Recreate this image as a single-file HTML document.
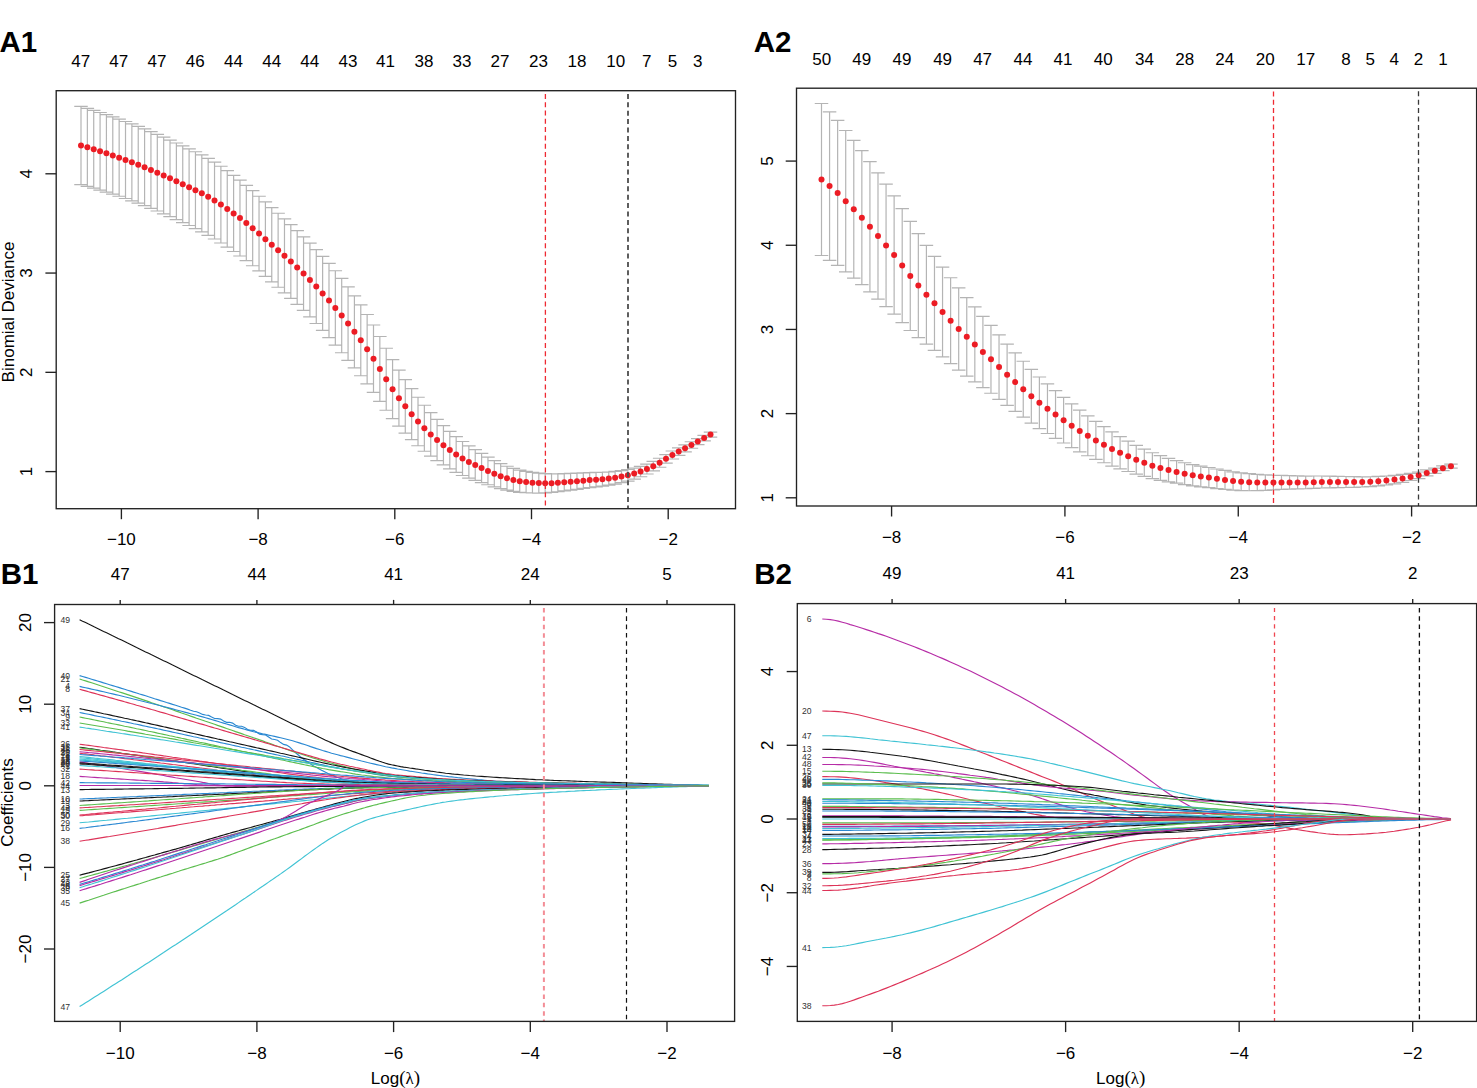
<!DOCTYPE html>
<html><head><meta charset="utf-8"><title>LASSO</title>
<style>html,body{margin:0;padding:0;background:#fff;width:1477px;height:1088px;overflow:hidden}svg{display:block}</style>
</head><body>
<svg width="1477" height="1088" viewBox="0 0 1477 1088" font-family="Liberation Sans, sans-serif">
<rect width="1477" height="1088" fill="#fff"/>
<text x="-0.5" y="52" font-size="29.5" text-anchor="start" fill="#000" font-weight="bold">A1</text>
<text x="753.8" y="52" font-size="29.5" text-anchor="start" fill="#000" font-weight="bold">A2</text>
<text x="0.8" y="584.4" font-size="29.5" text-anchor="start" fill="#000" font-weight="bold">B1</text>
<text x="754.2" y="584.2" font-size="29.5" text-anchor="start" fill="#000" font-weight="bold">B2</text>
<path d="M81 106.3V184.7M74.25 106.3h13.5M74.25 184.7h13.5M87.36 108.31V186.41M80.61 108.31h13.5M80.61 186.41h13.5M93.72 110.39V188.2M86.97 110.39h13.5M86.97 188.2h13.5M100.08 112.52V190.07M93.33 112.52h13.5M93.33 190.07h13.5M106.43 114.69V192.04M99.68 114.69h13.5M99.68 192.04h13.5M112.79 116.9V194.1M106.04 116.9h13.5M106.04 194.1h13.5M119.15 119.15V196.25M112.4 119.15h13.5M112.4 196.25h13.5M125.51 121.48V198.49M118.76 121.48h13.5M118.76 198.49h13.5M131.87 123.88V200.8M125.12 123.88h13.5M125.12 200.8h13.5M138.23 126.36V203.2M131.48 126.36h13.5M131.48 203.2h13.5M144.59 128.91V205.69M137.84 128.91h13.5M137.84 205.69h13.5M150.94 131.57V208.28M144.19 131.57h13.5M144.19 208.28h13.5M157.3 134.33V210.99M150.55 134.33h13.5M150.55 210.99h13.5M163.66 137.17V213.8M156.91 137.17h13.5M156.91 213.8h13.5M170.02 140.07V216.67M163.27 140.07h13.5M163.27 216.67h13.5M176.38 143V219.6M169.63 143h13.5M169.63 219.6h13.5M182.74 145.9V222.54M175.99 145.9h13.5M175.99 222.54h13.5M189.1 148.78V225.52M182.35 148.78h13.5M182.35 225.52h13.5M195.45 151.74V228.6M188.7 151.74h13.5M188.7 228.6h13.5M201.81 154.88V231.84M195.06 154.88h13.5M195.06 231.84h13.5M208.17 158.3V235.3M201.42 158.3h13.5M201.42 235.3h13.5M214.53 162.09V239.02M207.78 162.09h13.5M207.78 239.02h13.5M220.89 166.23V242.99M214.14 166.23h13.5M214.14 242.99h13.5M227.25 170.67V247.17M220.5 170.67h13.5M220.5 247.17h13.5M233.61 175.35V251.52M226.86 175.35h13.5M226.86 251.52h13.5M239.97 180.2V256M233.22 180.2h13.5M233.22 256h13.5M246.32 185.3V260.72M239.57 185.3h13.5M239.57 260.72h13.5M252.68 190.69V265.73M245.93 190.69h13.5M245.93 265.73h13.5M259.04 196.27V270.97M252.29 196.27h13.5M252.29 270.97h13.5M265.4 201.94V276.35M258.65 201.94h13.5M258.65 276.35h13.5M271.76 207.6V281.8M265.01 207.6h13.5M265.01 281.8h13.5M278.12 213.23V287.27M271.37 213.23h13.5M271.37 287.27h13.5M284.48 218.91V292.79M277.73 218.91h13.5M277.73 292.79h13.5M290.83 224.7V298.44M284.08 224.7h13.5M284.08 298.44h13.5M297.19 230.65V304.28M290.44 230.65h13.5M290.44 304.28h13.5M303.55 236.8V310.4M296.8 236.8h13.5M296.8 310.4h13.5M309.91 243.15V316.81M303.16 243.15h13.5M303.16 316.81h13.5M316.27 249.69V323.5M309.52 249.69h13.5M309.52 323.5h13.5M322.63 256.44V330.44M315.88 256.44h13.5M315.88 330.44h13.5M328.99 263.44V337.64M322.24 263.44h13.5M322.24 337.64h13.5M335.34 270.73V345.07M328.59 270.73h13.5M328.59 345.07h13.5M341.7 278.36V352.76M334.95 278.36h13.5M334.95 352.76h13.5M348.06 286.78V360.29M341.31 286.78h13.5M341.31 360.29h13.5M354.42 295.81V367.81M347.67 295.81h13.5M347.67 367.81h13.5M360.78 304.97V375.76M354.03 304.97h13.5M354.03 375.76h13.5M367.14 314.5V383.9M360.39 314.5h13.5M360.39 383.9h13.5M373.5 325V392.4M366.75 325h13.5M366.75 392.4h13.5M379.85 336.48V401.33M373.1 336.48h13.5M373.1 401.33h13.5M386.21 348.26V410.26M379.46 348.26h13.5M379.46 410.26h13.5M392.57 359.72V418.69M385.82 359.72h13.5M385.82 418.69h13.5M398.93 370.2V426.2M392.18 370.2h13.5M392.18 426.2h13.5M405.29 379.65V433.09M398.54 379.65h13.5M398.54 433.09h13.5M411.65 388.66V439.66M404.9 388.66h13.5M404.9 439.66h13.5M418.01 397.25V445.73M411.26 397.25h13.5M411.26 445.73h13.5M424.36 405.26V451.26M417.61 405.26h13.5M417.61 451.26h13.5M430.72 412.58V456.22M423.97 412.58h13.5M423.97 456.22h13.5M437.08 419.31V460.71M430.33 419.31h13.5M430.33 460.71h13.5M443.44 425.58V464.91M436.69 425.58h13.5M436.69 464.91h13.5M449.8 431.39V468.79M443.05 431.39h13.5M443.05 468.79h13.5M456.16 436.69V472.34M449.41 436.69h13.5M449.41 472.34h13.5M462.52 441.5V475.5M455.77 441.5h13.5M455.77 475.5h13.5M468.87 445.8V478.16M462.12 445.8h13.5M462.12 478.16h13.5M475.23 449.71V480.42M468.48 449.71h13.5M468.48 480.42h13.5M481.59 453.45V482.55M474.84 453.45h13.5M474.84 482.55h13.5M487.95 457.18V484.76M481.2 457.18h13.5M481.2 484.76h13.5M494.31 460.71V486.9M487.56 460.71h13.5M487.56 486.9h13.5M500.67 463.7V488.7M493.92 463.7h13.5M493.92 488.7h13.5M507.03 466.23V490.2M500.28 466.23h13.5M500.28 490.2h13.5M513.38 468.44V491.47M506.63 468.44h13.5M506.63 491.47h13.5M519.74 470.11V492.29M512.99 470.11h13.5M512.99 492.29h13.5M526.1 471.35V492.73M519.35 471.35h13.5M519.35 492.73h13.5M532.46 472.38V493M525.71 472.38h13.5M525.71 493h13.5M538.82 473.15V493.05M532.07 473.15h13.5M532.07 493.05h13.5M545.18 473.7V492.9M538.43 473.7h13.5M538.43 492.9h13.5M551.54 473.89V492.41M544.79 473.89h13.5M544.79 492.41h13.5M557.89 473.83V491.73M551.14 473.83h13.5M551.14 491.73h13.5M564.25 473.64V490.94M557.5 473.64h13.5M557.5 490.94h13.5M570.61 473.44V490.16M563.86 473.44h13.5M563.86 490.16h13.5M576.97 473.2V489.35M570.22 473.2h13.5M570.22 489.35h13.5M583.33 472.89V488.46M576.58 472.89h13.5M576.58 488.46h13.5M589.69 472.6V487.6M582.94 472.6h13.5M582.94 487.6h13.5M596.05 472.42V486.83M589.3 472.42h13.5M589.3 486.83h13.5M602.41 472.26V486.09M595.66 472.26h13.5M595.66 486.09h13.5M608.76 471.98V485.22M602.01 471.98h13.5M602.01 485.22h13.5M615.12 471.4V484.06M608.37 471.4h13.5M608.37 484.06h13.5M621.48 470.55V482.65M614.73 470.55h13.5M614.73 482.65h13.5M627.84 469.49V481.03M621.09 469.49h13.5M621.09 481.03h13.5M634.2 468.1V479.1M627.45 468.1h13.5M627.45 479.1h13.5M640.56 466.29V476.76M633.81 466.29h13.5M633.81 476.76h13.5M646.92 464.05V474.02M640.17 464.05h13.5M640.17 474.02h13.5M653.27 461.46V470.94M646.52 461.46h13.5M646.52 470.94h13.5M659.63 458.27V467.25M652.88 458.27h13.5M652.88 467.25h13.5M665.99 454.56V463.06M659.24 454.56h13.5M659.24 463.06h13.5M672.35 451V459M665.6 451h13.5M665.6 459h13.5M678.71 447.85V455.35M671.96 447.85h13.5M671.96 455.35h13.5M685.07 444.82V451.82M678.32 444.82h13.5M678.32 451.82h13.5M691.43 441.75V448.25M684.68 441.75h13.5M684.68 448.25h13.5M697.78 438.58V444.58M691.03 438.58h13.5M691.03 444.58h13.5M704.14 435.36V440.86M697.39 435.36h13.5M697.39 440.86h13.5M710.5 432.1V437.1M703.75 432.1h13.5M703.75 437.1h13.5" stroke="#b4b4b4" stroke-width="1.2" fill="none"/>
<g fill="#ec1c24"><circle cx="81" cy="145.5" r="3"/><circle cx="87.36" cy="147.36" r="3"/><circle cx="93.72" cy="149.29" r="3"/><circle cx="100.08" cy="151.29" r="3"/><circle cx="106.43" cy="153.37" r="3"/><circle cx="112.79" cy="155.5" r="3"/><circle cx="119.15" cy="157.7" r="3"/><circle cx="125.51" cy="159.98" r="3"/><circle cx="131.87" cy="162.34" r="3"/><circle cx="138.23" cy="164.78" r="3"/><circle cx="144.59" cy="167.3" r="3"/><circle cx="150.94" cy="169.92" r="3"/><circle cx="157.3" cy="172.66" r="3"/><circle cx="163.66" cy="175.48" r="3"/><circle cx="170.02" cy="178.37" r="3"/><circle cx="176.38" cy="181.3" r="3"/><circle cx="182.74" cy="184.22" r="3"/><circle cx="189.1" cy="187.15" r="3"/><circle cx="195.45" cy="190.17" r="3"/><circle cx="201.81" cy="193.36" r="3"/><circle cx="208.17" cy="196.8" r="3"/><circle cx="214.53" cy="200.55" r="3"/><circle cx="220.89" cy="204.61" r="3"/><circle cx="227.25" cy="208.92" r="3"/><circle cx="233.61" cy="213.43" r="3"/><circle cx="239.97" cy="218.1" r="3"/><circle cx="246.32" cy="223.01" r="3"/><circle cx="252.68" cy="228.21" r="3"/><circle cx="259.04" cy="233.62" r="3"/><circle cx="265.4" cy="239.14" r="3"/><circle cx="271.76" cy="244.7" r="3"/><circle cx="278.12" cy="250.25" r="3"/><circle cx="284.48" cy="255.85" r="3"/><circle cx="290.83" cy="261.57" r="3"/><circle cx="297.19" cy="267.47" r="3"/><circle cx="303.55" cy="273.6" r="3"/><circle cx="309.91" cy="279.98" r="3"/><circle cx="316.27" cy="286.59" r="3"/><circle cx="322.63" cy="293.44" r="3"/><circle cx="328.99" cy="300.54" r="3"/><circle cx="335.34" cy="307.9" r="3"/><circle cx="341.7" cy="315.56" r="3"/><circle cx="348.06" cy="323.53" r="3"/><circle cx="354.42" cy="331.81" r="3"/><circle cx="360.78" cy="340.37" r="3"/><circle cx="367.14" cy="349.2" r="3"/><circle cx="373.5" cy="358.7" r="3"/><circle cx="379.85" cy="368.91" r="3"/><circle cx="386.21" cy="379.26" r="3"/><circle cx="392.57" cy="389.21" r="3"/><circle cx="398.93" cy="398.2" r="3"/><circle cx="405.29" cy="406.37" r="3"/><circle cx="411.65" cy="414.16" r="3"/><circle cx="418.01" cy="421.49" r="3"/><circle cx="424.36" cy="428.26" r="3"/><circle cx="430.72" cy="434.4" r="3"/><circle cx="437.08" cy="440.01" r="3"/><circle cx="443.44" cy="445.25" r="3"/><circle cx="449.8" cy="450.09" r="3"/><circle cx="456.16" cy="454.51" r="3"/><circle cx="462.52" cy="458.5" r="3"/><circle cx="468.87" cy="461.98" r="3"/><circle cx="475.23" cy="465.07" r="3"/><circle cx="481.59" cy="468" r="3"/><circle cx="487.95" cy="470.97" r="3"/><circle cx="494.31" cy="473.81" r="3"/><circle cx="500.67" cy="476.2" r="3"/><circle cx="507.03" cy="478.21" r="3"/><circle cx="513.38" cy="479.96" r="3"/><circle cx="519.74" cy="481.2" r="3"/><circle cx="526.1" cy="482.04" r="3"/><circle cx="532.46" cy="482.69" r="3"/><circle cx="538.82" cy="483.1" r="3"/><circle cx="545.18" cy="483.3" r="3"/><circle cx="551.54" cy="483.15" r="3"/><circle cx="557.89" cy="482.78" r="3"/><circle cx="564.25" cy="482.29" r="3"/><circle cx="570.61" cy="481.8" r="3"/><circle cx="576.97" cy="481.27" r="3"/><circle cx="583.33" cy="480.68" r="3"/><circle cx="589.69" cy="480.1" r="3"/><circle cx="596.05" cy="479.63" r="3"/><circle cx="602.41" cy="479.17" r="3"/><circle cx="608.76" cy="478.6" r="3"/><circle cx="615.12" cy="477.73" r="3"/><circle cx="621.48" cy="476.6" r="3"/><circle cx="627.84" cy="475.26" r="3"/><circle cx="634.2" cy="473.6" r="3"/><circle cx="640.56" cy="471.53" r="3"/><circle cx="646.92" cy="469.03" r="3"/><circle cx="653.27" cy="466.2" r="3"/><circle cx="659.63" cy="462.76" r="3"/><circle cx="665.99" cy="458.81" r="3"/><circle cx="672.35" cy="455" r="3"/><circle cx="678.71" cy="451.6" r="3"/><circle cx="685.07" cy="448.32" r="3"/><circle cx="691.43" cy="445" r="3"/><circle cx="697.78" cy="441.58" r="3"/><circle cx="704.14" cy="438.11" r="3"/><circle cx="710.5" cy="434.6" r="3"/></g>
<line x1="545.4" y1="93.9" x2="545.4" y2="508.7" stroke="#ee2a33" stroke-width="1.3" stroke-dasharray="5 3.3"/>
<line x1="628" y1="93.9" x2="628" y2="508.7" stroke="#4d4d4d" stroke-width="1.8" stroke-dasharray="5 3.4"/>
<rect x="56.2" y="90.7" width="679.3" height="418" fill="none" stroke="#222" stroke-width="1.35"/>
<line x1="121.4" y1="508.7" x2="121.4" y2="519.2" stroke="#222" stroke-width="1.35"/>
<text x="121.4" y="545" font-size="17" text-anchor="middle" fill="#000">−10</text>
<line x1="258.1" y1="508.7" x2="258.1" y2="519.2" stroke="#222" stroke-width="1.35"/>
<text x="258.1" y="545" font-size="17" text-anchor="middle" fill="#000">−8</text>
<line x1="394.8" y1="508.7" x2="394.8" y2="519.2" stroke="#222" stroke-width="1.35"/>
<text x="394.8" y="545" font-size="17" text-anchor="middle" fill="#000">−6</text>
<line x1="531.5" y1="508.7" x2="531.5" y2="519.2" stroke="#222" stroke-width="1.35"/>
<text x="531.5" y="545" font-size="17" text-anchor="middle" fill="#000">−4</text>
<line x1="668.2" y1="508.7" x2="668.2" y2="519.2" stroke="#222" stroke-width="1.35"/>
<text x="668.2" y="545" font-size="17" text-anchor="middle" fill="#000">−2</text>
<line x1="45.4" y1="471.6" x2="56.2" y2="471.6" stroke="#222" stroke-width="1.35"/>
<text transform="translate(32,471.6) rotate(-90)" font-size="17" text-anchor="middle" fill="#000">1</text>
<line x1="45.4" y1="372.33" x2="56.2" y2="372.33" stroke="#222" stroke-width="1.35"/>
<text transform="translate(32,372.33) rotate(-90)" font-size="17" text-anchor="middle" fill="#000">2</text>
<line x1="45.4" y1="273.06" x2="56.2" y2="273.06" stroke="#222" stroke-width="1.35"/>
<text transform="translate(32,273.06) rotate(-90)" font-size="17" text-anchor="middle" fill="#000">3</text>
<line x1="45.4" y1="173.79" x2="56.2" y2="173.79" stroke="#222" stroke-width="1.35"/>
<text transform="translate(32,173.79) rotate(-90)" font-size="17" text-anchor="middle" fill="#000">4</text>
<text transform="translate(14,312) rotate(-90)" font-size="17" text-anchor="middle" fill="#000">Binomial Deviance</text>
<text x="80.7" y="66.9" font-size="17" text-anchor="middle" fill="#000">47</text>
<text x="118.8" y="66.9" font-size="17" text-anchor="middle" fill="#000">47</text>
<text x="156.9" y="66.9" font-size="17" text-anchor="middle" fill="#000">47</text>
<text x="195.2" y="66.9" font-size="17" text-anchor="middle" fill="#000">46</text>
<text x="233.4" y="66.9" font-size="17" text-anchor="middle" fill="#000">44</text>
<text x="271.7" y="66.9" font-size="17" text-anchor="middle" fill="#000">44</text>
<text x="309.8" y="66.9" font-size="17" text-anchor="middle" fill="#000">44</text>
<text x="348" y="66.9" font-size="17" text-anchor="middle" fill="#000">43</text>
<text x="385.5" y="66.9" font-size="17" text-anchor="middle" fill="#000">41</text>
<text x="424" y="66.9" font-size="17" text-anchor="middle" fill="#000">38</text>
<text x="462" y="66.9" font-size="17" text-anchor="middle" fill="#000">33</text>
<text x="500" y="66.9" font-size="17" text-anchor="middle" fill="#000">27</text>
<text x="538.5" y="66.9" font-size="17" text-anchor="middle" fill="#000">23</text>
<text x="577" y="66.9" font-size="17" text-anchor="middle" fill="#000">18</text>
<text x="615.8" y="66.9" font-size="17" text-anchor="middle" fill="#000">10</text>
<text x="646.7" y="66.9" font-size="17" text-anchor="middle" fill="#000">7</text>
<text x="672.4" y="66.9" font-size="17" text-anchor="middle" fill="#000">5</text>
<text x="697.8" y="66.9" font-size="17" text-anchor="middle" fill="#000">3</text>
<path d="M821.5 103.5V255.5M814.75 103.5h13.5M814.75 255.5h13.5M829.57 111.82V260.38M822.82 111.82h13.5M822.82 260.38h13.5M837.64 120.38V265.42M830.89 120.38h13.5M830.89 265.42h13.5M845.71 130.48V271.92M838.96 130.48h13.5M838.96 271.92h13.5M853.78 140.32V278.08M847.03 140.32h13.5M847.03 278.08h13.5M861.85 150.7V284.7M855.1 150.7h13.5M855.1 284.7h13.5M869.92 161.7V291.9M863.17 161.7h13.5M863.17 291.9h13.5M877.99 172.81V299.19M871.24 172.81h13.5M871.24 299.19h13.5M886.06 184.18V306.62M879.31 184.18h13.5M879.31 306.62h13.5M894.13 195.84V314.16M887.38 195.84h13.5M887.38 314.16h13.5M902.2 208.6V322.6M895.45 208.6h13.5M895.45 322.6h13.5M910.27 221.31V330.49M903.52 221.31h13.5M903.52 330.49h13.5M918.34 233.63V337.57M911.59 233.63h13.5M911.59 337.57h13.5M926.41 245.34V344.06M919.66 245.34h13.5M919.66 344.06h13.5M934.48 256.3V350.3M927.73 256.3h13.5M927.73 350.3h13.5M942.55 267.09V356.91M935.8 267.09h13.5M935.8 356.91h13.5M950.62 277.76V363.64M943.87 277.76h13.5M943.87 363.64h13.5M958.69 287.92V370.08M951.94 287.92h13.5M951.94 370.08h13.5M966.76 297.53V376.07M960.01 297.53h13.5M960.01 376.07h13.5M974.83 306.9V381.9M968.08 306.9h13.5M968.08 381.9h13.5M982.9 316.29V387.71M976.15 316.29h13.5M976.15 387.71h13.5M990.97 325.37V393.23M984.22 325.37h13.5M984.22 393.23h13.5M999.04 334.89V399.31M992.29 334.89h13.5M992.29 399.31h13.5M1007.11 344.08V405.32M1000.36 344.08h13.5M1000.36 405.32h13.5M1015.18 352.9V411.3M1008.43 352.9h13.5M1008.43 411.3h13.5M1023.25 361.24V417.16M1016.5 361.24h13.5M1016.5 417.16h13.5M1031.32 369.46V423.14M1024.57 369.46h13.5M1024.57 423.14h13.5M1039.39 377V428.6M1032.64 377h13.5M1032.64 428.6h13.5M1047.46 383.9V433.5M1040.71 383.9h13.5M1040.71 433.5h13.5M1055.53 390.7V438.3M1048.78 390.7h13.5M1048.78 438.3h13.5M1063.6 397.4V443M1056.85 397.4h13.5M1056.85 443h13.5M1071.67 403.87V447.53M1064.92 403.87h13.5M1064.92 447.53h13.5M1079.74 410.12V451.88M1072.99 410.12h13.5M1072.99 451.88h13.5M1087.81 415.86V455.74M1081.06 415.86h13.5M1081.06 455.74h13.5M1095.88 421.4V459.4M1089.13 421.4h13.5M1089.13 459.4h13.5M1103.95 426.66V462.74M1097.2 426.66h13.5M1097.2 462.74h13.5M1112.02 431.94V466.06M1105.27 431.94h13.5M1105.27 466.06h13.5M1120.09 436.7V468.9M1113.34 436.7h13.5M1113.34 468.9h13.5M1128.16 441.1V471.5M1121.41 441.1h13.5M1121.41 471.5h13.5M1136.23 445.3V474.1M1129.48 445.3h13.5M1129.48 474.1h13.5M1144.3 449.03V476.37M1137.55 449.03h13.5M1137.55 476.37h13.5M1152.37 452.73V478.67M1145.62 452.73h13.5M1145.62 478.67h13.5M1160.44 455.67V480.33M1153.69 455.67h13.5M1153.69 480.33h13.5M1168.51 458.34V481.86M1161.76 458.34h13.5M1161.76 481.86h13.5M1176.58 460.6V483.2M1169.83 460.6h13.5M1169.83 483.2h13.5M1184.65 462.77V484.63M1177.9 462.77h13.5M1177.9 484.63h13.5M1192.72 464.67V485.93M1185.97 464.67h13.5M1185.97 485.93h13.5M1200.79 466.14V486.86M1194.04 466.14h13.5M1194.04 486.86h13.5M1208.86 467.51V487.69M1202.11 467.51h13.5M1202.11 487.69h13.5M1216.93 469V488.6M1210.18 469h13.5M1210.18 488.6h13.5M1225 470.41V489.39M1218.25 470.41h13.5M1218.25 489.39h13.5M1233.07 471.81V490.19M1226.32 471.81h13.5M1226.32 490.19h13.5M1241.14 472.83V490.57M1234.39 472.83h13.5M1234.39 490.57h13.5M1249.21 473.65V490.75M1242.46 473.65h13.5M1242.46 490.75h13.5M1257.28 474.3V490.7M1250.53 474.3h13.5M1250.53 490.7h13.5M1265.35 474.81V490.39M1258.6 474.81h13.5M1258.6 490.39h13.5M1273.42 475.25V489.95M1266.67 475.25h13.5M1266.67 489.95h13.5M1281.49 475.4V489.4M1274.74 475.4h13.5M1274.74 489.4h13.5M1289.56 475.65V489.15M1282.81 475.65h13.5M1282.81 489.15h13.5M1297.63 475.86V488.94M1290.88 475.86h13.5M1290.88 488.94h13.5M1305.7 476.05V488.75M1298.95 476.05h13.5M1298.95 488.75h13.5M1313.77 476.02V488.38M1307.02 476.02h13.5M1307.02 488.38h13.5M1321.84 476V488M1315.09 476h13.5M1315.09 488h13.5M1329.91 476.18V487.82M1323.16 476.18h13.5M1323.16 487.82h13.5M1337.98 476.35V487.65M1331.23 476.35h13.5M1331.23 487.65h13.5M1346.05 476.52V487.48M1339.3 476.52h13.5M1339.3 487.48h13.5M1354.12 476.7V487.3M1347.37 476.7h13.5M1347.37 487.3h13.5M1362.19 476.78V487.01M1355.44 476.78h13.5M1355.44 487.01h13.5M1370.26 476.77V486.63M1363.51 476.77h13.5M1363.51 486.63h13.5M1378.33 476.47V485.93M1371.58 476.47h13.5M1371.58 485.93h13.5M1386.4 476V485M1379.65 476h13.5M1379.65 485h13.5M1394.47 475.36V483.84M1387.72 475.36h13.5M1387.72 483.84h13.5M1402.54 474.46V482.34M1395.79 474.46h13.5M1395.79 482.34h13.5M1410.61 473.28V480.52M1403.86 473.28h13.5M1403.86 480.52h13.5M1418.68 472V478.6M1411.93 472h13.5M1411.93 478.6h13.5M1426.75 469.92V475.88M1420 469.92h13.5M1420 475.88h13.5M1434.82 468.04V473.36M1428.07 468.04h13.5M1428.07 473.36h13.5M1442.89 465.97V470.63M1436.14 465.97h13.5M1436.14 470.63h13.5M1450.96 464.2V468.2M1444.21 464.2h13.5M1444.21 468.2h13.5" stroke="#b4b4b4" stroke-width="1.2" fill="none"/>
<g fill="#ec1c24"><circle cx="821.5" cy="179.5" r="3"/><circle cx="829.57" cy="186.1" r="3"/><circle cx="837.64" cy="192.9" r="3"/><circle cx="845.71" cy="201.2" r="3"/><circle cx="853.78" cy="209.2" r="3"/><circle cx="861.85" cy="217.7" r="3"/><circle cx="869.92" cy="226.8" r="3"/><circle cx="877.99" cy="236" r="3"/><circle cx="886.06" cy="245.4" r="3"/><circle cx="894.13" cy="255" r="3"/><circle cx="902.2" cy="265.6" r="3"/><circle cx="910.27" cy="275.9" r="3"/><circle cx="918.34" cy="285.6" r="3"/><circle cx="926.41" cy="294.7" r="3"/><circle cx="934.48" cy="303.3" r="3"/><circle cx="942.55" cy="312" r="3"/><circle cx="950.62" cy="320.7" r="3"/><circle cx="958.69" cy="329" r="3"/><circle cx="966.76" cy="336.8" r="3"/><circle cx="974.83" cy="344.4" r="3"/><circle cx="982.9" cy="352" r="3"/><circle cx="990.97" cy="359.3" r="3"/><circle cx="999.04" cy="367.1" r="3"/><circle cx="1007.11" cy="374.7" r="3"/><circle cx="1015.18" cy="382.1" r="3"/><circle cx="1023.25" cy="389.2" r="3"/><circle cx="1031.32" cy="396.3" r="3"/><circle cx="1039.39" cy="402.8" r="3"/><circle cx="1047.46" cy="408.7" r="3"/><circle cx="1055.53" cy="414.5" r="3"/><circle cx="1063.6" cy="420.2" r="3"/><circle cx="1071.67" cy="425.7" r="3"/><circle cx="1079.74" cy="431" r="3"/><circle cx="1087.81" cy="435.8" r="3"/><circle cx="1095.88" cy="440.4" r="3"/><circle cx="1103.95" cy="444.7" r="3"/><circle cx="1112.02" cy="449" r="3"/><circle cx="1120.09" cy="452.8" r="3"/><circle cx="1128.16" cy="456.3" r="3"/><circle cx="1136.23" cy="459.7" r="3"/><circle cx="1144.3" cy="462.7" r="3"/><circle cx="1152.37" cy="465.7" r="3"/><circle cx="1160.44" cy="468" r="3"/><circle cx="1168.51" cy="470.1" r="3"/><circle cx="1176.58" cy="471.9" r="3"/><circle cx="1184.65" cy="473.7" r="3"/><circle cx="1192.72" cy="475.3" r="3"/><circle cx="1200.79" cy="476.5" r="3"/><circle cx="1208.86" cy="477.6" r="3"/><circle cx="1216.93" cy="478.8" r="3"/><circle cx="1225" cy="479.9" r="3"/><circle cx="1233.07" cy="481" r="3"/><circle cx="1241.14" cy="481.7" r="3"/><circle cx="1249.21" cy="482.2" r="3"/><circle cx="1257.28" cy="482.5" r="3"/><circle cx="1265.35" cy="482.6" r="3"/><circle cx="1273.42" cy="482.6" r="3"/><circle cx="1281.49" cy="482.4" r="3"/><circle cx="1289.56" cy="482.4" r="3"/><circle cx="1297.63" cy="482.4" r="3"/><circle cx="1305.7" cy="482.4" r="3"/><circle cx="1313.77" cy="482.2" r="3"/><circle cx="1321.84" cy="482" r="3"/><circle cx="1329.91" cy="482" r="3"/><circle cx="1337.98" cy="482" r="3"/><circle cx="1346.05" cy="482" r="3"/><circle cx="1354.12" cy="482" r="3"/><circle cx="1362.19" cy="481.9" r="3"/><circle cx="1370.26" cy="481.7" r="3"/><circle cx="1378.33" cy="481.2" r="3"/><circle cx="1386.4" cy="480.5" r="3"/><circle cx="1394.47" cy="479.6" r="3"/><circle cx="1402.54" cy="478.4" r="3"/><circle cx="1410.61" cy="476.9" r="3"/><circle cx="1418.68" cy="475.3" r="3"/><circle cx="1426.75" cy="472.9" r="3"/><circle cx="1434.82" cy="470.7" r="3"/><circle cx="1442.89" cy="468.3" r="3"/><circle cx="1450.96" cy="466.2" r="3"/></g>
<line x1="1273.5" y1="91.4" x2="1273.5" y2="506" stroke="#ee2a33" stroke-width="1.3" stroke-dasharray="5 3.3"/>
<line x1="1418.5" y1="91.3" x2="1418.5" y2="506" stroke="#3a3a3a" stroke-width="1.3" stroke-dasharray="5 3.4"/>
<rect x="796.5" y="88.2" width="680.1" height="417.8" fill="none" stroke="#222" stroke-width="1.35"/>
<line x1="891.58" y1="506" x2="891.58" y2="516.5" stroke="#222" stroke-width="1.35"/>
<text x="891.58" y="542.5" font-size="17" text-anchor="middle" fill="#000">−8</text>
<line x1="1064.92" y1="506" x2="1064.92" y2="516.5" stroke="#222" stroke-width="1.35"/>
<text x="1064.92" y="542.5" font-size="17" text-anchor="middle" fill="#000">−6</text>
<line x1="1238.26" y1="506" x2="1238.26" y2="516.5" stroke="#222" stroke-width="1.35"/>
<text x="1238.26" y="542.5" font-size="17" text-anchor="middle" fill="#000">−4</text>
<line x1="1411.6" y1="506" x2="1411.6" y2="516.5" stroke="#222" stroke-width="1.35"/>
<text x="1411.6" y="542.5" font-size="17" text-anchor="middle" fill="#000">−2</text>
<line x1="785.7" y1="497.8" x2="796.5" y2="497.8" stroke="#222" stroke-width="1.35"/>
<text transform="translate(773,497.8) rotate(-90)" font-size="17" text-anchor="middle" fill="#000">1</text>
<line x1="785.7" y1="413.62" x2="796.5" y2="413.62" stroke="#222" stroke-width="1.35"/>
<text transform="translate(773,413.62) rotate(-90)" font-size="17" text-anchor="middle" fill="#000">2</text>
<line x1="785.7" y1="329.44" x2="796.5" y2="329.44" stroke="#222" stroke-width="1.35"/>
<text transform="translate(773,329.44) rotate(-90)" font-size="17" text-anchor="middle" fill="#000">3</text>
<line x1="785.7" y1="245.26" x2="796.5" y2="245.26" stroke="#222" stroke-width="1.35"/>
<text transform="translate(773,245.26) rotate(-90)" font-size="17" text-anchor="middle" fill="#000">4</text>
<line x1="785.7" y1="161.08" x2="796.5" y2="161.08" stroke="#222" stroke-width="1.35"/>
<text transform="translate(773,161.08) rotate(-90)" font-size="17" text-anchor="middle" fill="#000">5</text>
<text x="821.7" y="64.6" font-size="17" text-anchor="middle" fill="#000">50</text>
<text x="861.8" y="64.6" font-size="17" text-anchor="middle" fill="#000">49</text>
<text x="902" y="64.6" font-size="17" text-anchor="middle" fill="#000">49</text>
<text x="942.6" y="64.6" font-size="17" text-anchor="middle" fill="#000">49</text>
<text x="982.6" y="64.6" font-size="17" text-anchor="middle" fill="#000">47</text>
<text x="1023" y="64.6" font-size="17" text-anchor="middle" fill="#000">44</text>
<text x="1063" y="64.6" font-size="17" text-anchor="middle" fill="#000">41</text>
<text x="1103.2" y="64.6" font-size="17" text-anchor="middle" fill="#000">40</text>
<text x="1144.4" y="64.6" font-size="17" text-anchor="middle" fill="#000">34</text>
<text x="1184.7" y="64.6" font-size="17" text-anchor="middle" fill="#000">28</text>
<text x="1224.8" y="64.6" font-size="17" text-anchor="middle" fill="#000">24</text>
<text x="1265.3" y="64.6" font-size="17" text-anchor="middle" fill="#000">20</text>
<text x="1305.8" y="64.6" font-size="17" text-anchor="middle" fill="#000">17</text>
<text x="1345.9" y="64.6" font-size="17" text-anchor="middle" fill="#000">8</text>
<text x="1370.3" y="64.6" font-size="17" text-anchor="middle" fill="#000">5</text>
<text x="1394.2" y="64.6" font-size="17" text-anchor="middle" fill="#000">4</text>
<text x="1418.4" y="64.6" font-size="17" text-anchor="middle" fill="#000">2</text>
<text x="1442.9" y="64.6" font-size="17" text-anchor="middle" fill="#000">1</text>
<g><path d="M79.6 619.7 L82.6 621.2 L85.6 622.6 L88.6 624.1 L91.6 625.5 L94.6 627 L97.6 628.4 L100.6 629.9 L103.6 631.4 L106.6 632.8 L109.6 634.3 L112.6 635.8 L115.6 637.2 L118.6 638.7 L121.6 640.1 L124.6 641.6 L127.6 643.1 L130.6 644.5 L133.6 646 L136.6 647.5 L139.6 648.9 L142.6 650.4 L145.6 651.9 L148.6 653.3 L151.6 654.8 L154.6 656.2 L157.6 657.7 L160.6 659.2 L163.6 660.7 L166.6 662.1 L169.6 663.6 L172.6 665.1 L175.6 666.5 L178.6 668 L181.6 669.5 L184.6 670.9 L187.6 672.4 L190.6 673.9 L193.6 675.4 L196.6 676.8 L199.6 678.3 L202.6 679.8 L205.6 681.2 L208.6 682.7 L211.6 684.2 L214.6 685.7 L217.6 687.1 L220.6 688.6 L223.6 690.1 L226.6 691.5 L229.6 693 L232.6 694.5 L235.6 695.9 L238.6 697.4 L241.6 698.9 L244.6 700.4 L247.6 701.8 L250.6 703.3 L253.6 704.8 L256.6 706.2 L259.6 707.7 L262.6 709.2 L265.6 710.6 L268.6 712.1 L271.6 713.6 L274.6 715.1 L277.6 716.5 L280.6 718 L283.6 719.5 L286.6 720.9 L289.6 722.4 L292.6 723.9 L295.6 725.3 L298.6 726.8 L301.6 728.3 L304.6 729.8 L307.6 731.3 L310.6 732.8 L313.6 734.3 L316.6 735.8 L319.6 737.3 L322.6 738.7 L325.6 740.2 L328.6 741.6 L331.6 742.9 L334.6 744.2 L337.6 745.5 L340.6 746.7 L343.6 747.9 L346.6 749.1 L349.6 750.3 L352.6 751.4 L355.6 752.4 L358.6 753.5 L361.6 754.6 L364.6 755.7 L367.6 756.8 L370.6 758 L373.6 759.1 L376.6 760.2 L379.6 761.3 L382.6 762.3 L385.6 763.2 L388.6 764.1 L391.6 764.8 L394.6 765.4 L397.6 766 L400.6 766.6 L403.6 767.1 L406.6 767.5 L409.6 768 L412.6 768.4 L415.6 768.9 L418.6 769.3 L421.6 769.7 L424.6 770.2 L427.6 770.6 L430.6 771.1 L433.6 771.5 L436.6 772 L439.6 772.4 L442.6 772.8 L445.6 773.2 L448.6 773.5 L451.6 773.9 L454.6 774.2 L457.6 774.4 L460.6 774.7 L463.6 775 L466.6 775.2 L469.6 775.5 L472.6 775.7 L475.6 776 L478.6 776.2 L481.6 776.4 L484.6 776.6 L487.6 776.8 L490.6 777 L493.6 777.2 L496.6 777.4 L499.6 777.6 L502.6 777.8 L505.6 777.9 L508.6 778.1 L511.6 778.3 L514.6 778.5 L517.6 778.6 L520.6 778.8 L523.6 778.9 L526.6 779.1 L529.6 779.3 L532.6 779.4 L535.6 779.6 L538.6 779.7 L541.6 779.8 L544.6 780 L547.6 780.1 L550.6 780.2 L553.6 780.4 L556.6 780.5 L559.6 780.6 L562.6 780.7 L565.6 780.8 L568.6 780.9 L571.6 781 L574.6 781.1 L577.6 781.3 L580.6 781.4 L583.6 781.5 L586.6 781.6 L589.6 781.7 L592.6 781.8 L595.6 781.9 L598.6 782 L601.6 782.1 L604.6 782.1 L607.6 782.2 L610.6 782.3 L613.6 782.4 L616.6 782.5 L619.6 782.6 L622.6 782.7 L625.6 782.8 L628.6 783 L631.6 783.1 L634.6 783.2 L637.6 783.3 L640.6 783.4 L643.6 783.5 L646.6 783.6 L649.6 783.7 L652.6 783.8 L655.6 783.9 L658.6 784 L661.6 784.1 L664.6 784.2 L667.6 784.3 L670.6 784.4 L673.6 784.5 L676.6 784.6 L679.6 784.8 L682.6 784.9 L685.6 785 L688.6 785.1 L691.6 785.2 L694.6 785.3 L697.6 785.4 L700.6 785.5 L703.6 785.6 L706.6 785.7 L709 785.8" stroke="#141414" stroke-width="1.15" fill="none"/><path d="M79.6 1006.6 L82.6 1004.7 L85.6 1002.8 L88.6 1000.9 L91.6 999 L94.6 997.1 L97.6 995.2 L100.6 993.3 L103.6 991.4 L106.6 989.5 L109.6 987.6 L112.6 985.6 L115.6 983.7 L118.6 981.8 L121.6 979.9 L124.6 977.9 L127.6 976 L130.6 974 L133.6 972.1 L136.6 970.2 L139.6 968.2 L142.6 966.3 L145.6 964.3 L148.6 962.4 L151.6 960.4 L154.6 958.4 L157.6 956.5 L160.6 954.5 L163.6 952.6 L166.6 950.6 L169.6 948.6 L172.6 946.6 L175.6 944.7 L178.6 942.7 L181.6 940.7 L184.6 938.7 L187.6 936.7 L190.6 934.8 L193.6 932.8 L196.6 930.8 L199.6 928.8 L202.6 926.8 L205.6 924.8 L208.6 922.8 L211.6 920.8 L214.6 918.8 L217.6 916.8 L220.6 914.8 L223.6 912.8 L226.6 910.8 L229.6 908.7 L232.6 906.7 L235.6 904.7 L238.6 902.6 L241.6 900.6 L244.6 898.6 L247.6 896.5 L250.6 894.5 L253.6 892.4 L256.6 890.4 L259.6 888.3 L262.6 886.3 L265.6 884.2 L268.6 882.1 L271.6 880.1 L274.6 878 L277.6 875.9 L280.6 873.9 L283.6 871.8 L286.6 869.6 L289.6 867.5 L292.6 865.3 L295.6 863 L298.6 860.8 L301.6 858.6 L304.6 856.3 L307.6 854.1 L310.6 851.9 L313.6 849.7 L316.6 847.6 L319.6 845.5 L322.6 843.4 L325.6 841.5 L328.6 839.5 L331.6 837.7 L334.6 835.9 L337.6 834.3 L340.6 832.6 L343.6 831 L346.6 829.4 L349.6 827.8 L352.6 826.3 L355.6 824.8 L358.6 823.5 L361.6 822.2 L364.6 820.9 L367.6 819.8 L370.6 818.8 L373.6 817.9 L376.6 817 L379.6 816.2 L382.6 815.4 L385.6 814.7 L388.6 814 L391.6 813.3 L394.6 812.6 L397.6 812 L400.6 811.3 L403.6 810.6 L406.6 809.9 L409.6 809.2 L412.6 808.5 L415.6 807.9 L418.6 807.2 L421.6 806.5 L424.6 805.9 L427.6 805.3 L430.6 804.7 L433.6 804.1 L436.6 803.5 L439.6 803 L442.6 802.4 L445.6 802 L448.6 801.5 L451.6 801.1 L454.6 800.7 L457.6 800.3 L460.6 799.9 L463.6 799.6 L466.6 799.2 L469.6 798.9 L472.6 798.6 L475.6 798.3 L478.6 798 L481.6 797.7 L484.6 797.4 L487.6 797.1 L490.6 796.8 L493.6 796.6 L496.6 796.3 L499.6 796 L502.6 795.8 L505.6 795.5 L508.6 795.3 L511.6 795 L514.6 794.8 L517.6 794.6 L520.6 794.4 L523.6 794.1 L526.6 793.9 L529.6 793.7 L532.6 793.5 L535.6 793.3 L538.6 793.1 L541.6 792.9 L544.6 792.8 L547.6 792.6 L550.6 792.4 L553.6 792.2 L556.6 792.1 L559.6 791.9 L562.6 791.7 L565.6 791.6 L568.6 791.4 L571.6 791.2 L574.6 791.1 L577.6 790.9 L580.6 790.8 L583.6 790.6 L586.6 790.5 L589.6 790.4 L592.6 790.2 L595.6 790.1 L598.6 789.9 L601.6 789.8 L604.6 789.7 L607.6 789.5 L610.6 789.4 L613.6 789.3 L616.6 789.2 L619.6 789 L622.6 788.9 L625.6 788.8 L628.6 788.7 L631.6 788.5 L634.6 788.4 L637.6 788.3 L640.6 788.2 L643.6 788.1 L646.6 788 L649.6 787.9 L652.6 787.7 L655.6 787.6 L658.6 787.5 L661.6 787.4 L664.6 787.3 L667.6 787.2 L670.6 787.1 L673.6 787 L676.6 786.9 L679.6 786.8 L682.6 786.7 L685.6 786.6 L688.6 786.5 L691.6 786.4 L694.6 786.3 L697.6 786.2 L700.6 786.1 L703.6 786 L706.6 785.9 L709 785.8" stroke="#40c3d4" stroke-width="1.15" fill="none"/><path d="M79.6 675.6 L82.6 676.5 L85.6 677.4 L88.6 678.3 L91.6 679.2 L94.6 680.1 L97.6 681 L100.6 681.9 L103.6 682.9 L106.6 683.8 L109.6 684.7 L112.6 685.6 L115.6 686.5 L118.6 687.4 L121.6 688.4 L124.6 689.3 L127.6 690.2 L130.6 691.1 L133.6 692.1 L136.6 693 L139.6 694 L142.6 694.9 L145.6 695.8 L148.6 696.8 L151.6 697.7 L154.6 698.7 L157.6 699.6 L160.6 700.6 L163.6 701.5 L166.6 702.5 L169.6 703.4 L172.6 704.4 L175.6 705.3 L178.6 706.3 L181.6 707.3 L184.6 708.1 L187.6 709.1 L190.6 710.3 L193.6 711.2 L196.6 711.8 L199.6 713 L202.6 714.4 L205.6 715 L208.6 715.4 L211.6 717 L214.6 718.5 L217.6 718.6 L220.6 719.1 L223.6 721.1 L226.6 722.4 L229.6 722.3 L232.6 723.1 L235.6 725.2 L238.6 726.2 L241.6 726.2 L244.6 727.4 L247.6 729.5 L250.6 730.3 L253.6 730.4 L256.6 732 L259.6 734.1 L262.6 734.6 L265.6 735 L268.6 737 L271.6 739 L274.6 739.5 L277.6 740.3 L280.6 742.6 L283.6 744.4 L286.6 745.1 L289.6 746.9 L292.6 749.9 L295.6 752.7 L298.6 755.2 L301.6 757.7 L304.6 760.1 L307.6 762.1 L310.6 764 L313.6 765.9 L316.6 767.6 L319.6 769.3 L322.6 770.8 L325.6 772.3 L328.6 773.8 L331.6 775.1 L334.6 776.4 L337.6 777.5 L340.6 778.5 L343.6 779.5 L346.6 780.4 L349.6 781.3 L352.6 782.1 L355.6 782.7 L358.6 783.2 L361.6 783.5 L364.6 783.8 L367.6 784 L370.6 784.2 L373.6 784.4 L376.6 784.6 L379.6 784.8 L382.6 784.9 L385.6 785.1 L388.6 785.2 L391.6 785.3 L394.6 785.3 L397.6 785.4 L400.6 785.4 L403.6 785.4 L406.6 785.4 L409.6 785.4 L412.6 785.4 L415.6 785.4 L418.6 785.5 L421.6 785.5 L424.6 785.5 L427.6 785.5 L430.6 785.5 L433.6 785.5 L436.6 785.5 L439.6 785.5 L442.6 785.5 L445.6 785.5 L448.6 785.5 L451.6 785.5 L454.6 785.6 L457.6 785.6 L460.6 785.6 L463.6 785.6 L466.6 785.6 L469.6 785.6 L472.6 785.6 L475.6 785.6 L478.6 785.6 L481.6 785.6 L484.6 785.6 L487.6 785.6 L490.6 785.6 L493.6 785.6 L496.6 785.6 L499.6 785.6 L502.6 785.7 L505.6 785.7 L508.6 785.7 L511.6 785.7 L514.6 785.7 L517.6 785.7 L520.6 785.7 L523.6 785.7 L526.6 785.7 L529.6 785.7 L532.6 785.7 L535.6 785.7 L538.6 785.7 L541.6 785.7 L544.6 785.7 L547.6 785.7 L550.6 785.7 L553.6 785.7 L556.6 785.7 L559.6 785.7 L562.6 785.7 L565.6 785.7 L568.6 785.7 L571.6 785.7 L574.6 785.7 L577.6 785.8 L580.6 785.8 L583.6 785.8 L586.6 785.8 L589.6 785.8 L592.6 785.8 L595.6 785.8 L598.6 785.8 L601.6 785.8 L604.6 785.8 L607.6 785.8 L610.6 785.8 L613.6 785.8 L616.6 785.8 L619.6 785.8 L622.6 785.8 L625.6 785.8 L628.6 785.8 L631.6 785.8 L634.6 785.8 L637.6 785.8 L640.6 785.8 L643.6 785.8 L646.6 785.8 L649.6 785.8 L652.6 785.8 L655.6 785.8 L658.6 785.8 L661.6 785.8 L664.6 785.8 L667.6 785.8 L670.6 785.8 L673.6 785.8 L676.6 785.8 L679.6 785.8 L682.6 785.8 L685.6 785.8 L688.6 785.8 L691.6 785.8 L694.6 785.8 L697.6 785.8 L700.6 785.8 L703.6 785.8 L706.6 785.8 L709 785.8" stroke="#2a88d2" stroke-width="1.15" fill="none"/><path d="M79.6 679 L82.6 680 L85.6 680.9 L88.6 681.9 L91.6 682.8 L94.6 683.8 L97.6 684.8 L100.6 685.8 L103.6 686.7 L106.6 687.7 L109.6 688.7 L112.6 689.7 L115.6 690.7 L118.6 691.7 L121.6 692.6 L124.6 693.6 L127.6 694.6 L130.6 695.6 L133.6 696.6 L136.6 697.6 L139.6 698.6 L142.6 699.6 L145.6 700.6 L148.6 701.6 L151.6 702.7 L154.6 703.7 L157.6 704.7 L160.6 705.7 L163.6 706.7 L166.6 707.8 L169.6 708.8 L172.6 709.8 L175.6 710.9 L178.6 711.9 L181.6 713 L184.6 714 L187.6 715 L190.6 716.1 L193.6 717.1 L196.6 718.2 L199.6 719.2 L202.6 720.2 L205.6 721.3 L208.6 722.3 L211.6 723.3 L214.6 724.3 L217.6 725.4 L220.6 726.4 L223.6 727.4 L226.6 728.5 L229.6 729.5 L232.6 730.5 L235.6 731.6 L238.6 732.6 L241.6 733.6 L244.6 734.7 L247.6 735.7 L250.6 736.7 L253.6 737.8 L256.6 738.8 L259.6 739.9 L262.6 740.9 L265.6 742 L268.6 743 L271.6 744.1 L274.6 745.2 L277.6 746.2 L280.6 747.3 L283.6 748.3 L286.6 749.3 L289.6 750.4 L292.6 751.4 L295.6 752.4 L298.6 753.3 L301.6 754.3 L304.6 755.3 L307.6 756.2 L310.6 757.2 L313.6 758.1 L316.6 759 L319.6 759.9 L322.6 760.8 L325.6 761.7 L328.6 762.5 L331.6 763.3 L334.6 764.1 L337.6 764.8 L340.6 765.6 L343.6 766.3 L346.6 767.1 L349.6 767.9 L352.6 768.8 L355.6 769.6 L358.6 770.3 L361.6 770.9 L364.6 771.4 L367.6 771.9 L370.6 772.4 L373.6 772.8 L376.6 773.2 L379.6 773.6 L382.6 773.9 L385.6 774.3 L388.6 774.7 L391.6 775 L394.6 775.3 L397.6 775.7 L400.6 776 L403.6 776.3 L406.6 776.6 L409.6 776.9 L412.6 777.2 L415.6 777.5 L418.6 777.7 L421.6 777.9 L424.6 778.1 L427.6 778.3 L430.6 778.5 L433.6 778.7 L436.6 778.9 L439.6 779.1 L442.6 779.2 L445.6 779.4 L448.6 779.5 L451.6 779.7 L454.6 779.8 L457.6 780 L460.6 780.1 L463.6 780.3 L466.6 780.4 L469.6 780.5 L472.6 780.6 L475.6 780.8 L478.6 780.9 L481.6 781 L484.6 781.1 L487.6 781.2 L490.6 781.4 L493.6 781.5 L496.6 781.6 L499.6 781.7 L502.6 781.8 L505.6 781.9 L508.6 782 L511.6 782 L514.6 782.1 L517.6 782.2 L520.6 782.3 L523.6 782.4 L526.6 782.5 L529.6 782.5 L532.6 782.6 L535.6 782.7 L538.6 782.8 L541.6 782.9 L544.6 782.9 L547.6 783 L550.6 783.1 L553.6 783.2 L556.6 783.2 L559.6 783.3 L562.6 783.4 L565.6 783.5 L568.6 783.6 L571.6 783.7 L574.6 783.7 L577.6 783.8 L580.6 783.9 L583.6 784 L586.6 784.1 L589.6 784.1 L592.6 784.2 L595.6 784.3 L598.6 784.4 L601.6 784.4 L604.6 784.5 L607.6 784.6 L610.6 784.6 L613.6 784.7 L616.6 784.8 L619.6 784.8 L622.6 784.9 L625.6 784.9 L628.6 785 L631.6 785 L634.6 785.1 L637.6 785.1 L640.6 785.1 L643.6 785.2 L646.6 785.2 L649.6 785.3 L652.6 785.3 L655.6 785.3 L658.6 785.4 L661.6 785.4 L664.6 785.4 L667.6 785.5 L670.6 785.5 L673.6 785.5 L676.6 785.6 L679.6 785.6 L682.6 785.6 L685.6 785.7 L688.6 785.7 L691.6 785.7 L694.6 785.7 L697.6 785.7 L700.6 785.8 L703.6 785.8 L706.6 785.8 L709 785.8" stroke="#5bbd4e" stroke-width="1.15" fill="none"/><path d="M79.6 686.4 L82.6 687.1 L85.6 687.7 L88.6 688.4 L91.6 689.1 L94.6 689.7 L97.6 690.4 L100.6 691.1 L103.6 691.8 L106.6 692.5 L109.6 693.2 L112.6 693.9 L115.6 694.6 L118.6 695.3 L121.6 696 L124.6 696.8 L127.6 697.5 L130.6 698.2 L133.6 699 L136.6 699.7 L139.6 700.5 L142.6 701.2 L145.6 702 L148.6 702.7 L151.6 703.5 L154.6 704.2 L157.6 705 L160.6 705.8 L163.6 706.6 L166.6 707.3 L169.6 708.1 L172.6 708.9 L175.6 709.7 L178.6 710.5 L181.6 711.3 L184.6 712.1 L187.6 712.9 L190.6 713.7 L193.6 714.5 L196.6 715.3 L199.6 716.1 L202.6 716.9 L205.6 717.7 L208.6 718.6 L211.6 719.5 L214.6 720.4 L217.6 721.3 L220.6 722.2 L223.6 723.1 L226.6 724 L229.6 724.9 L232.6 725.8 L235.6 726.7 L238.6 727.6 L241.6 728.4 L244.6 729.3 L247.6 730.1 L250.6 730.9 L253.6 731.7 L256.6 732.4 L259.6 733.1 L262.6 733.8 L265.6 734.4 L268.6 735.1 L271.6 735.7 L274.6 736.4 L277.6 737.1 L280.6 737.8 L283.6 738.5 L286.6 739.2 L289.6 740 L292.6 740.8 L295.6 741.7 L298.6 742.6 L301.6 743.6 L304.6 744.5 L307.6 745.5 L310.6 746.6 L313.6 747.6 L316.6 748.6 L319.6 749.5 L322.6 750.5 L325.6 751.4 L328.6 752.3 L331.6 753.2 L334.6 754 L337.6 754.8 L340.6 755.6 L343.6 756.3 L346.6 757.1 L349.6 757.9 L352.6 758.7 L355.6 759.5 L358.6 760.2 L361.6 761 L364.6 761.7 L367.6 762.5 L370.6 763.2 L373.6 763.9 L376.6 764.6 L379.6 765.3 L382.6 766 L385.6 766.7 L388.6 767.3 L391.6 767.9 L394.6 768.4 L397.6 769 L400.6 769.5 L403.6 770 L406.6 770.5 L409.6 771.1 L412.6 771.5 L415.6 772 L418.6 772.5 L421.6 773 L424.6 773.4 L427.6 773.9 L430.6 774.3 L433.6 774.7 L436.6 775.1 L439.6 775.5 L442.6 775.9 L445.6 776.2 L448.6 776.6 L451.6 776.9 L454.6 777.2 L457.6 777.6 L460.6 777.9 L463.6 778.2 L466.6 778.5 L469.6 778.8 L472.6 779.1 L475.6 779.4 L478.6 779.7 L481.6 779.9 L484.6 780.2 L487.6 780.5 L490.6 780.7 L493.6 780.9 L496.6 781.2 L499.6 781.4 L502.6 781.6 L505.6 781.8 L508.6 781.9 L511.6 782.1 L514.6 782.2 L517.6 782.4 L520.6 782.5 L523.6 782.6 L526.6 782.8 L529.6 782.9 L532.6 783 L535.6 783.1 L538.6 783.2 L541.6 783.3 L544.6 783.4 L547.6 783.6 L550.6 783.7 L553.6 783.7 L556.6 783.8 L559.6 783.9 L562.6 784 L565.6 784.1 L568.6 784.2 L571.6 784.3 L574.6 784.3 L577.6 784.4 L580.6 784.5 L583.6 784.5 L586.6 784.6 L589.6 784.7 L592.6 784.7 L595.6 784.8 L598.6 784.8 L601.6 784.8 L604.6 784.9 L607.6 784.9 L610.6 785 L613.6 785 L616.6 785.1 L619.6 785.1 L622.6 785.1 L625.6 785.2 L628.6 785.2 L631.6 785.2 L634.6 785.3 L637.6 785.3 L640.6 785.4 L643.6 785.4 L646.6 785.4 L649.6 785.5 L652.6 785.5 L655.6 785.5 L658.6 785.5 L661.6 785.6 L664.6 785.6 L667.6 785.6 L670.6 785.6 L673.6 785.7 L676.6 785.7 L679.6 785.7 L682.6 785.7 L685.6 785.7 L688.6 785.8 L691.6 785.8 L694.6 785.8 L697.6 785.8 L700.6 785.8 L703.6 785.8 L706.6 785.8 L709 785.8" stroke="#2a88d2" stroke-width="1.15" fill="none"/><path d="M79.6 689.3 L82.6 690.1 L85.6 690.9 L88.6 691.8 L91.6 692.6 L94.6 693.4 L97.6 694.2 L100.6 695.1 L103.6 695.9 L106.6 696.7 L109.6 697.6 L112.6 698.4 L115.6 699.2 L118.6 700.1 L121.6 700.9 L124.6 701.8 L127.6 702.6 L130.6 703.5 L133.6 704.3 L136.6 705.2 L139.6 706 L142.6 706.9 L145.6 707.7 L148.6 708.6 L151.6 709.5 L154.6 710.3 L157.6 711.2 L160.6 712.1 L163.6 712.9 L166.6 713.8 L169.6 714.7 L172.6 715.6 L175.6 716.5 L178.6 717.4 L181.6 718.2 L184.6 719.1 L187.6 720 L190.6 720.9 L193.6 721.8 L196.6 722.7 L199.6 723.6 L202.6 724.4 L205.6 725.3 L208.6 726.2 L211.6 727.1 L214.6 728 L217.6 728.8 L220.6 729.7 L223.6 730.6 L226.6 731.5 L229.6 732.4 L232.6 733.2 L235.6 734.1 L238.6 735 L241.6 735.9 L244.6 736.8 L247.6 737.6 L250.6 738.5 L253.6 739.4 L256.6 740.3 L259.6 741.2 L262.6 742 L265.6 742.9 L268.6 743.8 L271.6 744.7 L274.6 745.6 L277.6 746.5 L280.6 747.3 L283.6 748.2 L286.6 749.1 L289.6 750 L292.6 750.9 L295.6 751.7 L298.6 752.6 L301.6 753.5 L304.6 754.4 L307.6 755.2 L310.6 756.1 L313.6 757 L316.6 757.9 L319.6 758.8 L322.6 759.6 L325.6 760.4 L328.6 761.2 L331.6 762 L334.6 762.7 L337.6 763.5 L340.6 764.2 L343.6 764.8 L346.6 765.5 L349.6 766.2 L352.6 766.8 L355.6 767.5 L358.6 768.1 L361.6 768.7 L364.6 769.3 L367.6 770 L370.6 770.6 L373.6 771.2 L376.6 771.8 L379.6 772.4 L382.6 773 L385.6 773.5 L388.6 773.9 L391.6 774.3 L394.6 774.7 L397.6 775 L400.6 775.3 L403.6 775.6 L406.6 775.9 L409.6 776.1 L412.6 776.3 L415.6 776.6 L418.6 776.8 L421.6 777.1 L424.6 777.3 L427.6 777.6 L430.6 777.8 L433.6 778 L436.6 778.3 L439.6 778.5 L442.6 778.7 L445.6 778.9 L448.6 779.1 L451.6 779.3 L454.6 779.4 L457.6 779.6 L460.6 779.7 L463.6 779.9 L466.6 780 L469.6 780.1 L472.6 780.3 L475.6 780.4 L478.6 780.5 L481.6 780.6 L484.6 780.7 L487.6 780.8 L490.6 780.9 L493.6 781.1 L496.6 781.2 L499.6 781.3 L502.6 781.4 L505.6 781.5 L508.6 781.6 L511.6 781.7 L514.6 781.8 L517.6 781.8 L520.6 781.9 L523.6 782 L526.6 782.1 L529.6 782.2 L532.6 782.3 L535.6 782.4 L538.6 782.5 L541.6 782.5 L544.6 782.6 L547.6 782.7 L550.6 782.8 L553.6 782.8 L556.6 782.9 L559.6 783 L562.6 783 L565.6 783.1 L568.6 783.2 L571.6 783.2 L574.6 783.3 L577.6 783.4 L580.6 783.4 L583.6 783.5 L586.6 783.6 L589.6 783.6 L592.6 783.7 L595.6 783.7 L598.6 783.8 L601.6 783.8 L604.6 783.9 L607.6 784 L610.6 784 L613.6 784.1 L616.6 784.1 L619.6 784.2 L622.6 784.2 L625.6 784.3 L628.6 784.4 L631.6 784.4 L634.6 784.5 L637.6 784.5 L640.6 784.6 L643.6 784.6 L646.6 784.7 L649.6 784.8 L652.6 784.8 L655.6 784.9 L658.6 784.9 L661.6 785 L664.6 785 L667.6 785.1 L670.6 785.1 L673.6 785.2 L676.6 785.2 L679.6 785.3 L682.6 785.4 L685.6 785.4 L688.6 785.5 L691.6 785.5 L694.6 785.6 L697.6 785.6 L700.6 785.7 L703.6 785.7 L706.6 785.8 L709 785.8" stroke="#dd3358" stroke-width="1.15" fill="none"/><path d="M79.6 708.6 L82.6 709.2 L85.6 709.9 L88.6 710.5 L91.6 711.1 L94.6 711.8 L97.6 712.4 L100.6 713 L103.6 713.7 L106.6 714.3 L109.6 714.9 L112.6 715.6 L115.6 716.2 L118.6 716.9 L121.6 717.5 L124.6 718.2 L127.6 718.8 L130.6 719.5 L133.6 720.1 L136.6 720.8 L139.6 721.4 L142.6 722.1 L145.6 722.8 L148.6 723.4 L151.6 724.1 L154.6 724.7 L157.6 725.4 L160.6 726.1 L163.6 726.8 L166.6 727.4 L169.6 728.1 L172.6 728.8 L175.6 729.5 L178.6 730.1 L181.6 730.8 L184.6 731.5 L187.6 732.2 L190.6 732.9 L193.6 733.5 L196.6 734.2 L199.6 734.9 L202.6 735.6 L205.6 736.3 L208.6 736.9 L211.6 737.6 L214.6 738.3 L217.6 739 L220.6 739.6 L223.6 740.3 L226.6 741 L229.6 741.7 L232.6 742.3 L235.6 743 L238.6 743.7 L241.6 744.4 L244.6 745 L247.6 745.7 L250.6 746.4 L253.6 747.1 L256.6 747.8 L259.6 748.4 L262.6 749.1 L265.6 749.8 L268.6 750.5 L271.6 751.1 L274.6 751.8 L277.6 752.5 L280.6 753.2 L283.6 753.8 L286.6 754.5 L289.6 755.2 L292.6 755.9 L295.6 756.5 L298.6 757.2 L301.6 757.9 L304.6 758.6 L307.6 759.3 L310.6 760 L313.6 760.7 L316.6 761.4 L319.6 762 L322.6 762.7 L325.6 763.4 L328.6 764 L331.6 764.7 L334.6 765.3 L337.6 765.9 L340.6 766.5 L343.6 767.1 L346.6 767.7 L349.6 768.2 L352.6 768.7 L355.6 769.2 L358.6 769.7 L361.6 770.2 L364.6 770.8 L367.6 771.3 L370.6 771.9 L373.6 772.4 L376.6 773 L379.6 773.5 L382.6 774 L385.6 774.5 L388.6 774.9 L391.6 775.3 L394.6 775.6 L397.6 775.9 L400.6 776.2 L403.6 776.5 L406.6 776.7 L409.6 777 L412.6 777.2 L415.6 777.4 L418.6 777.7 L421.6 777.9 L424.6 778.1 L427.6 778.3 L430.6 778.6 L433.6 778.8 L436.6 779 L439.6 779.2 L442.6 779.4 L445.6 779.5 L448.6 779.7 L451.6 779.9 L454.6 780 L457.6 780.2 L460.6 780.3 L463.6 780.4 L466.6 780.5 L469.6 780.7 L472.6 780.8 L475.6 780.9 L478.6 781 L481.6 781.1 L484.6 781.2 L487.6 781.3 L490.6 781.4 L493.6 781.5 L496.6 781.6 L499.6 781.7 L502.6 781.8 L505.6 781.9 L508.6 782 L511.6 782 L514.6 782.1 L517.6 782.2 L520.6 782.3 L523.6 782.4 L526.6 782.4 L529.6 782.5 L532.6 782.6 L535.6 782.7 L538.6 782.7 L541.6 782.8 L544.6 782.9 L547.6 782.9 L550.6 783 L553.6 783.1 L556.6 783.1 L559.6 783.2 L562.6 783.2 L565.6 783.3 L568.6 783.3 L571.6 783.4 L574.6 783.4 L577.6 783.5 L580.6 783.5 L583.6 783.6 L586.6 783.6 L589.6 783.7 L592.6 783.7 L595.6 783.8 L598.6 783.8 L601.6 783.9 L604.6 783.9 L607.6 784 L610.6 784 L613.6 784.1 L616.6 784.1 L619.6 784.1 L622.6 784.2 L625.6 784.2 L628.6 784.3 L631.6 784.3 L634.6 784.4 L637.6 784.4 L640.6 784.5 L643.6 784.5 L646.6 784.6 L649.6 784.6 L652.6 784.7 L655.6 784.7 L658.6 784.8 L661.6 784.8 L664.6 784.9 L667.6 784.9 L670.6 785 L673.6 785 L676.6 785.1 L679.6 785.1 L682.6 785.2 L685.6 785.2 L688.6 785.3 L691.6 785.3 L694.6 785.4 L697.6 785.4 L700.6 785.5 L703.6 785.5 L706.6 785.6 L709 785.6" stroke="#141414" stroke-width="1.15" fill="none"/><path d="M79.6 712.5 L82.6 713.1 L85.6 713.7 L88.6 714.3 L91.6 714.9 L94.6 715.6 L97.6 716.2 L100.6 716.8 L103.6 717.4 L106.6 718 L109.6 718.6 L112.6 719.3 L115.6 719.9 L118.6 720.5 L121.6 721.2 L124.6 721.8 L127.6 722.4 L130.6 723 L133.6 723.7 L136.6 724.3 L139.6 724.9 L142.6 725.6 L145.6 726.2 L148.6 726.9 L151.6 727.5 L154.6 728.1 L157.6 728.8 L160.6 729.4 L163.6 730.1 L166.6 730.7 L169.6 731.4 L172.6 732.1 L175.6 732.7 L178.6 733.4 L181.6 734 L184.6 734.7 L187.6 735.4 L190.6 736 L193.6 736.7 L196.6 737.3 L199.6 738 L202.6 738.6 L205.6 739.3 L208.6 740 L211.6 740.6 L214.6 741.3 L217.6 741.9 L220.6 742.6 L223.6 743.2 L226.6 743.9 L229.6 744.5 L232.6 745.2 L235.6 745.9 L238.6 746.5 L241.6 747.2 L244.6 747.8 L247.6 748.5 L250.6 749.1 L253.6 749.8 L256.6 750.4 L259.6 751.1 L262.6 751.8 L265.6 752.4 L268.6 753.1 L271.6 753.7 L274.6 754.4 L277.6 755 L280.6 755.7 L283.6 756.3 L286.6 757 L289.6 757.7 L292.6 758.3 L295.6 759 L298.6 759.6 L301.6 760.3 L304.6 760.9 L307.6 761.6 L310.6 762.3 L313.6 762.9 L316.6 763.6 L319.6 764.3 L322.6 764.9 L325.6 765.6 L328.6 766.2 L331.6 766.8 L334.6 767.3 L337.6 767.9 L340.6 768.5 L343.6 769 L346.6 769.5 L349.6 770 L352.6 770.5 L355.6 771 L358.6 771.4 L361.6 771.9 L364.6 772.4 L367.6 772.9 L370.6 773.4 L373.6 773.9 L376.6 774.4 L379.6 774.9 L382.6 775.4 L385.6 775.8 L388.6 776.2 L391.6 776.5 L394.6 776.8 L397.6 777.1 L400.6 777.3 L403.6 777.5 L406.6 777.7 L409.6 777.9 L412.6 778.1 L415.6 778.3 L418.6 778.5 L421.6 778.7 L424.6 778.9 L427.6 779.1 L430.6 779.3 L433.6 779.5 L436.6 779.7 L439.6 779.9 L442.6 780.1 L445.6 780.2 L448.6 780.4 L451.6 780.5 L454.6 780.7 L457.6 780.8 L460.6 780.9 L463.6 781 L466.6 781.1 L469.6 781.2 L472.6 781.3 L475.6 781.4 L478.6 781.5 L481.6 781.6 L484.6 781.7 L487.6 781.8 L490.6 781.9 L493.6 782 L496.6 782 L499.6 782.1 L502.6 782.2 L505.6 782.3 L508.6 782.4 L511.6 782.4 L514.6 782.5 L517.6 782.6 L520.6 782.7 L523.6 782.7 L526.6 782.8 L529.6 782.9 L532.6 782.9 L535.6 783 L538.6 783.1 L541.6 783.1 L544.6 783.2 L547.6 783.3 L550.6 783.3 L553.6 783.4 L556.6 783.4 L559.6 783.5 L562.6 783.5 L565.6 783.6 L568.6 783.6 L571.6 783.7 L574.6 783.7 L577.6 783.8 L580.6 783.8 L583.6 783.9 L586.6 783.9 L589.6 784 L592.6 784 L595.6 784 L598.6 784.1 L601.6 784.1 L604.6 784.2 L607.6 784.2 L610.6 784.3 L613.6 784.3 L616.6 784.4 L619.6 784.4 L622.6 784.4 L625.6 784.5 L628.6 784.5 L631.6 784.6 L634.6 784.6 L637.6 784.7 L640.6 784.7 L643.6 784.8 L646.6 784.8 L649.6 784.9 L652.6 784.9 L655.6 785 L658.6 785 L661.6 785.1 L664.6 785.1 L667.6 785.1 L670.6 785.2 L673.6 785.2 L676.6 785.3 L679.6 785.3 L682.6 785.4 L685.6 785.4 L688.6 785.5 L691.6 785.5 L694.6 785.6 L697.6 785.6 L700.6 785.7 L703.6 785.7 L706.6 785.8 L709 785.8" stroke="#2a88d2" stroke-width="1.15" fill="none"/><path d="M79.6 717 L82.6 717.6 L85.6 718.2 L88.6 718.8 L91.6 719.4 L94.6 720 L97.6 720.6 L100.6 721.2 L103.6 721.8 L106.6 722.5 L109.6 723.1 L112.6 723.7 L115.6 724.3 L118.6 724.9 L121.6 725.5 L124.6 726.2 L127.6 726.8 L130.6 727.4 L133.6 728 L136.6 728.7 L139.6 729.3 L142.6 729.9 L145.6 730.5 L148.6 731.2 L151.6 731.8 L154.6 732.4 L157.6 733.1 L160.6 733.7 L163.6 734.4 L166.6 735 L169.6 735.7 L172.6 736.3 L175.6 737 L178.6 737.6 L181.6 738.3 L184.6 738.9 L187.6 739.6 L190.6 740.2 L193.6 740.9 L196.6 741.5 L199.6 742.2 L202.6 742.8 L205.6 743.4 L208.6 744.1 L211.6 744.7 L214.6 745.4 L217.6 746 L220.6 746.7 L223.6 747.3 L226.6 748 L229.6 748.6 L232.6 749.3 L235.6 749.9 L238.6 750.5 L241.6 751.2 L244.6 751.8 L247.6 752.5 L250.6 753.1 L253.6 753.8 L256.6 754.4 L259.6 755.1 L262.6 755.7 L265.6 756.4 L268.6 757.1 L271.6 757.7 L274.6 758.4 L277.6 759 L280.6 759.7 L283.6 760.3 L286.6 761 L289.6 761.6 L292.6 762.3 L295.6 762.9 L298.6 763.5 L301.6 764.1 L304.6 764.8 L307.6 765.4 L310.6 766 L313.6 766.6 L316.6 767.3 L319.6 767.9 L322.6 768.5 L325.6 769 L328.6 769.6 L331.6 770.1 L334.6 770.6 L337.6 771.1 L340.6 771.6 L343.6 772 L346.6 772.5 L349.6 773 L352.6 773.6 L355.6 774.1 L358.6 774.5 L361.6 775 L364.6 775.3 L367.6 775.7 L370.6 776.1 L373.6 776.5 L376.6 776.8 L379.6 777.1 L382.6 777.4 L385.6 777.7 L388.6 778 L391.6 778.3 L394.6 778.5 L397.6 778.7 L400.6 778.9 L403.6 779.1 L406.6 779.3 L409.6 779.5 L412.6 779.7 L415.6 779.9 L418.6 780 L421.6 780.2 L424.6 780.3 L427.6 780.5 L430.6 780.6 L433.6 780.8 L436.6 780.9 L439.6 781.1 L442.6 781.2 L445.6 781.3 L448.6 781.4 L451.6 781.5 L454.6 781.6 L457.6 781.7 L460.6 781.8 L463.6 781.9 L466.6 782 L469.6 782.1 L472.6 782.2 L475.6 782.3 L478.6 782.3 L481.6 782.4 L484.6 782.5 L487.6 782.6 L490.6 782.6 L493.6 782.7 L496.6 782.8 L499.6 782.9 L502.6 782.9 L505.6 783 L508.6 783.1 L511.6 783.1 L514.6 783.2 L517.6 783.2 L520.6 783.3 L523.6 783.4 L526.6 783.4 L529.6 783.5 L532.6 783.5 L535.6 783.6 L538.6 783.6 L541.6 783.7 L544.6 783.7 L547.6 783.8 L550.6 783.9 L553.6 783.9 L556.6 784 L559.6 784 L562.6 784.1 L565.6 784.1 L568.6 784.2 L571.6 784.2 L574.6 784.3 L577.6 784.3 L580.6 784.3 L583.6 784.4 L586.6 784.4 L589.6 784.5 L592.6 784.5 L595.6 784.6 L598.6 784.6 L601.6 784.7 L604.6 784.7 L607.6 784.7 L610.6 784.8 L613.6 784.8 L616.6 784.9 L619.6 784.9 L622.6 784.9 L625.6 785 L628.6 785 L631.6 785.1 L634.6 785.1 L637.6 785.1 L640.6 785.2 L643.6 785.2 L646.6 785.2 L649.6 785.3 L652.6 785.3 L655.6 785.3 L658.6 785.4 L661.6 785.4 L664.6 785.4 L667.6 785.4 L670.6 785.5 L673.6 785.5 L676.6 785.5 L679.6 785.6 L682.6 785.6 L685.6 785.6 L688.6 785.6 L691.6 785.7 L694.6 785.7 L697.6 785.7 L700.6 785.7 L703.6 785.8 L706.6 785.8 L709 785.8" stroke="#5bbd4e" stroke-width="1.15" fill="none"/><path d="M79.6 723 L82.6 723.5 L85.6 724 L88.6 724.5 L91.6 725 L94.6 725.5 L97.6 726 L100.6 726.5 L103.6 727 L106.6 727.5 L109.6 728 L112.6 728.5 L115.6 729 L118.6 729.5 L121.6 730 L124.6 730.5 L127.6 731.1 L130.6 731.6 L133.6 732.1 L136.6 732.6 L139.6 733.1 L142.6 733.6 L145.6 734.2 L148.6 734.7 L151.6 735.2 L154.6 735.7 L157.6 736.2 L160.6 736.8 L163.6 737.3 L166.6 737.8 L169.6 738.4 L172.6 738.9 L175.6 739.4 L178.6 740 L181.6 740.5 L184.6 741 L187.6 741.6 L190.6 742.1 L193.6 742.7 L196.6 743.2 L199.6 743.7 L202.6 744.3 L205.6 744.8 L208.6 745.3 L211.6 745.9 L214.6 746.4 L217.6 746.9 L220.6 747.5 L223.6 748 L226.6 748.5 L229.6 749.1 L232.6 749.6 L235.6 750.1 L238.6 750.7 L241.6 751.2 L244.6 751.7 L247.6 752.3 L250.6 752.8 L253.6 753.3 L256.6 753.9 L259.6 754.4 L262.6 754.9 L265.6 755.5 L268.6 756 L271.6 756.5 L274.6 757.1 L277.6 757.6 L280.6 758.1 L283.6 758.7 L286.6 759.2 L289.6 759.7 L292.6 760.3 L295.6 760.8 L298.6 761.3 L301.6 761.9 L304.6 762.4 L307.6 762.9 L310.6 763.5 L313.6 764 L316.6 764.6 L319.6 765.1 L322.6 765.7 L325.6 766.2 L328.6 766.7 L331.6 767.2 L334.6 767.8 L337.6 768.3 L340.6 768.8 L343.6 769.3 L346.6 769.8 L349.6 770.2 L352.6 770.7 L355.6 771.1 L358.6 771.6 L361.6 772 L364.6 772.4 L367.6 772.8 L370.6 773.3 L373.6 773.7 L376.6 774.1 L379.6 774.5 L382.6 774.9 L385.6 775.3 L388.6 775.7 L391.6 776 L394.6 776.3 L397.6 776.7 L400.6 777 L403.6 777.3 L406.6 777.6 L409.6 777.8 L412.6 778.1 L415.6 778.4 L418.6 778.6 L421.6 778.8 L424.6 779 L427.6 779.2 L430.6 779.4 L433.6 779.5 L436.6 779.7 L439.6 779.8 L442.6 780 L445.6 780.1 L448.6 780.3 L451.6 780.4 L454.6 780.5 L457.6 780.7 L460.6 780.8 L463.6 780.9 L466.6 781 L469.6 781.1 L472.6 781.3 L475.6 781.4 L478.6 781.5 L481.6 781.6 L484.6 781.7 L487.6 781.8 L490.6 781.9 L493.6 782 L496.6 782.1 L499.6 782.1 L502.6 782.2 L505.6 782.3 L508.6 782.4 L511.6 782.4 L514.6 782.5 L517.6 782.6 L520.6 782.7 L523.6 782.7 L526.6 782.8 L529.6 782.8 L532.6 782.9 L535.6 783 L538.6 783 L541.6 783.1 L544.6 783.1 L547.6 783.2 L550.6 783.2 L553.6 783.3 L556.6 783.4 L559.6 783.4 L562.6 783.4 L565.6 783.5 L568.6 783.5 L571.6 783.6 L574.6 783.6 L577.6 783.7 L580.6 783.7 L583.6 783.8 L586.6 783.8 L589.6 783.8 L592.6 783.9 L595.6 783.9 L598.6 784 L601.6 784 L604.6 784 L607.6 784.1 L610.6 784.1 L613.6 784.2 L616.6 784.2 L619.6 784.2 L622.6 784.3 L625.6 784.3 L628.6 784.4 L631.6 784.4 L634.6 784.4 L637.6 784.5 L640.6 784.5 L643.6 784.6 L646.6 784.6 L649.6 784.6 L652.6 784.7 L655.6 784.7 L658.6 784.8 L661.6 784.8 L664.6 784.8 L667.6 784.9 L670.6 784.9 L673.6 784.9 L676.6 785 L679.6 785 L682.6 785.1 L685.6 785.1 L688.6 785.1 L691.6 785.2 L694.6 785.2 L697.6 785.2 L700.6 785.3 L703.6 785.3 L706.6 785.3 L709 785.4" stroke="#5bbd4e" stroke-width="1.15" fill="none"/><path d="M79.6 727.1 L82.6 727.5 L85.6 728 L88.6 728.4 L91.6 728.9 L94.6 729.3 L97.6 729.8 L100.6 730.3 L103.6 730.7 L106.6 731.2 L109.6 731.6 L112.6 732.1 L115.6 732.5 L118.6 733 L121.6 733.5 L124.6 733.9 L127.6 734.4 L130.6 734.9 L133.6 735.3 L136.6 735.8 L139.6 736.3 L142.6 736.7 L145.6 737.2 L148.6 737.7 L151.6 738.1 L154.6 738.6 L157.6 739.1 L160.6 739.6 L163.6 740 L166.6 740.5 L169.6 741 L172.6 741.5 L175.6 742 L178.6 742.4 L181.6 742.9 L184.6 743.4 L187.6 743.9 L190.6 744.4 L193.6 744.9 L196.6 745.4 L199.6 745.8 L202.6 746.3 L205.6 746.8 L208.6 747.3 L211.6 747.8 L214.6 748.3 L217.6 748.7 L220.6 749.2 L223.6 749.7 L226.6 750.2 L229.6 750.7 L232.6 751.2 L235.6 751.6 L238.6 752.1 L241.6 752.6 L244.6 753.1 L247.6 753.6 L250.6 754.1 L253.6 754.5 L256.6 755 L259.6 755.5 L262.6 756 L265.6 756.5 L268.6 756.9 L271.6 757.4 L274.6 757.9 L277.6 758.4 L280.6 758.9 L283.6 759.4 L286.6 759.8 L289.6 760.3 L292.6 760.8 L295.6 761.3 L298.6 761.8 L301.6 762.3 L304.6 762.7 L307.6 763.2 L310.6 763.7 L313.6 764.2 L316.6 764.7 L319.6 765.2 L322.6 765.7 L325.6 766.1 L328.6 766.6 L331.6 767.1 L334.6 767.6 L337.6 768.1 L340.6 768.6 L343.6 769.1 L346.6 769.5 L349.6 770 L352.6 770.4 L355.6 770.9 L358.6 771.3 L361.6 771.7 L364.6 772.1 L367.6 772.5 L370.6 772.8 L373.6 773.2 L376.6 773.6 L379.6 773.9 L382.6 774.3 L385.6 774.7 L388.6 775 L391.6 775.4 L394.6 775.7 L397.6 776.1 L400.6 776.4 L403.6 776.8 L406.6 777.2 L409.6 777.5 L412.6 777.8 L415.6 778.1 L418.6 778.4 L421.6 778.6 L424.6 778.8 L427.6 779 L430.6 779.1 L433.6 779.3 L436.6 779.5 L439.6 779.6 L442.6 779.7 L445.6 779.9 L448.6 780 L451.6 780.2 L454.6 780.3 L457.6 780.4 L460.6 780.6 L463.6 780.7 L466.6 780.8 L469.6 781 L472.6 781.1 L475.6 781.2 L478.6 781.3 L481.6 781.4 L484.6 781.6 L487.6 781.7 L490.6 781.8 L493.6 781.9 L496.6 782 L499.6 782 L502.6 782.1 L505.6 782.2 L508.6 782.3 L511.6 782.4 L514.6 782.4 L517.6 782.5 L520.6 782.6 L523.6 782.6 L526.6 782.7 L529.6 782.7 L532.6 782.8 L535.6 782.9 L538.6 782.9 L541.6 783 L544.6 783 L547.6 783.1 L550.6 783.1 L553.6 783.2 L556.6 783.2 L559.6 783.3 L562.6 783.3 L565.6 783.4 L568.6 783.4 L571.6 783.5 L574.6 783.5 L577.6 783.6 L580.6 783.6 L583.6 783.7 L586.6 783.7 L589.6 783.7 L592.6 783.8 L595.6 783.8 L598.6 783.9 L601.6 783.9 L604.6 784 L607.6 784 L610.6 784 L613.6 784.1 L616.6 784.1 L619.6 784.2 L622.6 784.2 L625.6 784.2 L628.6 784.3 L631.6 784.3 L634.6 784.3 L637.6 784.4 L640.6 784.4 L643.6 784.5 L646.6 784.5 L649.6 784.5 L652.6 784.6 L655.6 784.6 L658.6 784.6 L661.6 784.7 L664.6 784.7 L667.6 784.7 L670.6 784.8 L673.6 784.8 L676.6 784.8 L679.6 784.9 L682.6 784.9 L685.6 784.9 L688.6 785 L691.6 785 L694.6 785 L697.6 785.1 L700.6 785.1 L703.6 785.1 L706.6 785.1 L709 785.2" stroke="#40c3d4" stroke-width="1.15" fill="none"/><path d="M79.6 744.2 L82.6 744.6 L85.6 745 L88.6 745.4 L91.6 745.8 L94.6 746.2 L97.6 746.6 L100.6 747 L103.6 747.5 L106.6 747.9 L109.6 748.3 L112.6 748.7 L115.6 749.1 L118.6 749.5 L121.6 749.9 L124.6 750.4 L127.6 750.8 L130.6 751.2 L133.6 751.6 L136.6 752 L139.6 752.4 L142.6 752.9 L145.6 753.3 L148.6 753.7 L151.6 754.1 L154.6 754.6 L157.6 755 L160.6 755.4 L163.6 755.9 L166.6 756.3 L169.6 756.7 L172.6 757.2 L175.6 757.6 L178.6 758 L181.6 758.5 L184.6 758.9 L187.6 759.3 L190.6 759.8 L193.6 760.2 L196.6 760.6 L199.6 761.1 L202.6 761.5 L205.6 761.9 L208.6 762.4 L211.6 762.8 L214.6 763.2 L217.6 763.7 L220.6 764.1 L223.6 764.5 L226.6 765 L229.6 765.4 L232.6 765.8 L235.6 766.3 L238.6 766.7 L241.6 767.1 L244.6 767.6 L247.6 768 L250.6 768.4 L253.6 768.9 L256.6 769.3 L259.6 769.7 L262.6 770.2 L265.6 770.6 L268.6 771.1 L271.6 771.5 L274.6 772 L277.6 772.4 L280.6 772.8 L283.6 773.3 L286.6 773.7 L289.6 774.1 L292.6 774.5 L295.6 774.9 L298.6 775.3 L301.6 775.6 L304.6 776 L307.6 776.4 L310.6 776.7 L313.6 777 L316.6 777.4 L319.6 777.7 L322.6 778 L325.6 778.3 L328.6 778.6 L331.6 779 L334.6 779.3 L337.6 779.6 L340.6 779.9 L343.6 780.2 L346.6 780.4 L349.6 780.6 L352.6 780.8 L355.6 781 L358.6 781.1 L361.6 781.3 L364.6 781.4 L367.6 781.6 L370.6 781.7 L373.6 781.8 L376.6 782 L379.6 782.1 L382.6 782.2 L385.6 782.3 L388.6 782.4 L391.6 782.5 L394.6 782.6 L397.6 782.7 L400.6 782.8 L403.6 782.9 L406.6 783 L409.6 783.1 L412.6 783.1 L415.6 783.2 L418.6 783.3 L421.6 783.3 L424.6 783.4 L427.6 783.5 L430.6 783.5 L433.6 783.6 L436.6 783.6 L439.6 783.7 L442.6 783.8 L445.6 783.8 L448.6 783.9 L451.6 783.9 L454.6 783.9 L457.6 784 L460.6 784 L463.6 784.1 L466.6 784.1 L469.6 784.2 L472.6 784.2 L475.6 784.3 L478.6 784.3 L481.6 784.3 L484.6 784.4 L487.6 784.4 L490.6 784.5 L493.6 784.5 L496.6 784.5 L499.6 784.6 L502.6 784.6 L505.6 784.6 L508.6 784.7 L511.6 784.7 L514.6 784.7 L517.6 784.8 L520.6 784.8 L523.6 784.8 L526.6 784.8 L529.6 784.9 L532.6 784.9 L535.6 784.9 L538.6 785 L541.6 785 L544.6 785 L547.6 785 L550.6 785.1 L553.6 785.1 L556.6 785.1 L559.6 785.2 L562.6 785.2 L565.6 785.2 L568.6 785.3 L571.6 785.3 L574.6 785.3 L577.6 785.4 L580.6 785.4 L583.6 785.5 L586.6 785.5 L589.6 785.5 L592.6 785.6 L595.6 785.6 L598.6 785.6 L601.6 785.6 L604.6 785.7 L607.6 785.7 L610.6 785.7 L613.6 785.7 L616.6 785.8 L619.6 785.8 L622.6 785.8 L625.6 785.8 L628.6 785.8 L631.6 785.8 L634.6 785.8 L637.6 785.8 L640.6 785.8 L643.6 785.8 L646.6 785.8 L649.6 785.8 L652.6 785.8 L655.6 785.8 L658.6 785.8 L661.6 785.8 L664.6 785.8 L667.6 785.8 L670.6 785.8 L673.6 785.8 L676.6 785.8 L679.6 785.8 L682.6 785.8 L685.6 785.8 L688.6 785.8 L691.6 785.8 L694.6 785.8 L697.6 785.8 L700.6 785.8 L703.6 785.8 L706.6 785.8 L709 785.8" stroke="#dd3358" stroke-width="1.15" fill="none"/><path d="M79.6 747.2 L82.6 747.6 L85.6 748 L88.6 748.5 L91.6 748.9 L94.6 749.3 L97.6 749.7 L100.6 750.2 L103.6 750.6 L106.6 751 L109.6 751.4 L112.6 751.9 L115.6 752.3 L118.6 752.7 L121.6 753.2 L124.6 753.6 L127.6 754 L130.6 754.5 L133.6 754.9 L136.6 755.3 L139.6 755.8 L142.6 756.2 L145.6 756.7 L148.6 757.1 L151.6 757.5 L154.6 758 L157.6 758.4 L160.6 758.9 L163.6 759.3 L166.6 759.8 L169.6 760.2 L172.6 760.7 L175.6 761.1 L178.6 761.6 L181.6 762 L184.6 762.5 L187.6 762.9 L190.6 763.4 L193.6 763.8 L196.6 764.3 L199.6 764.7 L202.6 765.2 L205.6 765.6 L208.6 766.1 L211.6 766.5 L214.6 767 L217.6 767.5 L220.6 767.9 L223.6 768.4 L226.6 768.8 L229.6 769.3 L232.6 769.7 L235.6 770.2 L238.6 770.6 L241.6 771.1 L244.6 771.5 L247.6 771.9 L250.6 772.3 L253.6 772.8 L256.6 773.2 L259.6 773.6 L262.6 774 L265.6 774.5 L268.6 774.9 L271.6 775.3 L274.6 775.7 L277.6 776.1 L280.6 776.5 L283.6 776.9 L286.6 777.3 L289.6 777.7 L292.6 778 L295.6 778.4 L298.6 778.7 L301.6 779 L304.6 779.3 L307.6 779.6 L310.6 779.9 L313.6 780.2 L316.6 780.5 L319.6 780.7 L322.6 781 L325.6 781.2 L328.6 781.4 L331.6 781.6 L334.6 781.7 L337.6 781.9 L340.6 782 L343.6 782.1 L346.6 782.2 L349.6 782.4 L352.6 782.5 L355.6 782.6 L358.6 782.8 L361.6 782.9 L364.6 783 L367.6 783.1 L370.6 783.1 L373.6 783.2 L376.6 783.3 L379.6 783.4 L382.6 783.4 L385.6 783.5 L388.6 783.6 L391.6 783.6 L394.6 783.7 L397.6 783.8 L400.6 783.8 L403.6 783.9 L406.6 783.9 L409.6 784 L412.6 784 L415.6 784.1 L418.6 784.1 L421.6 784.2 L424.6 784.2 L427.6 784.3 L430.6 784.3 L433.6 784.4 L436.6 784.4 L439.6 784.5 L442.6 784.5 L445.6 784.5 L448.6 784.6 L451.6 784.6 L454.6 784.6 L457.6 784.7 L460.6 784.7 L463.6 784.7 L466.6 784.8 L469.6 784.8 L472.6 784.8 L475.6 784.9 L478.6 784.9 L481.6 784.9 L484.6 785 L487.6 785 L490.6 785 L493.6 785 L496.6 785.1 L499.6 785.1 L502.6 785.1 L505.6 785.2 L508.6 785.2 L511.6 785.2 L514.6 785.3 L517.6 785.3 L520.6 785.4 L523.6 785.4 L526.6 785.4 L529.6 785.5 L532.6 785.5 L535.6 785.5 L538.6 785.6 L541.6 785.6 L544.6 785.6 L547.6 785.6 L550.6 785.6 L553.6 785.7 L556.6 785.7 L559.6 785.7 L562.6 785.7 L565.6 785.7 L568.6 785.7 L571.6 785.7 L574.6 785.7 L577.6 785.7 L580.6 785.7 L583.6 785.7 L586.6 785.7 L589.6 785.8 L592.6 785.8 L595.6 785.8 L598.6 785.8 L601.6 785.8 L604.6 785.8 L607.6 785.8 L610.6 785.8 L613.6 785.8 L616.6 785.8 L619.6 785.8 L622.6 785.8 L625.6 785.8 L628.6 785.8 L631.6 785.8 L634.6 785.8 L637.6 785.8 L640.6 785.8 L643.6 785.8 L646.6 785.8 L649.6 785.8 L652.6 785.8 L655.6 785.8 L658.6 785.8 L661.6 785.8 L664.6 785.8 L667.6 785.8 L670.6 785.8 L673.6 785.8 L676.6 785.8 L679.6 785.8 L682.6 785.8 L685.6 785.8 L688.6 785.8 L691.6 785.8 L694.6 785.8 L697.6 785.8 L700.6 785.8 L703.6 785.8 L706.6 785.8 L709 785.8" stroke="#141414" stroke-width="1.15" fill="none"/><path d="M79.6 747.8 L82.6 748.2 L85.6 748.6 L88.6 749 L91.6 749.4 L94.6 749.8 L97.6 750.2 L100.6 750.6 L103.6 751 L106.6 751.4 L109.6 751.8 L112.6 752.2 L115.6 752.6 L118.6 753 L121.6 753.4 L124.6 753.8 L127.6 754.2 L130.6 754.6 L133.6 755 L136.6 755.4 L139.6 755.8 L142.6 756.3 L145.6 756.7 L148.6 757.1 L151.6 757.5 L154.6 757.9 L157.6 758.3 L160.6 758.7 L163.6 759.2 L166.6 759.6 L169.6 760 L172.6 760.4 L175.6 760.8 L178.6 761.3 L181.6 761.7 L184.6 762.1 L187.6 762.5 L190.6 763 L193.6 763.4 L196.6 763.8 L199.6 764.2 L202.6 764.7 L205.6 765.1 L208.6 765.5 L211.6 765.9 L214.6 766.4 L217.6 766.8 L220.6 767.2 L223.6 767.6 L226.6 768.1 L229.6 768.5 L232.6 768.9 L235.6 769.3 L238.6 769.7 L241.6 770.2 L244.6 770.6 L247.6 771 L250.6 771.4 L253.6 771.8 L256.6 772.2 L259.6 772.6 L262.6 773 L265.6 773.4 L268.6 773.8 L271.6 774.3 L274.6 774.7 L277.6 775.1 L280.6 775.5 L283.6 775.8 L286.6 776.2 L289.6 776.6 L292.6 777 L295.6 777.3 L298.6 777.7 L301.6 778 L304.6 778.4 L307.6 778.7 L310.6 779 L313.6 779.4 L316.6 779.7 L319.6 780 L322.6 780.3 L325.6 780.5 L328.6 780.8 L331.6 781 L334.6 781.2 L337.6 781.3 L340.6 781.5 L343.6 781.6 L346.6 781.7 L349.6 781.9 L352.6 782 L355.6 782.1 L358.6 782.3 L361.6 782.4 L364.6 782.5 L367.6 782.6 L370.6 782.7 L373.6 782.8 L376.6 782.9 L379.6 783 L382.6 783.1 L385.6 783.2 L388.6 783.3 L391.6 783.4 L394.6 783.4 L397.6 783.5 L400.6 783.6 L403.6 783.6 L406.6 783.7 L409.6 783.7 L412.6 783.8 L415.6 783.8 L418.6 783.9 L421.6 783.9 L424.6 784 L427.6 784 L430.6 784.1 L433.6 784.1 L436.6 784.2 L439.6 784.2 L442.6 784.3 L445.6 784.3 L448.6 784.4 L451.6 784.4 L454.6 784.4 L457.6 784.5 L460.6 784.5 L463.6 784.5 L466.6 784.6 L469.6 784.6 L472.6 784.6 L475.6 784.7 L478.6 784.7 L481.6 784.7 L484.6 784.8 L487.6 784.8 L490.6 784.8 L493.6 784.9 L496.6 784.9 L499.6 784.9 L502.6 784.9 L505.6 785 L508.6 785 L511.6 785 L514.6 785.1 L517.6 785.1 L520.6 785.1 L523.6 785.2 L526.6 785.2 L529.6 785.2 L532.6 785.3 L535.6 785.3 L538.6 785.3 L541.6 785.3 L544.6 785.4 L547.6 785.4 L550.6 785.4 L553.6 785.4 L556.6 785.5 L559.6 785.5 L562.6 785.5 L565.6 785.5 L568.6 785.5 L571.6 785.6 L574.6 785.6 L577.6 785.6 L580.6 785.6 L583.6 785.6 L586.6 785.7 L589.6 785.7 L592.6 785.7 L595.6 785.7 L598.6 785.7 L601.6 785.7 L604.6 785.7 L607.6 785.8 L610.6 785.8 L613.6 785.8 L616.6 785.8 L619.6 785.8 L622.6 785.8 L625.6 785.8 L628.6 785.8 L631.6 785.8 L634.6 785.8 L637.6 785.8 L640.6 785.8 L643.6 785.8 L646.6 785.8 L649.6 785.8 L652.6 785.8 L655.6 785.8 L658.6 785.8 L661.6 785.8 L664.6 785.8 L667.6 785.8 L670.6 785.8 L673.6 785.8 L676.6 785.8 L679.6 785.8 L682.6 785.8 L685.6 785.8 L688.6 785.8 L691.6 785.8 L694.6 785.8 L697.6 785.8 L700.6 785.8 L703.6 785.8 L706.6 785.8 L709 785.8" stroke="#5bbd4e" stroke-width="1.15" fill="none"/><path d="M79.6 749.5 L82.6 749.8 L85.6 750.1 L88.6 750.4 L91.6 750.7 L94.6 751 L97.6 751.2 L100.6 751.5 L103.6 751.8 L106.6 752.1 L109.6 752.4 L112.6 752.7 L115.6 753 L118.6 753.3 L121.6 753.6 L124.6 753.9 L127.6 754.2 L130.6 754.5 L133.6 754.8 L136.6 755.1 L139.6 755.4 L142.6 755.7 L145.6 756 L148.6 756.3 L151.6 756.6 L154.6 757 L157.6 757.3 L160.6 757.6 L163.6 757.9 L166.6 758.2 L169.6 758.5 L172.6 758.8 L175.6 759.1 L178.6 759.4 L181.6 759.8 L184.6 760.1 L187.6 760.4 L190.6 760.7 L193.6 761 L196.6 761.3 L199.6 761.6 L202.6 762 L205.6 762.3 L208.6 762.6 L211.6 762.9 L214.6 763.2 L217.6 763.5 L220.6 763.8 L223.6 764.1 L226.6 764.5 L229.6 764.8 L232.6 765.1 L235.6 765.4 L238.6 765.7 L241.6 766 L244.6 766.3 L247.6 766.6 L250.6 767 L253.6 767.3 L256.6 767.6 L259.6 767.9 L262.6 768.2 L265.6 768.5 L268.6 768.8 L271.6 769.1 L274.6 769.4 L277.6 769.8 L280.6 770.1 L283.6 770.4 L286.6 770.7 L289.6 771 L292.6 771.3 L295.6 771.6 L298.6 772 L301.6 772.3 L304.6 772.6 L307.6 772.9 L310.6 773.2 L313.6 773.5 L316.6 773.9 L319.6 774.2 L322.6 774.5 L325.6 774.8 L328.6 775.1 L331.6 775.4 L334.6 775.7 L337.6 776 L340.6 776.3 L343.6 776.6 L346.6 776.8 L349.6 777.1 L352.6 777.4 L355.6 777.6 L358.6 777.9 L361.6 778.1 L364.6 778.4 L367.6 778.6 L370.6 778.9 L373.6 779.1 L376.6 779.4 L379.6 779.6 L382.6 779.8 L385.6 780.1 L388.6 780.3 L391.6 780.4 L394.6 780.6 L397.6 780.8 L400.6 781 L403.6 781.1 L406.6 781.3 L409.6 781.4 L412.6 781.5 L415.6 781.7 L418.6 781.8 L421.6 781.9 L424.6 782 L427.6 782.1 L430.6 782.2 L433.6 782.3 L436.6 782.4 L439.6 782.5 L442.6 782.6 L445.6 782.7 L448.6 782.7 L451.6 782.8 L454.6 782.9 L457.6 783 L460.6 783 L463.6 783.1 L466.6 783.2 L469.6 783.2 L472.6 783.3 L475.6 783.3 L478.6 783.4 L481.6 783.5 L484.6 783.5 L487.6 783.6 L490.6 783.6 L493.6 783.7 L496.6 783.7 L499.6 783.8 L502.6 783.8 L505.6 783.8 L508.6 783.9 L511.6 783.9 L514.6 784 L517.6 784 L520.6 784.1 L523.6 784.1 L526.6 784.1 L529.6 784.2 L532.6 784.2 L535.6 784.2 L538.6 784.3 L541.6 784.3 L544.6 784.3 L547.6 784.4 L550.6 784.4 L553.6 784.4 L556.6 784.4 L559.6 784.5 L562.6 784.5 L565.6 784.5 L568.6 784.6 L571.6 784.6 L574.6 784.6 L577.6 784.6 L580.6 784.7 L583.6 784.7 L586.6 784.7 L589.6 784.7 L592.6 784.7 L595.6 784.8 L598.6 784.8 L601.6 784.8 L604.6 784.8 L607.6 784.9 L610.6 784.9 L613.6 784.9 L616.6 784.9 L619.6 785 L622.6 785 L625.6 785 L628.6 785 L631.6 785 L634.6 785.1 L637.6 785.1 L640.6 785.1 L643.6 785.1 L646.6 785.2 L649.6 785.2 L652.6 785.2 L655.6 785.2 L658.6 785.2 L661.6 785.3 L664.6 785.3 L667.6 785.3 L670.6 785.3 L673.6 785.4 L676.6 785.4 L679.6 785.4 L682.6 785.4 L685.6 785.4 L688.6 785.5 L691.6 785.5 L694.6 785.5 L697.6 785.5 L700.6 785.6 L703.6 785.6 L706.6 785.6 L709 785.6" stroke="#dd3358" stroke-width="1.15" fill="none"/><path d="M79.6 751.7 L82.6 752 L85.6 752.3 L88.6 752.6 L91.6 752.8 L94.6 753.1 L97.6 753.4 L100.6 753.7 L103.6 754 L106.6 754.3 L109.6 754.6 L112.6 754.9 L115.6 755.1 L118.6 755.4 L121.6 755.7 L124.6 756 L127.6 756.3 L130.6 756.6 L133.6 756.9 L136.6 757.2 L139.6 757.5 L142.6 757.8 L145.6 758.1 L148.6 758.4 L151.6 758.7 L154.6 759 L157.6 759.3 L160.6 759.6 L163.6 759.9 L166.6 760.2 L169.6 760.5 L172.6 760.8 L175.6 761.1 L178.6 761.4 L181.6 761.7 L184.6 762 L187.6 762.3 L190.6 762.6 L193.6 762.9 L196.6 763.3 L199.6 763.6 L202.6 763.9 L205.6 764.2 L208.6 764.5 L211.6 764.8 L214.6 765.1 L217.6 765.4 L220.6 765.7 L223.6 766 L226.6 766.3 L229.6 766.6 L232.6 766.9 L235.6 767.2 L238.6 767.5 L241.6 767.8 L244.6 768.1 L247.6 768.4 L250.6 768.7 L253.6 769 L256.6 769.4 L259.6 769.7 L262.6 770 L265.6 770.3 L268.6 770.6 L271.6 770.9 L274.6 771.2 L277.6 771.5 L280.6 771.8 L283.6 772.1 L286.6 772.4 L289.6 772.7 L292.6 773 L295.6 773.3 L298.6 773.6 L301.6 773.9 L304.6 774.2 L307.6 774.5 L310.6 774.9 L313.6 775.2 L316.6 775.5 L319.6 775.8 L322.6 776.1 L325.6 776.4 L328.6 776.7 L331.6 776.9 L334.6 777.2 L337.6 777.5 L340.6 777.7 L343.6 778 L346.6 778.2 L349.6 778.5 L352.6 778.7 L355.6 778.9 L358.6 779.1 L361.6 779.3 L364.6 779.6 L367.6 779.8 L370.6 780 L373.6 780.3 L376.6 780.5 L379.6 780.7 L382.6 781 L385.6 781.2 L388.6 781.3 L391.6 781.5 L394.6 781.6 L397.6 781.7 L400.6 781.9 L403.6 782 L406.6 782.1 L409.6 782.1 L412.6 782.2 L415.6 782.3 L418.6 782.4 L421.6 782.5 L424.6 782.6 L427.6 782.7 L430.6 782.8 L433.6 782.9 L436.6 783 L439.6 783.1 L442.6 783.1 L445.6 783.2 L448.6 783.3 L451.6 783.4 L454.6 783.4 L457.6 783.5 L460.6 783.5 L463.6 783.6 L466.6 783.6 L469.6 783.7 L472.6 783.7 L475.6 783.8 L478.6 783.8 L481.6 783.9 L484.6 783.9 L487.6 783.9 L490.6 784 L493.6 784 L496.6 784.1 L499.6 784.1 L502.6 784.1 L505.6 784.2 L508.6 784.2 L511.6 784.2 L514.6 784.3 L517.6 784.3 L520.6 784.3 L523.6 784.4 L526.6 784.4 L529.6 784.4 L532.6 784.5 L535.6 784.5 L538.6 784.5 L541.6 784.6 L544.6 784.6 L547.6 784.6 L550.6 784.6 L553.6 784.7 L556.6 784.7 L559.6 784.7 L562.6 784.7 L565.6 784.8 L568.6 784.8 L571.6 784.8 L574.6 784.8 L577.6 784.9 L580.6 784.9 L583.6 784.9 L586.6 784.9 L589.6 784.9 L592.6 785 L595.6 785 L598.6 785 L601.6 785 L604.6 785 L607.6 785.1 L610.6 785.1 L613.6 785.1 L616.6 785.1 L619.6 785.1 L622.6 785.2 L625.6 785.2 L628.6 785.2 L631.6 785.2 L634.6 785.3 L637.6 785.3 L640.6 785.3 L643.6 785.3 L646.6 785.3 L649.6 785.4 L652.6 785.4 L655.6 785.4 L658.6 785.4 L661.6 785.5 L664.6 785.5 L667.6 785.5 L670.6 785.5 L673.6 785.5 L676.6 785.6 L679.6 785.6 L682.6 785.6 L685.6 785.6 L688.6 785.6 L691.6 785.7 L694.6 785.7 L697.6 785.7 L700.6 785.7 L703.6 785.8 L706.6 785.8 L709 785.8" stroke="#b62ca6" stroke-width="1.15" fill="none"/><path d="M79.6 753.2 L82.6 753.6 L85.6 753.9 L88.6 754.3 L91.6 754.6 L94.6 755 L97.6 755.3 L100.6 755.7 L103.6 756 L106.6 756.4 L109.6 756.8 L112.6 757.1 L115.6 757.5 L118.6 757.8 L121.6 758.2 L124.6 758.6 L127.6 758.9 L130.6 759.3 L133.6 759.7 L136.6 760 L139.6 760.4 L142.6 760.7 L145.6 761.1 L148.6 761.5 L151.6 761.9 L154.6 762.2 L157.6 762.6 L160.6 763 L163.6 763.3 L166.6 763.7 L169.6 764.1 L172.6 764.5 L175.6 764.8 L178.6 765.2 L181.6 765.6 L184.6 766 L187.6 766.4 L190.6 766.7 L193.6 767.1 L196.6 767.5 L199.6 767.9 L202.6 768.2 L205.6 768.6 L208.6 769 L211.6 769.4 L214.6 769.8 L217.6 770.2 L220.6 770.5 L223.6 770.9 L226.6 771.3 L229.6 771.7 L232.6 772.1 L235.6 772.4 L238.6 772.8 L241.6 773.2 L244.6 773.5 L247.6 773.9 L250.6 774.2 L253.6 774.6 L256.6 775 L259.6 775.3 L262.6 775.7 L265.6 776 L268.6 776.4 L271.6 776.7 L274.6 777.1 L277.6 777.4 L280.6 777.8 L283.6 778.1 L286.6 778.4 L289.6 778.7 L292.6 779 L295.6 779.3 L298.6 779.6 L301.6 779.9 L304.6 780.1 L307.6 780.4 L310.6 780.7 L313.6 780.9 L316.6 781.2 L319.6 781.4 L322.6 781.6 L325.6 781.8 L328.6 782 L331.6 782.1 L334.6 782.3 L337.6 782.4 L340.6 782.5 L343.6 782.6 L346.6 782.7 L349.6 782.8 L352.6 782.9 L355.6 783 L358.6 783.1 L361.6 783.2 L364.6 783.3 L367.6 783.4 L370.6 783.5 L373.6 783.6 L376.6 783.6 L379.6 783.7 L382.6 783.8 L385.6 783.8 L388.6 783.9 L391.6 783.9 L394.6 784 L397.6 784 L400.6 784.1 L403.6 784.1 L406.6 784.2 L409.6 784.2 L412.6 784.3 L415.6 784.3 L418.6 784.4 L421.6 784.4 L424.6 784.4 L427.6 784.5 L430.6 784.5 L433.6 784.6 L436.6 784.6 L439.6 784.6 L442.6 784.7 L445.6 784.7 L448.6 784.7 L451.6 784.8 L454.6 784.8 L457.6 784.8 L460.6 784.8 L463.6 784.9 L466.6 784.9 L469.6 784.9 L472.6 785 L475.6 785 L478.6 785 L481.6 785 L484.6 785.1 L487.6 785.1 L490.6 785.1 L493.6 785.1 L496.6 785.2 L499.6 785.2 L502.6 785.2 L505.6 785.2 L508.6 785.3 L511.6 785.3 L514.6 785.3 L517.6 785.4 L520.6 785.4 L523.6 785.4 L526.6 785.5 L529.6 785.5 L532.6 785.5 L535.6 785.5 L538.6 785.6 L541.6 785.6 L544.6 785.6 L547.6 785.6 L550.6 785.6 L553.6 785.6 L556.6 785.7 L559.6 785.7 L562.6 785.7 L565.6 785.7 L568.6 785.7 L571.6 785.7 L574.6 785.7 L577.6 785.7 L580.6 785.7 L583.6 785.7 L586.6 785.7 L589.6 785.7 L592.6 785.8 L595.6 785.8 L598.6 785.8 L601.6 785.8 L604.6 785.8 L607.6 785.8 L610.6 785.8 L613.6 785.8 L616.6 785.8 L619.6 785.8 L622.6 785.8 L625.6 785.8 L628.6 785.8 L631.6 785.8 L634.6 785.8 L637.6 785.8 L640.6 785.8 L643.6 785.8 L646.6 785.8 L649.6 785.8 L652.6 785.8 L655.6 785.8 L658.6 785.8 L661.6 785.8 L664.6 785.8 L667.6 785.8 L670.6 785.8 L673.6 785.8 L676.6 785.8 L679.6 785.8 L682.6 785.8 L685.6 785.8 L688.6 785.8 L691.6 785.8 L694.6 785.8 L697.6 785.8 L700.6 785.8 L703.6 785.8 L706.6 785.8 L709 785.8" stroke="#dd3358" stroke-width="1.15" fill="none"/><path d="M79.6 754.5 L82.6 754.7 L85.6 754.9 L88.6 755.2 L91.6 755.4 L94.6 755.6 L97.6 755.8 L100.6 756.1 L103.6 756.3 L106.6 756.5 L109.6 756.7 L112.6 757 L115.6 757.2 L118.6 757.4 L121.6 757.6 L124.6 757.9 L127.6 758.1 L130.6 758.3 L133.6 758.6 L136.6 758.8 L139.6 759 L142.6 759.2 L145.6 759.5 L148.6 759.7 L151.6 759.9 L154.6 760.2 L157.6 760.4 L160.6 760.6 L163.6 760.9 L166.6 761.1 L169.6 761.4 L172.6 761.6 L175.6 761.8 L178.6 762.1 L181.6 762.3 L184.6 762.5 L187.6 762.8 L190.6 763 L193.6 763.3 L196.6 763.5 L199.6 763.7 L202.6 764 L205.6 764.2 L208.6 764.4 L211.6 764.7 L214.6 764.9 L217.6 765.2 L220.6 765.4 L223.6 765.6 L226.6 765.9 L229.6 766.1 L232.6 766.4 L235.6 766.6 L238.6 766.8 L241.6 767.1 L244.6 767.3 L247.6 767.6 L250.6 767.8 L253.6 768 L256.6 768.3 L259.6 768.5 L262.6 768.8 L265.6 769 L268.6 769.2 L271.6 769.5 L274.6 769.7 L277.6 769.9 L280.6 770.2 L283.6 770.4 L286.6 770.7 L289.6 770.9 L292.6 771.1 L295.6 771.4 L298.6 771.6 L301.6 771.9 L304.6 772.1 L307.6 772.3 L310.6 772.6 L313.6 772.8 L316.6 773 L319.6 773.3 L322.6 773.5 L325.6 773.8 L328.6 774 L331.6 774.2 L334.6 774.5 L337.6 774.7 L340.6 775 L343.6 775.2 L346.6 775.4 L349.6 775.7 L352.6 775.9 L355.6 776.2 L358.6 776.4 L361.6 776.6 L364.6 776.9 L367.6 777.1 L370.6 777.3 L373.6 777.5 L376.6 777.8 L379.6 778 L382.6 778.2 L385.6 778.4 L388.6 778.6 L391.6 778.8 L394.6 779 L397.6 779.2 L400.6 779.3 L403.6 779.5 L406.6 779.7 L409.6 779.9 L412.6 780.1 L415.6 780.2 L418.6 780.4 L421.6 780.6 L424.6 780.7 L427.6 780.9 L430.6 781 L433.6 781.2 L436.6 781.4 L439.6 781.5 L442.6 781.7 L445.6 781.8 L448.6 781.9 L451.6 782 L454.6 782.1 L457.6 782.2 L460.6 782.3 L463.6 782.4 L466.6 782.5 L469.6 782.6 L472.6 782.7 L475.6 782.7 L478.6 782.8 L481.6 782.9 L484.6 782.9 L487.6 783 L490.6 783.1 L493.6 783.1 L496.6 783.2 L499.6 783.2 L502.6 783.3 L505.6 783.3 L508.6 783.4 L511.6 783.4 L514.6 783.5 L517.6 783.5 L520.6 783.6 L523.6 783.6 L526.6 783.7 L529.6 783.7 L532.6 783.8 L535.6 783.8 L538.6 783.9 L541.6 783.9 L544.6 783.9 L547.6 784 L550.6 784 L553.6 784 L556.6 784.1 L559.6 784.1 L562.6 784.1 L565.6 784.2 L568.6 784.2 L571.6 784.2 L574.6 784.3 L577.6 784.3 L580.6 784.3 L583.6 784.4 L586.6 784.4 L589.6 784.4 L592.6 784.4 L595.6 784.5 L598.6 784.5 L601.6 784.5 L604.6 784.5 L607.6 784.6 L610.6 784.6 L613.6 784.6 L616.6 784.6 L619.6 784.7 L622.6 784.7 L625.6 784.7 L628.6 784.7 L631.6 784.7 L634.6 784.8 L637.6 784.8 L640.6 784.8 L643.6 784.8 L646.6 784.8 L649.6 784.9 L652.6 784.9 L655.6 784.9 L658.6 784.9 L661.6 784.9 L664.6 785 L667.6 785 L670.6 785 L673.6 785 L676.6 785 L679.6 785 L682.6 785.1 L685.6 785.1 L688.6 785.1 L691.6 785.1 L694.6 785.1 L697.6 785.1 L700.6 785.1 L703.6 785.2 L706.6 785.2 L709 785.2" stroke="#2a88d2" stroke-width="1.15" fill="none"/><path d="M79.6 756.5 L82.6 756.8 L85.6 757.1 L88.6 757.4 L91.6 757.7 L94.6 758.1 L97.6 758.4 L100.6 758.7 L103.6 759 L106.6 759.3 L109.6 759.6 L112.6 759.9 L115.6 760.3 L118.6 760.6 L121.6 760.9 L124.6 761.2 L127.6 761.5 L130.6 761.9 L133.6 762.2 L136.6 762.5 L139.6 762.8 L142.6 763.1 L145.6 763.5 L148.6 763.8 L151.6 764.1 L154.6 764.4 L157.6 764.8 L160.6 765.1 L163.6 765.4 L166.6 765.8 L169.6 766.1 L172.6 766.4 L175.6 766.8 L178.6 767.1 L181.6 767.4 L184.6 767.8 L187.6 768.1 L190.6 768.4 L193.6 768.7 L196.6 769.1 L199.6 769.4 L202.6 769.7 L205.6 770.1 L208.6 770.4 L211.6 770.7 L214.6 771.1 L217.6 771.4 L220.6 771.8 L223.6 772.1 L226.6 772.4 L229.6 772.8 L232.6 773.1 L235.6 773.4 L238.6 773.7 L241.6 774.1 L244.6 774.4 L247.6 774.7 L250.6 775 L253.6 775.3 L256.6 775.7 L259.6 776 L262.6 776.3 L265.6 776.6 L268.6 776.9 L271.6 777.2 L274.6 777.6 L277.6 777.9 L280.6 778.2 L283.6 778.5 L286.6 778.8 L289.6 779 L292.6 779.3 L295.6 779.6 L298.6 779.9 L301.6 780.1 L304.6 780.4 L307.6 780.6 L310.6 780.9 L313.6 781.1 L316.6 781.4 L319.6 781.6 L322.6 781.8 L325.6 782 L328.6 782.2 L331.6 782.3 L334.6 782.4 L337.6 782.5 L340.6 782.6 L343.6 782.7 L346.6 782.8 L349.6 782.9 L352.6 783 L355.6 783.1 L358.6 783.2 L361.6 783.3 L364.6 783.4 L367.6 783.5 L370.6 783.6 L373.6 783.6 L376.6 783.7 L379.6 783.8 L382.6 783.8 L385.6 783.9 L388.6 784 L391.6 784 L394.6 784.1 L397.6 784.1 L400.6 784.2 L403.6 784.2 L406.6 784.3 L409.6 784.3 L412.6 784.3 L415.6 784.4 L418.6 784.4 L421.6 784.4 L424.6 784.5 L427.6 784.5 L430.6 784.6 L433.6 784.6 L436.6 784.6 L439.6 784.7 L442.6 784.7 L445.6 784.7 L448.6 784.8 L451.6 784.8 L454.6 784.8 L457.6 784.8 L460.6 784.9 L463.6 784.9 L466.6 784.9 L469.6 784.9 L472.6 785 L475.6 785 L478.6 785 L481.6 785 L484.6 785.1 L487.6 785.1 L490.6 785.1 L493.6 785.1 L496.6 785.2 L499.6 785.2 L502.6 785.2 L505.6 785.2 L508.6 785.3 L511.6 785.3 L514.6 785.3 L517.6 785.3 L520.6 785.4 L523.6 785.4 L526.6 785.4 L529.6 785.4 L532.6 785.5 L535.6 785.5 L538.6 785.5 L541.6 785.5 L544.6 785.5 L547.6 785.6 L550.6 785.6 L553.6 785.6 L556.6 785.6 L559.6 785.6 L562.6 785.6 L565.6 785.6 L568.6 785.6 L571.6 785.7 L574.6 785.7 L577.6 785.7 L580.6 785.7 L583.6 785.7 L586.6 785.7 L589.6 785.7 L592.6 785.7 L595.6 785.7 L598.6 785.8 L601.6 785.8 L604.6 785.8 L607.6 785.8 L610.6 785.8 L613.6 785.8 L616.6 785.8 L619.6 785.8 L622.6 785.8 L625.6 785.8 L628.6 785.8 L631.6 785.8 L634.6 785.8 L637.6 785.8 L640.6 785.8 L643.6 785.8 L646.6 785.8 L649.6 785.8 L652.6 785.8 L655.6 785.8 L658.6 785.8 L661.6 785.8 L664.6 785.8 L667.6 785.8 L670.6 785.8 L673.6 785.8 L676.6 785.8 L679.6 785.8 L682.6 785.8 L685.6 785.8 L688.6 785.8 L691.6 785.8 L694.6 785.8 L697.6 785.8 L700.6 785.8 L703.6 785.8 L706.6 785.8 L709 785.8" stroke="#40c3d4" stroke-width="1.15" fill="none"/><path d="M79.6 757.7 L82.6 758 L85.6 758.3 L88.6 758.6 L91.6 758.9 L94.6 759.2 L97.6 759.5 L100.6 759.8 L103.6 760.1 L106.6 760.4 L109.6 760.7 L112.6 761 L115.6 761.3 L118.6 761.6 L121.6 761.9 L124.6 762.2 L127.6 762.5 L130.6 762.8 L133.6 763.1 L136.6 763.4 L139.6 763.7 L142.6 764 L145.6 764.3 L148.6 764.6 L151.6 764.9 L154.6 765.2 L157.6 765.5 L160.6 765.9 L163.6 766.2 L166.6 766.5 L169.6 766.8 L172.6 767.1 L175.6 767.4 L178.6 767.8 L181.6 768.1 L184.6 768.4 L187.6 768.7 L190.6 769 L193.6 769.3 L196.6 769.6 L199.6 770 L202.6 770.3 L205.6 770.6 L208.6 770.9 L211.6 771.2 L214.6 771.5 L217.6 771.9 L220.6 772.2 L223.6 772.5 L226.6 772.8 L229.6 773.1 L232.6 773.4 L235.6 773.8 L238.6 774.1 L241.6 774.4 L244.6 774.7 L247.6 775 L250.6 775.3 L253.6 775.6 L256.6 775.9 L259.6 776.2 L262.6 776.5 L265.6 776.8 L268.6 777.1 L271.6 777.4 L274.6 777.7 L277.6 778 L280.6 778.3 L283.6 778.6 L286.6 778.9 L289.6 779.1 L292.6 779.4 L295.6 779.7 L298.6 779.9 L301.6 780.2 L304.6 780.4 L307.6 780.7 L310.6 780.9 L313.6 781.2 L316.6 781.4 L319.6 781.6 L322.6 781.8 L325.6 782 L328.6 782.2 L331.6 782.3 L334.6 782.5 L337.6 782.6 L340.6 782.7 L343.6 782.8 L346.6 782.9 L349.6 783 L352.6 783.1 L355.6 783.2 L358.6 783.3 L361.6 783.3 L364.6 783.4 L367.6 783.5 L370.6 783.6 L373.6 783.6 L376.6 783.7 L379.6 783.8 L382.6 783.9 L385.6 783.9 L388.6 784 L391.6 784 L394.6 784.1 L397.6 784.1 L400.6 784.2 L403.6 784.2 L406.6 784.3 L409.6 784.3 L412.6 784.3 L415.6 784.4 L418.6 784.4 L421.6 784.5 L424.6 784.5 L427.6 784.5 L430.6 784.6 L433.6 784.6 L436.6 784.6 L439.6 784.7 L442.6 784.7 L445.6 784.7 L448.6 784.8 L451.6 784.8 L454.6 784.8 L457.6 784.9 L460.6 784.9 L463.6 784.9 L466.6 784.9 L469.6 785 L472.6 785 L475.6 785 L478.6 785 L481.6 785 L484.6 785.1 L487.6 785.1 L490.6 785.1 L493.6 785.1 L496.6 785.2 L499.6 785.2 L502.6 785.2 L505.6 785.2 L508.6 785.2 L511.6 785.3 L514.6 785.3 L517.6 785.3 L520.6 785.3 L523.6 785.4 L526.6 785.4 L529.6 785.4 L532.6 785.4 L535.6 785.5 L538.6 785.5 L541.6 785.5 L544.6 785.5 L547.6 785.5 L550.6 785.5 L553.6 785.6 L556.6 785.6 L559.6 785.6 L562.6 785.6 L565.6 785.6 L568.6 785.6 L571.6 785.6 L574.6 785.7 L577.6 785.7 L580.6 785.7 L583.6 785.7 L586.6 785.7 L589.6 785.7 L592.6 785.7 L595.6 785.7 L598.6 785.7 L601.6 785.8 L604.6 785.8 L607.6 785.8 L610.6 785.8 L613.6 785.8 L616.6 785.8 L619.6 785.8 L622.6 785.8 L625.6 785.8 L628.6 785.8 L631.6 785.8 L634.6 785.8 L637.6 785.8 L640.6 785.8 L643.6 785.8 L646.6 785.8 L649.6 785.8 L652.6 785.8 L655.6 785.8 L658.6 785.8 L661.6 785.8 L664.6 785.8 L667.6 785.8 L670.6 785.8 L673.6 785.8 L676.6 785.8 L679.6 785.8 L682.6 785.8 L685.6 785.8 L688.6 785.8 L691.6 785.8 L694.6 785.8 L697.6 785.8 L700.6 785.8 L703.6 785.8 L706.6 785.8 L709 785.8" stroke="#40c3d4" stroke-width="1.15" fill="none"/><path d="M79.6 759 L82.6 759.2 L85.6 759.5 L88.6 759.7 L91.6 760 L94.6 760.2 L97.6 760.5 L100.6 760.7 L103.6 760.9 L106.6 761.2 L109.6 761.4 L112.6 761.7 L115.6 761.9 L118.6 762.2 L121.6 762.4 L124.6 762.7 L127.6 762.9 L130.6 763.2 L133.6 763.4 L136.6 763.7 L139.6 763.9 L142.6 764.2 L145.6 764.4 L148.6 764.7 L151.6 765 L154.6 765.2 L157.6 765.5 L160.6 765.7 L163.6 766 L166.6 766.2 L169.6 766.5 L172.6 766.8 L175.6 767 L178.6 767.3 L181.6 767.6 L184.6 767.8 L187.6 768.1 L190.6 768.3 L193.6 768.6 L196.6 768.9 L199.6 769.1 L202.6 769.4 L205.6 769.6 L208.6 769.9 L211.6 770.2 L214.6 770.4 L217.6 770.7 L220.6 770.9 L223.6 771.2 L226.6 771.5 L229.6 771.7 L232.6 772 L235.6 772.2 L238.6 772.5 L241.6 772.8 L244.6 773 L247.6 773.3 L250.6 773.5 L253.6 773.8 L256.6 774.1 L259.6 774.3 L262.6 774.6 L265.6 774.9 L268.6 775.1 L271.6 775.4 L274.6 775.7 L277.6 775.9 L280.6 776.2 L283.6 776.5 L286.6 776.7 L289.6 777 L292.6 777.2 L295.6 777.5 L298.6 777.7 L301.6 778 L304.6 778.2 L307.6 778.4 L310.6 778.7 L313.6 778.9 L316.6 779.1 L319.6 779.4 L322.6 779.6 L325.6 779.8 L328.6 780 L331.6 780.2 L334.6 780.4 L337.6 780.6 L340.6 780.8 L343.6 781 L346.6 781.2 L349.6 781.4 L352.6 781.6 L355.6 781.8 L358.6 782 L361.6 782.1 L364.6 782.2 L367.6 782.4 L370.6 782.5 L373.6 782.6 L376.6 782.7 L379.6 782.8 L382.6 782.9 L385.6 782.9 L388.6 783 L391.6 783.1 L394.6 783.2 L397.6 783.3 L400.6 783.4 L403.6 783.4 L406.6 783.5 L409.6 783.6 L412.6 783.7 L415.6 783.7 L418.6 783.8 L421.6 783.9 L424.6 783.9 L427.6 784 L430.6 784 L433.6 784 L436.6 784.1 L439.6 784.1 L442.6 784.2 L445.6 784.2 L448.6 784.2 L451.6 784.3 L454.6 784.3 L457.6 784.4 L460.6 784.4 L463.6 784.4 L466.6 784.5 L469.6 784.5 L472.6 784.5 L475.6 784.6 L478.6 784.6 L481.6 784.6 L484.6 784.6 L487.6 784.7 L490.6 784.7 L493.6 784.7 L496.6 784.8 L499.6 784.8 L502.6 784.8 L505.6 784.8 L508.6 784.8 L511.6 784.9 L514.6 784.9 L517.6 784.9 L520.6 784.9 L523.6 785 L526.6 785 L529.6 785 L532.6 785 L535.6 785 L538.6 785.1 L541.6 785.1 L544.6 785.1 L547.6 785.1 L550.6 785.1 L553.6 785.1 L556.6 785.2 L559.6 785.2 L562.6 785.2 L565.6 785.2 L568.6 785.3 L571.6 785.3 L574.6 785.3 L577.6 785.3 L580.6 785.3 L583.6 785.4 L586.6 785.4 L589.6 785.4 L592.6 785.4 L595.6 785.4 L598.6 785.5 L601.6 785.5 L604.6 785.5 L607.6 785.5 L610.6 785.5 L613.6 785.5 L616.6 785.6 L619.6 785.6 L622.6 785.6 L625.6 785.6 L628.6 785.6 L631.6 785.6 L634.6 785.6 L637.6 785.6 L640.6 785.6 L643.6 785.7 L646.6 785.7 L649.6 785.7 L652.6 785.7 L655.6 785.7 L658.6 785.7 L661.6 785.7 L664.6 785.7 L667.6 785.7 L670.6 785.7 L673.6 785.7 L676.6 785.8 L679.6 785.8 L682.6 785.8 L685.6 785.8 L688.6 785.8 L691.6 785.8 L694.6 785.8 L697.6 785.8 L700.6 785.8 L703.6 785.8 L706.6 785.8 L709 785.8" stroke="#40c3d4" stroke-width="1.15" fill="none"/><path d="M79.6 760 L82.6 760.2 L85.6 760.4 L88.6 760.6 L91.6 760.9 L94.6 761.1 L97.6 761.3 L100.6 761.5 L103.6 761.7 L106.6 761.9 L109.6 762.2 L112.6 762.4 L115.6 762.6 L118.6 762.8 L121.6 763.1 L124.6 763.3 L127.6 763.5 L130.6 763.7 L133.6 763.9 L136.6 764.2 L139.6 764.4 L142.6 764.6 L145.6 764.8 L148.6 765.1 L151.6 765.3 L154.6 765.5 L157.6 765.7 L160.6 766 L163.6 766.2 L166.6 766.4 L169.6 766.7 L172.6 766.9 L175.6 767.1 L178.6 767.4 L181.6 767.6 L184.6 767.8 L187.6 768.1 L190.6 768.3 L193.6 768.5 L196.6 768.8 L199.6 769 L202.6 769.2 L205.6 769.4 L208.6 769.7 L211.6 769.9 L214.6 770.1 L217.6 770.4 L220.6 770.6 L223.6 770.8 L226.6 771.1 L229.6 771.3 L232.6 771.5 L235.6 771.8 L238.6 772 L241.6 772.2 L244.6 772.5 L247.6 772.7 L250.6 772.9 L253.6 773.1 L256.6 773.4 L259.6 773.6 L262.6 773.8 L265.6 774.1 L268.6 774.3 L271.6 774.5 L274.6 774.8 L277.6 775 L280.6 775.2 L283.6 775.5 L286.6 775.7 L289.6 775.9 L292.6 776.1 L295.6 776.4 L298.6 776.6 L301.6 776.8 L304.6 777.1 L307.6 777.3 L310.6 777.5 L313.6 777.8 L316.6 778 L319.6 778.2 L322.6 778.5 L325.6 778.7 L328.6 778.9 L331.6 779.1 L334.6 779.3 L337.6 779.5 L340.6 779.7 L343.6 779.9 L346.6 780.1 L349.6 780.3 L352.6 780.4 L355.6 780.6 L358.6 780.8 L361.6 780.9 L364.6 781.1 L367.6 781.3 L370.6 781.5 L373.6 781.6 L376.6 781.8 L379.6 782 L382.6 782.2 L385.6 782.3 L388.6 782.4 L391.6 782.6 L394.6 782.7 L397.6 782.7 L400.6 782.8 L403.6 782.9 L406.6 783 L409.6 783 L412.6 783.1 L415.6 783.2 L418.6 783.3 L421.6 783.3 L424.6 783.4 L427.6 783.5 L430.6 783.5 L433.6 783.6 L436.6 783.7 L439.6 783.7 L442.6 783.8 L445.6 783.9 L448.6 783.9 L451.6 784 L454.6 784 L457.6 784 L460.6 784.1 L463.6 784.1 L466.6 784.2 L469.6 784.2 L472.6 784.2 L475.6 784.3 L478.6 784.3 L481.6 784.3 L484.6 784.4 L487.6 784.4 L490.6 784.4 L493.6 784.5 L496.6 784.5 L499.6 784.5 L502.6 784.5 L505.6 784.6 L508.6 784.6 L511.6 784.6 L514.6 784.7 L517.6 784.7 L520.6 784.7 L523.6 784.7 L526.6 784.8 L529.6 784.8 L532.6 784.8 L535.6 784.8 L538.6 784.8 L541.6 784.9 L544.6 784.9 L547.6 784.9 L550.6 784.9 L553.6 785 L556.6 785 L559.6 785 L562.6 785 L565.6 785 L568.6 785 L571.6 785.1 L574.6 785.1 L577.6 785.1 L580.6 785.1 L583.6 785.1 L586.6 785.1 L589.6 785.2 L592.6 785.2 L595.6 785.2 L598.6 785.2 L601.6 785.2 L604.6 785.2 L607.6 785.2 L610.6 785.3 L613.6 785.3 L616.6 785.3 L619.6 785.3 L622.6 785.3 L625.6 785.3 L628.6 785.4 L631.6 785.4 L634.6 785.4 L637.6 785.4 L640.6 785.4 L643.6 785.4 L646.6 785.5 L649.6 785.5 L652.6 785.5 L655.6 785.5 L658.6 785.5 L661.6 785.5 L664.6 785.6 L667.6 785.6 L670.6 785.6 L673.6 785.6 L676.6 785.6 L679.6 785.6 L682.6 785.7 L685.6 785.7 L688.6 785.7 L691.6 785.7 L694.6 785.7 L697.6 785.7 L700.6 785.8 L703.6 785.8 L706.6 785.8 L709 785.8" stroke="#40c3d4" stroke-width="1.15" fill="none"/><path d="M79.6 761 L82.6 761.2 L85.6 761.4 L88.6 761.6 L91.6 761.8 L94.6 762 L97.6 762.2 L100.6 762.4 L103.6 762.6 L106.6 762.8 L109.6 763.1 L112.6 763.3 L115.6 763.5 L118.6 763.7 L121.6 763.9 L124.6 764.1 L127.6 764.3 L130.6 764.5 L133.6 764.7 L136.6 765 L139.6 765.2 L142.6 765.4 L145.6 765.6 L148.6 765.8 L151.6 766 L154.6 766.2 L157.6 766.5 L160.6 766.7 L163.6 766.9 L166.6 767.1 L169.6 767.3 L172.6 767.5 L175.6 767.8 L178.6 768 L181.6 768.2 L184.6 768.4 L187.6 768.6 L190.6 768.9 L193.6 769.1 L196.6 769.3 L199.6 769.5 L202.6 769.7 L205.6 770 L208.6 770.2 L211.6 770.4 L214.6 770.6 L217.6 770.8 L220.6 771.1 L223.6 771.3 L226.6 771.5 L229.6 771.7 L232.6 771.9 L235.6 772.2 L238.6 772.4 L241.6 772.6 L244.6 772.8 L247.6 773 L250.6 773.3 L253.6 773.5 L256.6 773.7 L259.6 773.9 L262.6 774.1 L265.6 774.4 L268.6 774.6 L271.6 774.8 L274.6 775 L277.6 775.2 L280.6 775.5 L283.6 775.7 L286.6 775.9 L289.6 776.1 L292.6 776.3 L295.6 776.5 L298.6 776.8 L301.6 777 L304.6 777.2 L307.6 777.4 L310.6 777.7 L313.6 777.9 L316.6 778.1 L319.6 778.3 L322.6 778.5 L325.6 778.8 L328.6 779 L331.6 779.2 L334.6 779.4 L337.6 779.6 L340.6 779.8 L343.6 779.9 L346.6 780.1 L349.6 780.3 L352.6 780.5 L355.6 780.6 L358.6 780.8 L361.6 780.9 L364.6 781.1 L367.6 781.3 L370.6 781.5 L373.6 781.6 L376.6 781.8 L379.6 782 L382.6 782.1 L385.6 782.3 L388.6 782.4 L391.6 782.5 L394.6 782.6 L397.6 782.7 L400.6 782.8 L403.6 782.9 L406.6 783 L409.6 783 L412.6 783.1 L415.6 783.2 L418.6 783.3 L421.6 783.3 L424.6 783.4 L427.6 783.5 L430.6 783.5 L433.6 783.6 L436.6 783.7 L439.6 783.7 L442.6 783.8 L445.6 783.9 L448.6 783.9 L451.6 784 L454.6 784 L457.6 784 L460.6 784.1 L463.6 784.1 L466.6 784.2 L469.6 784.2 L472.6 784.2 L475.6 784.3 L478.6 784.3 L481.6 784.3 L484.6 784.4 L487.6 784.4 L490.6 784.4 L493.6 784.5 L496.6 784.5 L499.6 784.5 L502.6 784.5 L505.6 784.6 L508.6 784.6 L511.6 784.6 L514.6 784.7 L517.6 784.7 L520.6 784.7 L523.6 784.7 L526.6 784.8 L529.6 784.8 L532.6 784.8 L535.6 784.8 L538.6 784.8 L541.6 784.9 L544.6 784.9 L547.6 784.9 L550.6 784.9 L553.6 784.9 L556.6 785 L559.6 785 L562.6 785 L565.6 785 L568.6 785 L571.6 785.1 L574.6 785.1 L577.6 785.1 L580.6 785.1 L583.6 785.1 L586.6 785.1 L589.6 785.1 L592.6 785.2 L595.6 785.2 L598.6 785.2 L601.6 785.2 L604.6 785.2 L607.6 785.2 L610.6 785.2 L613.6 785.3 L616.6 785.3 L619.6 785.3 L622.6 785.3 L625.6 785.3 L628.6 785.3 L631.6 785.4 L634.6 785.4 L637.6 785.4 L640.6 785.4 L643.6 785.4 L646.6 785.4 L649.6 785.5 L652.6 785.5 L655.6 785.5 L658.6 785.5 L661.6 785.5 L664.6 785.5 L667.6 785.5 L670.6 785.6 L673.6 785.6 L676.6 785.6 L679.6 785.6 L682.6 785.6 L685.6 785.6 L688.6 785.7 L691.6 785.7 L694.6 785.7 L697.6 785.7 L700.6 785.7 L703.6 785.7 L706.6 785.8 L709 785.8" stroke="#2a88d2" stroke-width="1.15" fill="none"/><path d="M79.6 762 L82.6 762.4 L85.6 762.9 L88.6 763.4 L91.6 763.8 L94.6 764.3 L97.6 764.7 L100.6 765.2 L103.6 765.7 L106.6 766.1 L109.6 766.6 L112.6 767.1 L115.6 767.5 L118.6 768 L121.6 768.5 L124.6 769 L127.6 769.5 L130.6 770 L133.6 770.5 L136.6 770.9 L139.6 771.4 L142.6 771.9 L145.6 772.4 L148.6 772.9 L151.6 773.4 L154.6 773.9 L157.6 774.5 L160.6 775 L163.6 775.5 L166.6 776.1 L169.6 776.6 L172.6 777.1 L175.6 777.7 L178.6 778.2 L181.6 778.7 L184.6 779.2 L187.6 779.7 L190.6 780.2 L193.6 780.7 L196.6 781.2 L199.6 781.8 L202.6 782.4 L205.6 782.9 L208.6 783.5 L211.6 784 L214.6 784.5 L217.6 784.9 L220.6 785.3 L223.6 785.5 L226.6 785.7 L229.6 785.8 L232.6 785.8 L235.6 785.8 L238.6 785.8 L241.6 785.8 L244.6 785.8 L247.6 785.8 L250.6 785.8 L253.6 785.8 L256.6 785.8 L259.6 785.8 L262.6 785.8 L265.6 785.8 L268.6 785.8 L271.6 785.8 L274.6 785.8 L277.6 785.8 L280.6 785.8 L283.6 785.8 L286.6 785.8 L289.6 785.8 L292.6 785.8 L295.6 785.8 L298.6 785.8 L301.6 785.8 L304.6 785.8 L307.6 785.8 L310.6 785.8 L313.6 785.8 L316.6 785.8 L319.6 785.8 L322.6 785.8 L325.6 785.8 L328.6 785.8 L331.6 785.8 L334.6 785.8 L337.6 785.8 L340.6 785.8 L343.6 785.8 L346.6 785.8 L349.6 785.8 L352.6 785.8 L355.6 785.8 L358.6 785.8 L361.6 785.8 L364.6 785.8 L367.6 785.8 L370.6 785.8 L373.6 785.8 L376.6 785.8 L379.6 785.8 L382.6 785.8 L385.6 785.8 L388.6 785.8 L391.6 785.8 L394.6 785.8 L397.6 785.8 L400.6 785.8 L403.6 785.8 L406.6 785.8 L409.6 785.8 L412.6 785.8 L415.6 785.8 L418.6 785.8 L421.6 785.8 L424.6 785.8 L427.6 785.8 L430.6 785.8 L433.6 785.8 L436.6 785.8 L439.6 785.8 L442.6 785.8 L445.6 785.8 L448.6 785.8 L451.6 785.8 L454.6 785.8 L457.6 785.8 L460.6 785.8 L463.6 785.8 L466.6 785.8 L469.6 785.8 L472.6 785.8 L475.6 785.8 L478.6 785.8 L481.6 785.8 L484.6 785.8 L487.6 785.8 L490.6 785.8 L493.6 785.8 L496.6 785.8 L499.6 785.8 L502.6 785.8 L505.6 785.8 L508.6 785.8 L511.6 785.8 L514.6 785.8 L517.6 785.8 L520.6 785.8 L523.6 785.8 L526.6 785.8 L529.6 785.8 L532.6 785.8 L535.6 785.8 L538.6 785.8 L541.6 785.8 L544.6 785.8 L547.6 785.8 L550.6 785.8 L553.6 785.8 L556.6 785.8 L559.6 785.8 L562.6 785.8 L565.6 785.8 L568.6 785.8 L571.6 785.8 L574.6 785.8 L577.6 785.8 L580.6 785.8 L583.6 785.8 L586.6 785.8 L589.6 785.8 L592.6 785.8 L595.6 785.8 L598.6 785.8 L601.6 785.8 L604.6 785.8 L607.6 785.8 L610.6 785.8 L613.6 785.8 L616.6 785.8 L619.6 785.8 L622.6 785.8 L625.6 785.8 L628.6 785.8 L631.6 785.8 L634.6 785.8 L637.6 785.8 L640.6 785.8 L643.6 785.8 L646.6 785.8 L649.6 785.8 L652.6 785.8 L655.6 785.8 L658.6 785.8 L661.6 785.8 L664.6 785.8 L667.6 785.8 L670.6 785.8 L673.6 785.8 L676.6 785.8 L679.6 785.8 L682.6 785.8 L685.6 785.8 L688.6 785.8 L691.6 785.8 L694.6 785.8 L697.6 785.8 L700.6 785.8 L703.6 785.8 L706.6 785.8 L709 785.8" stroke="#b62ca6" stroke-width="1.15" fill="none"/><path d="M79.6 762.9 L82.6 763.1 L85.6 763.3 L88.6 763.5 L91.6 763.7 L94.6 763.9 L97.6 764.1 L100.6 764.3 L103.6 764.5 L106.6 764.8 L109.6 765 L112.6 765.2 L115.6 765.4 L118.6 765.6 L121.6 765.8 L124.6 766 L127.6 766.2 L130.6 766.4 L133.6 766.7 L136.6 766.9 L139.6 767.1 L142.6 767.3 L145.6 767.5 L148.6 767.7 L151.6 767.9 L154.6 768.2 L157.6 768.4 L160.6 768.6 L163.6 768.8 L166.6 769 L169.6 769.2 L172.6 769.5 L175.6 769.7 L178.6 769.9 L181.6 770.1 L184.6 770.4 L187.6 770.6 L190.6 770.8 L193.6 771 L196.6 771.2 L199.6 771.5 L202.6 771.7 L205.6 771.9 L208.6 772.1 L211.6 772.3 L214.6 772.6 L217.6 772.8 L220.6 773 L223.6 773.2 L226.6 773.4 L229.6 773.7 L232.6 773.9 L235.6 774.1 L238.6 774.3 L241.6 774.5 L244.6 774.8 L247.6 775 L250.6 775.2 L253.6 775.4 L256.6 775.6 L259.6 775.9 L262.6 776.1 L265.6 776.3 L268.6 776.5 L271.6 776.8 L274.6 777 L277.6 777.2 L280.6 777.4 L283.6 777.7 L286.6 777.9 L289.6 778.1 L292.6 778.3 L295.6 778.5 L298.6 778.7 L301.6 778.9 L304.6 779.1 L307.6 779.3 L310.6 779.6 L313.6 779.8 L316.6 780 L319.6 780.1 L322.6 780.3 L325.6 780.5 L328.6 780.7 L331.6 780.9 L334.6 781 L337.6 781.2 L340.6 781.4 L343.6 781.5 L346.6 781.7 L349.6 781.9 L352.6 782 L355.6 782.2 L358.6 782.4 L361.6 782.5 L364.6 782.6 L367.6 782.7 L370.6 782.8 L373.6 782.9 L376.6 783 L379.6 783.1 L382.6 783.2 L385.6 783.3 L388.6 783.4 L391.6 783.4 L394.6 783.5 L397.6 783.6 L400.6 783.7 L403.6 783.7 L406.6 783.8 L409.6 783.9 L412.6 783.9 L415.6 784 L418.6 784 L421.6 784.1 L424.6 784.1 L427.6 784.2 L430.6 784.2 L433.6 784.2 L436.6 784.3 L439.6 784.3 L442.6 784.4 L445.6 784.4 L448.6 784.4 L451.6 784.5 L454.6 784.5 L457.6 784.5 L460.6 784.6 L463.6 784.6 L466.6 784.6 L469.6 784.6 L472.6 784.7 L475.6 784.7 L478.6 784.7 L481.6 784.8 L484.6 784.8 L487.6 784.8 L490.6 784.8 L493.6 784.8 L496.6 784.9 L499.6 784.9 L502.6 784.9 L505.6 784.9 L508.6 785 L511.6 785 L514.6 785 L517.6 785 L520.6 785 L523.6 785 L526.6 785.1 L529.6 785.1 L532.6 785.1 L535.6 785.1 L538.6 785.1 L541.6 785.2 L544.6 785.2 L547.6 785.2 L550.6 785.2 L553.6 785.2 L556.6 785.2 L559.6 785.3 L562.6 785.3 L565.6 785.3 L568.6 785.3 L571.6 785.3 L574.6 785.3 L577.6 785.4 L580.6 785.4 L583.6 785.4 L586.6 785.4 L589.6 785.4 L592.6 785.4 L595.6 785.5 L598.6 785.5 L601.6 785.5 L604.6 785.5 L607.6 785.5 L610.6 785.5 L613.6 785.5 L616.6 785.6 L619.6 785.6 L622.6 785.6 L625.6 785.6 L628.6 785.6 L631.6 785.6 L634.6 785.6 L637.6 785.6 L640.6 785.6 L643.6 785.7 L646.6 785.7 L649.6 785.7 L652.6 785.7 L655.6 785.7 L658.6 785.7 L661.6 785.7 L664.6 785.7 L667.6 785.7 L670.6 785.7 L673.6 785.7 L676.6 785.7 L679.6 785.7 L682.6 785.8 L685.6 785.8 L688.6 785.8 L691.6 785.8 L694.6 785.8 L697.6 785.8 L700.6 785.8 L703.6 785.8 L706.6 785.8 L709 785.8" stroke="#141414" stroke-width="1.15" fill="none"/><path d="M79.6 763.9 L82.6 764.1 L85.6 764.3 L88.6 764.5 L91.6 764.7 L94.6 764.9 L97.6 765.1 L100.6 765.3 L103.6 765.5 L106.6 765.7 L109.6 765.9 L112.6 766.1 L115.6 766.3 L118.6 766.5 L121.6 766.8 L124.6 767 L127.6 767.2 L130.6 767.4 L133.6 767.6 L136.6 767.8 L139.6 768 L142.6 768.2 L145.6 768.4 L148.6 768.6 L151.6 768.9 L154.6 769.1 L157.6 769.3 L160.6 769.5 L163.6 769.7 L166.6 769.9 L169.6 770.1 L172.6 770.4 L175.6 770.6 L178.6 770.8 L181.6 771 L184.6 771.2 L187.6 771.4 L190.6 771.7 L193.6 771.9 L196.6 772.1 L199.6 772.3 L202.6 772.5 L205.6 772.7 L208.6 773 L211.6 773.2 L214.6 773.4 L217.6 773.6 L220.6 773.8 L223.6 774 L226.6 774.3 L229.6 774.5 L232.6 774.7 L235.6 774.9 L238.6 775.1 L241.6 775.3 L244.6 775.6 L247.6 775.8 L250.6 776 L253.6 776.2 L256.6 776.4 L259.6 776.6 L262.6 776.9 L265.6 777.1 L268.6 777.3 L271.6 777.5 L274.6 777.8 L277.6 778 L280.6 778.2 L283.6 778.4 L286.6 778.6 L289.6 778.8 L292.6 779.1 L295.6 779.3 L298.6 779.5 L301.6 779.7 L304.6 779.9 L307.6 780 L310.6 780.2 L313.6 780.4 L316.6 780.6 L319.6 780.8 L322.6 780.9 L325.6 781.1 L328.6 781.3 L331.6 781.5 L334.6 781.6 L337.6 781.8 L340.6 781.9 L343.6 782.1 L346.6 782.3 L349.6 782.4 L352.6 782.6 L355.6 782.7 L358.6 782.9 L361.6 783 L364.6 783.1 L367.6 783.2 L370.6 783.3 L373.6 783.3 L376.6 783.4 L379.6 783.5 L382.6 783.5 L385.6 783.6 L388.6 783.7 L391.6 783.7 L394.6 783.8 L397.6 783.9 L400.6 783.9 L403.6 784 L406.6 784 L409.6 784.1 L412.6 784.1 L415.6 784.2 L418.6 784.2 L421.6 784.3 L424.6 784.3 L427.6 784.4 L430.6 784.4 L433.6 784.4 L436.6 784.5 L439.6 784.5 L442.6 784.5 L445.6 784.6 L448.6 784.6 L451.6 784.6 L454.6 784.6 L457.6 784.7 L460.6 784.7 L463.6 784.7 L466.6 784.8 L469.6 784.8 L472.6 784.8 L475.6 784.8 L478.6 784.9 L481.6 784.9 L484.6 784.9 L487.6 784.9 L490.6 784.9 L493.6 785 L496.6 785 L499.6 785 L502.6 785 L505.6 785 L508.6 785.1 L511.6 785.1 L514.6 785.1 L517.6 785.1 L520.6 785.1 L523.6 785.2 L526.6 785.2 L529.6 785.2 L532.6 785.2 L535.6 785.2 L538.6 785.2 L541.6 785.2 L544.6 785.3 L547.6 785.3 L550.6 785.3 L553.6 785.3 L556.6 785.3 L559.6 785.3 L562.6 785.4 L565.6 785.4 L568.6 785.4 L571.6 785.4 L574.6 785.4 L577.6 785.4 L580.6 785.5 L583.6 785.5 L586.6 785.5 L589.6 785.5 L592.6 785.5 L595.6 785.6 L598.6 785.6 L601.6 785.6 L604.6 785.6 L607.6 785.6 L610.6 785.6 L613.6 785.6 L616.6 785.7 L619.6 785.7 L622.6 785.7 L625.6 785.7 L628.6 785.7 L631.6 785.7 L634.6 785.7 L637.6 785.7 L640.6 785.7 L643.6 785.7 L646.6 785.7 L649.6 785.7 L652.6 785.7 L655.6 785.7 L658.6 785.7 L661.6 785.8 L664.6 785.8 L667.6 785.8 L670.6 785.8 L673.6 785.8 L676.6 785.8 L679.6 785.8 L682.6 785.8 L685.6 785.8 L688.6 785.8 L691.6 785.8 L694.6 785.8 L697.6 785.8 L700.6 785.8 L703.6 785.8 L706.6 785.8 L709 785.8" stroke="#141414" stroke-width="1.15" fill="none"/><path d="M79.6 765.5 L82.6 765.7 L85.6 765.9 L88.6 766.1 L91.6 766.3 L94.6 766.5 L97.6 766.6 L100.6 766.8 L103.6 767 L106.6 767.2 L109.6 767.4 L112.6 767.6 L115.6 767.8 L118.6 768 L121.6 768.2 L124.6 768.4 L127.6 768.6 L130.6 768.8 L133.6 769 L136.6 769.2 L139.6 769.4 L142.6 769.6 L145.6 769.8 L148.6 770 L151.6 770.2 L154.6 770.4 L157.6 770.6 L160.6 770.8 L163.6 771 L166.6 771.2 L169.6 771.4 L172.6 771.6 L175.6 771.8 L178.6 772 L181.6 772.2 L184.6 772.4 L187.6 772.7 L190.6 772.9 L193.6 773.1 L196.6 773.3 L199.6 773.5 L202.6 773.7 L205.6 773.9 L208.6 774.1 L211.6 774.3 L214.6 774.5 L217.6 774.7 L220.6 774.9 L223.6 775.1 L226.6 775.3 L229.6 775.5 L232.6 775.7 L235.6 775.9 L238.6 776.1 L241.6 776.3 L244.6 776.5 L247.6 776.8 L250.6 777 L253.6 777.2 L256.6 777.4 L259.6 777.6 L262.6 777.8 L265.6 778 L268.6 778.2 L271.6 778.4 L274.6 778.6 L277.6 778.9 L280.6 779.1 L283.6 779.3 L286.6 779.5 L289.6 779.7 L292.6 779.9 L295.6 780.1 L298.6 780.2 L301.6 780.4 L304.6 780.6 L307.6 780.8 L310.6 780.9 L313.6 781.1 L316.6 781.2 L319.6 781.4 L322.6 781.6 L325.6 781.7 L328.6 781.9 L331.6 782 L334.6 782.2 L337.6 782.4 L340.6 782.5 L343.6 782.7 L346.6 782.8 L349.6 782.9 L352.6 783.1 L355.6 783.2 L358.6 783.3 L361.6 783.4 L364.6 783.5 L367.6 783.5 L370.6 783.6 L373.6 783.7 L376.6 783.7 L379.6 783.8 L382.6 783.8 L385.6 783.9 L388.6 784 L391.6 784 L394.6 784.1 L397.6 784.1 L400.6 784.2 L403.6 784.2 L406.6 784.3 L409.6 784.3 L412.6 784.4 L415.6 784.4 L418.6 784.5 L421.6 784.5 L424.6 784.5 L427.6 784.6 L430.6 784.6 L433.6 784.6 L436.6 784.6 L439.6 784.7 L442.6 784.7 L445.6 784.7 L448.6 784.8 L451.6 784.8 L454.6 784.8 L457.6 784.8 L460.6 784.8 L463.6 784.9 L466.6 784.9 L469.6 784.9 L472.6 784.9 L475.6 785 L478.6 785 L481.6 785 L484.6 785 L487.6 785 L490.6 785.1 L493.6 785.1 L496.6 785.1 L499.6 785.1 L502.6 785.1 L505.6 785.2 L508.6 785.2 L511.6 785.2 L514.6 785.2 L517.6 785.2 L520.6 785.2 L523.6 785.2 L526.6 785.3 L529.6 785.3 L532.6 785.3 L535.6 785.3 L538.6 785.3 L541.6 785.3 L544.6 785.3 L547.6 785.4 L550.6 785.4 L553.6 785.4 L556.6 785.4 L559.6 785.4 L562.6 785.4 L565.6 785.5 L568.6 785.5 L571.6 785.5 L574.6 785.5 L577.6 785.5 L580.6 785.5 L583.6 785.6 L586.6 785.6 L589.6 785.6 L592.6 785.6 L595.6 785.6 L598.6 785.7 L601.6 785.7 L604.6 785.7 L607.6 785.7 L610.6 785.7 L613.6 785.7 L616.6 785.7 L619.6 785.7 L622.6 785.7 L625.6 785.8 L628.6 785.8 L631.6 785.8 L634.6 785.8 L637.6 785.8 L640.6 785.8 L643.6 785.8 L646.6 785.8 L649.6 785.8 L652.6 785.8 L655.6 785.8 L658.6 785.8 L661.6 785.8 L664.6 785.8 L667.6 785.8 L670.6 785.8 L673.6 785.8 L676.6 785.8 L679.6 785.8 L682.6 785.8 L685.6 785.8 L688.6 785.8 L691.6 785.8 L694.6 785.8 L697.6 785.8 L700.6 785.8 L703.6 785.8 L706.6 785.8 L709 785.8" stroke="#40c3d4" stroke-width="1.15" fill="none"/><path d="M79.6 769.1 L82.6 769.3 L85.6 769.5 L88.6 769.7 L91.6 769.9 L94.6 770.1 L97.6 770.2 L100.6 770.4 L103.6 770.6 L106.6 770.8 L109.6 771 L112.6 771.2 L115.6 771.4 L118.6 771.6 L121.6 771.8 L124.6 772 L127.6 772.2 L130.6 772.4 L133.6 772.6 L136.6 772.8 L139.6 773 L142.6 773.2 L145.6 773.4 L148.6 773.6 L151.6 773.8 L154.6 773.9 L157.6 774.1 L160.6 774.3 L163.6 774.5 L166.6 774.8 L169.6 775 L172.6 775.2 L175.6 775.4 L178.6 775.6 L181.6 775.8 L184.6 776 L187.6 776.2 L190.6 776.4 L193.6 776.6 L196.6 776.8 L199.6 777 L202.6 777.2 L205.6 777.4 L208.6 777.6 L211.6 777.8 L214.6 778 L217.6 778.2 L220.6 778.4 L223.6 778.6 L226.6 778.8 L229.6 779 L232.6 779.2 L235.6 779.4 L238.6 779.6 L241.6 779.8 L244.6 780 L247.6 780.2 L250.6 780.4 L253.6 780.6 L256.6 780.8 L259.6 781 L262.6 781.2 L265.6 781.3 L268.6 781.5 L271.6 781.7 L274.6 781.9 L277.6 782.1 L280.6 782.3 L283.6 782.4 L286.6 782.6 L289.6 782.7 L292.6 782.9 L295.6 783 L298.6 783.2 L301.6 783.3 L304.6 783.4 L307.6 783.5 L310.6 783.6 L313.6 783.7 L316.6 783.8 L319.6 783.9 L322.6 783.9 L325.6 784 L328.6 784.1 L331.6 784.2 L334.6 784.2 L337.6 784.3 L340.6 784.3 L343.6 784.4 L346.6 784.4 L349.6 784.5 L352.6 784.5 L355.6 784.6 L358.6 784.6 L361.6 784.7 L364.6 784.7 L367.6 784.7 L370.6 784.8 L373.6 784.8 L376.6 784.8 L379.6 784.9 L382.6 784.9 L385.6 784.9 L388.6 784.9 L391.6 785 L394.6 785 L397.6 785 L400.6 785 L403.6 785.1 L406.6 785.1 L409.6 785.1 L412.6 785.1 L415.6 785.1 L418.6 785.2 L421.6 785.2 L424.6 785.2 L427.6 785.2 L430.6 785.2 L433.6 785.3 L436.6 785.3 L439.6 785.3 L442.6 785.3 L445.6 785.3 L448.6 785.3 L451.6 785.4 L454.6 785.4 L457.6 785.4 L460.6 785.4 L463.6 785.4 L466.6 785.4 L469.6 785.4 L472.6 785.5 L475.6 785.5 L478.6 785.5 L481.6 785.5 L484.6 785.5 L487.6 785.5 L490.6 785.5 L493.6 785.5 L496.6 785.6 L499.6 785.6 L502.6 785.6 L505.6 785.6 L508.6 785.6 L511.6 785.6 L514.6 785.7 L517.6 785.7 L520.6 785.7 L523.6 785.7 L526.6 785.7 L529.6 785.7 L532.6 785.8 L535.6 785.8 L538.6 785.8 L541.6 785.8 L544.6 785.8 L547.6 785.8 L550.6 785.8 L553.6 785.8 L556.6 785.8 L559.6 785.8 L562.6 785.8 L565.6 785.8 L568.6 785.8 L571.6 785.8 L574.6 785.8 L577.6 785.8 L580.6 785.8 L583.6 785.8 L586.6 785.8 L589.6 785.8 L592.6 785.8 L595.6 785.8 L598.6 785.8 L601.6 785.8 L604.6 785.8 L607.6 785.8 L610.6 785.8 L613.6 785.8 L616.6 785.8 L619.6 785.8 L622.6 785.8 L625.6 785.8 L628.6 785.8 L631.6 785.8 L634.6 785.8 L637.6 785.8 L640.6 785.8 L643.6 785.8 L646.6 785.8 L649.6 785.8 L652.6 785.8 L655.6 785.8 L658.6 785.8 L661.6 785.8 L664.6 785.8 L667.6 785.8 L670.6 785.8 L673.6 785.8 L676.6 785.8 L679.6 785.8 L682.6 785.8 L685.6 785.8 L688.6 785.8 L691.6 785.8 L694.6 785.8 L697.6 785.8 L700.6 785.8 L703.6 785.8 L706.6 785.8 L709 785.8" stroke="#dd3358" stroke-width="1.15" fill="none"/><path d="M79.6 776.4 L82.6 776.6 L85.6 776.8 L88.6 777 L91.6 777.2 L94.6 777.4 L97.6 777.6 L100.6 777.8 L103.6 778 L106.6 778.1 L109.6 778.3 L112.6 778.5 L115.6 778.7 L118.6 778.9 L121.6 779.1 L124.6 779.3 L127.6 779.5 L130.6 779.7 L133.6 779.9 L136.6 780.1 L139.6 780.3 L142.6 780.4 L145.6 780.6 L148.6 780.8 L151.6 781 L154.6 781.2 L157.6 781.4 L160.6 781.6 L163.6 781.9 L166.6 782.1 L169.6 782.3 L172.6 782.6 L175.6 782.8 L178.6 783.1 L181.6 783.3 L184.6 783.6 L187.6 783.8 L190.6 784 L193.6 784.2 L196.6 784.5 L199.6 784.7 L202.6 784.9 L205.6 785 L208.6 785.2 L211.6 785.3 L214.6 785.5 L217.6 785.6 L220.6 785.7 L223.6 785.7 L226.6 785.8 L229.6 785.8 L232.6 785.8 L235.6 785.8 L238.6 785.8 L241.6 785.8 L244.6 785.8 L247.6 785.8 L250.6 785.8 L253.6 785.8 L256.6 785.8 L259.6 785.8 L262.6 785.8 L265.6 785.8 L268.6 785.8 L271.6 785.8 L274.6 785.8 L277.6 785.8 L280.6 785.8 L283.6 785.8 L286.6 785.8 L289.6 785.8 L292.6 785.8 L295.6 785.8 L298.6 785.8 L301.6 785.8 L304.6 785.8 L307.6 785.8 L310.6 785.8 L313.6 785.8 L316.6 785.8 L319.6 785.8 L322.6 785.8 L325.6 785.8 L328.6 785.8 L331.6 785.8 L334.6 785.8 L337.6 785.8 L340.6 785.8 L343.6 785.8 L346.6 785.8 L349.6 785.8 L352.6 785.8 L355.6 785.8 L358.6 785.8 L361.6 785.8 L364.6 785.8 L367.6 785.8 L370.6 785.8 L373.6 785.8 L376.6 785.8 L379.6 785.8 L382.6 785.8 L385.6 785.8 L388.6 785.8 L391.6 785.8 L394.6 785.8 L397.6 785.8 L400.6 785.8 L403.6 785.8 L406.6 785.8 L409.6 785.8 L412.6 785.8 L415.6 785.8 L418.6 785.8 L421.6 785.8 L424.6 785.8 L427.6 785.8 L430.6 785.8 L433.6 785.8 L436.6 785.8 L439.6 785.8 L442.6 785.8 L445.6 785.8 L448.6 785.8 L451.6 785.8 L454.6 785.8 L457.6 785.8 L460.6 785.8 L463.6 785.8 L466.6 785.8 L469.6 785.8 L472.6 785.8 L475.6 785.8 L478.6 785.8 L481.6 785.8 L484.6 785.8 L487.6 785.8 L490.6 785.8 L493.6 785.8 L496.6 785.8 L499.6 785.8 L502.6 785.8 L505.6 785.8 L508.6 785.8 L511.6 785.8 L514.6 785.8 L517.6 785.8 L520.6 785.8 L523.6 785.8 L526.6 785.8 L529.6 785.8 L532.6 785.8 L535.6 785.8 L538.6 785.8 L541.6 785.8 L544.6 785.8 L547.6 785.8 L550.6 785.8 L553.6 785.8 L556.6 785.8 L559.6 785.8 L562.6 785.8 L565.6 785.8 L568.6 785.8 L571.6 785.8 L574.6 785.8 L577.6 785.8 L580.6 785.8 L583.6 785.8 L586.6 785.8 L589.6 785.8 L592.6 785.8 L595.6 785.8 L598.6 785.8 L601.6 785.8 L604.6 785.8 L607.6 785.8 L610.6 785.8 L613.6 785.8 L616.6 785.8 L619.6 785.8 L622.6 785.8 L625.6 785.8 L628.6 785.8 L631.6 785.8 L634.6 785.8 L637.6 785.8 L640.6 785.8 L643.6 785.8 L646.6 785.8 L649.6 785.8 L652.6 785.8 L655.6 785.8 L658.6 785.8 L661.6 785.8 L664.6 785.8 L667.6 785.8 L670.6 785.8 L673.6 785.8 L676.6 785.8 L679.6 785.8 L682.6 785.8 L685.6 785.8 L688.6 785.8 L691.6 785.8 L694.6 785.8 L697.6 785.8 L700.6 785.8 L703.6 785.8 L706.6 785.8 L709 785.8" stroke="#b62ca6" stroke-width="1.15" fill="none"/><path d="M79.6 782.6 L82.6 782.6 L85.6 782.7 L88.6 782.7 L91.6 782.7 L94.6 782.7 L97.6 782.8 L100.6 782.8 L103.6 782.8 L106.6 782.8 L109.6 782.9 L112.6 782.9 L115.6 782.9 L118.6 783 L121.6 783 L124.6 783 L127.6 783 L130.6 783.1 L133.6 783.1 L136.6 783.1 L139.6 783.1 L142.6 783.2 L145.6 783.2 L148.6 783.2 L151.6 783.3 L154.6 783.3 L157.6 783.3 L160.6 783.3 L163.6 783.4 L166.6 783.4 L169.6 783.4 L172.6 783.5 L175.6 783.5 L178.6 783.5 L181.6 783.5 L184.6 783.6 L187.6 783.6 L190.6 783.6 L193.6 783.7 L196.6 783.7 L199.6 783.7 L202.6 783.7 L205.6 783.8 L208.6 783.8 L211.6 783.8 L214.6 783.9 L217.6 783.9 L220.6 783.9 L223.6 783.9 L226.6 784 L229.6 784 L232.6 784 L235.6 784.1 L238.6 784.1 L241.6 784.1 L244.6 784.1 L247.6 784.2 L250.6 784.2 L253.6 784.2 L256.6 784.3 L259.6 784.3 L262.6 784.3 L265.6 784.3 L268.6 784.4 L271.6 784.4 L274.6 784.4 L277.6 784.5 L280.6 784.5 L283.6 784.5 L286.6 784.5 L289.6 784.6 L292.6 784.6 L295.6 784.6 L298.6 784.7 L301.6 784.7 L304.6 784.7 L307.6 784.7 L310.6 784.8 L313.6 784.8 L316.6 784.8 L319.6 784.9 L322.6 784.9 L325.6 784.9 L328.6 784.9 L331.6 785 L334.6 785 L337.6 785 L340.6 785 L343.6 785.1 L346.6 785.1 L349.6 785.1 L352.6 785.1 L355.6 785.2 L358.6 785.2 L361.6 785.2 L364.6 785.2 L367.6 785.2 L370.6 785.3 L373.6 785.3 L376.6 785.3 L379.6 785.3 L382.6 785.3 L385.6 785.4 L388.6 785.4 L391.6 785.4 L394.6 785.4 L397.6 785.4 L400.6 785.4 L403.6 785.4 L406.6 785.4 L409.6 785.5 L412.6 785.5 L415.6 785.5 L418.6 785.5 L421.6 785.5 L424.6 785.5 L427.6 785.5 L430.6 785.5 L433.6 785.5 L436.6 785.5 L439.6 785.5 L442.6 785.5 L445.6 785.6 L448.6 785.6 L451.6 785.6 L454.6 785.6 L457.6 785.6 L460.6 785.6 L463.6 785.6 L466.6 785.6 L469.6 785.6 L472.6 785.6 L475.6 785.6 L478.6 785.6 L481.6 785.6 L484.6 785.6 L487.6 785.6 L490.6 785.6 L493.6 785.6 L496.6 785.6 L499.6 785.6 L502.6 785.6 L505.6 785.6 L508.6 785.7 L511.6 785.7 L514.6 785.7 L517.6 785.7 L520.6 785.7 L523.6 785.7 L526.6 785.7 L529.6 785.7 L532.6 785.7 L535.6 785.7 L538.6 785.7 L541.6 785.7 L544.6 785.7 L547.6 785.7 L550.6 785.7 L553.6 785.7 L556.6 785.7 L559.6 785.7 L562.6 785.7 L565.6 785.7 L568.6 785.7 L571.6 785.7 L574.6 785.7 L577.6 785.7 L580.6 785.7 L583.6 785.7 L586.6 785.7 L589.6 785.7 L592.6 785.7 L595.6 785.7 L598.6 785.7 L601.6 785.7 L604.6 785.7 L607.6 785.7 L610.6 785.7 L613.6 785.7 L616.6 785.7 L619.6 785.7 L622.6 785.7 L625.6 785.7 L628.6 785.7 L631.6 785.7 L634.6 785.7 L637.6 785.8 L640.6 785.8 L643.6 785.8 L646.6 785.8 L649.6 785.8 L652.6 785.8 L655.6 785.8 L658.6 785.8 L661.6 785.8 L664.6 785.8 L667.6 785.8 L670.6 785.8 L673.6 785.8 L676.6 785.8 L679.6 785.8 L682.6 785.8 L685.6 785.8 L688.6 785.8 L691.6 785.8 L694.6 785.8 L697.6 785.8 L700.6 785.8 L703.6 785.8 L706.6 785.8 L709 785.8" stroke="#2a88d2" stroke-width="1.15" fill="none"/><path d="M79.6 785.5 L82.6 785.5 L85.6 785.5 L88.6 785.5 L91.6 785.5 L94.6 785.5 L97.6 785.5 L100.6 785.5 L103.6 785.5 L106.6 785.5 L109.6 785.5 L112.6 785.5 L115.6 785.5 L118.6 785.5 L121.6 785.5 L124.6 785.5 L127.6 785.5 L130.6 785.5 L133.6 785.5 L136.6 785.5 L139.6 785.5 L142.6 785.5 L145.6 785.5 L148.6 785.5 L151.6 785.5 L154.6 785.5 L157.6 785.5 L160.6 785.5 L163.6 785.5 L166.6 785.5 L169.6 785.5 L172.6 785.5 L175.6 785.5 L178.6 785.5 L181.6 785.5 L184.6 785.6 L187.6 785.6 L190.6 785.6 L193.6 785.6 L196.6 785.6 L199.6 785.6 L202.6 785.6 L205.6 785.6 L208.6 785.6 L211.6 785.6 L214.6 785.6 L217.6 785.6 L220.6 785.6 L223.6 785.6 L226.6 785.6 L229.6 785.6 L232.6 785.6 L235.6 785.6 L238.6 785.6 L241.6 785.6 L244.6 785.6 L247.6 785.6 L250.6 785.6 L253.6 785.6 L256.6 785.6 L259.6 785.6 L262.6 785.6 L265.6 785.6 L268.6 785.6 L271.6 785.6 L274.6 785.6 L277.6 785.6 L280.6 785.6 L283.6 785.6 L286.6 785.6 L289.6 785.6 L292.6 785.6 L295.6 785.6 L298.6 785.6 L301.6 785.6 L304.6 785.6 L307.6 785.6 L310.6 785.6 L313.6 785.6 L316.6 785.6 L319.6 785.6 L322.6 785.6 L325.6 785.6 L328.6 785.6 L331.6 785.6 L334.6 785.6 L337.6 785.6 L340.6 785.6 L343.6 785.6 L346.6 785.6 L349.6 785.6 L352.6 785.6 L355.6 785.6 L358.6 785.6 L361.6 785.6 L364.6 785.6 L367.6 785.6 L370.6 785.6 L373.6 785.6 L376.6 785.6 L379.6 785.6 L382.6 785.6 L385.6 785.6 L388.6 785.6 L391.6 785.6 L394.6 785.7 L397.6 785.7 L400.6 785.7 L403.6 785.7 L406.6 785.7 L409.6 785.7 L412.6 785.7 L415.6 785.7 L418.6 785.7 L421.6 785.7 L424.6 785.7 L427.6 785.7 L430.6 785.7 L433.6 785.7 L436.6 785.7 L439.6 785.7 L442.6 785.7 L445.6 785.7 L448.6 785.7 L451.6 785.7 L454.6 785.7 L457.6 785.7 L460.6 785.7 L463.6 785.7 L466.6 785.7 L469.6 785.7 L472.6 785.7 L475.6 785.7 L478.6 785.7 L481.6 785.7 L484.6 785.7 L487.6 785.7 L490.6 785.7 L493.6 785.7 L496.6 785.7 L499.6 785.7 L502.6 785.7 L505.6 785.7 L508.6 785.7 L511.6 785.7 L514.6 785.7 L517.6 785.7 L520.6 785.7 L523.6 785.7 L526.6 785.7 L529.6 785.7 L532.6 785.7 L535.6 785.7 L538.6 785.7 L541.6 785.7 L544.6 785.7 L547.6 785.7 L550.6 785.7 L553.6 785.7 L556.6 785.7 L559.6 785.7 L562.6 785.7 L565.6 785.7 L568.6 785.7 L571.6 785.7 L574.6 785.7 L577.6 785.7 L580.6 785.7 L583.6 785.7 L586.6 785.7 L589.6 785.7 L592.6 785.7 L595.6 785.7 L598.6 785.7 L601.6 785.7 L604.6 785.8 L607.6 785.8 L610.6 785.8 L613.6 785.8 L616.6 785.8 L619.6 785.8 L622.6 785.8 L625.6 785.8 L628.6 785.8 L631.6 785.8 L634.6 785.8 L637.6 785.8 L640.6 785.8 L643.6 785.8 L646.6 785.8 L649.6 785.8 L652.6 785.8 L655.6 785.8 L658.6 785.8 L661.6 785.8 L664.6 785.8 L667.6 785.8 L670.6 785.8 L673.6 785.8 L676.6 785.8 L679.6 785.8 L682.6 785.8 L685.6 785.8 L688.6 785.8 L691.6 785.8 L694.6 785.8 L697.6 785.8 L700.6 785.8 L703.6 785.8 L706.6 785.8 L709 785.8" stroke="#b62ca6" stroke-width="1.15" fill="none"/><path d="M79.6 789.6 L82.6 789.6 L85.6 789.5 L88.6 789.5 L91.6 789.4 L94.6 789.4 L97.6 789.4 L100.6 789.3 L103.6 789.3 L106.6 789.2 L109.6 789.2 L112.6 789.2 L115.6 789.1 L118.6 789.1 L121.6 789.1 L124.6 789 L127.6 789 L130.6 788.9 L133.6 788.9 L136.6 788.9 L139.6 788.8 L142.6 788.8 L145.6 788.7 L148.6 788.7 L151.6 788.7 L154.6 788.6 L157.6 788.6 L160.6 788.5 L163.6 788.5 L166.6 788.5 L169.6 788.4 L172.6 788.4 L175.6 788.3 L178.6 788.3 L181.6 788.3 L184.6 788.2 L187.6 788.2 L190.6 788.1 L193.6 788.1 L196.6 788 L199.6 788 L202.6 788 L205.6 787.9 L208.6 787.9 L211.6 787.8 L214.6 787.8 L217.6 787.7 L220.6 787.7 L223.6 787.6 L226.6 787.6 L229.6 787.5 L232.6 787.5 L235.6 787.4 L238.6 787.4 L241.6 787.3 L244.6 787.3 L247.6 787.2 L250.6 787.2 L253.6 787.1 L256.6 787.1 L259.6 787 L262.6 787 L265.6 787 L268.6 786.9 L271.6 786.9 L274.6 786.8 L277.6 786.8 L280.6 786.8 L283.6 786.7 L286.6 786.7 L289.6 786.7 L292.6 786.7 L295.6 786.6 L298.6 786.6 L301.6 786.6 L304.6 786.6 L307.6 786.6 L310.6 786.6 L313.6 786.6 L316.6 786.5 L319.6 786.5 L322.6 786.5 L325.6 786.5 L328.6 786.5 L331.6 786.5 L334.6 786.5 L337.6 786.5 L340.6 786.5 L343.6 786.4 L346.6 786.4 L349.6 786.4 L352.6 786.4 L355.6 786.4 L358.6 786.4 L361.6 786.4 L364.6 786.4 L367.6 786.4 L370.6 786.4 L373.6 786.3 L376.6 786.3 L379.6 786.3 L382.6 786.3 L385.6 786.3 L388.6 786.3 L391.6 786.3 L394.6 786.3 L397.6 786.3 L400.6 786.3 L403.6 786.2 L406.6 786.2 L409.6 786.2 L412.6 786.2 L415.6 786.2 L418.6 786.2 L421.6 786.2 L424.6 786.2 L427.6 786.2 L430.6 786.2 L433.6 786.2 L436.6 786.2 L439.6 786.1 L442.6 786.1 L445.6 786.1 L448.6 786.1 L451.6 786.1 L454.6 786.1 L457.6 786.1 L460.6 786.1 L463.6 786.1 L466.6 786.1 L469.6 786.1 L472.6 786.1 L475.6 786.1 L478.6 786.1 L481.6 786 L484.6 786 L487.6 786 L490.6 786 L493.6 786 L496.6 786 L499.6 786 L502.6 786 L505.6 786 L508.6 786 L511.6 786 L514.6 786 L517.6 786 L520.6 786 L523.6 786 L526.6 786 L529.6 786 L532.6 785.9 L535.6 785.9 L538.6 785.9 L541.6 785.9 L544.6 785.9 L547.6 785.9 L550.6 785.9 L553.6 785.9 L556.6 785.9 L559.6 785.9 L562.6 785.9 L565.6 785.9 L568.6 785.9 L571.6 785.9 L574.6 785.9 L577.6 785.9 L580.6 785.9 L583.6 785.9 L586.6 785.9 L589.6 785.9 L592.6 785.9 L595.6 785.9 L598.6 785.9 L601.6 785.9 L604.6 785.9 L607.6 785.8 L610.6 785.8 L613.6 785.8 L616.6 785.8 L619.6 785.8 L622.6 785.8 L625.6 785.8 L628.6 785.8 L631.6 785.8 L634.6 785.8 L637.6 785.8 L640.6 785.8 L643.6 785.8 L646.6 785.8 L649.6 785.8 L652.6 785.8 L655.6 785.8 L658.6 785.8 L661.6 785.8 L664.6 785.8 L667.6 785.8 L670.6 785.8 L673.6 785.8 L676.6 785.8 L679.6 785.8 L682.6 785.8 L685.6 785.8 L688.6 785.8 L691.6 785.8 L694.6 785.8 L697.6 785.8 L700.6 785.8 L703.6 785.8 L706.6 785.8 L709 785.8" stroke="#141414" stroke-width="1.15" fill="none"/><path d="M79.6 799 L82.6 798.9 L85.6 798.7 L88.6 798.6 L91.6 798.5 L94.6 798.4 L97.6 798.2 L100.6 798.1 L103.6 798 L106.6 797.9 L109.6 797.7 L112.6 797.6 L115.6 797.5 L118.6 797.3 L121.6 797.2 L124.6 797.1 L127.6 797 L130.6 796.8 L133.6 796.7 L136.6 796.6 L139.6 796.4 L142.6 796.3 L145.6 796.2 L148.6 796 L151.6 795.9 L154.6 795.8 L157.6 795.6 L160.6 795.5 L163.6 795.4 L166.6 795.2 L169.6 795.1 L172.6 795 L175.6 794.8 L178.6 794.7 L181.6 794.6 L184.6 794.4 L187.6 794.3 L190.6 794.2 L193.6 794 L196.6 793.9 L199.6 793.8 L202.6 793.6 L205.6 793.5 L208.6 793.4 L211.6 793.2 L214.6 793.1 L217.6 793 L220.6 792.8 L223.6 792.7 L226.6 792.6 L229.6 792.4 L232.6 792.3 L235.6 792.1 L238.6 792 L241.6 791.9 L244.6 791.7 L247.6 791.6 L250.6 791.5 L253.6 791.3 L256.6 791.2 L259.6 791.1 L262.6 790.9 L265.6 790.8 L268.6 790.6 L271.6 790.5 L274.6 790.4 L277.6 790.2 L280.6 790.1 L283.6 790 L286.6 789.8 L289.6 789.7 L292.6 789.6 L295.6 789.4 L298.6 789.3 L301.6 789.2 L304.6 789.1 L307.6 789 L310.6 788.9 L313.6 788.8 L316.6 788.7 L319.6 788.6 L322.6 788.5 L325.6 788.4 L328.6 788.3 L331.6 788.2 L334.6 788.1 L337.6 787.9 L340.6 787.8 L343.6 787.7 L346.6 787.7 L349.6 787.6 L352.6 787.5 L355.6 787.4 L358.6 787.4 L361.6 787.3 L364.6 787.3 L367.6 787.2 L370.6 787.2 L373.6 787.1 L376.6 787.1 L379.6 787.1 L382.6 787 L385.6 787 L388.6 787 L391.6 786.9 L394.6 786.9 L397.6 786.9 L400.6 786.8 L403.6 786.8 L406.6 786.8 L409.6 786.7 L412.6 786.7 L415.6 786.7 L418.6 786.7 L421.6 786.6 L424.6 786.6 L427.6 786.6 L430.6 786.6 L433.6 786.5 L436.6 786.5 L439.6 786.5 L442.6 786.5 L445.6 786.5 L448.6 786.5 L451.6 786.4 L454.6 786.4 L457.6 786.4 L460.6 786.4 L463.6 786.4 L466.6 786.4 L469.6 786.4 L472.6 786.3 L475.6 786.3 L478.6 786.3 L481.6 786.3 L484.6 786.3 L487.6 786.3 L490.6 786.3 L493.6 786.2 L496.6 786.2 L499.6 786.2 L502.6 786.2 L505.6 786.2 L508.6 786.2 L511.6 786.2 L514.6 786.2 L517.6 786.2 L520.6 786.2 L523.6 786.1 L526.6 786.1 L529.6 786.1 L532.6 786.1 L535.6 786.1 L538.6 786.1 L541.6 786.1 L544.6 786.1 L547.6 786.1 L550.6 786.1 L553.6 786.1 L556.6 786 L559.6 786 L562.6 786 L565.6 786 L568.6 786 L571.6 786 L574.6 786 L577.6 786 L580.6 785.9 L583.6 785.9 L586.6 785.9 L589.6 785.9 L592.6 785.9 L595.6 785.9 L598.6 785.9 L601.6 785.9 L604.6 785.9 L607.6 785.8 L610.6 785.8 L613.6 785.8 L616.6 785.8 L619.6 785.8 L622.6 785.8 L625.6 785.8 L628.6 785.8 L631.6 785.8 L634.6 785.8 L637.6 785.8 L640.6 785.8 L643.6 785.8 L646.6 785.8 L649.6 785.8 L652.6 785.8 L655.6 785.8 L658.6 785.8 L661.6 785.8 L664.6 785.8 L667.6 785.8 L670.6 785.8 L673.6 785.8 L676.6 785.8 L679.6 785.8 L682.6 785.8 L685.6 785.8 L688.6 785.8 L691.6 785.8 L694.6 785.8 L697.6 785.8 L700.6 785.8 L703.6 785.8 L706.6 785.8 L709 785.8" stroke="#2a88d2" stroke-width="1.15" fill="none"/><path d="M79.6 801 L82.6 800.9 L85.6 800.7 L88.6 800.6 L91.6 800.4 L94.6 800.3 L97.6 800.2 L100.6 800 L103.6 799.9 L106.6 799.8 L109.6 799.6 L112.6 799.5 L115.6 799.3 L118.6 799.2 L121.6 799 L124.6 798.9 L127.6 798.8 L130.6 798.6 L133.6 798.5 L136.6 798.3 L139.6 798.2 L142.6 798 L145.6 797.9 L148.6 797.8 L151.6 797.6 L154.6 797.5 L157.6 797.3 L160.6 797.2 L163.6 797 L166.6 796.9 L169.6 796.7 L172.6 796.6 L175.6 796.4 L178.6 796.3 L181.6 796.1 L184.6 796 L187.6 795.8 L190.6 795.7 L193.6 795.5 L196.6 795.4 L199.6 795.2 L202.6 795.1 L205.6 794.9 L208.6 794.8 L211.6 794.7 L214.6 794.5 L217.6 794.4 L220.6 794.2 L223.6 794.1 L226.6 793.9 L229.6 793.8 L232.6 793.6 L235.6 793.5 L238.6 793.3 L241.6 793.2 L244.6 793 L247.6 792.9 L250.6 792.7 L253.6 792.6 L256.6 792.4 L259.6 792.3 L262.6 792.1 L265.6 792 L268.6 791.8 L271.6 791.7 L274.6 791.5 L277.6 791.4 L280.6 791.2 L283.6 791.1 L286.6 790.9 L289.6 790.8 L292.6 790.6 L295.6 790.5 L298.6 790.4 L301.6 790.2 L304.6 790.1 L307.6 789.9 L310.6 789.8 L313.6 789.7 L316.6 789.6 L319.6 789.4 L322.6 789.3 L325.6 789.2 L328.6 789.1 L331.6 788.9 L334.6 788.8 L337.6 788.7 L340.6 788.6 L343.6 788.5 L346.6 788.4 L349.6 788.3 L352.6 788.2 L355.6 788 L358.6 787.9 L361.6 787.9 L364.6 787.8 L367.6 787.7 L370.6 787.7 L373.6 787.6 L376.6 787.6 L379.6 787.5 L382.6 787.5 L385.6 787.4 L388.6 787.4 L391.6 787.3 L394.6 787.3 L397.6 787.2 L400.6 787.2 L403.6 787.1 L406.6 787.1 L409.6 787 L412.6 787 L415.6 787 L418.6 786.9 L421.6 786.9 L424.6 786.9 L427.6 786.8 L430.6 786.8 L433.6 786.8 L436.6 786.8 L439.6 786.7 L442.6 786.7 L445.6 786.7 L448.6 786.7 L451.6 786.7 L454.6 786.6 L457.6 786.6 L460.6 786.6 L463.6 786.6 L466.6 786.6 L469.6 786.5 L472.6 786.5 L475.6 786.5 L478.6 786.5 L481.6 786.5 L484.6 786.5 L487.6 786.4 L490.6 786.4 L493.6 786.4 L496.6 786.4 L499.6 786.4 L502.6 786.4 L505.6 786.3 L508.6 786.3 L511.6 786.3 L514.6 786.3 L517.6 786.3 L520.6 786.3 L523.6 786.3 L526.6 786.3 L529.6 786.3 L532.6 786.2 L535.6 786.2 L538.6 786.2 L541.6 786.2 L544.6 786.2 L547.6 786.2 L550.6 786.2 L553.6 786.2 L556.6 786.2 L559.6 786.1 L562.6 786.1 L565.6 786.1 L568.6 786.1 L571.6 786.1 L574.6 786.1 L577.6 786.1 L580.6 786.1 L583.6 786 L586.6 786 L589.6 786 L592.6 786 L595.6 786 L598.6 786 L601.6 786 L604.6 786 L607.6 786 L610.6 786 L613.6 785.9 L616.6 785.9 L619.6 785.9 L622.6 785.9 L625.6 785.9 L628.6 785.9 L631.6 785.9 L634.6 785.9 L637.6 785.9 L640.6 785.9 L643.6 785.9 L646.6 785.9 L649.6 785.9 L652.6 785.9 L655.6 785.9 L658.6 785.9 L661.6 785.8 L664.6 785.8 L667.6 785.8 L670.6 785.8 L673.6 785.8 L676.6 785.8 L679.6 785.8 L682.6 785.8 L685.6 785.8 L688.6 785.8 L691.6 785.8 L694.6 785.8 L697.6 785.8 L700.6 785.8 L703.6 785.8 L706.6 785.8 L709 785.8" stroke="#141414" stroke-width="1.15" fill="none"/><path d="M79.6 805.5 L82.6 805.3 L85.6 805.1 L88.6 804.9 L91.6 804.7 L94.6 804.5 L97.6 804.3 L100.6 804.1 L103.6 803.9 L106.6 803.7 L109.6 803.5 L112.6 803.3 L115.6 803.1 L118.6 802.9 L121.6 802.7 L124.6 802.5 L127.6 802.3 L130.6 802.1 L133.6 801.9 L136.6 801.7 L139.6 801.5 L142.6 801.3 L145.6 801.1 L148.6 800.9 L151.6 800.6 L154.6 800.4 L157.6 800.2 L160.6 800 L163.6 799.8 L166.6 799.6 L169.6 799.4 L172.6 799.2 L175.6 799 L178.6 798.8 L181.6 798.5 L184.6 798.3 L187.6 798.1 L190.6 797.9 L193.6 797.7 L196.6 797.5 L199.6 797.3 L202.6 797.1 L205.6 796.8 L208.6 796.6 L211.6 796.4 L214.6 796.2 L217.6 796 L220.6 795.8 L223.6 795.6 L226.6 795.4 L229.6 795.1 L232.6 794.9 L235.6 794.7 L238.6 794.5 L241.6 794.3 L244.6 794.1 L247.6 793.9 L250.6 793.7 L253.6 793.5 L256.6 793.3 L259.6 793.1 L262.6 792.8 L265.6 792.6 L268.6 792.4 L271.6 792.2 L274.6 792 L277.6 791.8 L280.6 791.6 L283.6 791.4 L286.6 791.2 L289.6 791 L292.6 790.8 L295.6 790.6 L298.6 790.4 L301.6 790.2 L304.6 790.1 L307.6 789.9 L310.6 789.7 L313.6 789.6 L316.6 789.4 L319.6 789.2 L322.6 789.1 L325.6 788.9 L328.6 788.8 L331.6 788.7 L334.6 788.5 L337.6 788.4 L340.6 788.3 L343.6 788.2 L346.6 788.1 L349.6 788 L352.6 788 L355.6 787.9 L358.6 787.8 L361.6 787.8 L364.6 787.7 L367.6 787.7 L370.6 787.6 L373.6 787.5 L376.6 787.5 L379.6 787.4 L382.6 787.3 L385.6 787.3 L388.6 787.2 L391.6 787.2 L394.6 787.2 L397.6 787.1 L400.6 787.1 L403.6 787 L406.6 787 L409.6 787 L412.6 787 L415.6 786.9 L418.6 786.9 L421.6 786.9 L424.6 786.8 L427.6 786.8 L430.6 786.8 L433.6 786.8 L436.6 786.7 L439.6 786.7 L442.6 786.7 L445.6 786.7 L448.6 786.6 L451.6 786.6 L454.6 786.6 L457.6 786.6 L460.6 786.6 L463.6 786.5 L466.6 786.5 L469.6 786.5 L472.6 786.5 L475.6 786.5 L478.6 786.4 L481.6 786.4 L484.6 786.4 L487.6 786.4 L490.6 786.4 L493.6 786.4 L496.6 786.3 L499.6 786.3 L502.6 786.3 L505.6 786.3 L508.6 786.3 L511.6 786.3 L514.6 786.2 L517.6 786.2 L520.6 786.2 L523.6 786.2 L526.6 786.2 L529.6 786.2 L532.6 786.2 L535.6 786.1 L538.6 786.1 L541.6 786.1 L544.6 786.1 L547.6 786.1 L550.6 786.1 L553.6 786.1 L556.6 786.1 L559.6 786 L562.6 786 L565.6 786 L568.6 786 L571.6 786 L574.6 786 L577.6 786 L580.6 785.9 L583.6 785.9 L586.6 785.9 L589.6 785.9 L592.6 785.9 L595.6 785.9 L598.6 785.9 L601.6 785.9 L604.6 785.8 L607.6 785.8 L610.6 785.8 L613.6 785.8 L616.6 785.8 L619.6 785.8 L622.6 785.8 L625.6 785.8 L628.6 785.8 L631.6 785.8 L634.6 785.8 L637.6 785.8 L640.6 785.8 L643.6 785.8 L646.6 785.8 L649.6 785.8 L652.6 785.8 L655.6 785.8 L658.6 785.8 L661.6 785.8 L664.6 785.8 L667.6 785.8 L670.6 785.8 L673.6 785.8 L676.6 785.8 L679.6 785.8 L682.6 785.8 L685.6 785.8 L688.6 785.8 L691.6 785.8 L694.6 785.8 L697.6 785.8 L700.6 785.8 L703.6 785.8 L706.6 785.8 L709 785.8" stroke="#5bbd4e" stroke-width="1.15" fill="none"/><path d="M79.6 807.9 L82.6 807.7 L85.6 807.5 L88.6 807.4 L91.6 807.2 L94.6 807 L97.6 806.8 L100.6 806.7 L103.6 806.5 L106.6 806.3 L109.6 806.1 L112.6 805.9 L115.6 805.7 L118.6 805.6 L121.6 805.4 L124.6 805.2 L127.6 805 L130.6 804.8 L133.6 804.7 L136.6 804.5 L139.6 804.3 L142.6 804.1 L145.6 803.9 L148.6 803.7 L151.6 803.5 L154.6 803.4 L157.6 803.2 L160.6 803 L163.6 802.8 L166.6 802.6 L169.6 802.4 L172.6 802.2 L175.6 802 L178.6 801.8 L181.6 801.6 L184.6 801.4 L187.6 801.3 L190.6 801.1 L193.6 800.9 L196.6 800.7 L199.6 800.5 L202.6 800.3 L205.6 800.1 L208.6 799.9 L211.6 799.7 L214.6 799.5 L217.6 799.3 L220.6 799.2 L223.6 799 L226.6 798.8 L229.6 798.6 L232.6 798.4 L235.6 798.2 L238.6 798 L241.6 797.8 L244.6 797.6 L247.6 797.4 L250.6 797.3 L253.6 797.1 L256.6 796.9 L259.6 796.7 L262.6 796.5 L265.6 796.3 L268.6 796.1 L271.6 795.9 L274.6 795.7 L277.6 795.5 L280.6 795.3 L283.6 795.2 L286.6 795 L289.6 794.8 L292.6 794.6 L295.6 794.4 L298.6 794.2 L301.6 794 L304.6 793.8 L307.6 793.6 L310.6 793.4 L313.6 793.2 L316.6 793 L319.6 792.8 L322.6 792.7 L325.6 792.5 L328.6 792.3 L331.6 792.1 L334.6 791.9 L337.6 791.7 L340.6 791.6 L343.6 791.4 L346.6 791.2 L349.6 791.1 L352.6 790.9 L355.6 790.8 L358.6 790.6 L361.6 790.5 L364.6 790.3 L367.6 790.2 L370.6 790 L373.6 789.8 L376.6 789.7 L379.6 789.5 L382.6 789.4 L385.6 789.3 L388.6 789.1 L391.6 789 L394.6 788.9 L397.6 788.8 L400.6 788.7 L403.6 788.6 L406.6 788.5 L409.6 788.5 L412.6 788.4 L415.6 788.3 L418.6 788.2 L421.6 788.2 L424.6 788.1 L427.6 788 L430.6 788 L433.6 787.9 L436.6 787.9 L439.6 787.8 L442.6 787.7 L445.6 787.7 L448.6 787.6 L451.6 787.6 L454.6 787.6 L457.6 787.5 L460.6 787.5 L463.6 787.4 L466.6 787.4 L469.6 787.4 L472.6 787.3 L475.6 787.3 L478.6 787.2 L481.6 787.2 L484.6 787.2 L487.6 787.2 L490.6 787.1 L493.6 787.1 L496.6 787.1 L499.6 787 L502.6 787 L505.6 787 L508.6 787 L511.6 786.9 L514.6 786.9 L517.6 786.9 L520.6 786.9 L523.6 786.8 L526.6 786.8 L529.6 786.8 L532.6 786.8 L535.6 786.7 L538.6 786.7 L541.6 786.7 L544.6 786.7 L547.6 786.7 L550.6 786.7 L553.6 786.6 L556.6 786.6 L559.6 786.6 L562.6 786.6 L565.6 786.6 L568.6 786.6 L571.6 786.5 L574.6 786.5 L577.6 786.5 L580.6 786.5 L583.6 786.5 L586.6 786.5 L589.6 786.4 L592.6 786.4 L595.6 786.4 L598.6 786.4 L601.6 786.4 L604.6 786.4 L607.6 786.4 L610.6 786.4 L613.6 786.3 L616.6 786.3 L619.6 786.3 L622.6 786.3 L625.6 786.3 L628.6 786.3 L631.6 786.3 L634.6 786.2 L637.6 786.2 L640.6 786.2 L643.6 786.2 L646.6 786.2 L649.6 786.2 L652.6 786.2 L655.6 786.1 L658.6 786.1 L661.6 786.1 L664.6 786.1 L667.6 786.1 L670.6 786.1 L673.6 786.1 L676.6 786 L679.6 786 L682.6 786 L685.6 786 L688.6 786 L691.6 786 L694.6 786 L697.6 786 L700.6 785.9 L703.6 785.9 L706.6 785.9 L709 785.9" stroke="#dd3358" stroke-width="1.15" fill="none"/><path d="M79.6 810.4 L82.6 810.2 L85.6 810 L88.6 809.8 L91.6 809.6 L94.6 809.4 L97.6 809.2 L100.6 809 L103.6 808.8 L106.6 808.6 L109.6 808.4 L112.6 808.2 L115.6 808 L118.6 807.8 L121.6 807.6 L124.6 807.4 L127.6 807.2 L130.6 807 L133.6 806.8 L136.6 806.6 L139.6 806.4 L142.6 806.2 L145.6 806 L148.6 805.8 L151.6 805.6 L154.6 805.4 L157.6 805.2 L160.6 805 L163.6 804.8 L166.6 804.6 L169.6 804.4 L172.6 804.2 L175.6 804 L178.6 803.8 L181.6 803.6 L184.6 803.3 L187.6 803.1 L190.6 802.9 L193.6 802.7 L196.6 802.5 L199.6 802.3 L202.6 802.1 L205.6 801.9 L208.6 801.7 L211.6 801.5 L214.6 801.3 L217.6 801 L220.6 800.8 L223.6 800.6 L226.6 800.4 L229.6 800.2 L232.6 800 L235.6 799.8 L238.6 799.6 L241.6 799.4 L244.6 799.2 L247.6 799 L250.6 798.8 L253.6 798.5 L256.6 798.3 L259.6 798.1 L262.6 797.9 L265.6 797.7 L268.6 797.5 L271.6 797.3 L274.6 797.1 L277.6 796.9 L280.6 796.7 L283.6 796.5 L286.6 796.3 L289.6 796 L292.6 795.8 L295.6 795.6 L298.6 795.4 L301.6 795.2 L304.6 795 L307.6 794.8 L310.6 794.6 L313.6 794.4 L316.6 794.1 L319.6 793.9 L322.6 793.7 L325.6 793.5 L328.6 793.3 L331.6 793.1 L334.6 792.9 L337.6 792.7 L340.6 792.5 L343.6 792.3 L346.6 792.1 L349.6 791.9 L352.6 791.8 L355.6 791.6 L358.6 791.4 L361.6 791.2 L364.6 791.1 L367.6 790.9 L370.6 790.7 L373.6 790.6 L376.6 790.4 L379.6 790.3 L382.6 790.1 L385.6 790 L388.6 789.8 L391.6 789.7 L394.6 789.5 L397.6 789.4 L400.6 789.3 L403.6 789.2 L406.6 789 L409.6 788.9 L412.6 788.8 L415.6 788.7 L418.6 788.6 L421.6 788.6 L424.6 788.5 L427.6 788.4 L430.6 788.3 L433.6 788.3 L436.6 788.2 L439.6 788.2 L442.6 788.1 L445.6 788 L448.6 788 L451.6 787.9 L454.6 787.9 L457.6 787.8 L460.6 787.8 L463.6 787.7 L466.6 787.7 L469.6 787.6 L472.6 787.6 L475.6 787.5 L478.6 787.5 L481.6 787.5 L484.6 787.4 L487.6 787.4 L490.6 787.3 L493.6 787.3 L496.6 787.3 L499.6 787.2 L502.6 787.2 L505.6 787.2 L508.6 787.2 L511.6 787.1 L514.6 787.1 L517.6 787.1 L520.6 787 L523.6 787 L526.6 787 L529.6 787 L532.6 786.9 L535.6 786.9 L538.6 786.9 L541.6 786.9 L544.6 786.8 L547.6 786.8 L550.6 786.8 L553.6 786.8 L556.6 786.8 L559.6 786.7 L562.6 786.7 L565.6 786.7 L568.6 786.7 L571.6 786.7 L574.6 786.7 L577.6 786.6 L580.6 786.6 L583.6 786.6 L586.6 786.6 L589.6 786.6 L592.6 786.6 L595.6 786.5 L598.6 786.5 L601.6 786.5 L604.6 786.5 L607.6 786.5 L610.6 786.5 L613.6 786.4 L616.6 786.4 L619.6 786.4 L622.6 786.4 L625.6 786.4 L628.6 786.4 L631.6 786.4 L634.6 786.3 L637.6 786.3 L640.6 786.3 L643.6 786.3 L646.6 786.3 L649.6 786.3 L652.6 786.2 L655.6 786.2 L658.6 786.2 L661.6 786.2 L664.6 786.2 L667.6 786.2 L670.6 786.2 L673.6 786.1 L676.6 786.1 L679.6 786.1 L682.6 786.1 L685.6 786.1 L688.6 786.1 L691.6 786.1 L694.6 786 L697.6 786 L700.6 786 L703.6 786 L706.6 786 L709 786" stroke="#5bbd4e" stroke-width="1.15" fill="none"/><path d="M79.6 815 L82.6 814.7 L85.6 814.5 L88.6 814.2 L91.6 813.9 L94.6 813.7 L97.6 813.4 L100.6 813.1 L103.6 812.9 L106.6 812.6 L109.6 812.3 L112.6 812.1 L115.6 811.8 L118.6 811.5 L121.6 811.3 L124.6 811 L127.6 810.7 L130.6 810.4 L133.6 810.2 L136.6 809.9 L139.6 809.6 L142.6 809.3 L145.6 809.1 L148.6 808.8 L151.6 808.5 L154.6 808.2 L157.6 808 L160.6 807.7 L163.6 807.4 L166.6 807.1 L169.6 806.8 L172.6 806.5 L175.6 806.3 L178.6 806 L181.6 805.7 L184.6 805.4 L187.6 805.1 L190.6 804.8 L193.6 804.5 L196.6 804.3 L199.6 804 L202.6 803.7 L205.6 803.4 L208.6 803.1 L211.6 802.8 L214.6 802.6 L217.6 802.3 L220.6 802 L223.6 801.7 L226.6 801.4 L229.6 801.1 L232.6 800.9 L235.6 800.6 L238.6 800.3 L241.6 800 L244.6 799.7 L247.6 799.4 L250.6 799.2 L253.6 798.9 L256.6 798.6 L259.6 798.3 L262.6 798 L265.6 797.7 L268.6 797.4 L271.6 797.1 L274.6 796.8 L277.6 796.6 L280.6 796.3 L283.6 796 L286.6 795.7 L289.6 795.4 L292.6 795.1 L295.6 794.9 L298.6 794.6 L301.6 794.3 L304.6 794.1 L307.6 793.8 L310.6 793.6 L313.6 793.3 L316.6 793.1 L319.6 792.8 L322.6 792.6 L325.6 792.3 L328.6 792.1 L331.6 791.9 L334.6 791.7 L337.6 791.5 L340.6 791.3 L343.6 791.1 L346.6 790.8 L349.6 790.6 L352.6 790.4 L355.6 790.2 L358.6 790 L361.6 789.8 L364.6 789.7 L367.6 789.5 L370.6 789.4 L373.6 789.3 L376.6 789.2 L379.6 789.1 L382.6 789 L385.6 788.9 L388.6 788.8 L391.6 788.7 L394.6 788.6 L397.6 788.5 L400.6 788.4 L403.6 788.4 L406.6 788.3 L409.6 788.2 L412.6 788.1 L415.6 788.1 L418.6 788 L421.6 787.9 L424.6 787.9 L427.6 787.8 L430.6 787.8 L433.6 787.7 L436.6 787.7 L439.6 787.6 L442.6 787.6 L445.6 787.5 L448.6 787.5 L451.6 787.5 L454.6 787.4 L457.6 787.4 L460.6 787.3 L463.6 787.3 L466.6 787.3 L469.6 787.2 L472.6 787.2 L475.6 787.2 L478.6 787.1 L481.6 787.1 L484.6 787.1 L487.6 787 L490.6 787 L493.6 787 L496.6 786.9 L499.6 786.9 L502.6 786.9 L505.6 786.9 L508.6 786.8 L511.6 786.8 L514.6 786.8 L517.6 786.8 L520.6 786.7 L523.6 786.7 L526.6 786.7 L529.6 786.7 L532.6 786.7 L535.6 786.6 L538.6 786.6 L541.6 786.6 L544.6 786.6 L547.6 786.6 L550.6 786.5 L553.6 786.5 L556.6 786.5 L559.6 786.5 L562.6 786.4 L565.6 786.4 L568.6 786.4 L571.6 786.4 L574.6 786.4 L577.6 786.3 L580.6 786.3 L583.6 786.3 L586.6 786.3 L589.6 786.2 L592.6 786.2 L595.6 786.2 L598.6 786.2 L601.6 786.2 L604.6 786.1 L607.6 786.1 L610.6 786.1 L613.6 786.1 L616.6 786.1 L619.6 786.1 L622.6 786 L625.6 786 L628.6 786 L631.6 786 L634.6 786 L637.6 786 L640.6 786 L643.6 786 L646.6 785.9 L649.6 785.9 L652.6 785.9 L655.6 785.9 L658.6 785.9 L661.6 785.9 L664.6 785.9 L667.6 785.9 L670.6 785.9 L673.6 785.9 L676.6 785.9 L679.6 785.8 L682.6 785.8 L685.6 785.8 L688.6 785.8 L691.6 785.8 L694.6 785.8 L697.6 785.8 L700.6 785.8 L703.6 785.8 L706.6 785.8 L709 785.8" stroke="#dd3358" stroke-width="1.15" fill="none"/><path d="M79.6 815.8 L82.6 815.6 L85.6 815.3 L88.6 815.1 L91.6 814.9 L94.6 814.7 L97.6 814.4 L100.6 814.2 L103.6 814 L106.6 813.7 L109.6 813.5 L112.6 813.3 L115.6 813 L118.6 812.8 L121.6 812.6 L124.6 812.3 L127.6 812.1 L130.6 811.9 L133.6 811.6 L136.6 811.4 L139.6 811.2 L142.6 810.9 L145.6 810.7 L148.6 810.4 L151.6 810.2 L154.6 810 L157.6 809.7 L160.6 809.5 L163.6 809.2 L166.6 809 L169.6 808.8 L172.6 808.5 L175.6 808.3 L178.6 808 L181.6 807.8 L184.6 807.5 L187.6 807.3 L190.6 807 L193.6 806.8 L196.6 806.5 L199.6 806.3 L202.6 806.1 L205.6 805.8 L208.6 805.6 L211.6 805.3 L214.6 805.1 L217.6 804.8 L220.6 804.6 L223.6 804.3 L226.6 804.1 L229.6 803.8 L232.6 803.6 L235.6 803.4 L238.6 803.1 L241.6 802.9 L244.6 802.6 L247.6 802.4 L250.6 802.1 L253.6 801.9 L256.6 801.6 L259.6 801.4 L262.6 801.2 L265.6 800.9 L268.6 800.7 L271.6 800.4 L274.6 800.2 L277.6 799.9 L280.6 799.7 L283.6 799.4 L286.6 799.2 L289.6 798.9 L292.6 798.7 L295.6 798.5 L298.6 798.2 L301.6 798 L304.6 797.7 L307.6 797.5 L310.6 797.2 L313.6 797 L316.6 796.7 L319.6 796.5 L322.6 796.2 L325.6 796 L328.6 795.8 L331.6 795.5 L334.6 795.3 L337.6 795 L340.6 794.8 L343.6 794.5 L346.6 794.3 L349.6 794 L352.6 793.8 L355.6 793.6 L358.6 793.4 L361.6 793.2 L364.6 793 L367.6 792.8 L370.6 792.6 L373.6 792.4 L376.6 792.2 L379.6 792 L382.6 791.8 L385.6 791.6 L388.6 791.5 L391.6 791.3 L394.6 791.1 L397.6 790.9 L400.6 790.7 L403.6 790.5 L406.6 790.3 L409.6 790.2 L412.6 790 L415.6 789.8 L418.6 789.7 L421.6 789.6 L424.6 789.5 L427.6 789.4 L430.6 789.3 L433.6 789.2 L436.6 789.1 L439.6 789 L442.6 789 L445.6 788.9 L448.6 788.8 L451.6 788.8 L454.6 788.7 L457.6 788.6 L460.6 788.5 L463.6 788.5 L466.6 788.4 L469.6 788.3 L472.6 788.3 L475.6 788.2 L478.6 788.1 L481.6 788.1 L484.6 788 L487.6 788 L490.6 787.9 L493.6 787.9 L496.6 787.8 L499.6 787.8 L502.6 787.7 L505.6 787.7 L508.6 787.6 L511.6 787.6 L514.6 787.6 L517.6 787.5 L520.6 787.5 L523.6 787.5 L526.6 787.4 L529.6 787.4 L532.6 787.4 L535.6 787.3 L538.6 787.3 L541.6 787.3 L544.6 787.2 L547.6 787.2 L550.6 787.2 L553.6 787.2 L556.6 787.1 L559.6 787.1 L562.6 787.1 L565.6 787.1 L568.6 787 L571.6 787 L574.6 787 L577.6 787 L580.6 786.9 L583.6 786.9 L586.6 786.9 L589.6 786.9 L592.6 786.9 L595.6 786.8 L598.6 786.8 L601.6 786.8 L604.6 786.8 L607.6 786.7 L610.6 786.7 L613.6 786.7 L616.6 786.7 L619.6 786.7 L622.6 786.6 L625.6 786.6 L628.6 786.6 L631.6 786.6 L634.6 786.6 L637.6 786.6 L640.6 786.5 L643.6 786.5 L646.6 786.5 L649.6 786.5 L652.6 786.5 L655.6 786.4 L658.6 786.4 L661.6 786.4 L664.6 786.4 L667.6 786.4 L670.6 786.4 L673.6 786.3 L676.6 786.3 L679.6 786.3 L682.6 786.3 L685.6 786.3 L688.6 786.3 L691.6 786.2 L694.6 786.2 L697.6 786.2 L700.6 786.2 L703.6 786.2 L706.6 786.2 L709 786.2" stroke="#dd3358" stroke-width="1.15" fill="none"/><path d="M79.6 822.8 L82.6 822.5 L85.6 822.2 L88.6 822 L91.6 821.7 L94.6 821.4 L97.6 821.1 L100.6 820.8 L103.6 820.5 L106.6 820.3 L109.6 820 L112.6 819.7 L115.6 819.4 L118.6 819.1 L121.6 818.8 L124.6 818.5 L127.6 818.3 L130.6 818 L133.6 817.7 L136.6 817.4 L139.6 817.1 L142.6 816.8 L145.6 816.5 L148.6 816.2 L151.6 815.9 L154.6 815.6 L157.6 815.3 L160.6 815 L163.6 814.7 L166.6 814.4 L169.6 814.1 L172.6 813.8 L175.6 813.5 L178.6 813.2 L181.6 812.9 L184.6 812.6 L187.6 812.3 L190.6 812 L193.6 811.7 L196.6 811.4 L199.6 811.1 L202.6 810.8 L205.6 810.5 L208.6 810.2 L211.6 809.9 L214.6 809.6 L217.6 809.3 L220.6 809 L223.6 808.7 L226.6 808.4 L229.6 808.1 L232.6 807.8 L235.6 807.5 L238.6 807.2 L241.6 806.9 L244.6 806.6 L247.6 806.3 L250.6 806 L253.6 805.7 L256.6 805.4 L259.6 805.1 L262.6 804.8 L265.6 804.5 L268.6 804.2 L271.6 803.9 L274.6 803.6 L277.6 803.3 L280.6 803 L283.6 802.7 L286.6 802.4 L289.6 802.1 L292.6 801.8 L295.6 801.5 L298.6 801.2 L301.6 800.9 L304.6 800.6 L307.6 800.3 L310.6 800 L313.6 799.7 L316.6 799.4 L319.6 799.1 L322.6 798.8 L325.6 798.4 L328.6 798.1 L331.6 797.8 L334.6 797.5 L337.6 797.2 L340.6 796.9 L343.6 796.6 L346.6 796.3 L349.6 796 L352.6 795.7 L355.6 795.5 L358.6 795.2 L361.6 794.9 L364.6 794.7 L367.6 794.4 L370.6 794.2 L373.6 794 L376.6 793.7 L379.6 793.5 L382.6 793.3 L385.6 793.1 L388.6 792.9 L391.6 792.6 L394.6 792.4 L397.6 792.2 L400.6 791.9 L403.6 791.7 L406.6 791.5 L409.6 791.2 L412.6 791 L415.6 790.8 L418.6 790.7 L421.6 790.5 L424.6 790.4 L427.6 790.3 L430.6 790.1 L433.6 790 L436.6 789.9 L439.6 789.8 L442.6 789.7 L445.6 789.7 L448.6 789.6 L451.6 789.5 L454.6 789.4 L457.6 789.3 L460.6 789.2 L463.6 789.1 L466.6 789 L469.6 789 L472.6 788.9 L475.6 788.8 L478.6 788.7 L481.6 788.6 L484.6 788.6 L487.6 788.5 L490.6 788.4 L493.6 788.4 L496.6 788.3 L499.6 788.2 L502.6 788.2 L505.6 788.1 L508.6 788.1 L511.6 788 L514.6 788 L517.6 787.9 L520.6 787.9 L523.6 787.9 L526.6 787.8 L529.6 787.8 L532.6 787.7 L535.6 787.7 L538.6 787.7 L541.6 787.6 L544.6 787.6 L547.6 787.6 L550.6 787.5 L553.6 787.5 L556.6 787.5 L559.6 787.4 L562.6 787.4 L565.6 787.4 L568.6 787.3 L571.6 787.3 L574.6 787.3 L577.6 787.3 L580.6 787.2 L583.6 787.2 L586.6 787.2 L589.6 787.1 L592.6 787.1 L595.6 787.1 L598.6 787.1 L601.6 787 L604.6 787 L607.6 787 L610.6 787 L613.6 786.9 L616.6 786.9 L619.6 786.9 L622.6 786.9 L625.6 786.8 L628.6 786.8 L631.6 786.8 L634.6 786.8 L637.6 786.7 L640.6 786.7 L643.6 786.7 L646.6 786.7 L649.6 786.6 L652.6 786.6 L655.6 786.6 L658.6 786.6 L661.6 786.6 L664.6 786.5 L667.6 786.5 L670.6 786.5 L673.6 786.5 L676.6 786.5 L679.6 786.4 L682.6 786.4 L685.6 786.4 L688.6 786.4 L691.6 786.4 L694.6 786.3 L697.6 786.3 L700.6 786.3 L703.6 786.3 L706.6 786.3 L709 786.2" stroke="#40c3d4" stroke-width="1.15" fill="none"/><path d="M79.6 828.4 L82.6 828 L85.6 827.7 L88.6 827.3 L91.6 826.9 L94.6 826.5 L97.6 826.1 L100.6 825.8 L103.6 825.4 L106.6 825 L109.6 824.6 L112.6 824.2 L115.6 823.9 L118.6 823.5 L121.6 823.1 L124.6 822.7 L127.6 822.3 L130.6 821.9 L133.6 821.5 L136.6 821.2 L139.6 820.8 L142.6 820.4 L145.6 820 L148.6 819.6 L151.6 819.2 L154.6 818.8 L157.6 818.4 L160.6 818 L163.6 817.6 L166.6 817.2 L169.6 816.8 L172.6 816.4 L175.6 816 L178.6 815.6 L181.6 815.2 L184.6 814.8 L187.6 814.4 L190.6 814 L193.6 813.6 L196.6 813.2 L199.6 812.8 L202.6 812.4 L205.6 812 L208.6 811.6 L211.6 811.1 L214.6 810.7 L217.6 810.3 L220.6 809.9 L223.6 809.5 L226.6 809.1 L229.6 808.7 L232.6 808.3 L235.6 807.9 L238.6 807.5 L241.6 807.1 L244.6 806.7 L247.6 806.3 L250.6 805.9 L253.6 805.5 L256.6 805.1 L259.6 804.7 L262.6 804.3 L265.6 803.9 L268.6 803.5 L271.6 803.1 L274.6 802.7 L277.6 802.3 L280.6 801.9 L283.6 801.5 L286.6 801.1 L289.6 800.7 L292.6 800.3 L295.6 799.9 L298.6 799.5 L301.6 799.1 L304.6 798.7 L307.6 798.3 L310.6 797.9 L313.6 797.5 L316.6 797.2 L319.6 796.8 L322.6 796.4 L325.6 796.1 L328.6 795.7 L331.6 795.4 L334.6 795.1 L337.6 794.8 L340.6 794.5 L343.6 794.2 L346.6 793.9 L349.6 793.6 L352.6 793.3 L355.6 792.9 L358.6 792.7 L361.6 792.4 L364.6 792.2 L367.6 791.9 L370.6 791.7 L373.6 791.5 L376.6 791.3 L379.6 791.1 L382.6 790.9 L385.6 790.7 L388.6 790.6 L391.6 790.4 L394.6 790.3 L397.6 790.1 L400.6 790 L403.6 789.9 L406.6 789.7 L409.6 789.6 L412.6 789.5 L415.6 789.4 L418.6 789.3 L421.6 789.2 L424.6 789.1 L427.6 789 L430.6 788.9 L433.6 788.9 L436.6 788.8 L439.6 788.7 L442.6 788.6 L445.6 788.5 L448.6 788.5 L451.6 788.4 L454.6 788.3 L457.6 788.3 L460.6 788.2 L463.6 788.2 L466.6 788.1 L469.6 788.1 L472.6 788 L475.6 788 L478.6 787.9 L481.6 787.9 L484.6 787.8 L487.6 787.8 L490.6 787.7 L493.6 787.7 L496.6 787.6 L499.6 787.6 L502.6 787.6 L505.6 787.5 L508.6 787.5 L511.6 787.4 L514.6 787.4 L517.6 787.4 L520.6 787.3 L523.6 787.3 L526.6 787.3 L529.6 787.2 L532.6 787.2 L535.6 787.1 L538.6 787.1 L541.6 787.1 L544.6 787.1 L547.6 787 L550.6 787 L553.6 787 L556.6 786.9 L559.6 786.9 L562.6 786.9 L565.6 786.8 L568.6 786.8 L571.6 786.8 L574.6 786.7 L577.6 786.7 L580.6 786.7 L583.6 786.6 L586.6 786.6 L589.6 786.6 L592.6 786.6 L595.6 786.5 L598.6 786.5 L601.6 786.5 L604.6 786.5 L607.6 786.4 L610.6 786.4 L613.6 786.4 L616.6 786.4 L619.6 786.3 L622.6 786.3 L625.6 786.3 L628.6 786.3 L631.6 786.2 L634.6 786.2 L637.6 786.2 L640.6 786.2 L643.6 786.2 L646.6 786.1 L649.6 786.1 L652.6 786.1 L655.6 786.1 L658.6 786.1 L661.6 786 L664.6 786 L667.6 786 L670.6 786 L673.6 786 L676.6 786 L679.6 785.9 L682.6 785.9 L685.6 785.9 L688.6 785.9 L691.6 785.9 L694.6 785.9 L697.6 785.8 L700.6 785.8 L703.6 785.8 L706.6 785.8 L709 785.8" stroke="#2a88d2" stroke-width="1.15" fill="none"/><path d="M79.6 841.3 L82.6 840.8 L85.6 840.3 L88.6 839.9 L91.6 839.4 L94.6 838.9 L97.6 838.4 L100.6 837.9 L103.6 837.4 L106.6 836.9 L109.6 836.5 L112.6 836 L115.6 835.5 L118.6 835 L121.6 834.5 L124.6 834 L127.6 833.5 L130.6 833 L133.6 832.5 L136.6 832 L139.6 831.5 L142.6 831 L145.6 830.5 L148.6 830 L151.6 829.5 L154.6 829 L157.6 828.5 L160.6 827.9 L163.6 827.4 L166.6 826.9 L169.6 826.4 L172.6 825.9 L175.6 825.4 L178.6 824.8 L181.6 824.3 L184.6 823.8 L187.6 823.3 L190.6 822.8 L193.6 822.2 L196.6 821.7 L199.6 821.2 L202.6 820.7 L205.6 820.2 L208.6 819.7 L211.6 819.1 L214.6 818.6 L217.6 818.1 L220.6 817.6 L223.6 817.1 L226.6 816.6 L229.6 816 L232.6 815.5 L235.6 815 L238.6 814.5 L241.6 814 L244.6 813.5 L247.6 813 L250.6 812.4 L253.6 811.9 L256.6 811.4 L259.6 810.9 L262.6 810.4 L265.6 809.8 L268.6 809.3 L271.6 808.8 L274.6 808.3 L277.6 807.7 L280.6 807.2 L283.6 806.7 L286.6 806.2 L289.6 805.7 L292.6 805.2 L295.6 804.7 L298.6 804.2 L301.6 803.7 L304.6 803.1 L307.6 802.6 L310.6 802.1 L313.6 801.6 L316.6 801.1 L319.6 800.6 L322.6 800.1 L325.6 799.7 L328.6 799.2 L331.6 798.8 L334.6 798.4 L337.6 798 L340.6 797.6 L343.6 797.2 L346.6 796.8 L349.6 796.4 L352.6 796 L355.6 795.6 L358.6 795.3 L361.6 794.9 L364.6 794.6 L367.6 794.2 L370.6 793.9 L373.6 793.6 L376.6 793.3 L379.6 793 L382.6 792.7 L385.6 792.5 L388.6 792.3 L391.6 792 L394.6 791.8 L397.6 791.7 L400.6 791.5 L403.6 791.3 L406.6 791.2 L409.6 791 L412.6 790.9 L415.6 790.8 L418.6 790.6 L421.6 790.5 L424.6 790.4 L427.6 790.2 L430.6 790.1 L433.6 790 L436.6 789.9 L439.6 789.8 L442.6 789.6 L445.6 789.5 L448.6 789.4 L451.6 789.3 L454.6 789.3 L457.6 789.2 L460.6 789.1 L463.6 789 L466.6 788.9 L469.6 788.9 L472.6 788.8 L475.6 788.7 L478.6 788.7 L481.6 788.6 L484.6 788.5 L487.6 788.5 L490.6 788.4 L493.6 788.4 L496.6 788.3 L499.6 788.3 L502.6 788.2 L505.6 788.1 L508.6 788.1 L511.6 788 L514.6 788 L517.6 787.9 L520.6 787.9 L523.6 787.8 L526.6 787.8 L529.6 787.7 L532.6 787.7 L535.6 787.6 L538.6 787.6 L541.6 787.6 L544.6 787.5 L547.6 787.5 L550.6 787.4 L553.6 787.4 L556.6 787.3 L559.6 787.3 L562.6 787.3 L565.6 787.2 L568.6 787.2 L571.6 787.1 L574.6 787.1 L577.6 787.1 L580.6 787 L583.6 787 L586.6 787 L589.6 786.9 L592.6 786.9 L595.6 786.9 L598.6 786.8 L601.6 786.8 L604.6 786.8 L607.6 786.7 L610.6 786.7 L613.6 786.7 L616.6 786.6 L619.6 786.6 L622.6 786.6 L625.6 786.5 L628.6 786.5 L631.6 786.5 L634.6 786.4 L637.6 786.4 L640.6 786.4 L643.6 786.3 L646.6 786.3 L649.6 786.3 L652.6 786.3 L655.6 786.2 L658.6 786.2 L661.6 786.2 L664.6 786.2 L667.6 786.1 L670.6 786.1 L673.6 786.1 L676.6 786.1 L679.6 786 L682.6 786 L685.6 786 L688.6 786 L691.6 785.9 L694.6 785.9 L697.6 785.9 L700.6 785.9 L703.6 785.8 L706.6 785.8 L709 785.8" stroke="#dd3358" stroke-width="1.15" fill="none"/><path d="M79.6 875.2 L82.6 874.4 L85.6 873.6 L88.6 872.9 L91.6 872.1 L94.6 871.3 L97.6 870.5 L100.6 869.7 L103.6 868.9 L106.6 868.1 L109.6 867.3 L112.6 866.5 L115.6 865.7 L118.6 864.9 L121.6 864.1 L124.6 863.2 L127.6 862.4 L130.6 861.6 L133.6 860.8 L136.6 860 L139.6 859.1 L142.6 858.3 L145.6 857.5 L148.6 856.6 L151.6 855.8 L154.6 855 L157.6 854.1 L160.6 853.3 L163.6 852.4 L166.6 851.6 L169.6 850.8 L172.6 849.9 L175.6 849.1 L178.6 848.2 L181.6 847.4 L184.6 846.5 L187.6 845.6 L190.6 844.8 L193.6 843.9 L196.6 843 L199.6 842.1 L202.6 841.2 L205.6 840.3 L208.6 839.4 L211.6 838.5 L214.6 837.6 L217.6 836.8 L220.6 835.9 L223.6 835 L226.6 834.1 L229.6 833.3 L232.6 832.4 L235.6 831.6 L238.6 830.8 L241.6 829.9 L244.6 829.1 L247.6 828.3 L250.6 827.5 L253.6 826.6 L256.6 825.8 L259.6 825 L262.6 824.2 L265.6 823.4 L268.6 822.5 L271.6 821.7 L274.6 820.9 L277.6 820 L280.6 819.2 L283.6 818.3 L286.6 817.5 L289.6 816.6 L292.6 815.7 L295.6 814.9 L298.6 814 L301.6 813.1 L304.6 812.2 L307.6 811.4 L310.6 810.5 L313.6 809.7 L316.6 808.8 L319.6 808 L322.6 807.2 L325.6 806.4 L328.6 805.6 L331.6 804.7 L334.6 803.9 L337.6 803.1 L340.6 802.3 L343.6 801.5 L346.6 800.7 L349.6 800 L352.6 799.3 L355.6 798.6 L358.6 798.1 L361.6 797.5 L364.6 797 L367.6 796.5 L370.6 796 L373.6 795.5 L376.6 795 L379.6 794.6 L382.6 794.2 L385.6 793.9 L388.6 793.5 L391.6 793.3 L394.6 793 L397.6 792.8 L400.6 792.5 L403.6 792.3 L406.6 792.1 L409.6 791.9 L412.6 791.7 L415.6 791.5 L418.6 791.3 L421.6 791.1 L424.6 791 L427.6 790.8 L430.6 790.7 L433.6 790.5 L436.6 790.4 L439.6 790.3 L442.6 790.1 L445.6 790 L448.6 789.9 L451.6 789.8 L454.6 789.7 L457.6 789.6 L460.6 789.5 L463.6 789.5 L466.6 789.4 L469.6 789.3 L472.6 789.2 L475.6 789.2 L478.6 789.1 L481.6 789 L484.6 789 L487.6 788.9 L490.6 788.8 L493.6 788.8 L496.6 788.7 L499.6 788.7 L502.6 788.6 L505.6 788.5 L508.6 788.5 L511.6 788.4 L514.6 788.4 L517.6 788.3 L520.6 788.2 L523.6 788.2 L526.6 788.1 L529.6 788 L532.6 788 L535.6 787.9 L538.6 787.9 L541.6 787.8 L544.6 787.7 L547.6 787.7 L550.6 787.6 L553.6 787.6 L556.6 787.5 L559.6 787.4 L562.6 787.4 L565.6 787.3 L568.6 787.3 L571.6 787.2 L574.6 787.2 L577.6 787.1 L580.6 787.1 L583.6 787 L586.6 787 L589.6 786.9 L592.6 786.9 L595.6 786.8 L598.6 786.8 L601.6 786.8 L604.6 786.7 L607.6 786.7 L610.6 786.7 L613.6 786.6 L616.6 786.6 L619.6 786.5 L622.6 786.5 L625.6 786.5 L628.6 786.4 L631.6 786.4 L634.6 786.4 L637.6 786.3 L640.6 786.3 L643.6 786.3 L646.6 786.2 L649.6 786.2 L652.6 786.2 L655.6 786.2 L658.6 786.1 L661.6 786.1 L664.6 786.1 L667.6 786.1 L670.6 786 L673.6 786 L676.6 786 L679.6 786 L682.6 785.9 L685.6 785.9 L688.6 785.9 L691.6 785.9 L694.6 785.9 L697.6 785.8 L700.6 785.8 L703.6 785.8 L706.6 785.8 L709 785.8" stroke="#141414" stroke-width="1.15" fill="none"/><path d="M79.6 878.5 L82.6 877.7 L85.6 876.9 L88.6 876 L91.6 875.2 L94.6 874.4 L97.6 873.6 L100.6 872.7 L103.6 871.9 L106.6 871.1 L109.6 870.2 L112.6 869.4 L115.6 868.6 L118.6 867.7 L121.6 866.9 L124.6 866 L127.6 865.2 L130.6 864.3 L133.6 863.5 L136.6 862.6 L139.6 861.8 L142.6 860.9 L145.6 860.1 L148.6 859.2 L151.6 858.4 L154.6 857.5 L157.6 856.6 L160.6 855.8 L163.6 854.9 L166.6 854 L169.6 853.1 L172.6 852.2 L175.6 851.4 L178.6 850.5 L181.6 849.6 L184.6 848.7 L187.6 847.8 L190.6 846.9 L193.6 846 L196.6 845.2 L199.6 844.3 L202.6 843.4 L205.6 842.5 L208.6 841.6 L211.6 840.8 L214.6 839.9 L217.6 839 L220.6 838.1 L223.6 837.3 L226.6 836.4 L229.6 835.5 L232.6 834.6 L235.6 833.7 L238.6 832.9 L241.6 832 L244.6 831.1 L247.6 830.2 L250.6 829.3 L253.6 828.5 L256.6 827.6 L259.6 826.7 L262.6 825.8 L265.6 824.9 L268.6 824 L271.6 823.1 L274.6 822.2 L277.6 821.3 L280.6 820.4 L283.6 819.5 L286.6 818.7 L289.6 817.8 L292.6 816.9 L295.6 816.1 L298.6 815.2 L301.6 814.4 L304.6 813.5 L307.6 812.7 L310.6 811.8 L313.6 811 L316.6 810.2 L319.6 809.4 L322.6 808.6 L325.6 807.8 L328.6 807.1 L331.6 806.4 L334.6 805.7 L337.6 805.1 L340.6 804.5 L343.6 803.8 L346.6 803.1 L349.6 802.4 L352.6 801.7 L355.6 801 L358.6 800.4 L361.6 799.8 L364.6 799.3 L367.6 798.8 L370.6 798.4 L373.6 797.9 L376.6 797.5 L379.6 797.1 L382.6 796.7 L385.6 796.4 L388.6 796 L391.6 795.7 L394.6 795.4 L397.6 795.1 L400.6 794.8 L403.6 794.5 L406.6 794.2 L409.6 794 L412.6 793.8 L415.6 793.5 L418.6 793.3 L421.6 793.1 L424.6 792.9 L427.6 792.7 L430.6 792.5 L433.6 792.3 L436.6 792.2 L439.6 792 L442.6 791.8 L445.6 791.7 L448.6 791.5 L451.6 791.4 L454.6 791.3 L457.6 791.1 L460.6 791 L463.6 790.9 L466.6 790.8 L469.6 790.6 L472.6 790.5 L475.6 790.4 L478.6 790.3 L481.6 790.2 L484.6 790.1 L487.6 790 L490.6 789.9 L493.6 789.8 L496.6 789.7 L499.6 789.6 L502.6 789.5 L505.6 789.5 L508.6 789.4 L511.6 789.3 L514.6 789.2 L517.6 789.1 L520.6 789 L523.6 789 L526.6 788.9 L529.6 788.8 L532.6 788.8 L535.6 788.7 L538.6 788.6 L541.6 788.5 L544.6 788.5 L547.6 788.4 L550.6 788.3 L553.6 788.3 L556.6 788.2 L559.6 788.1 L562.6 788.1 L565.6 788 L568.6 787.9 L571.6 787.9 L574.6 787.8 L577.6 787.7 L580.6 787.7 L583.6 787.6 L586.6 787.5 L589.6 787.5 L592.6 787.4 L595.6 787.3 L598.6 787.3 L601.6 787.2 L604.6 787.2 L607.6 787.1 L610.6 787 L613.6 787 L616.6 786.9 L619.6 786.9 L622.6 786.8 L625.6 786.8 L628.6 786.7 L631.6 786.7 L634.6 786.7 L637.6 786.6 L640.6 786.6 L643.6 786.5 L646.6 786.5 L649.6 786.4 L652.6 786.4 L655.6 786.4 L658.6 786.3 L661.6 786.3 L664.6 786.2 L667.6 786.2 L670.6 786.2 L673.6 786.1 L676.6 786.1 L679.6 786.1 L682.6 786 L685.6 786 L688.6 786 L691.6 785.9 L694.6 785.9 L697.6 785.9 L700.6 785.9 L703.6 785.8 L706.6 785.8 L709 785.8" stroke="#5bbd4e" stroke-width="1.15" fill="none"/><path d="M79.6 882.4 L82.6 881.4 L85.6 880.4 L88.6 879.3 L91.6 878.3 L94.6 877.3 L97.6 876.3 L100.6 875.3 L103.6 874.3 L106.6 873.3 L109.6 872.3 L112.6 871.3 L115.6 870.3 L118.6 869.4 L121.6 868.4 L124.6 867.4 L127.6 866.4 L130.6 865.4 L133.6 864.5 L136.6 863.5 L139.6 862.5 L142.6 861.6 L145.6 860.6 L148.6 859.6 L151.6 858.7 L154.6 857.7 L157.6 856.8 L160.6 855.8 L163.6 854.9 L166.6 853.9 L169.6 853 L172.6 852 L175.6 851.1 L178.6 850.2 L181.6 849.2 L184.6 848.3 L187.6 847.4 L190.6 846.5 L193.6 845.5 L196.6 844.6 L199.6 843.7 L202.6 842.8 L205.6 841.9 L208.6 841.1 L211.6 840.2 L214.6 839.4 L217.6 838.6 L220.6 837.8 L223.6 837 L226.6 836.3 L229.6 835.5 L232.6 834.7 L235.6 834 L238.6 833.2 L241.6 832.4 L244.6 831.6 L247.6 830.8 L250.6 829.9 L253.6 829 L256.6 828.1 L259.6 827.2 L262.6 826.3 L265.6 825.3 L268.6 824.2 L271.6 823.1 L274.6 822 L277.6 820.8 L280.6 819.5 L283.6 818.1 L286.6 816.5 L289.6 814.8 L292.6 813 L295.6 811.2 L298.6 809.3 L301.6 807.5 L304.6 805.8 L307.6 804.2 L310.6 802.6 L313.6 801.2 L316.6 799.9 L319.6 798.6 L322.6 797.4 L325.6 796.1 L328.6 794.9 L331.6 793.5 L334.6 792.2 L337.6 790.7 L340.6 789 L343.6 786.7 L346.6 785.8 L349.6 785.8 L352.6 785.8 L355.6 785.8 L358.6 785.8 L361.6 785.8 L364.6 785.8 L367.6 785.8 L370.6 785.8 L373.6 785.8 L376.6 785.8 L379.6 785.8 L382.6 785.8 L385.6 785.8 L388.6 785.8 L391.6 785.8 L394.6 785.8 L397.6 785.8 L400.6 785.8 L403.6 785.8 L406.6 785.8 L409.6 785.8 L412.6 785.8 L415.6 785.8 L418.6 785.8 L421.6 785.8 L424.6 785.8 L427.6 785.8 L430.6 785.8 L433.6 785.8 L436.6 785.8 L439.6 785.8 L442.6 785.8 L445.6 785.8 L448.6 785.8 L451.6 785.8 L454.6 785.8 L457.6 785.8 L460.6 785.8 L463.6 785.8 L466.6 785.8 L469.6 785.8 L472.6 785.8 L475.6 785.8 L478.6 785.8 L481.6 785.8 L484.6 785.8 L487.6 785.8 L490.6 785.8 L493.6 785.8 L496.6 785.8 L499.6 785.8 L502.6 785.8 L505.6 785.8 L508.6 785.8 L511.6 785.8 L514.6 785.8 L517.6 785.8 L520.6 785.8 L523.6 785.8 L526.6 785.8 L529.6 785.8 L532.6 785.8 L535.6 785.8 L538.6 785.8 L541.6 785.8 L544.6 785.8 L547.6 785.8 L550.6 785.8 L553.6 785.8 L556.6 785.8 L559.6 785.8 L562.6 785.8 L565.6 785.8 L568.6 785.8 L571.6 785.8 L574.6 785.8 L577.6 785.8 L580.6 785.8 L583.6 785.8 L586.6 785.8 L589.6 785.8 L592.6 785.8 L595.6 785.8 L598.6 785.8 L601.6 785.8 L604.6 785.8 L607.6 785.8 L610.6 785.8 L613.6 785.8 L616.6 785.8 L619.6 785.8 L622.6 785.8 L625.6 785.8 L628.6 785.8 L631.6 785.8 L634.6 785.8 L637.6 785.8 L640.6 785.8 L643.6 785.8 L646.6 785.8 L649.6 785.8 L652.6 785.8 L655.6 785.8 L658.6 785.8 L661.6 785.8 L664.6 785.8 L667.6 785.8 L670.6 785.8 L673.6 785.8 L676.6 785.8 L679.6 785.8 L682.6 785.8 L685.6 785.8 L688.6 785.8 L691.6 785.8 L694.6 785.8 L697.6 785.8 L700.6 785.8 L703.6 785.8 L706.6 785.8 L709 785.8" stroke="#b62ca6" stroke-width="1.15" fill="none"/><path d="M79.6 884.4 L82.6 883.5 L85.6 882.6 L88.6 881.7 L91.6 880.8 L94.6 879.9 L97.6 879 L100.6 878 L103.6 877.1 L106.6 876.2 L109.6 875.3 L112.6 874.4 L115.6 873.4 L118.6 872.5 L121.6 871.6 L124.6 870.6 L127.6 869.7 L130.6 868.8 L133.6 867.8 L136.6 866.9 L139.6 865.9 L142.6 865 L145.6 864 L148.6 863.1 L151.6 862.1 L154.6 861.2 L157.6 860.2 L160.6 859.3 L163.6 858.3 L166.6 857.3 L169.6 856.4 L172.6 855.4 L175.6 854.4 L178.6 853.4 L181.6 852.4 L184.6 851.5 L187.6 850.5 L190.6 849.5 L193.6 848.5 L196.6 847.6 L199.6 846.6 L202.6 845.6 L205.6 844.7 L208.6 843.7 L211.6 842.7 L214.6 841.7 L217.6 840.8 L220.6 839.8 L223.6 838.8 L226.6 837.9 L229.6 836.9 L232.6 835.9 L235.6 835 L238.6 834 L241.6 833 L244.6 832 L247.6 831.1 L250.6 830.1 L253.6 829.1 L256.6 828.1 L259.6 827.1 L262.6 826.1 L265.6 825.1 L268.6 824.1 L271.6 823.1 L274.6 822.1 L277.6 821.1 L280.6 820.1 L283.6 819.2 L286.6 818.2 L289.6 817.2 L292.6 816.3 L295.6 815.4 L298.6 814.5 L301.6 813.6 L304.6 812.7 L307.6 811.9 L310.6 811 L313.6 810.2 L316.6 809.4 L319.6 808.6 L322.6 807.8 L325.6 807 L328.6 806.2 L331.6 805.5 L334.6 804.7 L337.6 804 L340.6 803.3 L343.6 802.6 L346.6 801.8 L349.6 801.1 L352.6 800.4 L355.6 799.7 L358.6 799.1 L361.6 798.6 L364.6 798.1 L367.6 797.7 L370.6 797.4 L373.6 797 L376.6 796.7 L379.6 796.4 L382.6 796.1 L385.6 795.8 L388.6 795.5 L391.6 795.2 L394.6 794.9 L397.6 794.6 L400.6 794.3 L403.6 794.1 L406.6 793.8 L409.6 793.5 L412.6 793.3 L415.6 793 L418.6 792.8 L421.6 792.6 L424.6 792.5 L427.6 792.3 L430.6 792.1 L433.6 792 L436.6 791.8 L439.6 791.7 L442.6 791.5 L445.6 791.4 L448.6 791.3 L451.6 791.2 L454.6 791 L457.6 790.9 L460.6 790.8 L463.6 790.7 L466.6 790.5 L469.6 790.4 L472.6 790.3 L475.6 790.2 L478.6 790.1 L481.6 790 L484.6 789.9 L487.6 789.8 L490.6 789.7 L493.6 789.6 L496.6 789.5 L499.6 789.4 L502.6 789.3 L505.6 789.2 L508.6 789.1 L511.6 789 L514.6 789 L517.6 788.9 L520.6 788.8 L523.6 788.7 L526.6 788.7 L529.6 788.6 L532.6 788.5 L535.6 788.5 L538.6 788.4 L541.6 788.3 L544.6 788.3 L547.6 788.2 L550.6 788.1 L553.6 788 L556.6 788 L559.6 787.9 L562.6 787.8 L565.6 787.7 L568.6 787.7 L571.6 787.6 L574.6 787.5 L577.6 787.4 L580.6 787.3 L583.6 787.3 L586.6 787.2 L589.6 787.1 L592.6 787 L595.6 786.9 L598.6 786.9 L601.6 786.8 L604.6 786.7 L607.6 786.7 L610.6 786.6 L613.6 786.6 L616.6 786.5 L619.6 786.4 L622.6 786.4 L625.6 786.4 L628.6 786.3 L631.6 786.3 L634.6 786.3 L637.6 786.2 L640.6 786.2 L643.6 786.2 L646.6 786.1 L649.6 786.1 L652.6 786.1 L655.6 786.1 L658.6 786 L661.6 786 L664.6 786 L667.6 786 L670.6 785.9 L673.6 785.9 L676.6 785.9 L679.6 785.9 L682.6 785.9 L685.6 785.9 L688.6 785.8 L691.6 785.8 L694.6 785.8 L697.6 785.8 L700.6 785.8 L703.6 785.8 L706.6 785.8 L709 785.8" stroke="#2a88d2" stroke-width="1.15" fill="none"/><path d="M79.6 885.6 L82.6 884.7 L85.6 883.8 L88.6 882.9 L91.6 882 L94.6 881.1 L97.6 880.2 L100.6 879.3 L103.6 878.4 L106.6 877.5 L109.6 876.5 L112.6 875.6 L115.6 874.7 L118.6 873.8 L121.6 872.9 L124.6 871.9 L127.6 871 L130.6 870.1 L133.6 869.1 L136.6 868.2 L139.6 867.3 L142.6 866.3 L145.6 865.4 L148.6 864.4 L151.6 863.5 L154.6 862.5 L157.6 861.6 L160.6 860.6 L163.6 859.7 L166.6 858.7 L169.6 857.7 L172.6 856.8 L175.6 855.8 L178.6 854.8 L181.6 853.9 L184.6 852.9 L187.6 851.9 L190.6 850.9 L193.6 850 L196.6 849 L199.6 848 L202.6 847.1 L205.6 846.1 L208.6 845.2 L211.6 844.2 L214.6 843.2 L217.6 842.3 L220.6 841.3 L223.6 840.3 L226.6 839.4 L229.6 838.4 L232.6 837.4 L235.6 836.5 L238.6 835.5 L241.6 834.6 L244.6 833.6 L247.6 832.6 L250.6 831.7 L253.6 830.7 L256.6 829.7 L259.6 828.7 L262.6 827.7 L265.6 826.7 L268.6 825.8 L271.6 824.8 L274.6 823.8 L277.6 822.8 L280.6 821.8 L283.6 820.8 L286.6 819.9 L289.6 818.9 L292.6 818 L295.6 817 L298.6 816.1 L301.6 815.2 L304.6 814.3 L307.6 813.4 L310.6 812.6 L313.6 811.7 L316.6 810.8 L319.6 810 L322.6 809.2 L325.6 808.4 L328.6 807.6 L331.6 806.8 L334.6 806.1 L337.6 805.4 L340.6 804.7 L343.6 804 L346.6 803.3 L349.6 802.5 L352.6 801.7 L355.6 800.9 L358.6 800.3 L361.6 799.7 L364.6 799.3 L367.6 798.8 L370.6 798.4 L373.6 798 L376.6 797.6 L379.6 797.2 L382.6 796.9 L385.6 796.5 L388.6 796.2 L391.6 795.9 L394.6 795.6 L397.6 795.3 L400.6 795 L403.6 794.7 L406.6 794.4 L409.6 794.1 L412.6 793.8 L415.6 793.6 L418.6 793.4 L421.6 793.2 L424.6 793 L427.6 792.8 L430.6 792.6 L433.6 792.4 L436.6 792.3 L439.6 792.1 L442.6 791.9 L445.6 791.8 L448.6 791.7 L451.6 791.5 L454.6 791.4 L457.6 791.2 L460.6 791.1 L463.6 791 L466.6 790.9 L469.6 790.7 L472.6 790.6 L475.6 790.5 L478.6 790.4 L481.6 790.3 L484.6 790.2 L487.6 790.1 L490.6 790 L493.6 789.9 L496.6 789.8 L499.6 789.7 L502.6 789.6 L505.6 789.5 L508.6 789.4 L511.6 789.3 L514.6 789.2 L517.6 789.1 L520.6 789.1 L523.6 789 L526.6 788.9 L529.6 788.8 L532.6 788.8 L535.6 788.7 L538.6 788.6 L541.6 788.6 L544.6 788.5 L547.6 788.4 L550.6 788.3 L553.6 788.3 L556.6 788.2 L559.6 788.1 L562.6 788 L565.6 788 L568.6 787.9 L571.6 787.8 L574.6 787.7 L577.6 787.7 L580.6 787.6 L583.6 787.5 L586.6 787.4 L589.6 787.4 L592.6 787.3 L595.6 787.2 L598.6 787.1 L601.6 787.1 L604.6 787 L607.6 786.9 L610.6 786.9 L613.6 786.8 L616.6 786.8 L619.6 786.7 L622.6 786.7 L625.6 786.6 L628.6 786.6 L631.6 786.5 L634.6 786.5 L637.6 786.5 L640.6 786.4 L643.6 786.4 L646.6 786.3 L649.6 786.3 L652.6 786.3 L655.6 786.2 L658.6 786.2 L661.6 786.2 L664.6 786.1 L667.6 786.1 L670.6 786.1 L673.6 786 L676.6 786 L679.6 786 L682.6 786 L685.6 785.9 L688.6 785.9 L691.6 785.9 L694.6 785.9 L697.6 785.9 L700.6 785.8 L703.6 785.8 L706.6 785.8 L709 785.8" stroke="#b62ca6" stroke-width="1.15" fill="none"/><path d="M79.6 887.7 L82.6 886.8 L85.6 885.8 L88.6 884.9 L91.6 884 L94.6 883 L97.6 882.1 L100.6 881.1 L103.6 880.2 L106.6 879.2 L109.6 878.3 L112.6 877.3 L115.6 876.4 L118.6 875.4 L121.6 874.4 L124.6 873.5 L127.6 872.5 L130.6 871.5 L133.6 870.6 L136.6 869.6 L139.6 868.6 L142.6 867.6 L145.6 866.7 L148.6 865.7 L151.6 864.7 L154.6 863.7 L157.6 862.7 L160.6 861.7 L163.6 860.7 L166.6 859.7 L169.6 858.7 L172.6 857.7 L175.6 856.7 L178.6 855.7 L181.6 854.7 L184.6 853.7 L187.6 852.7 L190.6 851.6 L193.6 850.6 L196.6 849.6 L199.6 848.6 L202.6 847.6 L205.6 846.6 L208.6 845.6 L211.6 844.6 L214.6 843.6 L217.6 842.6 L220.6 841.6 L223.6 840.6 L226.6 839.6 L229.6 838.6 L232.6 837.6 L235.6 836.6 L238.6 835.6 L241.6 834.6 L244.6 833.6 L247.6 832.6 L250.6 831.6 L253.6 830.6 L256.6 829.6 L259.6 828.5 L262.6 827.5 L265.6 826.5 L268.6 825.4 L271.6 824.4 L274.6 823.3 L277.6 822.3 L280.6 821.3 L283.6 820.3 L286.6 819.3 L289.6 818.3 L292.6 817.3 L295.6 816.4 L298.6 815.4 L301.6 814.5 L304.6 813.6 L307.6 812.7 L310.6 811.9 L313.6 811 L316.6 810.2 L319.6 809.4 L322.6 808.5 L325.6 807.7 L328.6 806.9 L331.6 806.1 L334.6 805.4 L337.6 804.6 L340.6 803.9 L343.6 803.1 L346.6 802.4 L349.6 801.6 L352.6 800.8 L355.6 800.1 L358.6 799.5 L361.6 799 L364.6 798.6 L367.6 798.1 L370.6 797.8 L373.6 797.4 L376.6 797.1 L379.6 796.7 L382.6 796.4 L385.6 796.1 L388.6 795.8 L391.6 795.5 L394.6 795.2 L397.6 794.9 L400.6 794.6 L403.6 794.3 L406.6 794.1 L409.6 793.8 L412.6 793.5 L415.6 793.3 L418.6 793.1 L421.6 792.9 L424.6 792.7 L427.6 792.5 L430.6 792.3 L433.6 792.2 L436.6 792 L439.6 791.9 L442.6 791.7 L445.6 791.6 L448.6 791.5 L451.6 791.3 L454.6 791.2 L457.6 791.1 L460.6 790.9 L463.6 790.8 L466.6 790.7 L469.6 790.6 L472.6 790.4 L475.6 790.3 L478.6 790.2 L481.6 790.1 L484.6 790 L487.6 789.9 L490.6 789.8 L493.6 789.7 L496.6 789.6 L499.6 789.5 L502.6 789.4 L505.6 789.3 L508.6 789.2 L511.6 789.2 L514.6 789.1 L517.6 789 L520.6 788.9 L523.6 788.8 L526.6 788.8 L529.6 788.7 L532.6 788.6 L535.6 788.6 L538.6 788.5 L541.6 788.4 L544.6 788.3 L547.6 788.3 L550.6 788.2 L553.6 788.1 L556.6 788 L559.6 788 L562.6 787.9 L565.6 787.8 L568.6 787.7 L571.6 787.6 L574.6 787.6 L577.6 787.5 L580.6 787.4 L583.6 787.3 L586.6 787.2 L589.6 787.1 L592.6 787.1 L595.6 787 L598.6 786.9 L601.6 786.8 L604.6 786.8 L607.6 786.7 L610.6 786.6 L613.6 786.6 L616.6 786.5 L619.6 786.5 L622.6 786.4 L625.6 786.4 L628.6 786.3 L631.6 786.3 L634.6 786.3 L637.6 786.3 L640.6 786.2 L643.6 786.2 L646.6 786.2 L649.6 786.1 L652.6 786.1 L655.6 786.1 L658.6 786 L661.6 786 L664.6 786 L667.6 786 L670.6 786 L673.6 785.9 L676.6 785.9 L679.6 785.9 L682.6 785.9 L685.6 785.9 L688.6 785.8 L691.6 785.8 L694.6 785.8 L697.6 785.8 L700.6 785.8 L703.6 785.8 L706.6 785.8 L709 785.8" stroke="#40c3d4" stroke-width="1.15" fill="none"/><path d="M79.6 890.7 L82.6 889.8 L85.6 888.9 L88.6 887.9 L91.6 887 L94.6 886.1 L97.6 885.1 L100.6 884.2 L103.6 883.2 L106.6 882.3 L109.6 881.4 L112.6 880.4 L115.6 879.5 L118.6 878.5 L121.6 877.6 L124.6 876.6 L127.6 875.6 L130.6 874.7 L133.6 873.7 L136.6 872.8 L139.6 871.8 L142.6 870.8 L145.6 869.9 L148.6 868.9 L151.6 867.9 L154.6 866.9 L157.6 865.9 L160.6 865 L163.6 864 L166.6 863 L169.6 862 L172.6 861 L175.6 860 L178.6 859 L181.6 858 L184.6 857 L187.6 856 L190.6 855 L193.6 854 L196.6 853 L199.6 852 L202.6 851 L205.6 850 L208.6 849 L211.6 848 L214.6 847 L217.6 846 L220.6 845 L223.6 844 L226.6 843 L229.6 842 L232.6 841 L235.6 840 L238.6 839.1 L241.6 838.1 L244.6 837.1 L247.6 836.1 L250.6 835.1 L253.6 834.1 L256.6 833.1 L259.6 832.1 L262.6 831 L265.6 830 L268.6 829 L271.6 828 L274.6 827 L277.6 826 L280.6 825 L283.6 824 L286.6 823 L289.6 822 L292.6 821 L295.6 820 L298.6 819.1 L301.6 818.1 L304.6 817.2 L307.6 816.2 L310.6 815.3 L313.6 814.3 L316.6 813.4 L319.6 812.5 L322.6 811.6 L325.6 810.7 L328.6 809.9 L331.6 809.1 L334.6 808.3 L337.6 807.6 L340.6 806.9 L343.6 806.2 L346.6 805.4 L349.6 804.6 L352.6 803.8 L355.6 803 L358.6 802.3 L361.6 801.7 L364.6 801.1 L367.6 800.6 L370.6 800 L373.6 799.5 L376.6 799.1 L379.6 798.6 L382.6 798.2 L385.6 797.8 L388.6 797.4 L391.6 797 L394.6 796.6 L397.6 796.3 L400.6 796 L403.6 795.7 L406.6 795.4 L409.6 795.1 L412.6 794.8 L415.6 794.5 L418.6 794.3 L421.6 794.1 L424.6 793.8 L427.6 793.6 L430.6 793.4 L433.6 793.2 L436.6 793 L439.6 792.8 L442.6 792.6 L445.6 792.5 L448.6 792.3 L451.6 792.1 L454.6 792 L457.6 791.8 L460.6 791.7 L463.6 791.6 L466.6 791.4 L469.6 791.3 L472.6 791.2 L475.6 791 L478.6 790.9 L481.6 790.8 L484.6 790.7 L487.6 790.6 L490.6 790.5 L493.6 790.3 L496.6 790.2 L499.6 790.1 L502.6 790 L505.6 789.9 L508.6 789.8 L511.6 789.7 L514.6 789.7 L517.6 789.6 L520.6 789.5 L523.6 789.4 L526.6 789.3 L529.6 789.2 L532.6 789.1 L535.6 789.1 L538.6 789 L541.6 788.9 L544.6 788.8 L547.6 788.7 L550.6 788.7 L553.6 788.6 L556.6 788.5 L559.6 788.4 L562.6 788.4 L565.6 788.3 L568.6 788.2 L571.6 788.1 L574.6 788 L577.6 788 L580.6 787.9 L583.6 787.8 L586.6 787.8 L589.6 787.7 L592.6 787.6 L595.6 787.5 L598.6 787.5 L601.6 787.4 L604.6 787.3 L607.6 787.3 L610.6 787.2 L613.6 787.1 L616.6 787.1 L619.6 787 L622.6 787 L625.6 786.9 L628.6 786.9 L631.6 786.8 L634.6 786.8 L637.6 786.7 L640.6 786.7 L643.6 786.6 L646.6 786.6 L649.6 786.5 L652.6 786.5 L655.6 786.4 L658.6 786.4 L661.6 786.3 L664.6 786.3 L667.6 786.3 L670.6 786.2 L673.6 786.2 L676.6 786.1 L679.6 786.1 L682.6 786.1 L685.6 786 L688.6 786 L691.6 786 L694.6 785.9 L697.6 785.9 L700.6 785.9 L703.6 785.8 L706.6 785.8 L709 785.8" stroke="#b62ca6" stroke-width="1.15" fill="none"/><path d="M79.6 903.1 L82.6 902.1 L85.6 901.1 L88.6 900.2 L91.6 899.2 L94.6 898.2 L97.6 897.2 L100.6 896.2 L103.6 895.3 L106.6 894.3 L109.6 893.3 L112.6 892.3 L115.6 891.4 L118.6 890.4 L121.6 889.4 L124.6 888.5 L127.6 887.5 L130.6 886.5 L133.6 885.6 L136.6 884.6 L139.6 883.7 L142.6 882.7 L145.6 881.7 L148.6 880.8 L151.6 879.8 L154.6 878.9 L157.6 877.9 L160.6 877 L163.6 876 L166.6 875.1 L169.6 874.1 L172.6 873.2 L175.6 872.2 L178.6 871.3 L181.6 870.3 L184.6 869.4 L187.6 868.5 L190.6 867.5 L193.6 866.6 L196.6 865.7 L199.6 864.8 L202.6 863.9 L205.6 863 L208.6 862 L211.6 861.1 L214.6 860.1 L217.6 859.2 L220.6 858.2 L223.6 857.2 L226.6 856.1 L229.6 855.1 L232.6 854 L235.6 852.9 L238.6 851.8 L241.6 850.7 L244.6 849.6 L247.6 848.5 L250.6 847.4 L253.6 846.3 L256.6 845.2 L259.6 844.1 L262.6 843.1 L265.6 842 L268.6 840.9 L271.6 839.8 L274.6 838.8 L277.6 837.7 L280.6 836.6 L283.6 835.5 L286.6 834.5 L289.6 833.4 L292.6 832.3 L295.6 831.2 L298.6 830.2 L301.6 829.1 L304.6 828 L307.6 826.9 L310.6 825.8 L313.6 824.7 L316.6 823.5 L319.6 822.4 L322.6 821.3 L325.6 820.2 L328.6 819.1 L331.6 818 L334.6 817 L337.6 816 L340.6 815 L343.6 814 L346.6 813.1 L349.6 812.2 L352.6 811.2 L355.6 810.4 L358.6 809.5 L361.6 808.6 L364.6 807.8 L367.6 806.9 L370.6 806.1 L373.6 805.3 L376.6 804.6 L379.6 803.8 L382.6 803.1 L385.6 802.4 L388.6 801.7 L391.6 801 L394.6 800.4 L397.6 799.7 L400.6 799 L403.6 798.4 L406.6 797.8 L409.6 797.2 L412.6 796.7 L415.6 796.3 L418.6 795.8 L421.6 795.5 L424.6 795.2 L427.6 794.8 L430.6 794.5 L433.6 794.3 L436.6 794 L439.6 793.7 L442.6 793.5 L445.6 793.3 L448.6 793.1 L451.6 792.9 L454.6 792.7 L457.6 792.5 L460.6 792.3 L463.6 792.1 L466.6 791.9 L469.6 791.8 L472.6 791.6 L475.6 791.4 L478.6 791.3 L481.6 791.1 L484.6 791 L487.6 790.8 L490.6 790.7 L493.6 790.5 L496.6 790.4 L499.6 790.3 L502.6 790.1 L505.6 790 L508.6 789.9 L511.6 789.8 L514.6 789.7 L517.6 789.6 L520.6 789.5 L523.6 789.4 L526.6 789.3 L529.6 789.2 L532.6 789.1 L535.6 789 L538.6 788.9 L541.6 788.8 L544.6 788.7 L547.6 788.6 L550.6 788.5 L553.6 788.5 L556.6 788.4 L559.6 788.3 L562.6 788.2 L565.6 788.2 L568.6 788.1 L571.6 788 L574.6 788 L577.6 787.9 L580.6 787.8 L583.6 787.8 L586.6 787.7 L589.6 787.6 L592.6 787.6 L595.6 787.5 L598.6 787.5 L601.6 787.4 L604.6 787.3 L607.6 787.3 L610.6 787.2 L613.6 787.2 L616.6 787.1 L619.6 787.1 L622.6 787 L625.6 787 L628.6 786.9 L631.6 786.9 L634.6 786.8 L637.6 786.8 L640.6 786.7 L643.6 786.7 L646.6 786.6 L649.6 786.6 L652.6 786.5 L655.6 786.5 L658.6 786.4 L661.6 786.4 L664.6 786.3 L667.6 786.3 L670.6 786.2 L673.6 786.2 L676.6 786.2 L679.6 786.1 L682.6 786.1 L685.6 786 L688.6 786 L691.6 786 L694.6 785.9 L697.6 785.9 L700.6 785.9 L703.6 785.9 L706.6 785.8 L709 785.8" stroke="#5bbd4e" stroke-width="1.15" fill="none"/></g><g font-size="8.6" text-anchor="end" fill="#333"><text x="70" y="622.7">49</text><text x="70" y="1009.6">47</text><text x="70" y="678.6">40</text><text x="70" y="682">21</text><text x="70" y="689.4">4</text><text x="70" y="692.3">8</text><text x="70" y="711.6">37</text><text x="70" y="715.5">34</text><text x="70" y="720">9</text><text x="70" y="726">33</text><text x="70" y="730.1">41</text><text x="70" y="747.2">26</text><text x="70" y="750.2">36</text><text x="70" y="750.8">11</text><text x="70" y="752.5">46</text><text x="70" y="754.7">20</text><text x="70" y="756.2">31</text><text x="70" y="757.5">12</text><text x="70" y="759.5">2</text><text x="70" y="760.7">5</text><text x="70" y="762">7</text><text x="70" y="763">14</text><text x="70" y="764">22</text><text x="70" y="765">24</text><text x="70" y="765.9">30</text><text x="70" y="766.9">28</text><text x="70" y="768.5">1</text><text x="70" y="772.1">32</text><text x="70" y="779.4">18</text><text x="70" y="785.6">42</text><text x="70" y="788.5">44</text><text x="70" y="792.6">13</text><text x="70" y="802">10</text><text x="70" y="804">19</text><text x="70" y="808.5">3</text><text x="70" y="810.9">43</text><text x="70" y="813.4">15</text><text x="70" y="818">50</text><text x="70" y="818.8">30</text><text x="70" y="825.8">29</text><text x="70" y="831.4">16</text><text x="70" y="844.3">38</text><text x="70" y="878.2">25</text><text x="70" y="881.5">27</text><text x="70" y="885.4">23</text><text x="70" y="887.4">48</text><text x="70" y="888.6">6</text><text x="70" y="890.7">39</text><text x="70" y="893.7">35</text><text x="70" y="906.1">45</text></g>
<line x1="543.9" y1="608" x2="543.9" y2="1021.4" stroke="#f38d96" stroke-width="2.0" stroke-dasharray="4.5 3.9"/>
<line x1="626.5" y1="608" x2="626.5" y2="1021.4" stroke="#111" stroke-width="1.2" stroke-dasharray="4.6 3.7"/>
<rect x="54.6" y="604.5" width="680" height="416.9" fill="none" stroke="#222" stroke-width="1.35"/>
<line x1="120.2" y1="1021.4" x2="120.2" y2="1032.1" stroke="#222" stroke-width="1.35"/>
<line x1="120.2" y1="599.9" x2="120.2" y2="604.5" stroke="#222" stroke-width="1.35"/>
<text x="120.2" y="1059.2" font-size="17" text-anchor="middle" fill="#000">−10</text>
<line x1="256.9" y1="1021.4" x2="256.9" y2="1032.1" stroke="#222" stroke-width="1.35"/>
<line x1="256.9" y1="599.9" x2="256.9" y2="604.5" stroke="#222" stroke-width="1.35"/>
<text x="256.9" y="1059.2" font-size="17" text-anchor="middle" fill="#000">−8</text>
<line x1="393.6" y1="1021.4" x2="393.6" y2="1032.1" stroke="#222" stroke-width="1.35"/>
<line x1="393.6" y1="599.9" x2="393.6" y2="604.5" stroke="#222" stroke-width="1.35"/>
<text x="393.6" y="1059.2" font-size="17" text-anchor="middle" fill="#000">−6</text>
<line x1="530.3" y1="1021.4" x2="530.3" y2="1032.1" stroke="#222" stroke-width="1.35"/>
<line x1="530.3" y1="599.9" x2="530.3" y2="604.5" stroke="#222" stroke-width="1.35"/>
<text x="530.3" y="1059.2" font-size="17" text-anchor="middle" fill="#000">−4</text>
<line x1="667" y1="1021.4" x2="667" y2="1032.1" stroke="#222" stroke-width="1.35"/>
<line x1="667" y1="599.9" x2="667" y2="604.5" stroke="#222" stroke-width="1.35"/>
<text x="667" y="1059.2" font-size="17" text-anchor="middle" fill="#000">−2</text>
<text x="120.2" y="580.2" font-size="17" text-anchor="middle" fill="#000">47</text>
<text x="256.9" y="580.2" font-size="17" text-anchor="middle" fill="#000">44</text>
<text x="393.6" y="580.2" font-size="17" text-anchor="middle" fill="#000">41</text>
<text x="530.3" y="580.2" font-size="17" text-anchor="middle" fill="#000">24</text>
<text x="667" y="580.2" font-size="17" text-anchor="middle" fill="#000">5</text>
<line x1="44" y1="949" x2="54.6" y2="949" stroke="#222" stroke-width="1.35"/>
<text transform="translate(31,949) rotate(-90)" font-size="17" text-anchor="middle" fill="#000">−20</text>
<line x1="44" y1="867.4" x2="54.6" y2="867.4" stroke="#222" stroke-width="1.35"/>
<text transform="translate(31,867.4) rotate(-90)" font-size="17" text-anchor="middle" fill="#000">−10</text>
<line x1="44" y1="785.8" x2="54.6" y2="785.8" stroke="#222" stroke-width="1.35"/>
<text transform="translate(31,785.8) rotate(-90)" font-size="17" text-anchor="middle" fill="#000">0</text>
<line x1="44" y1="704.2" x2="54.6" y2="704.2" stroke="#222" stroke-width="1.35"/>
<text transform="translate(31,704.2) rotate(-90)" font-size="17" text-anchor="middle" fill="#000">10</text>
<line x1="44" y1="622.6" x2="54.6" y2="622.6" stroke="#222" stroke-width="1.35"/>
<text transform="translate(31,622.6) rotate(-90)" font-size="17" text-anchor="middle" fill="#000">20</text>
<text transform="translate(13,802.5) rotate(-90)" font-size="17" text-anchor="middle" fill="#000">Coefficients</text>
<text x="395.4" y="1083.8" font-size="17" text-anchor="middle" fill="#000">Log<tspan font-family="Liberation Serif" font-size="19">(<tspan font-size="17">λ</tspan>)</tspan></text>
<g><path d="M822.3 619 L826.3 619.2 L830.3 619.6 L834.3 620.2 L838.3 621.1 L842.3 622.2 L846.3 623.3 L850.3 624.6 L854.3 625.8 L858.3 627 L862.3 628.3 L866.3 629.6 L870.3 630.9 L874.3 632.2 L878.3 633.6 L882.3 634.9 L886.3 636.3 L890.3 637.8 L894.3 639.2 L898.3 640.7 L902.3 642.2 L906.3 643.7 L910.3 645.2 L914.3 646.8 L918.3 648.4 L922.3 650 L926.3 651.6 L930.3 653.3 L934.3 655 L938.3 656.7 L942.3 658.4 L946.3 660.1 L950.3 661.9 L954.3 663.7 L958.3 665.5 L962.3 667.4 L966.3 669.2 L970.3 671.1 L974.3 673 L978.3 675 L982.3 676.9 L986.3 678.9 L990.3 680.9 L994.3 683 L998.3 685 L1002.3 687.1 L1006.3 689.2 L1010.3 691.3 L1014.3 693.5 L1018.3 695.6 L1022.3 697.8 L1026.3 700.1 L1030.3 702.3 L1034.3 704.6 L1038.3 706.9 L1042.3 709.2 L1046.3 711.5 L1050.3 713.9 L1054.3 716.3 L1058.3 718.7 L1062.3 721.1 L1066.3 723.5 L1070.3 726 L1074.3 728.5 L1078.3 731 L1082.3 733.6 L1086.3 736.2 L1090.3 738.8 L1094.3 741.4 L1098.3 744 L1102.3 746.7 L1106.3 749.4 L1110.3 752.1 L1114.3 754.8 L1118.3 757.6 L1122.3 760.3 L1126.3 763.1 L1130.3 766 L1134.3 768.8 L1138.3 771.7 L1142.3 774.6 L1146.3 777.5 L1150.3 780.5 L1154.3 783.4 L1158.3 786.4 L1162.3 789.3 L1166.3 792 L1170.3 794.7 L1174.3 797.1 L1178.3 799.5 L1182.3 801.9 L1186.3 804.2 L1190.3 806.6 L1194.3 809 L1198.3 811.4 L1202.3 813.7 L1206.3 815.6 L1210.3 817 L1214.3 818 L1218.3 818.6 L1222.3 818.8 L1226.3 818.9 L1230.3 819 L1234.3 819 L1238.3 819 L1242.3 819 L1246.3 819 L1250.3 819 L1254.3 819 L1258.3 819 L1262.3 819 L1266.3 819 L1270.3 819 L1274.3 819 L1278.3 819 L1282.3 819 L1286.3 819 L1290.3 819 L1294.3 819 L1298.3 819 L1302.3 819 L1306.3 819 L1310.3 819 L1314.3 819 L1318.3 819 L1322.3 819 L1326.3 819 L1330.3 819 L1334.3 819 L1338.3 819 L1342.3 819 L1346.3 819 L1350.3 819 L1354.3 819 L1358.3 819 L1362.3 819 L1366.3 819 L1370.3 819 L1374.3 819 L1378.3 819 L1382.3 819 L1386.3 819 L1390.3 819 L1394.3 819 L1398.3 819 L1402.3 819 L1406.3 819 L1410.3 819 L1414.3 819 L1418.3 819 L1422.3 819 L1426.3 819 L1430.3 819 L1434.3 819 L1438.3 819 L1442.3 819 L1446.3 819 L1450.3 819 L1451 819" stroke="#b62ca6" stroke-width="1.15" fill="none"/><path d="M822.3 711 L826.3 711.1 L830.3 711.2 L834.3 711.4 L838.3 711.6 L842.3 712 L846.3 712.6 L850.3 713.2 L854.3 714 L858.3 714.8 L862.3 715.7 L866.3 716.7 L870.3 717.7 L874.3 718.7 L878.3 719.7 L882.3 720.7 L886.3 721.7 L890.3 722.7 L894.3 723.7 L898.3 724.7 L902.3 725.7 L906.3 726.7 L910.3 727.8 L914.3 728.9 L918.3 730 L922.3 731.1 L926.3 732.3 L930.3 733.5 L934.3 734.8 L938.3 736.1 L942.3 737.5 L946.3 738.9 L950.3 740.3 L954.3 741.8 L958.3 743.3 L962.3 744.9 L966.3 746.4 L970.3 748 L974.3 749.6 L978.3 751.1 L982.3 752.7 L986.3 754.3 L990.3 755.9 L994.3 757.5 L998.3 759.1 L1002.3 760.7 L1006.3 762.3 L1010.3 763.9 L1014.3 765.5 L1018.3 767.1 L1022.3 768.7 L1026.3 770.3 L1030.3 771.9 L1034.3 773.5 L1038.3 775.1 L1042.3 776.7 L1046.3 778.3 L1050.3 779.8 L1054.3 781.4 L1058.3 783 L1062.3 784.7 L1066.3 786.3 L1070.3 788 L1074.3 789.7 L1078.3 791.5 L1082.3 793.2 L1086.3 795 L1090.3 796.8 L1094.3 798.5 L1098.3 800.1 L1102.3 801.7 L1106.3 803.3 L1110.3 804.8 L1114.3 806.3 L1118.3 807.8 L1122.3 809.4 L1126.3 811 L1130.3 812.7 L1134.3 814.3 L1138.3 815.7 L1142.3 816.9 L1146.3 817.8 L1150.3 818.4 L1154.3 818.9 L1158.3 819.2 L1162.3 819.4 L1166.3 819.6 L1170.3 819.8 L1174.3 819.9 L1178.3 820.1 L1182.3 820.2 L1186.3 820.4 L1190.3 820.5 L1194.3 820.6 L1198.3 820.8 L1202.3 820.9 L1206.3 821.1 L1210.3 821.2 L1214.3 821.4 L1218.3 821.5 L1222.3 821.7 L1226.3 821.8 L1230.3 822 L1234.3 822.1 L1238.3 822.3 L1242.3 822.5 L1246.3 822.7 L1250.3 822.9 L1254.3 823.1 L1258.3 823.4 L1262.3 823.8 L1266.3 824.3 L1270.3 824.8 L1274.3 825.5 L1278.3 826.2 L1282.3 826.9 L1286.3 827.6 L1290.3 828.4 L1294.3 829.1 L1298.3 829.7 L1302.3 830.4 L1306.3 831 L1310.3 831.6 L1314.3 832.1 L1318.3 832.7 L1322.3 833.2 L1326.3 833.7 L1330.3 834.1 L1334.3 834.4 L1338.3 834.6 L1342.3 834.7 L1346.3 834.7 L1350.3 834.6 L1354.3 834.5 L1358.3 834.3 L1362.3 834.1 L1366.3 833.9 L1370.3 833.6 L1374.3 833.3 L1378.3 833 L1382.3 832.6 L1386.3 832.2 L1390.3 831.7 L1394.3 831.2 L1398.3 830.6 L1402.3 830 L1406.3 829.4 L1410.3 828.8 L1414.3 828 L1418.3 827.3 L1422.3 826.5 L1426.3 825.6 L1430.3 824.7 L1434.3 823.7 L1438.3 822.7 L1442.3 821.7 L1446.3 820.8 L1450.3 820.1 L1451 819.6" stroke="#dd3358" stroke-width="1.15" fill="none"/><path d="M822.3 735.7 L826.3 735.7 L830.3 735.8 L834.3 735.9 L838.3 736 L842.3 736.2 L846.3 736.4 L850.3 736.7 L854.3 737.1 L858.3 737.5 L862.3 737.9 L866.3 738.3 L870.3 738.8 L874.3 739.2 L878.3 739.7 L882.3 740.1 L886.3 740.5 L890.3 741 L894.3 741.4 L898.3 741.8 L902.3 742.2 L906.3 742.6 L910.3 743 L914.3 743.4 L918.3 743.8 L922.3 744.2 L926.3 744.7 L930.3 745.1 L934.3 745.5 L938.3 746 L942.3 746.4 L946.3 746.9 L950.3 747.4 L954.3 747.8 L958.3 748.3 L962.3 748.8 L966.3 749.3 L970.3 749.8 L974.3 750.3 L978.3 750.8 L982.3 751.3 L986.3 751.9 L990.3 752.4 L994.3 753 L998.3 753.5 L1002.3 754.1 L1006.3 754.7 L1010.3 755.4 L1014.3 756 L1018.3 756.7 L1022.3 757.4 L1026.3 758.1 L1030.3 758.8 L1034.3 759.6 L1038.3 760.5 L1042.3 761.3 L1046.3 762.2 L1050.3 763.2 L1054.3 764.1 L1058.3 765.1 L1062.3 766 L1066.3 767 L1070.3 768 L1074.3 769 L1078.3 769.9 L1082.3 770.9 L1086.3 771.9 L1090.3 772.9 L1094.3 773.9 L1098.3 774.9 L1102.3 775.9 L1106.3 776.9 L1110.3 777.9 L1114.3 778.9 L1118.3 779.9 L1122.3 780.9 L1126.3 781.8 L1130.3 782.7 L1134.3 783.6 L1138.3 784.4 L1142.3 785.2 L1146.3 786 L1150.3 786.8 L1154.3 787.6 L1158.3 788.4 L1162.3 789.2 L1166.3 790 L1170.3 790.8 L1174.3 791.7 L1178.3 792.7 L1182.3 793.6 L1186.3 794.6 L1190.3 795.6 L1194.3 796.5 L1198.3 797.3 L1202.3 798.1 L1206.3 798.8 L1210.3 799.4 L1214.3 800 L1218.3 800.4 L1222.3 800.9 L1226.3 801.3 L1230.3 801.7 L1234.3 802.1 L1238.3 802.4 L1242.3 802.8 L1246.3 803.2 L1250.3 803.5 L1254.3 803.9 L1258.3 804.2 L1262.3 804.6 L1266.3 805 L1270.3 805.4 L1274.3 805.8 L1278.3 806.2 L1282.3 806.6 L1286.3 807 L1290.3 807.4 L1294.3 807.9 L1298.3 808.3 L1302.3 808.8 L1306.3 809.2 L1310.3 809.7 L1314.3 810.1 L1318.3 810.6 L1322.3 811 L1326.3 811.5 L1330.3 811.9 L1334.3 812.4 L1338.3 812.9 L1342.3 813.4 L1346.3 813.8 L1350.3 814.4 L1354.3 814.9 L1358.3 815.5 L1362.3 816 L1366.3 816.6 L1370.3 817.1 L1374.3 817.6 L1378.3 818 L1382.3 818.4 L1386.3 818.6 L1390.3 818.8 L1394.3 818.9 L1398.3 819 L1402.3 819 L1406.3 819 L1410.3 819 L1414.3 819 L1418.3 819 L1422.3 819 L1426.3 819 L1430.3 819 L1434.3 819 L1438.3 819 L1442.3 819 L1446.3 819 L1450.3 819 L1451 819" stroke="#40c3d4" stroke-width="1.15" fill="none"/><path d="M822.3 749.3 L826.3 749.4 L830.3 749.4 L834.3 749.5 L838.3 749.6 L842.3 749.8 L846.3 750 L850.3 750.3 L854.3 750.6 L858.3 751 L862.3 751.4 L866.3 751.8 L870.3 752.3 L874.3 752.7 L878.3 753.2 L882.3 753.7 L886.3 754.2 L890.3 754.7 L894.3 755.2 L898.3 755.7 L902.3 756.3 L906.3 756.8 L910.3 757.5 L914.3 758.1 L918.3 758.7 L922.3 759.4 L926.3 760.1 L930.3 760.8 L934.3 761.5 L938.3 762.3 L942.3 763 L946.3 763.7 L950.3 764.5 L954.3 765.2 L958.3 766 L962.3 766.7 L966.3 767.5 L970.3 768.2 L974.3 769 L978.3 769.7 L982.3 770.5 L986.3 771.3 L990.3 772.1 L994.3 772.9 L998.3 773.7 L1002.3 774.6 L1006.3 775.4 L1010.3 776.2 L1014.3 777.1 L1018.3 778 L1022.3 778.9 L1026.3 779.8 L1030.3 780.7 L1034.3 781.7 L1038.3 782.7 L1042.3 783.7 L1046.3 784.7 L1050.3 785.8 L1054.3 786.8 L1058.3 787.8 L1062.3 788.8 L1066.3 789.7 L1070.3 790.6 L1074.3 791.5 L1078.3 792.3 L1082.3 793 L1086.3 793.7 L1090.3 794.4 L1094.3 795.2 L1098.3 795.9 L1102.3 796.7 L1106.3 797.5 L1110.3 798.3 L1114.3 799.1 L1118.3 799.9 L1122.3 800.8 L1126.3 801.6 L1130.3 802.3 L1134.3 803.1 L1138.3 803.7 L1142.3 804.4 L1146.3 805 L1150.3 805.5 L1154.3 806 L1158.3 806.5 L1162.3 807 L1166.3 807.5 L1170.3 807.9 L1174.3 808.4 L1178.3 808.8 L1182.3 809.2 L1186.3 809.6 L1190.3 810 L1194.3 810.4 L1198.3 810.7 L1202.3 811.1 L1206.3 811.4 L1210.3 811.7 L1214.3 812.1 L1218.3 812.4 L1222.3 812.7 L1226.3 813 L1230.3 813.3 L1234.3 813.6 L1238.3 813.8 L1242.3 814.1 L1246.3 814.4 L1250.3 814.7 L1254.3 814.9 L1258.3 815.2 L1262.3 815.5 L1266.3 815.8 L1270.3 816.1 L1274.3 816.3 L1278.3 816.6 L1282.3 816.9 L1286.3 817.1 L1290.3 817.4 L1294.3 817.6 L1298.3 817.8 L1302.3 818 L1306.3 818.1 L1310.3 818.3 L1314.3 818.4 L1318.3 818.6 L1322.3 818.7 L1326.3 818.8 L1330.3 818.9 L1334.3 818.9 L1338.3 819 L1342.3 819 L1346.3 819 L1350.3 819 L1354.3 819 L1358.3 819 L1362.3 819 L1366.3 819 L1370.3 819 L1374.3 819 L1378.3 819 L1382.3 819 L1386.3 819 L1390.3 819 L1394.3 819 L1398.3 819 L1402.3 819 L1406.3 819 L1410.3 819 L1414.3 819 L1418.3 819 L1422.3 819 L1426.3 819 L1430.3 819 L1434.3 819 L1438.3 819 L1442.3 819 L1446.3 819 L1450.3 819 L1451 819" stroke="#141414" stroke-width="1.15" fill="none"/><path d="M822.3 757.5 L826.3 757.5 L830.3 757.5 L834.3 757.6 L838.3 757.8 L842.3 758.1 L846.3 758.4 L850.3 758.8 L854.3 759.2 L858.3 759.8 L862.3 760.4 L866.3 761 L870.3 761.7 L874.3 762.4 L878.3 763.1 L882.3 763.9 L886.3 764.7 L890.3 765.5 L894.3 766.3 L898.3 767 L902.3 767.8 L906.3 768.5 L910.3 769.3 L914.3 770 L918.3 770.7 L922.3 771.4 L926.3 772.2 L930.3 772.9 L934.3 773.7 L938.3 774.4 L942.3 775.2 L946.3 776 L950.3 776.8 L954.3 777.6 L958.3 778.4 L962.3 779.3 L966.3 780.1 L970.3 780.9 L974.3 781.8 L978.3 782.6 L982.3 783.5 L986.3 784.4 L990.3 785.2 L994.3 786.1 L998.3 787 L1002.3 787.9 L1006.3 788.8 L1010.3 789.7 L1014.3 790.7 L1018.3 791.7 L1022.3 792.7 L1026.3 793.8 L1030.3 795 L1034.3 796.2 L1038.3 797.4 L1042.3 798.8 L1046.3 800.1 L1050.3 801.5 L1054.3 802.8 L1058.3 804.1 L1062.3 805.4 L1066.3 806.6 L1070.3 807.8 L1074.3 808.8 L1078.3 809.8 L1082.3 810.8 L1086.3 811.7 L1090.3 812.5 L1094.3 813.3 L1098.3 814.1 L1102.3 814.8 L1106.3 815.4 L1110.3 816 L1114.3 816.6 L1118.3 817.1 L1122.3 817.6 L1126.3 818 L1130.3 818.4 L1134.3 818.6 L1138.3 818.8 L1142.3 818.9 L1146.3 819 L1150.3 819 L1154.3 819 L1158.3 819 L1162.3 819 L1166.3 819 L1170.3 819 L1174.3 819 L1178.3 819 L1182.3 819 L1186.3 819 L1190.3 819 L1194.3 819 L1198.3 819 L1202.3 819 L1206.3 819 L1210.3 819 L1214.3 819 L1218.3 819 L1222.3 819 L1226.3 819 L1230.3 819 L1234.3 819 L1238.3 819 L1242.3 819 L1246.3 819 L1250.3 819 L1254.3 819 L1258.3 819 L1262.3 819 L1266.3 819 L1270.3 819 L1274.3 819 L1278.3 819 L1282.3 819 L1286.3 819 L1290.3 819 L1294.3 819 L1298.3 819 L1302.3 819 L1306.3 819 L1310.3 819 L1314.3 819 L1318.3 819 L1322.3 819 L1326.3 819 L1330.3 819 L1334.3 819 L1338.3 819 L1342.3 819 L1346.3 819 L1350.3 819 L1354.3 819 L1358.3 819 L1362.3 819 L1366.3 819 L1370.3 819 L1374.3 819 L1378.3 819 L1382.3 819 L1386.3 819 L1390.3 819 L1394.3 819 L1398.3 819 L1402.3 819 L1406.3 819 L1410.3 819 L1414.3 819 L1418.3 819 L1422.3 819 L1426.3 819 L1430.3 819 L1434.3 819 L1438.3 819 L1442.3 819 L1446.3 819 L1450.3 819 L1451 819" stroke="#b62ca6" stroke-width="1.15" fill="none"/><path d="M822.3 764.5 L826.3 764.5 L830.3 764.5 L834.3 764.5 L838.3 764.6 L842.3 764.6 L846.3 764.7 L850.3 764.8 L854.3 765 L858.3 765.1 L862.3 765.3 L866.3 765.5 L870.3 765.7 L874.3 766 L878.3 766.2 L882.3 766.4 L886.3 766.7 L890.3 767 L894.3 767.2 L898.3 767.5 L902.3 767.8 L906.3 768.1 L910.3 768.4 L914.3 768.7 L918.3 769 L922.3 769.4 L926.3 769.8 L930.3 770.2 L934.3 770.6 L938.3 771.1 L942.3 771.5 L946.3 772 L950.3 772.5 L954.3 773 L958.3 773.6 L962.3 774.1 L966.3 774.6 L970.3 775.2 L974.3 775.7 L978.3 776.2 L982.3 776.8 L986.3 777.4 L990.3 777.9 L994.3 778.5 L998.3 779.2 L1002.3 779.8 L1006.3 780.5 L1010.3 781.1 L1014.3 781.8 L1018.3 782.4 L1022.3 783.1 L1026.3 783.7 L1030.3 784.3 L1034.3 784.9 L1038.3 785.4 L1042.3 785.9 L1046.3 786.4 L1050.3 786.9 L1054.3 787.3 L1058.3 787.6 L1062.3 788 L1066.3 788.3 L1070.3 788.6 L1074.3 788.9 L1078.3 789.2 L1082.3 789.5 L1086.3 789.8 L1090.3 790.2 L1094.3 790.5 L1098.3 790.9 L1102.3 791.3 L1106.3 791.8 L1110.3 792.2 L1114.3 792.7 L1118.3 793.2 L1122.3 793.7 L1126.3 794.2 L1130.3 794.7 L1134.3 795.1 L1138.3 795.5 L1142.3 796 L1146.3 796.4 L1150.3 796.8 L1154.3 797.2 L1158.3 797.6 L1162.3 798 L1166.3 798.4 L1170.3 798.8 L1174.3 799.1 L1178.3 799.5 L1182.3 799.8 L1186.3 800.1 L1190.3 800.4 L1194.3 800.6 L1198.3 800.8 L1202.3 801 L1206.3 801.2 L1210.3 801.3 L1214.3 801.5 L1218.3 801.6 L1222.3 801.7 L1226.3 801.8 L1230.3 801.8 L1234.3 801.9 L1238.3 802 L1242.3 802.1 L1246.3 802.1 L1250.3 802.2 L1254.3 802.3 L1258.3 802.3 L1262.3 802.4 L1266.3 802.4 L1270.3 802.5 L1274.3 802.6 L1278.3 802.6 L1282.3 802.7 L1286.3 802.7 L1290.3 802.8 L1294.3 802.8 L1298.3 802.9 L1302.3 802.9 L1306.3 803 L1310.3 803.1 L1314.3 803.1 L1318.3 803.2 L1322.3 803.3 L1326.3 803.4 L1330.3 803.6 L1334.3 803.8 L1338.3 804 L1342.3 804.3 L1346.3 804.6 L1350.3 805 L1354.3 805.4 L1358.3 805.8 L1362.3 806.3 L1366.3 806.8 L1370.3 807.3 L1374.3 807.8 L1378.3 808.3 L1382.3 808.8 L1386.3 809.4 L1390.3 810 L1394.3 810.5 L1398.3 811.2 L1402.3 811.8 L1406.3 812.4 L1410.3 813 L1414.3 813.6 L1418.3 814.2 L1422.3 814.8 L1426.3 815.4 L1430.3 816 L1434.3 816.6 L1438.3 817.1 L1442.3 817.7 L1446.3 818.1 L1450.3 818.5 L1451 818.7" stroke="#b62ca6" stroke-width="1.15" fill="none"/><path d="M822.3 771.2 L826.3 771.2 L830.3 771.2 L834.3 771.3 L838.3 771.3 L842.3 771.4 L846.3 771.5 L850.3 771.6 L854.3 771.7 L858.3 771.8 L862.3 772 L866.3 772.1 L870.3 772.2 L874.3 772.4 L878.3 772.5 L882.3 772.7 L886.3 772.9 L890.3 773.1 L894.3 773.3 L898.3 773.5 L902.3 773.7 L906.3 773.9 L910.3 774.1 L914.3 774.3 L918.3 774.5 L922.3 774.7 L926.3 774.9 L930.3 775.1 L934.3 775.3 L938.3 775.6 L942.3 775.8 L946.3 776 L950.3 776.3 L954.3 776.5 L958.3 776.8 L962.3 777.1 L966.3 777.3 L970.3 777.6 L974.3 777.9 L978.3 778.2 L982.3 778.4 L986.3 778.7 L990.3 779.1 L994.3 779.4 L998.3 779.7 L1002.3 780 L1006.3 780.4 L1010.3 780.7 L1014.3 781.1 L1018.3 781.4 L1022.3 781.8 L1026.3 782.2 L1030.3 782.6 L1034.3 783 L1038.3 783.4 L1042.3 783.8 L1046.3 784.3 L1050.3 784.7 L1054.3 785.1 L1058.3 785.5 L1062.3 786 L1066.3 786.4 L1070.3 786.9 L1074.3 787.3 L1078.3 787.8 L1082.3 788.3 L1086.3 788.7 L1090.3 789.2 L1094.3 789.7 L1098.3 790.1 L1102.3 790.6 L1106.3 791.1 L1110.3 791.5 L1114.3 792 L1118.3 792.5 L1122.3 792.9 L1126.3 793.4 L1130.3 793.9 L1134.3 794.4 L1138.3 794.8 L1142.3 795.3 L1146.3 795.8 L1150.3 796.3 L1154.3 796.7 L1158.3 797.2 L1162.3 797.7 L1166.3 798.2 L1170.3 798.7 L1174.3 799.2 L1178.3 799.6 L1182.3 800.1 L1186.3 800.6 L1190.3 801.1 L1194.3 801.6 L1198.3 802.1 L1202.3 802.5 L1206.3 803 L1210.3 803.5 L1214.3 804 L1218.3 804.4 L1222.3 804.9 L1226.3 805.4 L1230.3 805.8 L1234.3 806.3 L1238.3 806.8 L1242.3 807.3 L1246.3 807.7 L1250.3 808.2 L1254.3 808.7 L1258.3 809.1 L1262.3 809.6 L1266.3 810.1 L1270.3 810.6 L1274.3 811.1 L1278.3 811.5 L1282.3 812 L1286.3 812.5 L1290.3 812.9 L1294.3 813.3 L1298.3 813.7 L1302.3 814.1 L1306.3 814.5 L1310.3 814.8 L1314.3 815.2 L1318.3 815.6 L1322.3 815.9 L1326.3 816.2 L1330.3 816.5 L1334.3 816.8 L1338.3 817.1 L1342.3 817.3 L1346.3 817.5 L1350.3 817.7 L1354.3 817.9 L1358.3 818 L1362.3 818.2 L1366.3 818.3 L1370.3 818.4 L1374.3 818.6 L1378.3 818.7 L1382.3 818.8 L1386.3 818.8 L1390.3 818.9 L1394.3 818.9 L1398.3 819 L1402.3 819 L1406.3 819 L1410.3 819 L1414.3 819 L1418.3 819 L1422.3 819 L1426.3 819 L1430.3 819 L1434.3 819 L1438.3 819 L1442.3 819 L1446.3 819 L1450.3 819 L1451 819" stroke="#5bbd4e" stroke-width="1.15" fill="none"/><path d="M822.3 776.6 L826.3 776.6 L830.3 776.7 L834.3 776.8 L838.3 776.9 L842.3 777.1 L846.3 777.4 L850.3 777.7 L854.3 778.1 L858.3 778.5 L862.3 779 L866.3 779.5 L870.3 780.1 L874.3 780.6 L878.3 781.3 L882.3 781.9 L886.3 782.6 L890.3 783.2 L894.3 783.9 L898.3 784.6 L902.3 785.3 L906.3 786 L910.3 786.7 L914.3 787.3 L918.3 788.1 L922.3 788.8 L926.3 789.6 L930.3 790.4 L934.3 791.2 L938.3 792.1 L942.3 793 L946.3 793.9 L950.3 794.8 L954.3 795.8 L958.3 796.7 L962.3 797.7 L966.3 798.7 L970.3 799.7 L974.3 800.6 L978.3 801.6 L982.3 802.6 L986.3 803.5 L990.3 804.4 L994.3 805.4 L998.3 806.3 L1002.3 807.2 L1006.3 808 L1010.3 808.9 L1014.3 809.8 L1018.3 810.7 L1022.3 811.6 L1026.3 812.5 L1030.3 813.4 L1034.3 814.2 L1038.3 814.9 L1042.3 815.6 L1046.3 816.2 L1050.3 816.7 L1054.3 817.2 L1058.3 817.6 L1062.3 817.9 L1066.3 818.3 L1070.3 818.5 L1074.3 818.7 L1078.3 818.9 L1082.3 818.9 L1086.3 819 L1090.3 819 L1094.3 819 L1098.3 819 L1102.3 819 L1106.3 819 L1110.3 819 L1114.3 819 L1118.3 819 L1122.3 819 L1126.3 819 L1130.3 819 L1134.3 819 L1138.3 819 L1142.3 819 L1146.3 819 L1150.3 819 L1154.3 819 L1158.3 819 L1162.3 819 L1166.3 819 L1170.3 819 L1174.3 819 L1178.3 819 L1182.3 819 L1186.3 819 L1190.3 819 L1194.3 819 L1198.3 819 L1202.3 819 L1206.3 819 L1210.3 819 L1214.3 819 L1218.3 819 L1222.3 819 L1226.3 819 L1230.3 819 L1234.3 819 L1238.3 819 L1242.3 819 L1246.3 819 L1250.3 819 L1254.3 819 L1258.3 819 L1262.3 819 L1266.3 819 L1270.3 819 L1274.3 819 L1278.3 819 L1282.3 819 L1286.3 819 L1290.3 819 L1294.3 819 L1298.3 819 L1302.3 819 L1306.3 819 L1310.3 819 L1314.3 819 L1318.3 819 L1322.3 819 L1326.3 819 L1330.3 819 L1334.3 819 L1338.3 819 L1342.3 819 L1346.3 819 L1350.3 819 L1354.3 819 L1358.3 819 L1362.3 819 L1366.3 819 L1370.3 819 L1374.3 819 L1378.3 819 L1382.3 819 L1386.3 819 L1390.3 819 L1394.3 819 L1398.3 819 L1402.3 819 L1406.3 819 L1410.3 819 L1414.3 819 L1418.3 819 L1422.3 819 L1426.3 819 L1430.3 819 L1434.3 819 L1438.3 819 L1442.3 819 L1446.3 819 L1450.3 819 L1451 819" stroke="#dd3358" stroke-width="1.15" fill="none"/><path d="M822.3 779.3 L826.3 779.3 L830.3 779.3 L834.3 779.4 L838.3 779.4 L842.3 779.5 L846.3 779.6 L850.3 779.7 L854.3 779.8 L858.3 779.9 L862.3 780.1 L866.3 780.2 L870.3 780.3 L874.3 780.5 L878.3 780.6 L882.3 780.8 L886.3 780.9 L890.3 781.1 L894.3 781.3 L898.3 781.5 L902.3 781.7 L906.3 781.9 L910.3 782 L914.3 782.2 L918.3 782.4 L922.3 782.6 L926.3 782.9 L930.3 783.1 L934.3 783.3 L938.3 783.5 L942.3 783.7 L946.3 784 L950.3 784.2 L954.3 784.5 L958.3 784.7 L962.3 785 L966.3 785.2 L970.3 785.5 L974.3 785.8 L978.3 786.1 L982.3 786.4 L986.3 786.7 L990.3 787 L994.3 787.3 L998.3 787.6 L1002.3 787.9 L1006.3 788.3 L1010.3 788.6 L1014.3 789 L1018.3 789.4 L1022.3 789.8 L1026.3 790.2 L1030.3 790.6 L1034.3 791 L1038.3 791.4 L1042.3 791.8 L1046.3 792.2 L1050.3 792.6 L1054.3 793 L1058.3 793.5 L1062.3 793.9 L1066.3 794.3 L1070.3 794.7 L1074.3 795.1 L1078.3 795.5 L1082.3 796 L1086.3 796.4 L1090.3 796.8 L1094.3 797.2 L1098.3 797.7 L1102.3 798.1 L1106.3 798.5 L1110.3 799 L1114.3 799.4 L1118.3 799.9 L1122.3 800.3 L1126.3 800.8 L1130.3 801.2 L1134.3 801.7 L1138.3 802.1 L1142.3 802.5 L1146.3 803 L1150.3 803.4 L1154.3 803.9 L1158.3 804.3 L1162.3 804.7 L1166.3 805.2 L1170.3 805.6 L1174.3 806 L1178.3 806.5 L1182.3 806.9 L1186.3 807.3 L1190.3 807.8 L1194.3 808.2 L1198.3 808.6 L1202.3 809.1 L1206.3 809.5 L1210.3 809.9 L1214.3 810.4 L1218.3 810.8 L1222.3 811.2 L1226.3 811.7 L1230.3 812.1 L1234.3 812.5 L1238.3 812.9 L1242.3 813.3 L1246.3 813.7 L1250.3 814.1 L1254.3 814.4 L1258.3 814.8 L1262.3 815.2 L1266.3 815.5 L1270.3 815.9 L1274.3 816.2 L1278.3 816.5 L1282.3 816.8 L1286.3 817.1 L1290.3 817.3 L1294.3 817.5 L1298.3 817.7 L1302.3 817.9 L1306.3 818.1 L1310.3 818.2 L1314.3 818.3 L1318.3 818.4 L1322.3 818.6 L1326.3 818.7 L1330.3 818.7 L1334.3 818.8 L1338.3 818.9 L1342.3 818.9 L1346.3 819 L1350.3 819 L1354.3 819 L1358.3 819 L1362.3 819 L1366.3 819 L1370.3 819 L1374.3 819 L1378.3 819 L1382.3 819 L1386.3 819 L1390.3 819 L1394.3 819 L1398.3 819 L1402.3 819 L1406.3 819 L1410.3 819 L1414.3 819 L1418.3 819 L1422.3 819 L1426.3 819 L1430.3 819 L1434.3 819 L1438.3 819 L1442.3 819 L1446.3 819 L1450.3 819 L1451 819" stroke="#2a88d2" stroke-width="1.15" fill="none"/><path d="M822.3 784 L826.3 784 L830.3 784 L834.3 784 L838.3 784 L842.3 784 L846.3 784 L850.3 784 L854.3 784 L858.3 784 L862.3 784 L866.3 784 L870.3 784 L874.3 784 L878.3 784 L882.3 784 L886.3 784 L890.3 784 L894.3 784 L898.3 784 L902.3 784 L906.3 784 L910.3 784 L914.3 784 L918.3 784 L922.3 784 L926.3 784 L930.3 784 L934.3 784 L938.3 784 L942.3 784 L946.3 784 L950.3 784 L954.3 784 L958.3 784 L962.3 784 L966.3 784 L970.3 784 L974.3 784 L978.3 784 L982.3 784 L986.3 784 L990.3 784 L994.3 784 L998.3 784 L1002.3 784 L1006.3 784 L1010.3 784.1 L1014.3 784.1 L1018.3 784.2 L1022.3 784.3 L1026.3 784.4 L1030.3 784.5 L1034.3 784.6 L1038.3 784.7 L1042.3 784.9 L1046.3 785 L1050.3 785.2 L1054.3 785.3 L1058.3 785.5 L1062.3 785.7 L1066.3 785.9 L1070.3 786.1 L1074.3 786.3 L1078.3 786.5 L1082.3 786.8 L1086.3 787.1 L1090.3 787.4 L1094.3 787.8 L1098.3 788.2 L1102.3 788.7 L1106.3 789.2 L1110.3 789.7 L1114.3 790.2 L1118.3 790.7 L1122.3 791.2 L1126.3 791.6 L1130.3 792.1 L1134.3 792.5 L1138.3 793 L1142.3 793.4 L1146.3 793.8 L1150.3 794.2 L1154.3 794.7 L1158.3 795.1 L1162.3 795.5 L1166.3 795.9 L1170.3 796.3 L1174.3 796.7 L1178.3 797.2 L1182.3 797.6 L1186.3 798 L1190.3 798.4 L1194.3 798.8 L1198.3 799.2 L1202.3 799.6 L1206.3 800 L1210.3 800.4 L1214.3 800.8 L1218.3 801.2 L1222.3 801.6 L1226.3 802 L1230.3 802.5 L1234.3 802.9 L1238.3 803.3 L1242.3 803.7 L1246.3 804.1 L1250.3 804.5 L1254.3 804.9 L1258.3 805.3 L1262.3 805.7 L1266.3 806.1 L1270.3 806.4 L1274.3 806.8 L1278.3 807.2 L1282.3 807.6 L1286.3 807.9 L1290.3 808.3 L1294.3 808.6 L1298.3 808.9 L1302.3 809.2 L1306.3 809.6 L1310.3 809.9 L1314.3 810.2 L1318.3 810.5 L1322.3 810.8 L1326.3 811.1 L1330.3 811.4 L1334.3 811.7 L1338.3 812.1 L1342.3 812.4 L1346.3 812.8 L1350.3 813.2 L1354.3 813.7 L1358.3 814.3 L1362.3 814.9 L1366.3 815.5 L1370.3 816.2 L1374.3 816.8 L1378.3 817.4 L1382.3 817.9 L1386.3 818.3 L1390.3 818.6 L1394.3 818.8 L1398.3 818.9 L1402.3 819 L1406.3 819 L1410.3 819 L1414.3 819 L1418.3 819 L1422.3 819 L1426.3 819 L1430.3 819 L1434.3 819 L1438.3 819 L1442.3 819 L1446.3 819 L1450.3 819 L1451 819" stroke="#141414" stroke-width="1.15" fill="none"/><path d="M822.3 782.8 L826.3 782.8 L830.3 782.9 L834.3 782.9 L838.3 783 L842.3 783.1 L846.3 783.2 L850.3 783.3 L854.3 783.5 L858.3 783.6 L862.3 783.8 L866.3 783.9 L870.3 784.1 L874.3 784.2 L878.3 784.4 L882.3 784.6 L886.3 784.7 L890.3 784.9 L894.3 785.1 L898.3 785.3 L902.3 785.4 L906.3 785.6 L910.3 785.8 L914.3 786 L918.3 786.2 L922.3 786.5 L926.3 786.7 L930.3 786.9 L934.3 787.1 L938.3 787.4 L942.3 787.6 L946.3 787.9 L950.3 788.1 L954.3 788.4 L958.3 788.7 L962.3 788.9 L966.3 789.2 L970.3 789.5 L974.3 789.8 L978.3 790.1 L982.3 790.5 L986.3 790.8 L990.3 791.1 L994.3 791.4 L998.3 791.8 L1002.3 792.1 L1006.3 792.5 L1010.3 792.9 L1014.3 793.3 L1018.3 793.7 L1022.3 794.1 L1026.3 794.5 L1030.3 794.9 L1034.3 795.3 L1038.3 795.7 L1042.3 796.1 L1046.3 796.5 L1050.3 796.9 L1054.3 797.3 L1058.3 797.8 L1062.3 798.2 L1066.3 798.6 L1070.3 799 L1074.3 799.4 L1078.3 799.8 L1082.3 800.3 L1086.3 800.7 L1090.3 801.1 L1094.3 801.5 L1098.3 802 L1102.3 802.4 L1106.3 802.8 L1110.3 803.2 L1114.3 803.7 L1118.3 804.1 L1122.3 804.5 L1126.3 804.9 L1130.3 805.4 L1134.3 805.8 L1138.3 806.2 L1142.3 806.6 L1146.3 807.1 L1150.3 807.5 L1154.3 807.9 L1158.3 808.3 L1162.3 808.7 L1166.3 809.2 L1170.3 809.6 L1174.3 810 L1178.3 810.4 L1182.3 810.8 L1186.3 811.2 L1190.3 811.6 L1194.3 812 L1198.3 812.4 L1202.3 812.8 L1206.3 813.2 L1210.3 813.6 L1214.3 814.1 L1218.3 814.5 L1222.3 814.9 L1226.3 815.3 L1230.3 815.6 L1234.3 816 L1238.3 816.3 L1242.3 816.6 L1246.3 816.9 L1250.3 817.2 L1254.3 817.4 L1258.3 817.6 L1262.3 817.8 L1266.3 818 L1270.3 818.2 L1274.3 818.4 L1278.3 818.5 L1282.3 818.6 L1286.3 818.8 L1290.3 818.8 L1294.3 818.9 L1298.3 819 L1302.3 819 L1306.3 819 L1310.3 819 L1314.3 819 L1318.3 819 L1322.3 819 L1326.3 819 L1330.3 819 L1334.3 819 L1338.3 819 L1342.3 819 L1346.3 819 L1350.3 819 L1354.3 819 L1358.3 819 L1362.3 819 L1366.3 819 L1370.3 819 L1374.3 819 L1378.3 819 L1382.3 819 L1386.3 819 L1390.3 819 L1394.3 819 L1398.3 819 L1402.3 819 L1406.3 819 L1410.3 819 L1414.3 819 L1418.3 819 L1422.3 819 L1426.3 819 L1430.3 819 L1434.3 819 L1438.3 819 L1442.3 819 L1446.3 819 L1450.3 819 L1451 819" stroke="#5bbd4e" stroke-width="1.15" fill="none"/><path d="M822.3 785.3 L826.3 785.3 L830.3 785.3 L834.3 785.3 L838.3 785.4 L842.3 785.4 L846.3 785.5 L850.3 785.5 L854.3 785.6 L858.3 785.7 L862.3 785.7 L866.3 785.8 L870.3 785.9 L874.3 786 L878.3 786.1 L882.3 786.2 L886.3 786.4 L890.3 786.5 L894.3 786.6 L898.3 786.8 L902.3 786.9 L906.3 787.1 L910.3 787.2 L914.3 787.4 L918.3 787.5 L922.3 787.7 L926.3 787.8 L930.3 788 L934.3 788.1 L938.3 788.3 L942.3 788.5 L946.3 788.7 L950.3 788.8 L954.3 789 L958.3 789.2 L962.3 789.4 L966.3 789.6 L970.3 789.8 L974.3 790 L978.3 790.2 L982.3 790.4 L986.3 790.6 L990.3 790.8 L994.3 791 L998.3 791.3 L1002.3 791.5 L1006.3 791.8 L1010.3 792 L1014.3 792.3 L1018.3 792.6 L1022.3 792.8 L1026.3 793.1 L1030.3 793.4 L1034.3 793.7 L1038.3 794 L1042.3 794.3 L1046.3 794.6 L1050.3 794.9 L1054.3 795.2 L1058.3 795.6 L1062.3 795.9 L1066.3 796.2 L1070.3 796.5 L1074.3 796.9 L1078.3 797.2 L1082.3 797.5 L1086.3 797.9 L1090.3 798.2 L1094.3 798.5 L1098.3 798.9 L1102.3 799.2 L1106.3 799.6 L1110.3 799.9 L1114.3 800.2 L1118.3 800.6 L1122.3 800.9 L1126.3 801.3 L1130.3 801.6 L1134.3 802 L1138.3 802.3 L1142.3 802.7 L1146.3 803 L1150.3 803.4 L1154.3 803.7 L1158.3 804.1 L1162.3 804.4 L1166.3 804.8 L1170.3 805.1 L1174.3 805.5 L1178.3 805.8 L1182.3 806.2 L1186.3 806.5 L1190.3 806.9 L1194.3 807.2 L1198.3 807.6 L1202.3 807.9 L1206.3 808.2 L1210.3 808.6 L1214.3 808.9 L1218.3 809.3 L1222.3 809.6 L1226.3 810 L1230.3 810.3 L1234.3 810.6 L1238.3 811 L1242.3 811.3 L1246.3 811.6 L1250.3 812 L1254.3 812.3 L1258.3 812.7 L1262.3 813 L1266.3 813.4 L1270.3 813.7 L1274.3 814.1 L1278.3 814.4 L1282.3 814.8 L1286.3 815.1 L1290.3 815.4 L1294.3 815.7 L1298.3 816 L1302.3 816.2 L1306.3 816.5 L1310.3 816.7 L1314.3 816.9 L1318.3 817.2 L1322.3 817.4 L1326.3 817.6 L1330.3 817.8 L1334.3 818 L1338.3 818.1 L1342.3 818.2 L1346.3 818.4 L1350.3 818.5 L1354.3 818.5 L1358.3 818.6 L1362.3 818.7 L1366.3 818.7 L1370.3 818.8 L1374.3 818.8 L1378.3 818.9 L1382.3 818.9 L1386.3 818.9 L1390.3 819 L1394.3 819 L1398.3 819 L1402.3 819 L1406.3 819 L1410.3 819 L1414.3 819 L1418.3 819 L1422.3 819 L1426.3 819 L1430.3 819 L1434.3 819 L1438.3 819 L1442.3 819 L1446.3 819 L1450.3 819 L1451 819" stroke="#40c3d4" stroke-width="1.15" fill="none"/><path d="M822.3 798.8 L826.3 798.8 L830.3 798.8 L834.3 798.8 L838.3 798.8 L842.3 798.8 L846.3 798.8 L850.3 798.8 L854.3 798.8 L858.3 798.8 L862.3 798.8 L866.3 798.8 L870.3 798.8 L874.3 798.8 L878.3 798.8 L882.3 798.8 L886.3 798.8 L890.3 798.9 L894.3 798.9 L898.3 798.9 L902.3 798.9 L906.3 799 L910.3 799 L914.3 799.1 L918.3 799.1 L922.3 799.2 L926.3 799.2 L930.3 799.3 L934.3 799.4 L938.3 799.4 L942.3 799.5 L946.3 799.6 L950.3 799.7 L954.3 799.8 L958.3 799.8 L962.3 799.9 L966.3 800 L970.3 800.1 L974.3 800.1 L978.3 800.2 L982.3 800.3 L986.3 800.4 L990.3 800.5 L994.3 800.6 L998.3 800.6 L1002.3 800.7 L1006.3 800.8 L1010.3 800.9 L1014.3 801 L1018.3 801.1 L1022.3 801.2 L1026.3 801.3 L1030.3 801.4 L1034.3 801.6 L1038.3 801.7 L1042.3 801.8 L1046.3 801.9 L1050.3 802 L1054.3 802.1 L1058.3 802.3 L1062.3 802.4 L1066.3 802.5 L1070.3 802.7 L1074.3 802.8 L1078.3 802.9 L1082.3 803.1 L1086.3 803.2 L1090.3 803.4 L1094.3 803.5 L1098.3 803.7 L1102.3 803.8 L1106.3 804 L1110.3 804.2 L1114.3 804.3 L1118.3 804.5 L1122.3 804.7 L1126.3 804.9 L1130.3 805 L1134.3 805.2 L1138.3 805.4 L1142.3 805.6 L1146.3 805.8 L1150.3 805.9 L1154.3 806.1 L1158.3 806.3 L1162.3 806.5 L1166.3 806.7 L1170.3 806.8 L1174.3 807 L1178.3 807.2 L1182.3 807.4 L1186.3 807.6 L1190.3 807.8 L1194.3 807.9 L1198.3 808.1 L1202.3 808.3 L1206.3 808.5 L1210.3 808.7 L1214.3 808.9 L1218.3 809.1 L1222.3 809.3 L1226.3 809.5 L1230.3 809.7 L1234.3 809.9 L1238.3 810 L1242.3 810.2 L1246.3 810.4 L1250.3 810.6 L1254.3 810.8 L1258.3 811 L1262.3 811.2 L1266.3 811.4 L1270.3 811.6 L1274.3 811.8 L1278.3 812 L1282.3 812.1 L1286.3 812.3 L1290.3 812.5 L1294.3 812.7 L1298.3 812.9 L1302.3 813.1 L1306.3 813.3 L1310.3 813.4 L1314.3 813.6 L1318.3 813.8 L1322.3 814 L1326.3 814.2 L1330.3 814.4 L1334.3 814.5 L1338.3 814.7 L1342.3 814.9 L1346.3 815.1 L1350.3 815.3 L1354.3 815.5 L1358.3 815.6 L1362.3 815.8 L1366.3 816 L1370.3 816.2 L1374.3 816.4 L1378.3 816.6 L1382.3 816.8 L1386.3 816.9 L1390.3 817.1 L1394.3 817.3 L1398.3 817.4 L1402.3 817.5 L1406.3 817.7 L1410.3 817.8 L1414.3 817.9 L1418.3 818 L1422.3 818.1 L1426.3 818.2 L1430.3 818.3 L1434.3 818.4 L1438.3 818.5 L1442.3 818.6 L1446.3 818.6 L1450.3 818.7 L1451 818.7" stroke="#5bbd4e" stroke-width="1.15" fill="none"/><path d="M822.3 799.7 L826.3 799.7 L830.3 799.8 L834.3 799.8 L838.3 799.8 L842.3 799.9 L846.3 799.9 L850.3 800 L854.3 800 L858.3 800.1 L862.3 800.1 L866.3 800.2 L870.3 800.3 L874.3 800.3 L878.3 800.4 L882.3 800.5 L886.3 800.5 L890.3 800.6 L894.3 800.7 L898.3 800.7 L902.3 800.8 L906.3 800.9 L910.3 801 L914.3 801 L918.3 801.1 L922.3 801.2 L926.3 801.3 L930.3 801.4 L934.3 801.4 L938.3 801.5 L942.3 801.6 L946.3 801.7 L950.3 801.8 L954.3 801.9 L958.3 802 L962.3 802.1 L966.3 802.2 L970.3 802.3 L974.3 802.4 L978.3 802.5 L982.3 802.6 L986.3 802.7 L990.3 802.8 L994.3 802.9 L998.3 803.1 L1002.3 803.2 L1006.3 803.3 L1010.3 803.4 L1014.3 803.6 L1018.3 803.7 L1022.3 803.8 L1026.3 804 L1030.3 804.1 L1034.3 804.3 L1038.3 804.4 L1042.3 804.6 L1046.3 804.7 L1050.3 804.9 L1054.3 805 L1058.3 805.2 L1062.3 805.3 L1066.3 805.5 L1070.3 805.7 L1074.3 805.8 L1078.3 806 L1082.3 806.2 L1086.3 806.3 L1090.3 806.5 L1094.3 806.7 L1098.3 806.9 L1102.3 807 L1106.3 807.2 L1110.3 807.4 L1114.3 807.5 L1118.3 807.7 L1122.3 807.9 L1126.3 808.1 L1130.3 808.2 L1134.3 808.4 L1138.3 808.6 L1142.3 808.7 L1146.3 808.9 L1150.3 809.1 L1154.3 809.3 L1158.3 809.4 L1162.3 809.6 L1166.3 809.8 L1170.3 810 L1174.3 810.2 L1178.3 810.4 L1182.3 810.5 L1186.3 810.7 L1190.3 810.9 L1194.3 811.1 L1198.3 811.3 L1202.3 811.4 L1206.3 811.6 L1210.3 811.8 L1214.3 812 L1218.3 812.1 L1222.3 812.3 L1226.3 812.5 L1230.3 812.7 L1234.3 812.8 L1238.3 813 L1242.3 813.2 L1246.3 813.4 L1250.3 813.5 L1254.3 813.7 L1258.3 813.9 L1262.3 814.1 L1266.3 814.2 L1270.3 814.4 L1274.3 814.6 L1278.3 814.7 L1282.3 814.9 L1286.3 815.1 L1290.3 815.2 L1294.3 815.4 L1298.3 815.6 L1302.3 815.8 L1306.3 815.9 L1310.3 816.1 L1314.3 816.3 L1318.3 816.5 L1322.3 816.6 L1326.3 816.8 L1330.3 817 L1334.3 817.1 L1338.3 817.3 L1342.3 817.4 L1346.3 817.6 L1350.3 817.7 L1354.3 817.8 L1358.3 817.9 L1362.3 818 L1366.3 818.1 L1370.3 818.2 L1374.3 818.3 L1378.3 818.4 L1382.3 818.5 L1386.3 818.6 L1390.3 818.6 L1394.3 818.7 L1398.3 818.7 L1402.3 818.8 L1406.3 818.8 L1410.3 818.8 L1414.3 818.9 L1418.3 818.9 L1422.3 818.9 L1426.3 818.9 L1430.3 818.9 L1434.3 819 L1438.3 819 L1442.3 819 L1446.3 819 L1450.3 819 L1451 819" stroke="#2a88d2" stroke-width="1.15" fill="none"/><path d="M822.3 803.2 L826.3 803.2 L830.3 803.2 L834.3 803.2 L838.3 803.2 L842.3 803.2 L846.3 803.2 L850.3 803.2 L854.3 803.2 L858.3 803.3 L862.3 803.3 L866.3 803.3 L870.3 803.3 L874.3 803.3 L878.3 803.4 L882.3 803.4 L886.3 803.4 L890.3 803.5 L894.3 803.6 L898.3 803.6 L902.3 803.7 L906.3 803.7 L910.3 803.8 L914.3 803.8 L918.3 803.9 L922.3 803.9 L926.3 804 L930.3 804.1 L934.3 804.1 L938.3 804.2 L942.3 804.2 L946.3 804.3 L950.3 804.4 L954.3 804.4 L958.3 804.5 L962.3 804.6 L966.3 804.6 L970.3 804.7 L974.3 804.8 L978.3 804.9 L982.3 804.9 L986.3 805 L990.3 805.1 L994.3 805.2 L998.3 805.3 L1002.3 805.3 L1006.3 805.4 L1010.3 805.5 L1014.3 805.6 L1018.3 805.7 L1022.3 805.8 L1026.3 805.9 L1030.3 806 L1034.3 806.1 L1038.3 806.2 L1042.3 806.3 L1046.3 806.4 L1050.3 806.5 L1054.3 806.6 L1058.3 806.7 L1062.3 806.8 L1066.3 807 L1070.3 807.1 L1074.3 807.2 L1078.3 807.3 L1082.3 807.5 L1086.3 807.6 L1090.3 807.7 L1094.3 807.9 L1098.3 808 L1102.3 808.1 L1106.3 808.3 L1110.3 808.4 L1114.3 808.5 L1118.3 808.7 L1122.3 808.8 L1126.3 809 L1130.3 809.1 L1134.3 809.2 L1138.3 809.4 L1142.3 809.5 L1146.3 809.7 L1150.3 809.8 L1154.3 809.9 L1158.3 810.1 L1162.3 810.2 L1166.3 810.4 L1170.3 810.5 L1174.3 810.7 L1178.3 810.8 L1182.3 811 L1186.3 811.1 L1190.3 811.2 L1194.3 811.4 L1198.3 811.5 L1202.3 811.7 L1206.3 811.8 L1210.3 812 L1214.3 812.1 L1218.3 812.3 L1222.3 812.4 L1226.3 812.6 L1230.3 812.7 L1234.3 812.9 L1238.3 813 L1242.3 813.2 L1246.3 813.3 L1250.3 813.4 L1254.3 813.6 L1258.3 813.7 L1262.3 813.9 L1266.3 814 L1270.3 814.2 L1274.3 814.3 L1278.3 814.5 L1282.3 814.6 L1286.3 814.7 L1290.3 814.9 L1294.3 815 L1298.3 815.2 L1302.3 815.3 L1306.3 815.5 L1310.3 815.6 L1314.3 815.7 L1318.3 815.9 L1322.3 816 L1326.3 816.2 L1330.3 816.3 L1334.3 816.4 L1338.3 816.6 L1342.3 816.7 L1346.3 816.8 L1350.3 817 L1354.3 817.1 L1358.3 817.2 L1362.3 817.4 L1366.3 817.5 L1370.3 817.6 L1374.3 817.7 L1378.3 817.8 L1382.3 817.9 L1386.3 818 L1390.3 818.1 L1394.3 818.2 L1398.3 818.3 L1402.3 818.4 L1406.3 818.4 L1410.3 818.5 L1414.3 818.6 L1418.3 818.6 L1422.3 818.7 L1426.3 818.7 L1430.3 818.8 L1434.3 818.8 L1438.3 818.9 L1442.3 818.9 L1446.3 818.9 L1450.3 819 L1451 819" stroke="#2a88d2" stroke-width="1.15" fill="none"/><path d="M822.3 806.3 L826.3 806.3 L830.3 806.3 L834.3 806.3 L838.3 806.4 L842.3 806.4 L846.3 806.4 L850.3 806.5 L854.3 806.5 L858.3 806.6 L862.3 806.6 L866.3 806.7 L870.3 806.7 L874.3 806.7 L878.3 806.8 L882.3 806.8 L886.3 806.9 L890.3 806.9 L894.3 806.9 L898.3 807 L902.3 807 L906.3 807.1 L910.3 807.1 L914.3 807.2 L918.3 807.2 L922.3 807.3 L926.3 807.3 L930.3 807.4 L934.3 807.4 L938.3 807.5 L942.3 807.5 L946.3 807.6 L950.3 807.7 L954.3 807.7 L958.3 807.8 L962.3 807.8 L966.3 807.9 L970.3 808 L974.3 808 L978.3 808.1 L982.3 808.2 L986.3 808.2 L990.3 808.3 L994.3 808.4 L998.3 808.4 L1002.3 808.5 L1006.3 808.6 L1010.3 808.7 L1014.3 808.8 L1018.3 808.8 L1022.3 808.9 L1026.3 809 L1030.3 809.1 L1034.3 809.2 L1038.3 809.3 L1042.3 809.4 L1046.3 809.4 L1050.3 809.5 L1054.3 809.6 L1058.3 809.7 L1062.3 809.8 L1066.3 809.9 L1070.3 810 L1074.3 810.1 L1078.3 810.2 L1082.3 810.4 L1086.3 810.5 L1090.3 810.6 L1094.3 810.7 L1098.3 810.8 L1102.3 810.9 L1106.3 811 L1110.3 811.1 L1114.3 811.2 L1118.3 811.3 L1122.3 811.4 L1126.3 811.5 L1130.3 811.6 L1134.3 811.7 L1138.3 811.8 L1142.3 811.9 L1146.3 812 L1150.3 812.1 L1154.3 812.2 L1158.3 812.4 L1162.3 812.5 L1166.3 812.6 L1170.3 812.7 L1174.3 812.8 L1178.3 812.9 L1182.3 813 L1186.3 813.1 L1190.3 813.2 L1194.3 813.3 L1198.3 813.5 L1202.3 813.6 L1206.3 813.7 L1210.3 813.8 L1214.3 813.9 L1218.3 814 L1222.3 814.1 L1226.3 814.2 L1230.3 814.3 L1234.3 814.4 L1238.3 814.6 L1242.3 814.7 L1246.3 814.8 L1250.3 814.9 L1254.3 815 L1258.3 815.1 L1262.3 815.2 L1266.3 815.3 L1270.3 815.4 L1274.3 815.5 L1278.3 815.6 L1282.3 815.7 L1286.3 815.8 L1290.3 815.9 L1294.3 816.1 L1298.3 816.2 L1302.3 816.3 L1306.3 816.4 L1310.3 816.5 L1314.3 816.6 L1318.3 816.7 L1322.3 816.8 L1326.3 816.9 L1330.3 817 L1334.3 817.1 L1338.3 817.2 L1342.3 817.3 L1346.3 817.4 L1350.3 817.5 L1354.3 817.6 L1358.3 817.7 L1362.3 817.8 L1366.3 817.9 L1370.3 818 L1374.3 818 L1378.3 818.1 L1382.3 818.2 L1386.3 818.3 L1390.3 818.3 L1394.3 818.4 L1398.3 818.5 L1402.3 818.5 L1406.3 818.6 L1410.3 818.6 L1414.3 818.7 L1418.3 818.7 L1422.3 818.8 L1426.3 818.8 L1430.3 818.8 L1434.3 818.9 L1438.3 818.9 L1442.3 818.9 L1446.3 818.9 L1450.3 819 L1451 819" stroke="#5bbd4e" stroke-width="1.15" fill="none"/><path d="M822.3 807.6 L826.3 807.6 L830.3 807.6 L834.3 807.6 L838.3 807.6 L842.3 807.6 L846.3 807.6 L850.3 807.6 L854.3 807.6 L858.3 807.6 L862.3 807.6 L866.3 807.6 L870.3 807.6 L874.3 807.6 L878.3 807.7 L882.3 807.7 L886.3 807.7 L890.3 807.7 L894.3 807.8 L898.3 807.8 L902.3 807.8 L906.3 807.9 L910.3 807.9 L914.3 807.9 L918.3 808 L922.3 808 L926.3 808.1 L930.3 808.1 L934.3 808.1 L938.3 808.2 L942.3 808.2 L946.3 808.3 L950.3 808.3 L954.3 808.3 L958.3 808.4 L962.3 808.4 L966.3 808.5 L970.3 808.5 L974.3 808.6 L978.3 808.6 L982.3 808.7 L986.3 808.7 L990.3 808.8 L994.3 808.8 L998.3 808.9 L1002.3 808.9 L1006.3 809 L1010.3 809.1 L1014.3 809.1 L1018.3 809.2 L1022.3 809.2 L1026.3 809.3 L1030.3 809.4 L1034.3 809.4 L1038.3 809.5 L1042.3 809.6 L1046.3 809.6 L1050.3 809.7 L1054.3 809.8 L1058.3 809.9 L1062.3 809.9 L1066.3 810 L1070.3 810.1 L1074.3 810.2 L1078.3 810.3 L1082.3 810.3 L1086.3 810.4 L1090.3 810.5 L1094.3 810.6 L1098.3 810.7 L1102.3 810.8 L1106.3 810.9 L1110.3 811 L1114.3 811.1 L1118.3 811.2 L1122.3 811.3 L1126.3 811.4 L1130.3 811.5 L1134.3 811.6 L1138.3 811.7 L1142.3 811.8 L1146.3 811.9 L1150.3 812 L1154.3 812.1 L1158.3 812.2 L1162.3 812.3 L1166.3 812.4 L1170.3 812.5 L1174.3 812.6 L1178.3 812.7 L1182.3 812.8 L1186.3 812.9 L1190.3 813 L1194.3 813.1 L1198.3 813.2 L1202.3 813.3 L1206.3 813.4 L1210.3 813.5 L1214.3 813.6 L1218.3 813.7 L1222.3 813.8 L1226.3 813.9 L1230.3 814 L1234.3 814.1 L1238.3 814.2 L1242.3 814.3 L1246.3 814.4 L1250.3 814.5 L1254.3 814.6 L1258.3 814.7 L1262.3 814.8 L1266.3 814.9 L1270.3 815.1 L1274.3 815.2 L1278.3 815.3 L1282.3 815.4 L1286.3 815.5 L1290.3 815.6 L1294.3 815.7 L1298.3 815.8 L1302.3 815.9 L1306.3 816 L1310.3 816.1 L1314.3 816.2 L1318.3 816.3 L1322.3 816.4 L1326.3 816.5 L1330.3 816.6 L1334.3 816.7 L1338.3 816.8 L1342.3 816.9 L1346.3 817 L1350.3 817.1 L1354.3 817.2 L1358.3 817.3 L1362.3 817.4 L1366.3 817.5 L1370.3 817.6 L1374.3 817.7 L1378.3 817.8 L1382.3 817.9 L1386.3 818 L1390.3 818 L1394.3 818.1 L1398.3 818.2 L1402.3 818.3 L1406.3 818.3 L1410.3 818.4 L1414.3 818.5 L1418.3 818.5 L1422.3 818.6 L1426.3 818.6 L1430.3 818.7 L1434.3 818.7 L1438.3 818.8 L1442.3 818.8 L1446.3 818.8 L1450.3 818.8 L1451 818.9" stroke="#dd3358" stroke-width="1.15" fill="none"/><path d="M822.3 809.2 L826.3 809.2 L830.3 809.2 L834.3 809.2 L838.3 809.2 L842.3 809.2 L846.3 809.3 L850.3 809.3 L854.3 809.3 L858.3 809.3 L862.3 809.4 L866.3 809.4 L870.3 809.4 L874.3 809.5 L878.3 809.5 L882.3 809.6 L886.3 809.6 L890.3 809.6 L894.3 809.7 L898.3 809.7 L902.3 809.8 L906.3 809.8 L910.3 809.9 L914.3 809.9 L918.3 810 L922.3 810 L926.3 810.1 L930.3 810.2 L934.3 810.2 L938.3 810.3 L942.3 810.3 L946.3 810.4 L950.3 810.5 L954.3 810.5 L958.3 810.6 L962.3 810.7 L966.3 810.7 L970.3 810.8 L974.3 810.9 L978.3 811 L982.3 811 L986.3 811.1 L990.3 811.2 L994.3 811.3 L998.3 811.4 L1002.3 811.5 L1006.3 811.5 L1010.3 811.6 L1014.3 811.7 L1018.3 811.8 L1022.3 811.9 L1026.3 812.1 L1030.3 812.2 L1034.3 812.3 L1038.3 812.4 L1042.3 812.5 L1046.3 812.6 L1050.3 812.7 L1054.3 812.8 L1058.3 812.9 L1062.3 813 L1066.3 813.1 L1070.3 813.2 L1074.3 813.4 L1078.3 813.5 L1082.3 813.6 L1086.3 813.7 L1090.3 813.8 L1094.3 813.9 L1098.3 814 L1102.3 814.1 L1106.3 814.3 L1110.3 814.4 L1114.3 814.5 L1118.3 814.6 L1122.3 814.7 L1126.3 814.8 L1130.3 814.9 L1134.3 815.1 L1138.3 815.2 L1142.3 815.3 L1146.3 815.4 L1150.3 815.5 L1154.3 815.6 L1158.3 815.7 L1162.3 815.9 L1166.3 816 L1170.3 816.1 L1174.3 816.2 L1178.3 816.3 L1182.3 816.4 L1186.3 816.5 L1190.3 816.6 L1194.3 816.8 L1198.3 816.9 L1202.3 817 L1206.3 817.1 L1210.3 817.2 L1214.3 817.3 L1218.3 817.4 L1222.3 817.6 L1226.3 817.7 L1230.3 817.8 L1234.3 817.9 L1238.3 818 L1242.3 818.1 L1246.3 818.2 L1250.3 818.2 L1254.3 818.3 L1258.3 818.4 L1262.3 818.5 L1266.3 818.5 L1270.3 818.6 L1274.3 818.7 L1278.3 818.7 L1282.3 818.8 L1286.3 818.8 L1290.3 818.9 L1294.3 818.9 L1298.3 818.9 L1302.3 818.9 L1306.3 818.9 L1310.3 819 L1314.3 819 L1318.3 819 L1322.3 819 L1326.3 819 L1330.3 819 L1334.3 819 L1338.3 819 L1342.3 819 L1346.3 819 L1350.3 819 L1354.3 819 L1358.3 819 L1362.3 819 L1366.3 819 L1370.3 819 L1374.3 819 L1378.3 819 L1382.3 819 L1386.3 819 L1390.3 819 L1394.3 819 L1398.3 819 L1402.3 819 L1406.3 819 L1410.3 819 L1414.3 819 L1418.3 819 L1422.3 819 L1426.3 819 L1430.3 819 L1434.3 819 L1438.3 819 L1442.3 819 L1446.3 819 L1450.3 819 L1451 819" stroke="#141414" stroke-width="1.15" fill="none"/><path d="M822.3 815.7 L826.3 815.7 L830.3 815.7 L834.3 815.7 L838.3 815.7 L842.3 815.7 L846.3 815.7 L850.3 815.8 L854.3 815.8 L858.3 815.8 L862.3 815.8 L866.3 815.8 L870.3 815.8 L874.3 815.8 L878.3 815.8 L882.3 815.9 L886.3 815.9 L890.3 815.9 L894.3 815.9 L898.3 815.9 L902.3 815.9 L906.3 816 L910.3 816 L914.3 816 L918.3 816 L922.3 816 L926.3 816 L930.3 816.1 L934.3 816.1 L938.3 816.1 L942.3 816.1 L946.3 816.2 L950.3 816.2 L954.3 816.2 L958.3 816.2 L962.3 816.2 L966.3 816.3 L970.3 816.3 L974.3 816.3 L978.3 816.4 L982.3 816.4 L986.3 816.4 L990.3 816.4 L994.3 816.5 L998.3 816.5 L1002.3 816.5 L1006.3 816.6 L1010.3 816.6 L1014.3 816.6 L1018.3 816.7 L1022.3 816.7 L1026.3 816.7 L1030.3 816.8 L1034.3 816.8 L1038.3 816.8 L1042.3 816.9 L1046.3 816.9 L1050.3 817 L1054.3 817 L1058.3 817 L1062.3 817.1 L1066.3 817.1 L1070.3 817.1 L1074.3 817.2 L1078.3 817.2 L1082.3 817.2 L1086.3 817.3 L1090.3 817.3 L1094.3 817.4 L1098.3 817.4 L1102.3 817.4 L1106.3 817.5 L1110.3 817.5 L1114.3 817.5 L1118.3 817.6 L1122.3 817.6 L1126.3 817.7 L1130.3 817.7 L1134.3 817.7 L1138.3 817.8 L1142.3 817.8 L1146.3 817.9 L1150.3 817.9 L1154.3 817.9 L1158.3 818 L1162.3 818 L1166.3 818 L1170.3 818.1 L1174.3 818.1 L1178.3 818.2 L1182.3 818.2 L1186.3 818.2 L1190.3 818.3 L1194.3 818.3 L1198.3 818.3 L1202.3 818.4 L1206.3 818.4 L1210.3 818.4 L1214.3 818.5 L1218.3 818.5 L1222.3 818.6 L1226.3 818.6 L1230.3 818.6 L1234.3 818.7 L1238.3 818.7 L1242.3 818.7 L1246.3 818.8 L1250.3 818.8 L1254.3 818.8 L1258.3 818.8 L1262.3 818.9 L1266.3 818.9 L1270.3 818.9 L1274.3 818.9 L1278.3 818.9 L1282.3 818.9 L1286.3 819 L1290.3 819 L1294.3 819 L1298.3 819 L1302.3 819 L1306.3 819 L1310.3 819 L1314.3 819 L1318.3 819 L1322.3 819 L1326.3 819 L1330.3 819 L1334.3 819 L1338.3 819 L1342.3 819 L1346.3 819 L1350.3 819 L1354.3 819 L1358.3 819 L1362.3 819 L1366.3 819 L1370.3 819 L1374.3 819 L1378.3 819 L1382.3 819 L1386.3 819 L1390.3 819 L1394.3 819 L1398.3 819 L1402.3 819 L1406.3 819 L1410.3 819 L1414.3 819 L1418.3 819 L1422.3 819 L1426.3 819 L1430.3 819 L1434.3 819 L1438.3 819 L1442.3 819 L1446.3 819 L1450.3 819 L1451 819" stroke="#b62ca6" stroke-width="1.15" fill="none"/><path d="M822.3 816.6 L826.3 816.6 L830.3 816.6 L834.3 816.6 L838.3 816.6 L842.3 816.6 L846.3 816.6 L850.3 816.6 L854.3 816.6 L858.3 816.6 L862.3 816.6 L866.3 816.6 L870.3 816.6 L874.3 816.6 L878.3 816.6 L882.3 816.6 L886.3 816.6 L890.3 816.6 L894.3 816.6 L898.3 816.6 L902.3 816.7 L906.3 816.7 L910.3 816.7 L914.3 816.7 L918.3 816.7 L922.3 816.7 L926.3 816.7 L930.3 816.7 L934.3 816.7 L938.3 816.7 L942.3 816.8 L946.3 816.8 L950.3 816.8 L954.3 816.8 L958.3 816.8 L962.3 816.8 L966.3 816.8 L970.3 816.8 L974.3 816.9 L978.3 816.9 L982.3 816.9 L986.3 816.9 L990.3 816.9 L994.3 816.9 L998.3 816.9 L1002.3 817 L1006.3 817 L1010.3 817 L1014.3 817 L1018.3 817 L1022.3 817 L1026.3 817.1 L1030.3 817.1 L1034.3 817.1 L1038.3 817.1 L1042.3 817.1 L1046.3 817.2 L1050.3 817.2 L1054.3 817.2 L1058.3 817.2 L1062.3 817.3 L1066.3 817.3 L1070.3 817.3 L1074.3 817.3 L1078.3 817.4 L1082.3 817.4 L1086.3 817.4 L1090.3 817.4 L1094.3 817.5 L1098.3 817.5 L1102.3 817.5 L1106.3 817.5 L1110.3 817.6 L1114.3 817.6 L1118.3 817.6 L1122.3 817.6 L1126.3 817.7 L1130.3 817.7 L1134.3 817.7 L1138.3 817.7 L1142.3 817.8 L1146.3 817.8 L1150.3 817.8 L1154.3 817.8 L1158.3 817.9 L1162.3 817.9 L1166.3 817.9 L1170.3 818 L1174.3 818 L1178.3 818 L1182.3 818 L1186.3 818.1 L1190.3 818.1 L1194.3 818.1 L1198.3 818.1 L1202.3 818.2 L1206.3 818.2 L1210.3 818.2 L1214.3 818.3 L1218.3 818.3 L1222.3 818.3 L1226.3 818.3 L1230.3 818.4 L1234.3 818.4 L1238.3 818.4 L1242.3 818.4 L1246.3 818.5 L1250.3 818.5 L1254.3 818.5 L1258.3 818.5 L1262.3 818.6 L1266.3 818.6 L1270.3 818.6 L1274.3 818.6 L1278.3 818.7 L1282.3 818.7 L1286.3 818.7 L1290.3 818.7 L1294.3 818.8 L1298.3 818.8 L1302.3 818.8 L1306.3 818.8 L1310.3 818.8 L1314.3 818.9 L1318.3 818.9 L1322.3 818.9 L1326.3 818.9 L1330.3 818.9 L1334.3 818.9 L1338.3 819 L1342.3 819 L1346.3 819 L1350.3 819 L1354.3 819 L1358.3 819 L1362.3 819 L1366.3 819 L1370.3 819 L1374.3 819 L1378.3 819 L1382.3 819 L1386.3 819 L1390.3 819 L1394.3 819 L1398.3 819 L1402.3 819 L1406.3 819 L1410.3 819 L1414.3 819 L1418.3 819 L1422.3 819 L1426.3 819 L1430.3 819 L1434.3 819 L1438.3 819 L1442.3 819 L1446.3 819 L1450.3 819 L1451 819" stroke="#141414" stroke-width="1.15" fill="none"/><path d="M822.3 817.2 L826.3 817.2 L830.3 817.2 L834.3 817.2 L838.3 817.2 L842.3 817.2 L846.3 817.2 L850.3 817.2 L854.3 817.2 L858.3 817.2 L862.3 817.2 L866.3 817.2 L870.3 817.2 L874.3 817.2 L878.3 817.2 L882.3 817.3 L886.3 817.3 L890.3 817.3 L894.3 817.3 L898.3 817.3 L902.3 817.3 L906.3 817.3 L910.3 817.3 L914.3 817.3 L918.3 817.3 L922.3 817.3 L926.3 817.3 L930.3 817.3 L934.3 817.4 L938.3 817.4 L942.3 817.4 L946.3 817.4 L950.3 817.4 L954.3 817.4 L958.3 817.4 L962.3 817.4 L966.3 817.4 L970.3 817.4 L974.3 817.5 L978.3 817.5 L982.3 817.5 L986.3 817.5 L990.3 817.5 L994.3 817.5 L998.3 817.5 L1002.3 817.5 L1006.3 817.6 L1010.3 817.6 L1014.3 817.6 L1018.3 817.6 L1022.3 817.6 L1026.3 817.6 L1030.3 817.6 L1034.3 817.7 L1038.3 817.7 L1042.3 817.7 L1046.3 817.7 L1050.3 817.7 L1054.3 817.7 L1058.3 817.8 L1062.3 817.8 L1066.3 817.8 L1070.3 817.8 L1074.3 817.8 L1078.3 817.8 L1082.3 817.9 L1086.3 817.9 L1090.3 817.9 L1094.3 817.9 L1098.3 817.9 L1102.3 818 L1106.3 818 L1110.3 818 L1114.3 818 L1118.3 818 L1122.3 818.1 L1126.3 818.1 L1130.3 818.1 L1134.3 818.1 L1138.3 818.1 L1142.3 818.1 L1146.3 818.2 L1150.3 818.2 L1154.3 818.2 L1158.3 818.2 L1162.3 818.2 L1166.3 818.3 L1170.3 818.3 L1174.3 818.3 L1178.3 818.3 L1182.3 818.3 L1186.3 818.4 L1190.3 818.4 L1194.3 818.4 L1198.3 818.4 L1202.3 818.4 L1206.3 818.4 L1210.3 818.5 L1214.3 818.5 L1218.3 818.5 L1222.3 818.5 L1226.3 818.5 L1230.3 818.6 L1234.3 818.6 L1238.3 818.6 L1242.3 818.6 L1246.3 818.6 L1250.3 818.6 L1254.3 818.7 L1258.3 818.7 L1262.3 818.7 L1266.3 818.7 L1270.3 818.7 L1274.3 818.8 L1278.3 818.8 L1282.3 818.8 L1286.3 818.8 L1290.3 818.8 L1294.3 818.8 L1298.3 818.9 L1302.3 818.9 L1306.3 818.9 L1310.3 818.9 L1314.3 818.9 L1318.3 818.9 L1322.3 818.9 L1326.3 818.9 L1330.3 818.9 L1334.3 819 L1338.3 819 L1342.3 819 L1346.3 819 L1350.3 819 L1354.3 819 L1358.3 819 L1362.3 819 L1366.3 819 L1370.3 819 L1374.3 819 L1378.3 819 L1382.3 819 L1386.3 819 L1390.3 819 L1394.3 819 L1398.3 819 L1402.3 819 L1406.3 819 L1410.3 819 L1414.3 819 L1418.3 819 L1422.3 819 L1426.3 819 L1430.3 819 L1434.3 819 L1438.3 819 L1442.3 819 L1446.3 819 L1450.3 819 L1451 819" stroke="#141414" stroke-width="1.15" fill="none"/><path d="M822.3 819 L826.3 819 L830.3 819 L834.3 819 L838.3 819 L842.3 819 L846.3 819 L850.3 819 L854.3 819 L858.3 819 L862.3 819 L866.3 819 L870.3 819 L874.3 819 L878.3 819 L882.3 819 L886.3 819 L890.3 819 L894.3 819 L898.3 819 L902.3 819 L906.3 819 L910.3 819 L914.3 819 L918.3 819 L922.3 819 L926.3 819 L930.3 819 L934.3 819 L938.3 819 L942.3 819 L946.3 819 L950.3 819 L954.3 819 L958.3 819 L962.3 819 L966.3 819 L970.3 819 L974.3 819 L978.3 819 L982.3 819 L986.3 819 L990.3 819 L994.3 819 L998.3 819 L1002.3 819 L1006.3 819 L1010.3 819 L1014.3 819 L1018.3 819 L1022.3 819 L1026.3 819 L1030.3 819 L1034.3 819 L1038.3 819 L1042.3 819 L1046.3 819 L1050.3 819 L1054.3 819 L1058.3 819 L1062.3 819 L1066.3 819 L1070.3 819 L1074.3 819 L1078.3 819 L1082.3 819 L1086.3 819 L1090.3 819 L1094.3 819 L1098.3 819 L1102.3 819 L1106.3 819 L1110.3 819 L1114.3 819 L1118.3 819 L1122.3 819 L1126.3 819 L1130.3 819 L1134.3 819 L1138.3 819 L1142.3 819 L1146.3 819 L1150.3 819 L1154.3 819 L1158.3 819 L1162.3 819 L1166.3 819 L1170.3 819 L1174.3 819 L1178.3 819 L1182.3 819 L1186.3 819 L1190.3 819 L1194.3 819 L1198.3 819 L1202.3 819 L1206.3 819 L1210.3 819 L1214.3 819 L1218.3 819 L1222.3 819 L1226.3 819 L1230.3 819 L1234.3 819 L1238.3 819 L1242.3 819 L1246.3 819 L1250.3 819 L1254.3 819 L1258.3 819 L1262.3 819 L1266.3 819 L1270.3 819 L1274.3 819 L1278.3 819 L1282.3 819 L1286.3 819 L1290.3 819 L1294.3 819 L1298.3 819 L1302.3 819 L1306.3 819 L1310.3 819 L1314.3 819 L1318.3 819 L1322.3 819 L1326.3 819 L1330.3 819 L1334.3 819 L1338.3 819 L1342.3 819 L1346.3 819 L1350.3 819 L1354.3 819 L1358.3 819 L1362.3 819 L1366.3 819 L1370.3 819 L1374.3 819 L1378.3 819 L1382.3 819 L1386.3 819 L1390.3 819 L1394.3 819 L1398.3 819 L1402.3 819 L1406.3 819 L1410.3 819 L1414.3 819 L1418.3 819 L1422.3 819 L1426.3 819 L1430.3 819 L1434.3 819 L1438.3 819 L1442.3 819 L1446.3 819 L1450.3 819 L1451 819" stroke="#40c3d4" stroke-width="1.15" fill="none"/><path d="M822.3 822.9 L826.3 822.9 L830.3 822.9 L834.3 822.9 L838.3 822.9 L842.3 822.9 L846.3 822.9 L850.3 822.9 L854.3 822.9 L858.3 822.9 L862.3 822.9 L866.3 822.9 L870.3 822.9 L874.3 822.9 L878.3 822.9 L882.3 822.9 L886.3 822.9 L890.3 822.9 L894.3 822.9 L898.3 822.8 L902.3 822.8 L906.3 822.8 L910.3 822.8 L914.3 822.8 L918.3 822.8 L922.3 822.8 L926.3 822.8 L930.3 822.7 L934.3 822.7 L938.3 822.7 L942.3 822.7 L946.3 822.7 L950.3 822.7 L954.3 822.6 L958.3 822.6 L962.3 822.6 L966.3 822.6 L970.3 822.6 L974.3 822.5 L978.3 822.5 L982.3 822.5 L986.3 822.5 L990.3 822.5 L994.3 822.4 L998.3 822.4 L1002.3 822.4 L1006.3 822.4 L1010.3 822.3 L1014.3 822.3 L1018.3 822.3 L1022.3 822.3 L1026.3 822.2 L1030.3 822.2 L1034.3 822.2 L1038.3 822.2 L1042.3 822.1 L1046.3 822.1 L1050.3 822.1 L1054.3 822 L1058.3 822 L1062.3 822 L1066.3 821.9 L1070.3 821.9 L1074.3 821.9 L1078.3 821.8 L1082.3 821.8 L1086.3 821.7 L1090.3 821.7 L1094.3 821.7 L1098.3 821.6 L1102.3 821.6 L1106.3 821.5 L1110.3 821.5 L1114.3 821.5 L1118.3 821.4 L1122.3 821.4 L1126.3 821.3 L1130.3 821.3 L1134.3 821.3 L1138.3 821.2 L1142.3 821.2 L1146.3 821.1 L1150.3 821.1 L1154.3 821.1 L1158.3 821 L1162.3 821 L1166.3 820.9 L1170.3 820.9 L1174.3 820.9 L1178.3 820.8 L1182.3 820.8 L1186.3 820.7 L1190.3 820.7 L1194.3 820.6 L1198.3 820.6 L1202.3 820.6 L1206.3 820.5 L1210.3 820.5 L1214.3 820.4 L1218.3 820.4 L1222.3 820.4 L1226.3 820.3 L1230.3 820.3 L1234.3 820.2 L1238.3 820.2 L1242.3 820.1 L1246.3 820.1 L1250.3 820.1 L1254.3 820 L1258.3 820 L1262.3 819.9 L1266.3 819.9 L1270.3 819.9 L1274.3 819.8 L1278.3 819.8 L1282.3 819.7 L1286.3 819.7 L1290.3 819.7 L1294.3 819.6 L1298.3 819.6 L1302.3 819.6 L1306.3 819.5 L1310.3 819.5 L1314.3 819.4 L1318.3 819.4 L1322.3 819.4 L1326.3 819.3 L1330.3 819.3 L1334.3 819.3 L1338.3 819.2 L1342.3 819.2 L1346.3 819.2 L1350.3 819.2 L1354.3 819.1 L1358.3 819.1 L1362.3 819.1 L1366.3 819.1 L1370.3 819.1 L1374.3 819.1 L1378.3 819 L1382.3 819 L1386.3 819 L1390.3 819 L1394.3 819 L1398.3 819 L1402.3 819 L1406.3 819 L1410.3 819 L1414.3 819 L1418.3 819 L1422.3 819 L1426.3 819 L1430.3 819 L1434.3 819 L1438.3 819 L1442.3 819 L1446.3 819 L1450.3 819 L1451 819" stroke="#5bbd4e" stroke-width="1.15" fill="none"/><path d="M822.3 826.3 L826.3 826.3 L830.3 826.3 L834.3 826.3 L838.3 826.3 L842.3 826.3 L846.3 826.3 L850.3 826.3 L854.3 826.3 L858.3 826.3 L862.3 826.3 L866.3 826.3 L870.3 826.3 L874.3 826.2 L878.3 826.2 L882.3 826.2 L886.3 826.2 L890.3 826.2 L894.3 826.1 L898.3 826.1 L902.3 826.1 L906.3 826 L910.3 826 L914.3 826 L918.3 826 L922.3 825.9 L926.3 825.9 L930.3 825.9 L934.3 825.9 L938.3 825.8 L942.3 825.8 L946.3 825.8 L950.3 825.7 L954.3 825.7 L958.3 825.7 L962.3 825.6 L966.3 825.6 L970.3 825.6 L974.3 825.5 L978.3 825.5 L982.3 825.4 L986.3 825.4 L990.3 825.4 L994.3 825.3 L998.3 825.3 L1002.3 825.2 L1006.3 825.2 L1010.3 825.1 L1014.3 825.1 L1018.3 825 L1022.3 825 L1026.3 824.9 L1030.3 824.9 L1034.3 824.8 L1038.3 824.8 L1042.3 824.7 L1046.3 824.7 L1050.3 824.6 L1054.3 824.6 L1058.3 824.5 L1062.3 824.4 L1066.3 824.4 L1070.3 824.3 L1074.3 824.3 L1078.3 824.2 L1082.3 824.1 L1086.3 824 L1090.3 824 L1094.3 823.9 L1098.3 823.8 L1102.3 823.8 L1106.3 823.7 L1110.3 823.6 L1114.3 823.6 L1118.3 823.5 L1122.3 823.4 L1126.3 823.4 L1130.3 823.3 L1134.3 823.2 L1138.3 823.2 L1142.3 823.1 L1146.3 823 L1150.3 822.9 L1154.3 822.9 L1158.3 822.8 L1162.3 822.7 L1166.3 822.7 L1170.3 822.6 L1174.3 822.5 L1178.3 822.4 L1182.3 822.4 L1186.3 822.3 L1190.3 822.2 L1194.3 822.1 L1198.3 822.1 L1202.3 822 L1206.3 821.9 L1210.3 821.9 L1214.3 821.8 L1218.3 821.7 L1222.3 821.6 L1226.3 821.6 L1230.3 821.5 L1234.3 821.4 L1238.3 821.3 L1242.3 821.3 L1246.3 821.2 L1250.3 821.1 L1254.3 821.1 L1258.3 821 L1262.3 820.9 L1266.3 820.9 L1270.3 820.8 L1274.3 820.7 L1278.3 820.6 L1282.3 820.6 L1286.3 820.5 L1290.3 820.4 L1294.3 820.4 L1298.3 820.3 L1302.3 820.2 L1306.3 820.2 L1310.3 820.1 L1314.3 820 L1318.3 819.9 L1322.3 819.9 L1326.3 819.8 L1330.3 819.7 L1334.3 819.7 L1338.3 819.6 L1342.3 819.6 L1346.3 819.5 L1350.3 819.5 L1354.3 819.4 L1358.3 819.4 L1362.3 819.3 L1366.3 819.3 L1370.3 819.2 L1374.3 819.2 L1378.3 819.2 L1382.3 819.1 L1386.3 819.1 L1390.3 819.1 L1394.3 819.1 L1398.3 819.1 L1402.3 819.1 L1406.3 819 L1410.3 819 L1414.3 819 L1418.3 819 L1422.3 819 L1426.3 819 L1430.3 819 L1434.3 819 L1438.3 819 L1442.3 819 L1446.3 819 L1450.3 819 L1451 819" stroke="#2a88d2" stroke-width="1.15" fill="none"/><path d="M822.3 827 L826.3 826.9 L830.3 826.9 L834.3 826.9 L838.3 826.9 L842.3 826.9 L846.3 826.8 L850.3 826.8 L854.3 826.8 L858.3 826.8 L862.3 826.7 L866.3 826.7 L870.3 826.7 L874.3 826.7 L878.3 826.6 L882.3 826.6 L886.3 826.6 L890.3 826.5 L894.3 826.5 L898.3 826.5 L902.3 826.5 L906.3 826.4 L910.3 826.4 L914.3 826.4 L918.3 826.3 L922.3 826.3 L926.3 826.3 L930.3 826.2 L934.3 826.2 L938.3 826.1 L942.3 826.1 L946.3 826.1 L950.3 826 L954.3 826 L958.3 825.9 L962.3 825.9 L966.3 825.9 L970.3 825.8 L974.3 825.8 L978.3 825.7 L982.3 825.7 L986.3 825.6 L990.3 825.6 L994.3 825.5 L998.3 825.5 L1002.3 825.4 L1006.3 825.4 L1010.3 825.3 L1014.3 825.3 L1018.3 825.2 L1022.3 825.2 L1026.3 825.1 L1030.3 825 L1034.3 825 L1038.3 824.9 L1042.3 824.8 L1046.3 824.8 L1050.3 824.7 L1054.3 824.7 L1058.3 824.6 L1062.3 824.5 L1066.3 824.5 L1070.3 824.4 L1074.3 824.3 L1078.3 824.2 L1082.3 824.2 L1086.3 824.1 L1090.3 824 L1094.3 824 L1098.3 823.9 L1102.3 823.8 L1106.3 823.8 L1110.3 823.7 L1114.3 823.6 L1118.3 823.5 L1122.3 823.5 L1126.3 823.4 L1130.3 823.3 L1134.3 823.3 L1138.3 823.2 L1142.3 823.1 L1146.3 823.1 L1150.3 823 L1154.3 822.9 L1158.3 822.8 L1162.3 822.8 L1166.3 822.7 L1170.3 822.6 L1174.3 822.5 L1178.3 822.5 L1182.3 822.4 L1186.3 822.3 L1190.3 822.2 L1194.3 822.2 L1198.3 822.1 L1202.3 822 L1206.3 822 L1210.3 821.9 L1214.3 821.8 L1218.3 821.7 L1222.3 821.7 L1226.3 821.6 L1230.3 821.5 L1234.3 821.4 L1238.3 821.4 L1242.3 821.3 L1246.3 821.2 L1250.3 821.2 L1254.3 821.1 L1258.3 821 L1262.3 821 L1266.3 820.9 L1270.3 820.8 L1274.3 820.7 L1278.3 820.7 L1282.3 820.6 L1286.3 820.5 L1290.3 820.5 L1294.3 820.4 L1298.3 820.3 L1302.3 820.3 L1306.3 820.2 L1310.3 820.1 L1314.3 820.1 L1318.3 820 L1322.3 819.9 L1326.3 819.8 L1330.3 819.8 L1334.3 819.7 L1338.3 819.7 L1342.3 819.6 L1346.3 819.5 L1350.3 819.5 L1354.3 819.4 L1358.3 819.4 L1362.3 819.4 L1366.3 819.3 L1370.3 819.3 L1374.3 819.2 L1378.3 819.2 L1382.3 819.2 L1386.3 819.2 L1390.3 819.1 L1394.3 819.1 L1398.3 819.1 L1402.3 819.1 L1406.3 819.1 L1410.3 819.1 L1414.3 819 L1418.3 819 L1422.3 819 L1426.3 819 L1430.3 819 L1434.3 819 L1438.3 819 L1442.3 819 L1446.3 819 L1450.3 819 L1451 819" stroke="#b62ca6" stroke-width="1.15" fill="none"/><path d="M822.3 828.5 L826.3 828.5 L830.3 828.5 L834.3 828.5 L838.3 828.4 L842.3 828.4 L846.3 828.4 L850.3 828.3 L854.3 828.3 L858.3 828.3 L862.3 828.2 L866.3 828.2 L870.3 828.1 L874.3 828.1 L878.3 828.1 L882.3 828 L886.3 828 L890.3 827.9 L894.3 827.9 L898.3 827.8 L902.3 827.8 L906.3 827.8 L910.3 827.7 L914.3 827.7 L918.3 827.6 L922.3 827.6 L926.3 827.5 L930.3 827.5 L934.3 827.4 L938.3 827.3 L942.3 827.3 L946.3 827.2 L950.3 827.2 L954.3 827.1 L958.3 827 L962.3 827 L966.3 826.9 L970.3 826.8 L974.3 826.8 L978.3 826.7 L982.3 826.6 L986.3 826.6 L990.3 826.5 L994.3 826.4 L998.3 826.3 L1002.3 826.2 L1006.3 826.2 L1010.3 826.1 L1014.3 826 L1018.3 825.9 L1022.3 825.8 L1026.3 825.7 L1030.3 825.6 L1034.3 825.5 L1038.3 825.5 L1042.3 825.4 L1046.3 825.3 L1050.3 825.2 L1054.3 825.1 L1058.3 825 L1062.3 824.9 L1066.3 824.8 L1070.3 824.7 L1074.3 824.6 L1078.3 824.5 L1082.3 824.4 L1086.3 824.4 L1090.3 824.3 L1094.3 824.2 L1098.3 824.1 L1102.3 824 L1106.3 823.9 L1110.3 823.8 L1114.3 823.7 L1118.3 823.6 L1122.3 823.5 L1126.3 823.4 L1130.3 823.3 L1134.3 823.2 L1138.3 823.1 L1142.3 823 L1146.3 822.9 L1150.3 822.8 L1154.3 822.7 L1158.3 822.6 L1162.3 822.5 L1166.3 822.4 L1170.3 822.3 L1174.3 822.2 L1178.3 822.1 L1182.3 822.1 L1186.3 822 L1190.3 821.9 L1194.3 821.8 L1198.3 821.7 L1202.3 821.6 L1206.3 821.5 L1210.3 821.4 L1214.3 821.3 L1218.3 821.2 L1222.3 821.1 L1226.3 821 L1230.3 820.9 L1234.3 820.8 L1238.3 820.8 L1242.3 820.7 L1246.3 820.6 L1250.3 820.5 L1254.3 820.4 L1258.3 820.3 L1262.3 820.2 L1266.3 820.1 L1270.3 820 L1274.3 820 L1278.3 819.9 L1282.3 819.8 L1286.3 819.7 L1290.3 819.6 L1294.3 819.6 L1298.3 819.5 L1302.3 819.5 L1306.3 819.4 L1310.3 819.4 L1314.3 819.3 L1318.3 819.3 L1322.3 819.2 L1326.3 819.2 L1330.3 819.1 L1334.3 819.1 L1338.3 819.1 L1342.3 819.1 L1346.3 819 L1350.3 819 L1354.3 819 L1358.3 819 L1362.3 819 L1366.3 819 L1370.3 819 L1374.3 819 L1378.3 819 L1382.3 819 L1386.3 819 L1390.3 819 L1394.3 819 L1398.3 819 L1402.3 819 L1406.3 819 L1410.3 819 L1414.3 819 L1418.3 819 L1422.3 819 L1426.3 819 L1430.3 819 L1434.3 819 L1438.3 819 L1442.3 819 L1446.3 819 L1450.3 819 L1451 819" stroke="#40c3d4" stroke-width="1.15" fill="none"/><path d="M822.3 830.4 L826.3 830.4 L830.3 830.4 L834.3 830.4 L838.3 830.4 L842.3 830.3 L846.3 830.3 L850.3 830.3 L854.3 830.2 L858.3 830.2 L862.3 830.2 L866.3 830.1 L870.3 830.1 L874.3 830 L878.3 830 L882.3 829.9 L886.3 829.9 L890.3 829.9 L894.3 829.8 L898.3 829.8 L902.3 829.7 L906.3 829.7 L910.3 829.6 L914.3 829.5 L918.3 829.5 L922.3 829.4 L926.3 829.4 L930.3 829.3 L934.3 829.3 L938.3 829.2 L942.3 829.1 L946.3 829.1 L950.3 829 L954.3 828.9 L958.3 828.9 L962.3 828.8 L966.3 828.7 L970.3 828.7 L974.3 828.6 L978.3 828.5 L982.3 828.4 L986.3 828.3 L990.3 828.3 L994.3 828.2 L998.3 828.1 L1002.3 828 L1006.3 827.9 L1010.3 827.8 L1014.3 827.7 L1018.3 827.6 L1022.3 827.5 L1026.3 827.4 L1030.3 827.3 L1034.3 827.2 L1038.3 827.1 L1042.3 826.9 L1046.3 826.8 L1050.3 826.7 L1054.3 826.6 L1058.3 826.5 L1062.3 826.4 L1066.3 826.3 L1070.3 826.2 L1074.3 826 L1078.3 825.9 L1082.3 825.8 L1086.3 825.7 L1090.3 825.6 L1094.3 825.5 L1098.3 825.3 L1102.3 825.2 L1106.3 825.1 L1110.3 825 L1114.3 824.9 L1118.3 824.7 L1122.3 824.6 L1126.3 824.5 L1130.3 824.4 L1134.3 824.2 L1138.3 824.1 L1142.3 824 L1146.3 823.9 L1150.3 823.8 L1154.3 823.6 L1158.3 823.5 L1162.3 823.4 L1166.3 823.3 L1170.3 823.2 L1174.3 823 L1178.3 822.9 L1182.3 822.8 L1186.3 822.7 L1190.3 822.6 L1194.3 822.4 L1198.3 822.3 L1202.3 822.2 L1206.3 822.1 L1210.3 822 L1214.3 821.8 L1218.3 821.7 L1222.3 821.6 L1226.3 821.5 L1230.3 821.4 L1234.3 821.3 L1238.3 821.1 L1242.3 821 L1246.3 820.9 L1250.3 820.8 L1254.3 820.7 L1258.3 820.6 L1262.3 820.5 L1266.3 820.4 L1270.3 820.2 L1274.3 820.1 L1278.3 820 L1282.3 819.9 L1286.3 819.8 L1290.3 819.7 L1294.3 819.7 L1298.3 819.6 L1302.3 819.5 L1306.3 819.5 L1310.3 819.4 L1314.3 819.3 L1318.3 819.3 L1322.3 819.2 L1326.3 819.2 L1330.3 819.1 L1334.3 819.1 L1338.3 819.1 L1342.3 819 L1346.3 819 L1350.3 819 L1354.3 819 L1358.3 819 L1362.3 819 L1366.3 819 L1370.3 819 L1374.3 819 L1378.3 819 L1382.3 819 L1386.3 819 L1390.3 819 L1394.3 819 L1398.3 819 L1402.3 819 L1406.3 819 L1410.3 819 L1414.3 819 L1418.3 819 L1422.3 819 L1426.3 819 L1430.3 819 L1434.3 819 L1438.3 819 L1442.3 819 L1446.3 819 L1450.3 819 L1451 819" stroke="#2a88d2" stroke-width="1.15" fill="none"/><path d="M822.3 834.3 L826.3 834.3 L830.3 834.3 L834.3 834.2 L838.3 834.2 L842.3 834.1 L846.3 834.1 L850.3 834.1 L854.3 834 L858.3 833.9 L862.3 833.9 L866.3 833.8 L870.3 833.8 L874.3 833.7 L878.3 833.6 L882.3 833.6 L886.3 833.5 L890.3 833.4 L894.3 833.4 L898.3 833.3 L902.3 833.2 L906.3 833.2 L910.3 833.1 L914.3 833 L918.3 832.9 L922.3 832.9 L926.3 832.8 L930.3 832.7 L934.3 832.6 L938.3 832.5 L942.3 832.4 L946.3 832.3 L950.3 832.2 L954.3 832.1 L958.3 832 L962.3 831.9 L966.3 831.8 L970.3 831.7 L974.3 831.6 L978.3 831.5 L982.3 831.4 L986.3 831.3 L990.3 831.2 L994.3 831 L998.3 830.9 L1002.3 830.8 L1006.3 830.7 L1010.3 830.5 L1014.3 830.4 L1018.3 830.2 L1022.3 830.1 L1026.3 829.9 L1030.3 829.8 L1034.3 829.6 L1038.3 829.5 L1042.3 829.3 L1046.3 829.1 L1050.3 829 L1054.3 828.8 L1058.3 828.7 L1062.3 828.5 L1066.3 828.4 L1070.3 828.2 L1074.3 828 L1078.3 827.9 L1082.3 827.7 L1086.3 827.6 L1090.3 827.4 L1094.3 827.2 L1098.3 827.1 L1102.3 826.9 L1106.3 826.8 L1110.3 826.6 L1114.3 826.4 L1118.3 826.3 L1122.3 826.1 L1126.3 825.9 L1130.3 825.8 L1134.3 825.6 L1138.3 825.4 L1142.3 825.3 L1146.3 825.1 L1150.3 824.9 L1154.3 824.8 L1158.3 824.6 L1162.3 824.4 L1166.3 824.3 L1170.3 824.1 L1174.3 823.9 L1178.3 823.8 L1182.3 823.6 L1186.3 823.4 L1190.3 823.3 L1194.3 823.1 L1198.3 823 L1202.3 822.8 L1206.3 822.6 L1210.3 822.5 L1214.3 822.3 L1218.3 822.1 L1222.3 822 L1226.3 821.8 L1230.3 821.7 L1234.3 821.5 L1238.3 821.4 L1242.3 821.2 L1246.3 821.1 L1250.3 820.9 L1254.3 820.8 L1258.3 820.6 L1262.3 820.5 L1266.3 820.4 L1270.3 820.2 L1274.3 820.1 L1278.3 820 L1282.3 819.9 L1286.3 819.8 L1290.3 819.7 L1294.3 819.6 L1298.3 819.5 L1302.3 819.5 L1306.3 819.4 L1310.3 819.3 L1314.3 819.3 L1318.3 819.2 L1322.3 819.2 L1326.3 819.1 L1330.3 819.1 L1334.3 819.1 L1338.3 819 L1342.3 819 L1346.3 819 L1350.3 819 L1354.3 819 L1358.3 819 L1362.3 819 L1366.3 819 L1370.3 819 L1374.3 819 L1378.3 819 L1382.3 819 L1386.3 819 L1390.3 819 L1394.3 819 L1398.3 819 L1402.3 819 L1406.3 819 L1410.3 819 L1414.3 819 L1418.3 819 L1422.3 819 L1426.3 819 L1430.3 819 L1434.3 819 L1438.3 819 L1442.3 819 L1446.3 819 L1450.3 819 L1451 819" stroke="#141414" stroke-width="1.15" fill="none"/><path d="M822.3 838.5 L826.3 838.5 L830.3 838.5 L834.3 838.5 L838.3 838.5 L842.3 838.5 L846.3 838.5 L850.3 838.4 L854.3 838.4 L858.3 838.4 L862.3 838.4 L866.3 838.3 L870.3 838.3 L874.3 838.3 L878.3 838.2 L882.3 838.2 L886.3 838.1 L890.3 838 L894.3 838 L898.3 837.9 L902.3 837.8 L906.3 837.8 L910.3 837.7 L914.3 837.6 L918.3 837.5 L922.3 837.5 L926.3 837.4 L930.3 837.3 L934.3 837.3 L938.3 837.2 L942.3 837.1 L946.3 837 L950.3 837 L954.3 836.9 L958.3 836.8 L962.3 836.7 L966.3 836.6 L970.3 836.5 L974.3 836.5 L978.3 836.4 L982.3 836.3 L986.3 836.2 L990.3 836.1 L994.3 836 L998.3 835.9 L1002.3 835.8 L1006.3 835.7 L1010.3 835.6 L1014.3 835.4 L1018.3 835.3 L1022.3 835.2 L1026.3 835.1 L1030.3 835 L1034.3 834.9 L1038.3 834.7 L1042.3 834.6 L1046.3 834.5 L1050.3 834.4 L1054.3 834.2 L1058.3 834.1 L1062.3 833.9 L1066.3 833.8 L1070.3 833.6 L1074.3 833.5 L1078.3 833.3 L1082.3 833.2 L1086.3 833 L1090.3 832.8 L1094.3 832.7 L1098.3 832.5 L1102.3 832.3 L1106.3 832.2 L1110.3 832 L1114.3 831.9 L1118.3 831.7 L1122.3 831.5 L1126.3 831.4 L1130.3 831.2 L1134.3 831 L1138.3 830.8 L1142.3 830.7 L1146.3 830.5 L1150.3 830.3 L1154.3 830.2 L1158.3 830 L1162.3 829.8 L1166.3 829.6 L1170.3 829.5 L1174.3 829.3 L1178.3 829.1 L1182.3 828.9 L1186.3 828.8 L1190.3 828.6 L1194.3 828.4 L1198.3 828.2 L1202.3 828 L1206.3 827.9 L1210.3 827.7 L1214.3 827.5 L1218.3 827.3 L1222.3 827.2 L1226.3 827 L1230.3 826.8 L1234.3 826.6 L1238.3 826.4 L1242.3 826.3 L1246.3 826.1 L1250.3 825.9 L1254.3 825.7 L1258.3 825.6 L1262.3 825.4 L1266.3 825.2 L1270.3 825 L1274.3 824.9 L1278.3 824.7 L1282.3 824.5 L1286.3 824.3 L1290.3 824.2 L1294.3 824 L1298.3 823.8 L1302.3 823.6 L1306.3 823.5 L1310.3 823.3 L1314.3 823.1 L1318.3 823 L1322.3 822.8 L1326.3 822.6 L1330.3 822.4 L1334.3 822.3 L1338.3 822.1 L1342.3 822 L1346.3 821.8 L1350.3 821.6 L1354.3 821.5 L1358.3 821.3 L1362.3 821.2 L1366.3 821 L1370.3 820.9 L1374.3 820.7 L1378.3 820.6 L1382.3 820.4 L1386.3 820.3 L1390.3 820.2 L1394.3 820.1 L1398.3 820 L1402.3 819.9 L1406.3 819.8 L1410.3 819.7 L1414.3 819.6 L1418.3 819.5 L1422.3 819.4 L1426.3 819.4 L1430.3 819.3 L1434.3 819.2 L1438.3 819.2 L1442.3 819.1 L1446.3 819.1 L1450.3 819.1 L1451 819.1" stroke="#40c3d4" stroke-width="1.15" fill="none"/><path d="M822.3 839.7 L826.3 839.7 L830.3 839.7 L834.3 839.7 L838.3 839.7 L842.3 839.7 L846.3 839.7 L850.3 839.6 L854.3 839.6 L858.3 839.6 L862.3 839.6 L866.3 839.6 L870.3 839.5 L874.3 839.5 L878.3 839.4 L882.3 839.4 L886.3 839.3 L890.3 839.2 L894.3 839.2 L898.3 839.1 L902.3 839 L906.3 838.9 L910.3 838.9 L914.3 838.8 L918.3 838.7 L922.3 838.6 L926.3 838.5 L930.3 838.5 L934.3 838.4 L938.3 838.3 L942.3 838.2 L946.3 838.1 L950.3 838.1 L954.3 838 L958.3 837.9 L962.3 837.8 L966.3 837.7 L970.3 837.6 L974.3 837.5 L978.3 837.4 L982.3 837.3 L986.3 837.2 L990.3 837.1 L994.3 837 L998.3 836.8 L1002.3 836.7 L1006.3 836.6 L1010.3 836.5 L1014.3 836.4 L1018.3 836.2 L1022.3 836.1 L1026.3 836 L1030.3 835.9 L1034.3 835.7 L1038.3 835.6 L1042.3 835.4 L1046.3 835.3 L1050.3 835.2 L1054.3 835 L1058.3 834.8 L1062.3 834.7 L1066.3 834.5 L1070.3 834.3 L1074.3 834.2 L1078.3 834 L1082.3 833.8 L1086.3 833.6 L1090.3 833.4 L1094.3 833.3 L1098.3 833.1 L1102.3 832.9 L1106.3 832.7 L1110.3 832.5 L1114.3 832.4 L1118.3 832.2 L1122.3 832 L1126.3 831.8 L1130.3 831.6 L1134.3 831.4 L1138.3 831.3 L1142.3 831.1 L1146.3 830.9 L1150.3 830.7 L1154.3 830.5 L1158.3 830.3 L1162.3 830.1 L1166.3 829.9 L1170.3 829.7 L1174.3 829.5 L1178.3 829.3 L1182.3 829.1 L1186.3 828.9 L1190.3 828.7 L1194.3 828.5 L1198.3 828.4 L1202.3 828.2 L1206.3 828 L1210.3 827.8 L1214.3 827.6 L1218.3 827.4 L1222.3 827.2 L1226.3 827 L1230.3 826.8 L1234.3 826.6 L1238.3 826.4 L1242.3 826.2 L1246.3 826 L1250.3 825.8 L1254.3 825.6 L1258.3 825.4 L1262.3 825.3 L1266.3 825.1 L1270.3 824.9 L1274.3 824.7 L1278.3 824.5 L1282.3 824.3 L1286.3 824.1 L1290.3 823.9 L1294.3 823.7 L1298.3 823.5 L1302.3 823.4 L1306.3 823.2 L1310.3 823 L1314.3 822.8 L1318.3 822.6 L1322.3 822.4 L1326.3 822.2 L1330.3 822 L1334.3 821.8 L1338.3 821.6 L1342.3 821.5 L1346.3 821.3 L1350.3 821.1 L1354.3 821 L1358.3 820.8 L1362.3 820.7 L1366.3 820.6 L1370.3 820.4 L1374.3 820.3 L1378.3 820.2 L1382.3 820 L1386.3 819.9 L1390.3 819.8 L1394.3 819.7 L1398.3 819.6 L1402.3 819.6 L1406.3 819.5 L1410.3 819.4 L1414.3 819.4 L1418.3 819.3 L1422.3 819.2 L1426.3 819.2 L1430.3 819.2 L1434.3 819.1 L1438.3 819.1 L1442.3 819.1 L1446.3 819 L1450.3 819 L1451 819" stroke="#5bbd4e" stroke-width="1.15" fill="none"/><path d="M822.3 840.2 L826.3 840.1 L830.3 840.1 L834.3 840 L838.3 840 L842.3 839.9 L846.3 839.8 L850.3 839.8 L854.3 839.7 L858.3 839.6 L862.3 839.5 L866.3 839.5 L870.3 839.4 L874.3 839.3 L878.3 839.2 L882.3 839.2 L886.3 839.1 L890.3 839 L894.3 838.9 L898.3 838.8 L902.3 838.7 L906.3 838.7 L910.3 838.6 L914.3 838.5 L918.3 838.4 L922.3 838.3 L926.3 838.2 L930.3 838.1 L934.3 838 L938.3 837.9 L942.3 837.8 L946.3 837.7 L950.3 837.5 L954.3 837.4 L958.3 837.3 L962.3 837.2 L966.3 837.1 L970.3 837 L974.3 836.8 L978.3 836.7 L982.3 836.6 L986.3 836.5 L990.3 836.3 L994.3 836.2 L998.3 836 L1002.3 835.9 L1006.3 835.8 L1010.3 835.6 L1014.3 835.4 L1018.3 835.3 L1022.3 835.1 L1026.3 834.9 L1030.3 834.8 L1034.3 834.6 L1038.3 834.4 L1042.3 834.3 L1046.3 834.1 L1050.3 833.9 L1054.3 833.7 L1058.3 833.6 L1062.3 833.4 L1066.3 833.2 L1070.3 833 L1074.3 832.8 L1078.3 832.7 L1082.3 832.5 L1086.3 832.3 L1090.3 832.1 L1094.3 831.9 L1098.3 831.7 L1102.3 831.5 L1106.3 831.4 L1110.3 831.2 L1114.3 831 L1118.3 830.8 L1122.3 830.6 L1126.3 830.4 L1130.3 830.2 L1134.3 830 L1138.3 829.9 L1142.3 829.7 L1146.3 829.5 L1150.3 829.3 L1154.3 829.1 L1158.3 828.9 L1162.3 828.7 L1166.3 828.5 L1170.3 828.3 L1174.3 828.1 L1178.3 827.9 L1182.3 827.7 L1186.3 827.5 L1190.3 827.4 L1194.3 827.2 L1198.3 827 L1202.3 826.8 L1206.3 826.6 L1210.3 826.4 L1214.3 826.2 L1218.3 826 L1222.3 825.8 L1226.3 825.6 L1230.3 825.5 L1234.3 825.3 L1238.3 825.1 L1242.3 824.9 L1246.3 824.7 L1250.3 824.5 L1254.3 824.3 L1258.3 824.2 L1262.3 824 L1266.3 823.8 L1270.3 823.6 L1274.3 823.4 L1278.3 823.2 L1282.3 823.1 L1286.3 822.9 L1290.3 822.7 L1294.3 822.5 L1298.3 822.3 L1302.3 822.2 L1306.3 822 L1310.3 821.8 L1314.3 821.6 L1318.3 821.4 L1322.3 821.3 L1326.3 821.1 L1330.3 820.9 L1334.3 820.8 L1338.3 820.6 L1342.3 820.5 L1346.3 820.3 L1350.3 820.2 L1354.3 820.1 L1358.3 820 L1362.3 819.9 L1366.3 819.8 L1370.3 819.7 L1374.3 819.6 L1378.3 819.5 L1382.3 819.4 L1386.3 819.3 L1390.3 819.3 L1394.3 819.2 L1398.3 819.2 L1402.3 819.2 L1406.3 819.1 L1410.3 819.1 L1414.3 819.1 L1418.3 819.1 L1422.3 819.1 L1426.3 819 L1430.3 819 L1434.3 819 L1438.3 819 L1442.3 819 L1446.3 819 L1450.3 819 L1451 819" stroke="#5bbd4e" stroke-width="1.15" fill="none"/><path d="M822.3 843.8 L826.3 843.8 L830.3 843.7 L834.3 843.7 L838.3 843.7 L842.3 843.6 L846.3 843.6 L850.3 843.5 L854.3 843.4 L858.3 843.3 L862.3 843.3 L866.3 843.2 L870.3 843.1 L874.3 843 L878.3 842.9 L882.3 842.9 L886.3 842.8 L890.3 842.7 L894.3 842.6 L898.3 842.5 L902.3 842.4 L906.3 842.3 L910.3 842.2 L914.3 842.1 L918.3 842 L922.3 841.9 L926.3 841.8 L930.3 841.7 L934.3 841.6 L938.3 841.5 L942.3 841.4 L946.3 841.2 L950.3 841.1 L954.3 841 L958.3 840.9 L962.3 840.8 L966.3 840.6 L970.3 840.5 L974.3 840.4 L978.3 840.2 L982.3 840.1 L986.3 840 L990.3 839.8 L994.3 839.7 L998.3 839.5 L1002.3 839.4 L1006.3 839.2 L1010.3 839 L1014.3 838.9 L1018.3 838.7 L1022.3 838.5 L1026.3 838.3 L1030.3 838.1 L1034.3 838 L1038.3 837.8 L1042.3 837.6 L1046.3 837.4 L1050.3 837.2 L1054.3 837 L1058.3 836.8 L1062.3 836.6 L1066.3 836.3 L1070.3 836.1 L1074.3 835.9 L1078.3 835.7 L1082.3 835.5 L1086.3 835.2 L1090.3 835 L1094.3 834.8 L1098.3 834.6 L1102.3 834.4 L1106.3 834.1 L1110.3 833.9 L1114.3 833.7 L1118.3 833.5 L1122.3 833.3 L1126.3 833 L1130.3 832.8 L1134.3 832.6 L1138.3 832.4 L1142.3 832.1 L1146.3 831.9 L1150.3 831.7 L1154.3 831.5 L1158.3 831.2 L1162.3 831 L1166.3 830.8 L1170.3 830.5 L1174.3 830.3 L1178.3 830.1 L1182.3 829.8 L1186.3 829.6 L1190.3 829.3 L1194.3 829.1 L1198.3 828.9 L1202.3 828.6 L1206.3 828.4 L1210.3 828.2 L1214.3 828 L1218.3 827.7 L1222.3 827.5 L1226.3 827.3 L1230.3 827 L1234.3 826.8 L1238.3 826.6 L1242.3 826.4 L1246.3 826.1 L1250.3 825.9 L1254.3 825.7 L1258.3 825.5 L1262.3 825.2 L1266.3 825 L1270.3 824.8 L1274.3 824.6 L1278.3 824.4 L1282.3 824.1 L1286.3 823.9 L1290.3 823.7 L1294.3 823.5 L1298.3 823.3 L1302.3 823.1 L1306.3 822.8 L1310.3 822.6 L1314.3 822.4 L1318.3 822.1 L1322.3 821.9 L1326.3 821.7 L1330.3 821.5 L1334.3 821.3 L1338.3 821.1 L1342.3 820.9 L1346.3 820.7 L1350.3 820.6 L1354.3 820.4 L1358.3 820.3 L1362.3 820.1 L1366.3 820 L1370.3 819.9 L1374.3 819.8 L1378.3 819.7 L1382.3 819.6 L1386.3 819.5 L1390.3 819.4 L1394.3 819.3 L1398.3 819.3 L1402.3 819.2 L1406.3 819.2 L1410.3 819.2 L1414.3 819.1 L1418.3 819.1 L1422.3 819.1 L1426.3 819.1 L1430.3 819.1 L1434.3 819 L1438.3 819 L1442.3 819 L1446.3 819 L1450.3 819 L1451 819" stroke="#b62ca6" stroke-width="1.15" fill="none"/><path d="M822.3 849.6 L826.3 849.6 L830.3 849.5 L834.3 849.4 L838.3 849.3 L842.3 849.2 L846.3 849.1 L850.3 849 L854.3 848.9 L858.3 848.8 L862.3 848.7 L866.3 848.6 L870.3 848.4 L874.3 848.3 L878.3 848.2 L882.3 848.1 L886.3 848 L890.3 847.9 L894.3 847.7 L898.3 847.6 L902.3 847.5 L906.3 847.3 L910.3 847.2 L914.3 847.1 L918.3 846.9 L922.3 846.8 L926.3 846.6 L930.3 846.5 L934.3 846.3 L938.3 846.1 L942.3 846 L946.3 845.8 L950.3 845.6 L954.3 845.4 L958.3 845.3 L962.3 845.1 L966.3 844.9 L970.3 844.7 L974.3 844.5 L978.3 844.3 L982.3 844.1 L986.3 843.9 L990.3 843.7 L994.3 843.5 L998.3 843.3 L1002.3 843 L1006.3 842.8 L1010.3 842.5 L1014.3 842.3 L1018.3 842 L1022.3 841.8 L1026.3 841.5 L1030.3 841.2 L1034.3 841 L1038.3 840.7 L1042.3 840.4 L1046.3 840.1 L1050.3 839.8 L1054.3 839.6 L1058.3 839.3 L1062.3 839 L1066.3 838.7 L1070.3 838.5 L1074.3 838.2 L1078.3 837.9 L1082.3 837.6 L1086.3 837.3 L1090.3 837 L1094.3 836.8 L1098.3 836.5 L1102.3 836.2 L1106.3 835.9 L1110.3 835.6 L1114.3 835.3 L1118.3 835 L1122.3 834.7 L1126.3 834.4 L1130.3 834.1 L1134.3 833.8 L1138.3 833.5 L1142.3 833.2 L1146.3 832.9 L1150.3 832.6 L1154.3 832.3 L1158.3 832 L1162.3 831.7 L1166.3 831.4 L1170.3 831.1 L1174.3 830.8 L1178.3 830.5 L1182.3 830.2 L1186.3 829.9 L1190.3 829.6 L1194.3 829.3 L1198.3 829 L1202.3 828.8 L1206.3 828.5 L1210.3 828.2 L1214.3 827.9 L1218.3 827.6 L1222.3 827.3 L1226.3 827 L1230.3 826.7 L1234.3 826.4 L1238.3 826.2 L1242.3 825.9 L1246.3 825.6 L1250.3 825.3 L1254.3 825 L1258.3 824.7 L1262.3 824.4 L1266.3 824.1 L1270.3 823.8 L1274.3 823.5 L1278.3 823.2 L1282.3 822.9 L1286.3 822.7 L1290.3 822.4 L1294.3 822.1 L1298.3 821.9 L1302.3 821.7 L1306.3 821.5 L1310.3 821.2 L1314.3 821 L1318.3 820.8 L1322.3 820.7 L1326.3 820.5 L1330.3 820.3 L1334.3 820.1 L1338.3 820 L1342.3 819.9 L1346.3 819.8 L1350.3 819.7 L1354.3 819.6 L1358.3 819.5 L1362.3 819.4 L1366.3 819.3 L1370.3 819.3 L1374.3 819.2 L1378.3 819.2 L1382.3 819.1 L1386.3 819.1 L1390.3 819.1 L1394.3 819 L1398.3 819 L1402.3 819 L1406.3 819 L1410.3 819 L1414.3 819 L1418.3 819 L1422.3 819 L1426.3 819 L1430.3 819 L1434.3 819 L1438.3 819 L1442.3 819 L1446.3 819 L1450.3 819 L1451 819" stroke="#141414" stroke-width="1.15" fill="none"/><path d="M822.3 811 L826.3 811 L830.3 811 L834.3 811 L838.3 811 L842.3 811 L846.3 811 L850.3 811 L854.3 811 L858.3 811 L862.3 811 L866.3 811 L870.3 811 L874.3 811 L878.3 811 L882.3 811 L886.3 811.1 L890.3 811.1 L894.3 811.1 L898.3 811.2 L902.3 811.2 L906.3 811.2 L910.3 811.2 L914.3 811.3 L918.3 811.3 L922.3 811.3 L926.3 811.4 L930.3 811.4 L934.3 811.4 L938.3 811.5 L942.3 811.5 L946.3 811.5 L950.3 811.6 L954.3 811.6 L958.3 811.7 L962.3 811.7 L966.3 811.7 L970.3 811.8 L974.3 811.8 L978.3 811.9 L982.3 811.9 L986.3 812 L990.3 812 L994.3 812.1 L998.3 812.1 L1002.3 812.2 L1006.3 812.2 L1010.3 812.3 L1014.3 812.3 L1018.3 812.4 L1022.3 812.5 L1026.3 812.5 L1030.3 812.6 L1034.3 812.6 L1038.3 812.7 L1042.3 812.8 L1046.3 812.8 L1050.3 812.9 L1054.3 813 L1058.3 813.1 L1062.3 813.1 L1066.3 813.2 L1070.3 813.3 L1074.3 813.4 L1078.3 813.5 L1082.3 813.5 L1086.3 813.6 L1090.3 813.7 L1094.3 813.8 L1098.3 813.9 L1102.3 814 L1106.3 814 L1110.3 814.1 L1114.3 814.2 L1118.3 814.3 L1122.3 814.4 L1126.3 814.5 L1130.3 814.5 L1134.3 814.6 L1138.3 814.7 L1142.3 814.8 L1146.3 814.9 L1150.3 815 L1154.3 815.1 L1158.3 815.1 L1162.3 815.2 L1166.3 815.3 L1170.3 815.4 L1174.3 815.5 L1178.3 815.6 L1182.3 815.7 L1186.3 815.8 L1190.3 815.8 L1194.3 815.9 L1198.3 816 L1202.3 816.1 L1206.3 816.2 L1210.3 816.3 L1214.3 816.4 L1218.3 816.4 L1222.3 816.5 L1226.3 816.6 L1230.3 816.7 L1234.3 816.8 L1238.3 816.9 L1242.3 817 L1246.3 817 L1250.3 817.1 L1254.3 817.2 L1258.3 817.3 L1262.3 817.4 L1266.3 817.5 L1270.3 817.6 L1274.3 817.7 L1278.3 817.7 L1282.3 817.8 L1286.3 817.9 L1290.3 818 L1294.3 818.1 L1298.3 818.1 L1302.3 818.2 L1306.3 818.3 L1310.3 818.3 L1314.3 818.4 L1318.3 818.5 L1322.3 818.5 L1326.3 818.6 L1330.3 818.6 L1334.3 818.7 L1338.3 818.7 L1342.3 818.8 L1346.3 818.8 L1350.3 818.8 L1354.3 818.9 L1358.3 818.9 L1362.3 818.9 L1366.3 818.9 L1370.3 818.9 L1374.3 818.9 L1378.3 819 L1382.3 819 L1386.3 819 L1390.3 819 L1394.3 819 L1398.3 819 L1402.3 819 L1406.3 819 L1410.3 819 L1414.3 819 L1418.3 819 L1422.3 819 L1426.3 819 L1430.3 819 L1434.3 819 L1438.3 819 L1442.3 819 L1446.3 819 L1450.3 819 L1451 819" stroke="#2a88d2" stroke-width="1.15" fill="none"/><path d="M822.3 824.4 L826.3 824.4 L830.3 824.4 L834.3 824.4 L838.3 824.4 L842.3 824.3 L846.3 824.3 L850.3 824.3 L854.3 824.3 L858.3 824.2 L862.3 824.2 L866.3 824.2 L870.3 824.2 L874.3 824.1 L878.3 824.1 L882.3 824.1 L886.3 824 L890.3 824 L894.3 824 L898.3 824 L902.3 823.9 L906.3 823.9 L910.3 823.9 L914.3 823.8 L918.3 823.8 L922.3 823.8 L926.3 823.7 L930.3 823.7 L934.3 823.6 L938.3 823.6 L942.3 823.6 L946.3 823.5 L950.3 823.5 L954.3 823.4 L958.3 823.4 L962.3 823.3 L966.3 823.3 L970.3 823.2 L974.3 823.2 L978.3 823.1 L982.3 823.1 L986.3 823 L990.3 822.9 L994.3 822.9 L998.3 822.8 L1002.3 822.8 L1006.3 822.7 L1010.3 822.7 L1014.3 822.6 L1018.3 822.5 L1022.3 822.5 L1026.3 822.4 L1030.3 822.4 L1034.3 822.3 L1038.3 822.2 L1042.3 822.2 L1046.3 822.1 L1050.3 822.1 L1054.3 822 L1058.3 821.9 L1062.3 821.9 L1066.3 821.8 L1070.3 821.7 L1074.3 821.7 L1078.3 821.6 L1082.3 821.5 L1086.3 821.5 L1090.3 821.4 L1094.3 821.4 L1098.3 821.3 L1102.3 821.2 L1106.3 821.2 L1110.3 821.1 L1114.3 821 L1118.3 821 L1122.3 820.9 L1126.3 820.8 L1130.3 820.8 L1134.3 820.7 L1138.3 820.7 L1142.3 820.6 L1146.3 820.5 L1150.3 820.5 L1154.3 820.4 L1158.3 820.3 L1162.3 820.3 L1166.3 820.2 L1170.3 820.2 L1174.3 820.1 L1178.3 820 L1182.3 820 L1186.3 819.9 L1190.3 819.9 L1194.3 819.8 L1198.3 819.7 L1202.3 819.7 L1206.3 819.6 L1210.3 819.6 L1214.3 819.5 L1218.3 819.5 L1222.3 819.4 L1226.3 819.4 L1230.3 819.3 L1234.3 819.3 L1238.3 819.3 L1242.3 819.2 L1246.3 819.2 L1250.3 819.2 L1254.3 819.1 L1258.3 819.1 L1262.3 819.1 L1266.3 819.1 L1270.3 819.1 L1274.3 819.1 L1278.3 819 L1282.3 819 L1286.3 819 L1290.3 819 L1294.3 819 L1298.3 819 L1302.3 819 L1306.3 819 L1310.3 819 L1314.3 819 L1318.3 819 L1322.3 819 L1326.3 819 L1330.3 819 L1334.3 819 L1338.3 819 L1342.3 819 L1346.3 819 L1350.3 819 L1354.3 819 L1358.3 819 L1362.3 819 L1366.3 819 L1370.3 819 L1374.3 819 L1378.3 819 L1382.3 819 L1386.3 819 L1390.3 819 L1394.3 819 L1398.3 819 L1402.3 819 L1406.3 819 L1410.3 819 L1414.3 819 L1418.3 819 L1422.3 819 L1426.3 819 L1430.3 819 L1434.3 819 L1438.3 819 L1442.3 819 L1446.3 819 L1450.3 819 L1451 819" stroke="#dd3358" stroke-width="1.15" fill="none"/><path d="M822.3 801.5 L826.3 801.5 L830.3 801.5 L834.3 801.5 L838.3 801.6 L842.3 801.6 L846.3 801.6 L850.3 801.7 L854.3 801.8 L858.3 801.8 L862.3 801.9 L866.3 802 L870.3 802 L874.3 802.1 L878.3 802.2 L882.3 802.2 L886.3 802.3 L890.3 802.4 L894.3 802.5 L898.3 802.6 L902.3 802.7 L906.3 802.8 L910.3 802.8 L914.3 802.9 L918.3 803 L922.3 803.1 L926.3 803.2 L930.3 803.3 L934.3 803.5 L938.3 803.6 L942.3 803.7 L946.3 803.8 L950.3 803.9 L954.3 804 L958.3 804.2 L962.3 804.3 L966.3 804.4 L970.3 804.6 L974.3 804.7 L978.3 804.8 L982.3 805 L986.3 805.1 L990.3 805.3 L994.3 805.5 L998.3 805.6 L1002.3 805.8 L1006.3 806 L1010.3 806.1 L1014.3 806.3 L1018.3 806.5 L1022.3 806.7 L1026.3 806.9 L1030.3 807.1 L1034.3 807.3 L1038.3 807.5 L1042.3 807.7 L1046.3 807.9 L1050.3 808.1 L1054.3 808.3 L1058.3 808.5 L1062.3 808.7 L1066.3 808.9 L1070.3 809.1 L1074.3 809.3 L1078.3 809.5 L1082.3 809.7 L1086.3 809.9 L1090.3 810.1 L1094.3 810.3 L1098.3 810.5 L1102.3 810.7 L1106.3 810.9 L1110.3 811.1 L1114.3 811.3 L1118.3 811.5 L1122.3 811.7 L1126.3 811.9 L1130.3 812.1 L1134.3 812.3 L1138.3 812.5 L1142.3 812.7 L1146.3 812.9 L1150.3 813.1 L1154.3 813.3 L1158.3 813.5 L1162.3 813.7 L1166.3 813.9 L1170.3 814.1 L1174.3 814.3 L1178.3 814.5 L1182.3 814.7 L1186.3 814.9 L1190.3 815.1 L1194.3 815.3 L1198.3 815.5 L1202.3 815.7 L1206.3 815.9 L1210.3 816.1 L1214.3 816.3 L1218.3 816.5 L1222.3 816.7 L1226.3 816.9 L1230.3 817.1 L1234.3 817.3 L1238.3 817.5 L1242.3 817.6 L1246.3 817.8 L1250.3 817.9 L1254.3 818.1 L1258.3 818.2 L1262.3 818.3 L1266.3 818.4 L1270.3 818.5 L1274.3 818.6 L1278.3 818.7 L1282.3 818.8 L1286.3 818.8 L1290.3 818.9 L1294.3 818.9 L1298.3 818.9 L1302.3 819 L1306.3 819 L1310.3 819 L1314.3 819 L1318.3 819 L1322.3 819 L1326.3 819 L1330.3 819 L1334.3 819 L1338.3 819 L1342.3 819 L1346.3 819 L1350.3 819 L1354.3 819 L1358.3 819 L1362.3 819 L1366.3 819 L1370.3 819 L1374.3 819 L1378.3 819 L1382.3 819 L1386.3 819 L1390.3 819 L1394.3 819 L1398.3 819 L1402.3 819 L1406.3 819 L1410.3 819 L1414.3 819 L1418.3 819 L1422.3 819 L1426.3 819 L1430.3 819 L1434.3 819 L1438.3 819 L1442.3 819 L1446.3 819 L1450.3 819 L1451 819" stroke="#40c3d4" stroke-width="1.15" fill="none"/><path d="M822.3 836 L826.3 836 L830.3 836 L834.3 836 L838.3 836 L842.3 836 L846.3 836 L850.3 836 L854.3 836 L858.3 836 L862.3 836 L866.3 836 L870.3 836 L874.3 836 L878.3 836 L882.3 835.9 L886.3 835.9 L890.3 835.9 L894.3 835.8 L898.3 835.8 L902.3 835.7 L906.3 835.7 L910.3 835.7 L914.3 835.6 L918.3 835.6 L922.3 835.5 L926.3 835.4 L930.3 835.4 L934.3 835.3 L938.3 835.3 L942.3 835.2 L946.3 835.1 L950.3 835.1 L954.3 835 L958.3 834.9 L962.3 834.9 L966.3 834.8 L970.3 834.7 L974.3 834.7 L978.3 834.6 L982.3 834.5 L986.3 834.5 L990.3 834.4 L994.3 834.3 L998.3 834.2 L1002.3 834.2 L1006.3 834.1 L1010.3 834 L1014.3 833.9 L1018.3 833.8 L1022.3 833.7 L1026.3 833.6 L1030.3 833.6 L1034.3 833.5 L1038.3 833.4 L1042.3 833.3 L1046.3 833.2 L1050.3 833.1 L1054.3 833 L1058.3 832.9 L1062.3 832.8 L1066.3 832.6 L1070.3 832.5 L1074.3 832.4 L1078.3 832.3 L1082.3 832.2 L1086.3 832 L1090.3 831.9 L1094.3 831.8 L1098.3 831.7 L1102.3 831.5 L1106.3 831.4 L1110.3 831.3 L1114.3 831.1 L1118.3 831 L1122.3 830.8 L1126.3 830.7 L1130.3 830.5 L1134.3 830.4 L1138.3 830.2 L1142.3 830.1 L1146.3 829.9 L1150.3 829.8 L1154.3 829.7 L1158.3 829.5 L1162.3 829.4 L1166.3 829.2 L1170.3 829.1 L1174.3 828.9 L1178.3 828.8 L1182.3 828.6 L1186.3 828.5 L1190.3 828.3 L1194.3 828.2 L1198.3 828 L1202.3 827.9 L1206.3 827.7 L1210.3 827.6 L1214.3 827.4 L1218.3 827.3 L1222.3 827.1 L1226.3 826.9 L1230.3 826.8 L1234.3 826.6 L1238.3 826.5 L1242.3 826.3 L1246.3 826.2 L1250.3 826 L1254.3 825.9 L1258.3 825.7 L1262.3 825.5 L1266.3 825.4 L1270.3 825.2 L1274.3 825.1 L1278.3 824.9 L1282.3 824.8 L1286.3 824.6 L1290.3 824.5 L1294.3 824.3 L1298.3 824.2 L1302.3 824 L1306.3 823.9 L1310.3 823.7 L1314.3 823.6 L1318.3 823.4 L1322.3 823.3 L1326.3 823.1 L1330.3 823 L1334.3 822.8 L1338.3 822.7 L1342.3 822.5 L1346.3 822.4 L1350.3 822.2 L1354.3 822.1 L1358.3 821.9 L1362.3 821.8 L1366.3 821.6 L1370.3 821.5 L1374.3 821.3 L1378.3 821.2 L1382.3 821 L1386.3 820.9 L1390.3 820.7 L1394.3 820.6 L1398.3 820.5 L1402.3 820.4 L1406.3 820.3 L1410.3 820.2 L1414.3 820.1 L1418.3 820 L1422.3 819.9 L1426.3 819.8 L1430.3 819.7 L1434.3 819.6 L1438.3 819.6 L1442.3 819.5 L1446.3 819.4 L1450.3 819.4 L1451 819.4" stroke="#2a88d2" stroke-width="1.15" fill="none"/><path d="M822.3 863.6 L826.3 863.6 L830.3 863.6 L834.3 863.5 L838.3 863.4 L842.3 863.3 L846.3 863.1 L850.3 862.9 L854.3 862.7 L858.3 862.4 L862.3 862.1 L866.3 861.8 L870.3 861.5 L874.3 861.1 L878.3 860.7 L882.3 860.4 L886.3 860 L890.3 859.6 L894.3 859.2 L898.3 858.9 L902.3 858.5 L906.3 858.2 L910.3 857.9 L914.3 857.6 L918.3 857.3 L922.3 857 L926.3 856.7 L930.3 856.4 L934.3 856.1 L938.3 855.8 L942.3 855.5 L946.3 855.2 L950.3 854.9 L954.3 854.6 L958.3 854.3 L962.3 854 L966.3 853.7 L970.3 853.4 L974.3 853.1 L978.3 852.8 L982.3 852.5 L986.3 852.2 L990.3 851.9 L994.3 851.5 L998.3 851.2 L1002.3 850.9 L1006.3 850.5 L1010.3 850.1 L1014.3 849.8 L1018.3 849.4 L1022.3 849.1 L1026.3 848.7 L1030.3 848.3 L1034.3 847.9 L1038.3 847.5 L1042.3 847.1 L1046.3 846.7 L1050.3 846.3 L1054.3 845.8 L1058.3 845.4 L1062.3 844.9 L1066.3 844.5 L1070.3 844 L1074.3 843.5 L1078.3 843 L1082.3 842.5 L1086.3 841.9 L1090.3 841.4 L1094.3 840.8 L1098.3 840.2 L1102.3 839.6 L1106.3 839 L1110.3 838.4 L1114.3 837.8 L1118.3 837.2 L1122.3 836.6 L1126.3 836 L1130.3 835.4 L1134.3 834.9 L1138.3 834.3 L1142.3 833.8 L1146.3 833.3 L1150.3 832.8 L1154.3 832.3 L1158.3 831.8 L1162.3 831.3 L1166.3 830.8 L1170.3 830.4 L1174.3 829.9 L1178.3 829.4 L1182.3 829 L1186.3 828.6 L1190.3 828.1 L1194.3 827.7 L1198.3 827.3 L1202.3 826.9 L1206.3 826.5 L1210.3 826.1 L1214.3 825.7 L1218.3 825.3 L1222.3 825 L1226.3 824.6 L1230.3 824.2 L1234.3 823.9 L1238.3 823.6 L1242.3 823.2 L1246.3 822.9 L1250.3 822.6 L1254.3 822.3 L1258.3 822.1 L1262.3 821.8 L1266.3 821.5 L1270.3 821.3 L1274.3 821 L1278.3 820.8 L1282.3 820.5 L1286.3 820.3 L1290.3 820 L1294.3 819.8 L1298.3 819.6 L1302.3 819.4 L1306.3 819.3 L1310.3 819.2 L1314.3 819.1 L1318.3 819.1 L1322.3 819 L1326.3 819 L1330.3 819 L1334.3 819 L1338.3 819 L1342.3 819 L1346.3 819 L1350.3 819 L1354.3 819 L1358.3 819 L1362.3 819 L1366.3 819 L1370.3 819 L1374.3 819 L1378.3 819 L1382.3 819 L1386.3 819 L1390.3 819 L1394.3 819 L1398.3 819 L1402.3 819 L1406.3 819 L1410.3 819 L1414.3 819 L1418.3 819 L1422.3 819 L1426.3 819 L1430.3 819 L1434.3 819 L1438.3 819 L1442.3 819 L1446.3 819 L1450.3 819 L1451 819" stroke="#b62ca6" stroke-width="1.15" fill="none"/><path d="M822.3 872.4 L826.3 872.4 L830.3 872.4 L834.3 872.3 L838.3 872.1 L842.3 871.9 L846.3 871.7 L850.3 871.4 L854.3 871.1 L858.3 870.8 L862.3 870.5 L866.3 870.3 L870.3 870 L874.3 869.7 L878.3 869.5 L882.3 869.2 L886.3 869 L890.3 868.7 L894.3 868.5 L898.3 868.3 L902.3 868 L906.3 867.7 L910.3 867.5 L914.3 867.2 L918.3 867 L922.3 866.7 L926.3 866.4 L930.3 866.1 L934.3 865.9 L938.3 865.6 L942.3 865.3 L946.3 865 L950.3 864.7 L954.3 864.3 L958.3 864 L962.3 863.7 L966.3 863.4 L970.3 863 L974.3 862.7 L978.3 862.3 L982.3 862 L986.3 861.6 L990.3 861.3 L994.3 860.9 L998.3 860.5 L1002.3 860.1 L1006.3 859.7 L1010.3 859.3 L1014.3 858.9 L1018.3 858.4 L1022.3 858 L1026.3 857.5 L1030.3 857 L1034.3 856.4 L1038.3 855.7 L1042.3 855 L1046.3 854.1 L1050.3 853 L1054.3 851.9 L1058.3 850.7 L1062.3 849.5 L1066.3 848.3 L1070.3 847.2 L1074.3 846.1 L1078.3 845.1 L1082.3 844.1 L1086.3 843.1 L1090.3 842.1 L1094.3 841.2 L1098.3 840.2 L1102.3 839.3 L1106.3 838.5 L1110.3 837.6 L1114.3 836.9 L1118.3 836.2 L1122.3 835.5 L1126.3 835 L1130.3 834.5 L1134.3 834.1 L1138.3 833.8 L1142.3 833.5 L1146.3 833.3 L1150.3 833.1 L1154.3 833 L1158.3 832.8 L1162.3 832.7 L1166.3 832.5 L1170.3 832.4 L1174.3 832.2 L1178.3 832 L1182.3 831.7 L1186.3 831.5 L1190.3 831.2 L1194.3 831 L1198.3 830.7 L1202.3 830.4 L1206.3 830.1 L1210.3 829.8 L1214.3 829.5 L1218.3 829.2 L1222.3 828.9 L1226.3 828.6 L1230.3 828.3 L1234.3 828 L1238.3 827.7 L1242.3 827.4 L1246.3 827.1 L1250.3 826.9 L1254.3 826.6 L1258.3 826.3 L1262.3 826.1 L1266.3 825.8 L1270.3 825.6 L1274.3 825.4 L1278.3 825.1 L1282.3 824.9 L1286.3 824.6 L1290.3 824.4 L1294.3 824.1 L1298.3 823.9 L1302.3 823.6 L1306.3 823.3 L1310.3 823 L1314.3 822.7 L1318.3 822.3 L1322.3 821.9 L1326.3 821.4 L1330.3 820.9 L1334.3 820.5 L1338.3 820 L1342.3 819.6 L1346.3 819.4 L1350.3 819.2 L1354.3 819.1 L1358.3 819 L1362.3 819 L1366.3 819 L1370.3 819 L1374.3 819 L1378.3 819 L1382.3 819 L1386.3 819 L1390.3 819 L1394.3 819 L1398.3 819 L1402.3 819 L1406.3 819 L1410.3 819 L1414.3 819 L1418.3 819 L1422.3 819 L1426.3 819 L1430.3 819 L1434.3 819 L1438.3 819 L1442.3 819 L1446.3 819 L1450.3 819 L1451 819" stroke="#141414" stroke-width="1.15" fill="none"/><path d="M822.3 873.9 L826.3 873.9 L830.3 873.9 L834.3 873.8 L838.3 873.7 L842.3 873.6 L846.3 873.4 L850.3 873.2 L854.3 873 L858.3 872.7 L862.3 872.3 L866.3 872 L870.3 871.6 L874.3 871.2 L878.3 870.8 L882.3 870.3 L886.3 869.9 L890.3 869.4 L894.3 869 L898.3 868.5 L902.3 868 L906.3 867.6 L910.3 867.1 L914.3 866.6 L918.3 866.2 L922.3 865.7 L926.3 865.1 L930.3 864.6 L934.3 864.1 L938.3 863.5 L942.3 862.9 L946.3 862.3 L950.3 861.6 L954.3 861 L958.3 860.3 L962.3 859.7 L966.3 859 L970.3 858.3 L974.3 857.6 L978.3 856.9 L982.3 856.2 L986.3 855.4 L990.3 854.7 L994.3 854 L998.3 853.2 L1002.3 852.5 L1006.3 851.7 L1010.3 850.9 L1014.3 850.1 L1018.3 849.3 L1022.3 848.4 L1026.3 847.5 L1030.3 846.6 L1034.3 845.7 L1038.3 844.8 L1042.3 843.9 L1046.3 843 L1050.3 842.1 L1054.3 841.2 L1058.3 840.4 L1062.3 839.5 L1066.3 838.8 L1070.3 838 L1074.3 837.3 L1078.3 836.6 L1082.3 835.9 L1086.3 835.3 L1090.3 834.6 L1094.3 834 L1098.3 833.4 L1102.3 832.8 L1106.3 832.2 L1110.3 831.6 L1114.3 831.1 L1118.3 830.5 L1122.3 830 L1126.3 829.5 L1130.3 829 L1134.3 828.5 L1138.3 828.1 L1142.3 827.7 L1146.3 827.2 L1150.3 826.8 L1154.3 826.4 L1158.3 826 L1162.3 825.6 L1166.3 825.3 L1170.3 824.9 L1174.3 824.6 L1178.3 824.2 L1182.3 823.9 L1186.3 823.6 L1190.3 823.3 L1194.3 823.1 L1198.3 822.8 L1202.3 822.6 L1206.3 822.3 L1210.3 822.1 L1214.3 821.9 L1218.3 821.7 L1222.3 821.5 L1226.3 821.3 L1230.3 821.2 L1234.3 821 L1238.3 820.8 L1242.3 820.7 L1246.3 820.5 L1250.3 820.4 L1254.3 820.3 L1258.3 820.2 L1262.3 820.1 L1266.3 819.9 L1270.3 819.8 L1274.3 819.7 L1278.3 819.6 L1282.3 819.5 L1286.3 819.5 L1290.3 819.4 L1294.3 819.3 L1298.3 819.2 L1302.3 819.2 L1306.3 819.1 L1310.3 819.1 L1314.3 819 L1318.3 819 L1322.3 819 L1326.3 819 L1330.3 819 L1334.3 819 L1338.3 819 L1342.3 819 L1346.3 819 L1350.3 819 L1354.3 819 L1358.3 819 L1362.3 819 L1366.3 819 L1370.3 819 L1374.3 819 L1378.3 819 L1382.3 819 L1386.3 819 L1390.3 819 L1394.3 819 L1398.3 819 L1402.3 819 L1406.3 819 L1410.3 819 L1414.3 819 L1418.3 819 L1422.3 819 L1426.3 819 L1430.3 819 L1434.3 819 L1438.3 819 L1442.3 819 L1446.3 819 L1450.3 819 L1451 819" stroke="#5bbd4e" stroke-width="1.15" fill="none"/><path d="M822.3 878.3 L826.3 878.3 L830.3 878.2 L834.3 878 L838.3 877.7 L842.3 877.3 L846.3 876.9 L850.3 876.3 L854.3 875.7 L858.3 875.1 L862.3 874.5 L866.3 873.9 L870.3 873.4 L874.3 872.8 L878.3 872.2 L882.3 871.6 L886.3 871 L890.3 870.4 L894.3 869.8 L898.3 869.2 L902.3 868.5 L906.3 867.9 L910.3 867.2 L914.3 866.5 L918.3 865.8 L922.3 865 L926.3 864.3 L930.3 863.5 L934.3 862.7 L938.3 861.9 L942.3 861.1 L946.3 860.2 L950.3 859.4 L954.3 858.5 L958.3 857.6 L962.3 856.7 L966.3 855.8 L970.3 854.9 L974.3 854 L978.3 853 L982.3 852 L986.3 851 L990.3 850 L994.3 848.9 L998.3 847.8 L1002.3 846.7 L1006.3 845.5 L1010.3 844.3 L1014.3 843 L1018.3 841.7 L1022.3 840.3 L1026.3 839 L1030.3 837.6 L1034.3 836.3 L1038.3 835.1 L1042.3 833.8 L1046.3 832.6 L1050.3 831.5 L1054.3 830.3 L1058.3 829.3 L1062.3 828.2 L1066.3 827.3 L1070.3 826.4 L1074.3 825.5 L1078.3 824.7 L1082.3 824 L1086.3 823.2 L1090.3 822.6 L1094.3 822 L1098.3 821.4 L1102.3 820.9 L1106.3 820.5 L1110.3 820.2 L1114.3 819.9 L1118.3 819.7 L1122.3 819.5 L1126.3 819.3 L1130.3 819.2 L1134.3 819.1 L1138.3 819.1 L1142.3 819 L1146.3 819 L1150.3 819 L1154.3 819 L1158.3 819 L1162.3 819 L1166.3 819 L1170.3 819 L1174.3 819 L1178.3 819 L1182.3 819 L1186.3 819 L1190.3 819 L1194.3 819 L1198.3 819 L1202.3 819 L1206.3 819 L1210.3 819 L1214.3 819 L1218.3 819 L1222.3 819 L1226.3 819 L1230.3 819 L1234.3 819 L1238.3 819 L1242.3 819 L1246.3 819 L1250.3 819 L1254.3 819 L1258.3 819 L1262.3 819 L1266.3 819 L1270.3 819 L1274.3 819 L1278.3 819 L1282.3 819 L1286.3 819 L1290.3 819 L1294.3 819 L1298.3 819 L1302.3 819 L1306.3 819 L1310.3 819 L1314.3 819 L1318.3 819 L1322.3 819 L1326.3 819 L1330.3 819 L1334.3 819 L1338.3 819 L1342.3 819 L1346.3 819 L1350.3 819 L1354.3 819 L1358.3 819 L1362.3 819 L1366.3 819 L1370.3 819 L1374.3 819 L1378.3 819 L1382.3 819 L1386.3 819 L1390.3 819 L1394.3 819 L1398.3 819 L1402.3 819 L1406.3 819 L1410.3 819 L1414.3 819 L1418.3 819 L1422.3 819 L1426.3 819 L1430.3 819 L1434.3 819 L1438.3 819 L1442.3 819 L1446.3 819 L1450.3 819 L1451 819" stroke="#dd3358" stroke-width="1.15" fill="none"/><path d="M822.3 885.7 L826.3 885.7 L830.3 885.6 L834.3 885.5 L838.3 885.4 L842.3 885.2 L846.3 884.9 L850.3 884.6 L854.3 884.2 L858.3 883.9 L862.3 883.5 L866.3 883.1 L870.3 882.7 L874.3 882.3 L878.3 881.9 L882.3 881.5 L886.3 881.1 L890.3 880.6 L894.3 880.2 L898.3 879.7 L902.3 879.2 L906.3 878.7 L910.3 878.1 L914.3 877.5 L918.3 877 L922.3 876.3 L926.3 875.7 L930.3 875 L934.3 874.4 L938.3 873.6 L942.3 872.8 L946.3 872 L950.3 871.2 L954.3 870.2 L958.3 869.3 L962.3 868.3 L966.3 867.2 L970.3 866.1 L974.3 865 L978.3 863.9 L982.3 862.7 L986.3 861.5 L990.3 860.3 L994.3 859 L998.3 857.7 L1002.3 856.4 L1006.3 855 L1010.3 853.5 L1014.3 852 L1018.3 850.4 L1022.3 848.7 L1026.3 847 L1030.3 845.3 L1034.3 843.6 L1038.3 842 L1042.3 840.4 L1046.3 838.9 L1050.3 837.5 L1054.3 836.2 L1058.3 834.9 L1062.3 833.7 L1066.3 832.5 L1070.3 831.4 L1074.3 830.3 L1078.3 829.2 L1082.3 828.2 L1086.3 827.3 L1090.3 826.3 L1094.3 825.3 L1098.3 824.4 L1102.3 823.5 L1106.3 822.5 L1110.3 821.7 L1114.3 820.9 L1118.3 820.3 L1122.3 819.8 L1126.3 819.4 L1130.3 819.2 L1134.3 819.1 L1138.3 819 L1142.3 819 L1146.3 819 L1150.3 819 L1154.3 819 L1158.3 819 L1162.3 819 L1166.3 819 L1170.3 819 L1174.3 819 L1178.3 819 L1182.3 819 L1186.3 819 L1190.3 819 L1194.3 819 L1198.3 819 L1202.3 819 L1206.3 819 L1210.3 819 L1214.3 819 L1218.3 819 L1222.3 819 L1226.3 819 L1230.3 819 L1234.3 819 L1238.3 819 L1242.3 819 L1246.3 819 L1250.3 819 L1254.3 819 L1258.3 819 L1262.3 819 L1266.3 819 L1270.3 819 L1274.3 819 L1278.3 819 L1282.3 819 L1286.3 819 L1290.3 819 L1294.3 819 L1298.3 819 L1302.3 819 L1306.3 819 L1310.3 819 L1314.3 819 L1318.3 819 L1322.3 819 L1326.3 819 L1330.3 819 L1334.3 819 L1338.3 819 L1342.3 819 L1346.3 819 L1350.3 819 L1354.3 819 L1358.3 819 L1362.3 819 L1366.3 819 L1370.3 819 L1374.3 819 L1378.3 819 L1382.3 819 L1386.3 819 L1390.3 819 L1394.3 819 L1398.3 819 L1402.3 819 L1406.3 819 L1410.3 819 L1414.3 819 L1418.3 819 L1422.3 819 L1426.3 819 L1430.3 819 L1434.3 819 L1438.3 819 L1442.3 819 L1446.3 819 L1450.3 819 L1451 819" stroke="#dd3358" stroke-width="1.15" fill="none"/><path d="M822.3 890.5 L826.3 890.5 L830.3 890.4 L834.3 890.3 L838.3 890.1 L842.3 889.8 L846.3 889.4 L850.3 888.9 L854.3 888.4 L858.3 887.9 L862.3 887.3 L866.3 886.6 L870.3 886 L874.3 885.3 L878.3 884.7 L882.3 884.1 L886.3 883.6 L890.3 883 L894.3 882.5 L898.3 882 L902.3 881.5 L906.3 881.1 L910.3 880.6 L914.3 880.1 L918.3 879.6 L922.3 879.1 L926.3 878.7 L930.3 878.2 L934.3 877.7 L938.3 877.3 L942.3 876.8 L946.3 876.3 L950.3 875.9 L954.3 875.5 L958.3 875 L962.3 874.6 L966.3 874.2 L970.3 873.9 L974.3 873.5 L978.3 873.1 L982.3 872.8 L986.3 872.5 L990.3 872.1 L994.3 871.8 L998.3 871.4 L1002.3 871 L1006.3 870.6 L1010.3 870.2 L1014.3 869.7 L1018.3 869.2 L1022.3 868.6 L1026.3 867.9 L1030.3 867.2 L1034.3 866.3 L1038.3 865.3 L1042.3 864.3 L1046.3 863.2 L1050.3 862.1 L1054.3 861 L1058.3 859.9 L1062.3 858.8 L1066.3 857.7 L1070.3 856.6 L1074.3 855.5 L1078.3 854.4 L1082.3 853.3 L1086.3 852.2 L1090.3 851.2 L1094.3 850.1 L1098.3 849.1 L1102.3 848 L1106.3 846.9 L1110.3 845.9 L1114.3 844.9 L1118.3 843.9 L1122.3 843 L1126.3 842.2 L1130.3 841.5 L1134.3 840.9 L1138.3 840.5 L1142.3 840.1 L1146.3 839.8 L1150.3 839.5 L1154.3 839.3 L1158.3 839.1 L1162.3 839 L1166.3 838.8 L1170.3 838.7 L1174.3 838.5 L1178.3 838.4 L1182.3 838.2 L1186.3 838.1 L1190.3 837.9 L1194.3 837.8 L1198.3 837.6 L1202.3 837.4 L1206.3 837.1 L1210.3 836.9 L1214.3 836.6 L1218.3 836.2 L1222.3 835.9 L1226.3 835.5 L1230.3 835.1 L1234.3 834.7 L1238.3 834.3 L1242.3 833.8 L1246.3 833.3 L1250.3 832.9 L1254.3 832.4 L1258.3 831.9 L1262.3 831.3 L1266.3 830.8 L1270.3 830.1 L1274.3 829.5 L1278.3 828.8 L1282.3 828.1 L1286.3 827.3 L1290.3 826.5 L1294.3 825.7 L1298.3 824.9 L1302.3 824.2 L1306.3 823.4 L1310.3 822.7 L1314.3 822.1 L1318.3 821.5 L1322.3 821 L1326.3 820.6 L1330.3 820.3 L1334.3 820 L1338.3 819.7 L1342.3 819.5 L1346.3 819.4 L1350.3 819.2 L1354.3 819.1 L1358.3 819.1 L1362.3 819 L1366.3 819 L1370.3 819 L1374.3 819 L1378.3 819 L1382.3 819 L1386.3 819 L1390.3 819 L1394.3 819 L1398.3 819 L1402.3 819 L1406.3 819 L1410.3 819 L1414.3 819 L1418.3 819 L1422.3 819 L1426.3 819 L1430.3 819 L1434.3 819 L1438.3 819 L1442.3 819 L1446.3 819 L1450.3 819 L1451 819" stroke="#dd3358" stroke-width="1.15" fill="none"/><path d="M822.3 947.6 L826.3 947.5 L830.3 947.4 L834.3 947.2 L838.3 946.8 L842.3 946.3 L846.3 945.7 L850.3 945 L854.3 944.2 L858.3 943.4 L862.3 942.6 L866.3 941.8 L870.3 941 L874.3 940.2 L878.3 939.5 L882.3 938.7 L886.3 938 L890.3 937.2 L894.3 936.4 L898.3 935.5 L902.3 934.7 L906.3 933.8 L910.3 932.9 L914.3 931.9 L918.3 930.9 L922.3 929.9 L926.3 928.8 L930.3 927.7 L934.3 926.6 L938.3 925.4 L942.3 924.3 L946.3 923.1 L950.3 921.9 L954.3 920.7 L958.3 919.6 L962.3 918.4 L966.3 917.3 L970.3 916.1 L974.3 914.9 L978.3 913.8 L982.3 912.6 L986.3 911.4 L990.3 910.2 L994.3 909 L998.3 907.8 L1002.3 906.6 L1006.3 905.3 L1010.3 904 L1014.3 902.8 L1018.3 901.5 L1022.3 900.2 L1026.3 898.8 L1030.3 897.5 L1034.3 896.1 L1038.3 894.6 L1042.3 893.1 L1046.3 891.6 L1050.3 890 L1054.3 888.4 L1058.3 886.7 L1062.3 885.1 L1066.3 883.4 L1070.3 881.8 L1074.3 880.2 L1078.3 878.6 L1082.3 877 L1086.3 875.4 L1090.3 873.8 L1094.3 872.2 L1098.3 870.7 L1102.3 869.1 L1106.3 867.5 L1110.3 865.9 L1114.3 864.2 L1118.3 862.6 L1122.3 860.9 L1126.3 859.3 L1130.3 857.8 L1134.3 856.3 L1138.3 854.9 L1142.3 853.5 L1146.3 852.3 L1150.3 851 L1154.3 849.8 L1158.3 848.7 L1162.3 847.5 L1166.3 846.3 L1170.3 845.2 L1174.3 844.1 L1178.3 843 L1182.3 842 L1186.3 841 L1190.3 840 L1194.3 839.1 L1198.3 838.2 L1202.3 837.4 L1206.3 836.7 L1210.3 836 L1214.3 835.3 L1218.3 834.7 L1222.3 834.2 L1226.3 833.6 L1230.3 833.1 L1234.3 832.7 L1238.3 832.2 L1242.3 831.8 L1246.3 831.3 L1250.3 830.9 L1254.3 830.4 L1258.3 830 L1262.3 829.5 L1266.3 829.1 L1270.3 828.6 L1274.3 828.1 L1278.3 827.6 L1282.3 827.1 L1286.3 826.6 L1290.3 826.1 L1294.3 825.6 L1298.3 825 L1302.3 824.5 L1306.3 824 L1310.3 823.5 L1314.3 822.9 L1318.3 822.4 L1322.3 821.8 L1326.3 821.2 L1330.3 820.6 L1334.3 820.1 L1338.3 819.7 L1342.3 819.4 L1346.3 819.2 L1350.3 819.1 L1354.3 819 L1358.3 819 L1362.3 819 L1366.3 819 L1370.3 819 L1374.3 819 L1378.3 819 L1382.3 819 L1386.3 819 L1390.3 819 L1394.3 819 L1398.3 819 L1402.3 819 L1406.3 819 L1410.3 819 L1414.3 819 L1418.3 819 L1422.3 819 L1426.3 819 L1430.3 819 L1434.3 819 L1438.3 819 L1442.3 819 L1446.3 819 L1450.3 819 L1451 819" stroke="#40c3d4" stroke-width="1.15" fill="none"/><path d="M822.3 1005.8 L826.3 1005.7 L830.3 1005.5 L834.3 1005.1 L838.3 1004.5 L842.3 1003.6 L846.3 1002.5 L850.3 1001.2 L854.3 999.9 L858.3 998.4 L862.3 997 L866.3 995.5 L870.3 994.1 L874.3 992.6 L878.3 991.2 L882.3 989.6 L886.3 988.1 L890.3 986.5 L894.3 984.9 L898.3 983.3 L902.3 981.6 L906.3 979.9 L910.3 978.2 L914.3 976.5 L918.3 974.8 L922.3 973.1 L926.3 971.3 L930.3 969.6 L934.3 967.7 L938.3 965.9 L942.3 964.1 L946.3 962.2 L950.3 960.3 L954.3 958.3 L958.3 956.3 L962.3 954.3 L966.3 952.2 L970.3 950.1 L974.3 947.9 L978.3 945.7 L982.3 943.5 L986.3 941.3 L990.3 939 L994.3 936.7 L998.3 934.4 L1002.3 932.1 L1006.3 929.8 L1010.3 927.4 L1014.3 925 L1018.3 922.6 L1022.3 920.2 L1026.3 917.8 L1030.3 915.4 L1034.3 913.1 L1038.3 910.8 L1042.3 908.5 L1046.3 906.3 L1050.3 904.1 L1054.3 902 L1058.3 899.8 L1062.3 897.7 L1066.3 895.6 L1070.3 893.5 L1074.3 891.4 L1078.3 889.3 L1082.3 887.1 L1086.3 885 L1090.3 882.9 L1094.3 880.8 L1098.3 878.6 L1102.3 876.5 L1106.3 874.3 L1110.3 872.1 L1114.3 869.9 L1118.3 867.6 L1122.3 865.4 L1126.3 863.2 L1130.3 861.2 L1134.3 859.3 L1138.3 857.5 L1142.3 855.9 L1146.3 854.4 L1150.3 853 L1154.3 851.7 L1158.3 850.3 L1162.3 849 L1166.3 847.7 L1170.3 846.5 L1174.3 845.2 L1178.3 844 L1182.3 842.9 L1186.3 841.8 L1190.3 840.8 L1194.3 839.9 L1198.3 839.1 L1202.3 838.4 L1206.3 837.7 L1210.3 837.1 L1214.3 836.7 L1218.3 836.2 L1222.3 835.9 L1226.3 835.5 L1230.3 835.2 L1234.3 834.9 L1238.3 834.7 L1242.3 834.4 L1246.3 834.1 L1250.3 833.9 L1254.3 833.6 L1258.3 833.3 L1262.3 833 L1266.3 832.6 L1270.3 832.2 L1274.3 831.8 L1278.3 831.3 L1282.3 830.7 L1286.3 830.2 L1290.3 829.6 L1294.3 829 L1298.3 828.3 L1302.3 827.7 L1306.3 827 L1310.3 826.4 L1314.3 825.7 L1318.3 825 L1322.3 824.3 L1326.3 823.5 L1330.3 822.8 L1334.3 822 L1338.3 821.3 L1342.3 820.6 L1346.3 820 L1350.3 819.6 L1354.3 819.3 L1358.3 819.1 L1362.3 819.1 L1366.3 819 L1370.3 819 L1374.3 819 L1378.3 819 L1382.3 819 L1386.3 819 L1390.3 819 L1394.3 819 L1398.3 819 L1402.3 819 L1406.3 819 L1410.3 819 L1414.3 819 L1418.3 819 L1422.3 819 L1426.3 819 L1430.3 819 L1434.3 819 L1438.3 819 L1442.3 819 L1446.3 819 L1450.3 819 L1451 819" stroke="#dd3358" stroke-width="1.15" fill="none"/></g><g font-size="8.6" text-anchor="end" fill="#333"><text x="811.5" y="621.9">6</text><text x="811.5" y="714">20</text><text x="811.5" y="738.7">47</text><text x="811.5" y="752.3">13</text><text x="811.5" y="760.4">42</text><text x="811.5" y="767.4">48</text><text x="811.5" y="774.2">15</text><text x="811.5" y="779.6">26</text><text x="811.5" y="782.3">46</text><text x="811.5" y="787">25</text><text x="811.5" y="785.8">35</text><text x="811.5" y="788.3">30</text><text x="811.5" y="801.8">24</text><text x="811.5" y="802.7">21</text><text x="811.5" y="806.2">40</text><text x="811.5" y="809.3">9</text><text x="811.5" y="810.6">5</text><text x="811.5" y="812.2">31</text><text x="811.5" y="818.7">2</text><text x="811.5" y="819.6">19</text><text x="811.5" y="820.2">45</text><text x="811.5" y="822">1</text><text x="811.5" y="825.9">7</text><text x="811.5" y="829.3">16</text><text x="811.5" y="830">12</text><text x="811.5" y="831.6">10</text><text x="811.5" y="833.4">14</text><text x="811.5" y="837.3">37</text><text x="811.5" y="841.5">11</text><text x="811.5" y="842.7">27</text><text x="811.5" y="843.2">43</text><text x="811.5" y="846.8">23</text><text x="811.5" y="852.7">28</text><text x="811.5" y="814">29</text><text x="811.5" y="827.4">50</text><text x="811.5" y="804.5">34</text><text x="811.5" y="839">4</text><text x="811.5" y="866.6">36</text><text x="811.5" y="875.4">39</text><text x="811.5" y="876.9">3</text><text x="811.5" y="881.3">8</text><text x="811.5" y="888.7">32</text><text x="811.5" y="893.5">44</text><text x="811.5" y="950.6">41</text><text x="811.5" y="1008.9">38</text></g>
<line x1="1274.5" y1="607.9" x2="1274.5" y2="1021.4" stroke="#ef4650" stroke-width="1.3" stroke-dasharray="4.2 4.0"/>
<line x1="1419.4" y1="607.9" x2="1419.4" y2="1021.4" stroke="#111" stroke-width="1.3" stroke-dasharray="4.6 3.7"/>
<rect x="797.3" y="603.6" width="679.3" height="417.8" fill="none" stroke="#222" stroke-width="1.35"/>
<line x1="892.08" y1="1021.4" x2="892.08" y2="1032.1" stroke="#222" stroke-width="1.35"/>
<line x1="892.08" y1="599" x2="892.08" y2="603.6" stroke="#222" stroke-width="1.35"/>
<text x="892.08" y="1058.5" font-size="17" text-anchor="middle" fill="#000">−8</text>
<line x1="1065.62" y1="1021.4" x2="1065.62" y2="1032.1" stroke="#222" stroke-width="1.35"/>
<line x1="1065.62" y1="599" x2="1065.62" y2="603.6" stroke="#222" stroke-width="1.35"/>
<text x="1065.62" y="1058.5" font-size="17" text-anchor="middle" fill="#000">−6</text>
<line x1="1239.16" y1="1021.4" x2="1239.16" y2="1032.1" stroke="#222" stroke-width="1.35"/>
<line x1="1239.16" y1="599" x2="1239.16" y2="603.6" stroke="#222" stroke-width="1.35"/>
<text x="1239.16" y="1058.5" font-size="17" text-anchor="middle" fill="#000">−4</text>
<line x1="1412.7" y1="1021.4" x2="1412.7" y2="1032.1" stroke="#222" stroke-width="1.35"/>
<line x1="1412.7" y1="599" x2="1412.7" y2="603.6" stroke="#222" stroke-width="1.35"/>
<text x="1412.7" y="1058.5" font-size="17" text-anchor="middle" fill="#000">−2</text>
<text x="892.08" y="579.4" font-size="17" text-anchor="middle" fill="#000">49</text>
<text x="1065.62" y="579.4" font-size="17" text-anchor="middle" fill="#000">41</text>
<text x="1239.16" y="579.4" font-size="17" text-anchor="middle" fill="#000">23</text>
<text x="1412.7" y="579.4" font-size="17" text-anchor="middle" fill="#000">2</text>
<line x1="786.7" y1="966.44" x2="797.3" y2="966.44" stroke="#222" stroke-width="1.35"/>
<text transform="translate(773,966.44) rotate(-90)" font-size="17" text-anchor="middle" fill="#000">−4</text>
<line x1="786.7" y1="892.72" x2="797.3" y2="892.72" stroke="#222" stroke-width="1.35"/>
<text transform="translate(773,892.72) rotate(-90)" font-size="17" text-anchor="middle" fill="#000">−2</text>
<line x1="786.7" y1="819" x2="797.3" y2="819" stroke="#222" stroke-width="1.35"/>
<text transform="translate(773,819) rotate(-90)" font-size="17" text-anchor="middle" fill="#000">0</text>
<line x1="786.7" y1="745.28" x2="797.3" y2="745.28" stroke="#222" stroke-width="1.35"/>
<text transform="translate(773,745.28) rotate(-90)" font-size="17" text-anchor="middle" fill="#000">2</text>
<line x1="786.7" y1="671.56" x2="797.3" y2="671.56" stroke="#222" stroke-width="1.35"/>
<text transform="translate(773,671.56) rotate(-90)" font-size="17" text-anchor="middle" fill="#000">4</text>
<text x="1120.7" y="1083.8" font-size="17" text-anchor="middle" fill="#000">Log<tspan font-family="Liberation Serif" font-size="19">(<tspan font-size="17">λ</tspan>)</tspan></text>
</svg>
</body></html>
